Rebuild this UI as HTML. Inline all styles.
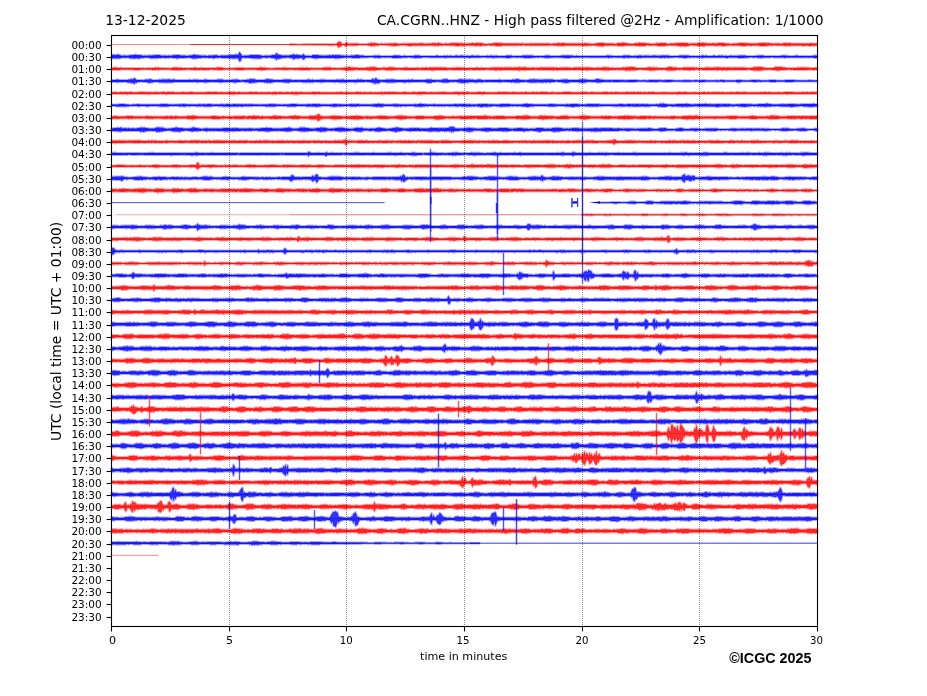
<!DOCTYPE html>
<html><head><meta charset="utf-8"><title>CA.CGRN..HNZ dayplot 13-12-2025</title>
<style>html,body{margin:0;padding:0;background:#fff;width:927px;height:696px;overflow:hidden}svg{display:block;will-change:transform}
text{font-family:'DejaVu Sans',sans-serif;fill:#000;font-variant-ligatures:none;font-feature-settings:'liga' 0,'clig' 0}</style></head><body>
<svg width="927" height="696" viewBox="0 0 927 696">
<rect width="927" height="696" fill="#fff"/>
<g transform="scale(0.5)" stroke-width="4" stroke-opacity="0.33" stroke-linejoin="round">
<path fill="#ff0000" fill-opacity="0.8" stroke="#ff0000" d="M580 89l2-1l2 0l2 0l2 0l2 0l2 1l2 0l2 0l2-1l2 1l2 0l2 0l2-1l2 1l2-1l2 1l2-1l2 1l2-1l2 0l2 0l2 0l2 0l2 0l2 0l2 0l2 0l2 0l2 0l2 0l2 0l2 0l2 0l2 0l2 0l2 0l2 0l2 0l2 0l2 0l2 0l2 0l2 0l2 0l2 0l2 0l2-1l2-2l2-2l2 1l2 1l2 3l2 0l2 0l2 0l2-3l2 0l2 3l2-1l2 1l2-1l2 1l2-1l2 0l2 0l2 0l2 0l2 0l2 1l2 0l2 0l2 0l2 0l2 0l2 0l2 0l2 0l2-1l2 0l2 0l2-1l2 0l2 1l2-1l2 0l2 1l2 0l2 0l2 1l2 0l2-1l2 0l2 1l2 0l2-1l2 0l2 1l2-1l2 0l2 0l2 0l2 0l2 0l2 0l2-1l2 1l2 0l2 0l2 1l2 0l2-1l2 1l2-1l2 0l2 1l2-1l2 0l2 0l2 0l2 0l2 0l2 0l2 0l2 0l2 0l2 0l2 0l2 0l2 0l2 0l2-1l2 1l2 0l2 0l2 1l2-1l2 1l2-1l2 0l2 0l2 0l2 0l2-1l2 1l2-1l2 1l2 0l2-1l2 0l2 1l2 0l2 0l2 1l2 0l2-1l2 0l2 0l2 1l2-1l2 0l2 0l2-1l2 0l2 1l2-1l2 1l2-1l2 0l2 1l2 0l2-1l2 1l2 0l2 0l2 0l2 1l2-1l2 0l2 0l2 0l2 0l2-1l2 0l2 1l2 0l2-1l2 0l2 0l2 1l2-1l2 0l2 1l2 0l2 1l2 0l2 0l2 0l2 0l2-1l2 1l2-1l2 0l2 0l2-1l2 0l2 0l2 0l2 0l2 0l2 1l2-1l2 0l2 1l2 0l2 0l2 0l2 0l2 0l2 0l2 0l2 0l2 0l2 0l2 0l2 0l2 0l2 0l2 0l2 0l2 0l2 0l2 0l2 0l2 1l2-1l2 1l2-1l2 1l2-1l2 0l2 0l2 0l2 0l2 0l2 0l2 0l2 0l2 0l2 0l2 0l2 0l2 0l2 0l2 0l2 0l2 0l2 0l2 0l2 0l2 0l2 1l2 0l2-1l2 0l2 0l2 0l2 0l2-1l2 0l2 1l2 0l2-1l2 0l2 0l2 1l2 0l2 0l2 0l2 0l2 0l2 0l2 0l2 0l2 0l2 0l2 0l2 0l2 0l2 0l2 0l2 0l2 0l2 0l2 0l2-1l2 1l2 0l2 0l2 1l2-1l2 1l2 0l2 0l2 0l2-1l2 0l2 0l2-1l2 0l2 0l2 0l2 0l2 0l2 0l2 1l2 0l2 0l2 0l2 0l2 0l2 0l2 0l2 0l2 1l2 0l2 0l2-1l2-1l2 0l2 1l2-1l2 0l2-1l2 1l2 0l2 0l2 1l2 0l2 1l2-1l2 1l2 0l2 0l2-1l2 0l2-1l2 1l2 0l2-2l2 1l2 0l2 0l2 0l2 0l2 0l2 1l2 0l2 0l2 0l2 0l2 1l2 0l2 0l2-1l2 1l2-1l2-1l2 1l2 0l2-1l2 0l2 0l2 0l2 0l2 0l2 1l2 0l2 1l2 0l2-1l2 0l2 0l2 0l2 0l2 0l2-1l2 1l2-1l2 0l2 0l2 0l2 0l2 0l2 0l2 0l2 0l2 0l2 1l2 0l2 1l2-1l2 0l2 0l2 0l2 0l2 0l2 0l2-1l2 0l2 0l2 0l2 0l2-1l2 1l2 1l2-1l2 1l2 0l2 0l2 0l2 0l2 0l2-1l2 1l2 0l2 0l2 0l2-1l2 0l2 0l2 0l2 0l2 0l2 0l2 1l2 0l2 0l2 0l2 0l2 1l2 0l2 0l2-1l2 0l2 0l2 0l2 0l2 0l2-1l2 0l2 0l2 0l2 0l2 0l2 0l2 1l2 0l2-1l2 1l2 0l2 0l2 0l2 0l2 0l2 0l2 0l2 0l2 0l2-1l2 1l2-1l2 0l2 0l2 0l2 0l2 0l2 1l2-1l2 0l2 1l2 0l2 0l2 0l2 1l2-1l2 0l2 0l2 0l2 0l2 0l2 1l2-1l2 0l2-1l2 0l2 1l2-1l2 1l2-1l2 0l2 1l2 0l2 0l2 0l2 0l2 0l2 0l2 0l2 0l2 0l2 0l2 0l2 0l2 0l2 0l2 0l2 0l2 0l2 0l2 0l2-1l2 1l2 0l2 0l2 0l2 0l2 0l0 4l-2 0l-2 0l-2 1l-2-1l-2 0l-2 1l-2 0l-2 0l-2-1l-2 0l-2 0l-2 0l-2 1l-2 0l-2-1l-2 0l-2 0l-2 0l-2 0l-2 0l-2 0l-2 0l-2 0l-2 0l-2 0l-2 0l-2 1l-2-1l-2 0l-2 1l-2-1l-2 1l-2-1l-2 0l-2 0l-2 0l-2 0l-2 0l-2 0l-2 0l-2 0l-2-1l-2 0l-2 1l-2 0l-2 0l-2 0l-2 0l-2 0l-2 1l-2-1l-2 1l-2 0l-2 0l-2 0l-2 0l-2 0l-2-1l-2 0l-2 0l-2 0l-2 0l-2 0l-2 0l-2 0l-2 1l-2-1l-2 0l-2 0l-2 0l-2 1l-2 0l-2 0l-2 0l-2 0l-2 0l-2-1l-2 0l-2 0l-2 0l-2 0l-2 0l-2 0l-2 0l-2 0l-2 0l-2-1l-2 1l-2 0l-2 0l-2 0l-2 1l-2 0l-2 0l-2 0l-2-1l-2 0l-2 0l-2 0l-2 1l-2-1l-2 1l-2-1l-2 0l-2 0l-2 0l-2 0l-2 0l-2 0l-2 0l-2 0l-2 0l-2 2l-2-1l-2 0l-2 0l-2 0l-2 0l-2 0l-2-1l-2 0l-2 0l-2 0l-2 0l-2-1l-2 0l-2 1l-2 0l-2 1l-2 0l-2 0l-2 1l-2-1l-2 0l-2 0l-2 1l-2-1l-2 0l-2 0l-2-1l-2 0l-2 0l-2 0l-2 0l-2 0l-2 0l-2-1l-2 0l-2 1l-2 0l-2 0l-2 1l-2 0l-2 0l-2 0l-2 0l-2 0l-2 0l-2 0l-2-1l-2 0l-2 0l-2-1l-2 1l-2 0l-2 0l-2 0l-2 0l-2-1l-2 0l-2 1l-2 1l-2 0l-2 0l-2 0l-2 0l-2 0l-2 0l-2 0l-2-1l-2 1l-2-1l-2 0l-2 0l-2 0l-2 0l-2 0l-2 0l-2 0l-2 0l-2 0l-2 0l-2 1l-2 0l-2-1l-2 1l-2 0l-2 0l-2 0l-2-1l-2 0l-2 0l-2 0l-2 0l-2 0l-2-1l-2 1l-2 0l-2 0l-2 0l-2 0l-2 0l-2 1l-2 0l-2 1l-2-1l-2 0l-2 0l-2-1l-2 1l-2-1l-2 0l-2 0l-2-1l-2 1l-2 0l-2 0l-2 0l-2 0l-2 1l-2-1l-2 0l-2 1l-2 0l-2-1l-2 0l-2 0l-2 0l-2 0l-2 0l-2 0l-2 0l-2 0l-2 0l-2 0l-2 0l-2 0l-2 0l-2 0l-2 0l-2 0l-2 0l-2 1l-2-1l-2 1l-2 0l-2-1l-2 0l-2 1l-2-1l-2 0l-2 0l-2 0l-2-1l-2 1l-2-1l-2 1l-2-1l-2 1l-2 0l-2 0l-2 0l-2 0l-2 0l-2 0l-2 0l-2 0l-2 0l-2 0l-2 0l-2 0l-2 0l-2 0l-2 0l-2 0l-2 0l-2 0l-2 0l-2-1l-2 1l-2 0l-2 0l-2-1l-2 0l-2 1l-2 0l-2 0l-2-1l-2 1l-2 0l-2 0l-2 0l-2 0l-2 0l-2 0l-2 0l-2 0l-2 0l-2 0l-2 0l-2 0l-2 0l-2 0l-2 0l-2 0l-2 1l-2 0l-2 0l-2 0l-2 0l-2 0l-2-1l-2 0l-2 0l-2 0l-2 0l-2 0l-2-1l-2 0l-2 1l-2 0l-2 0l-2 0l-2 0l-2 0l-2 1l-2 0l-2-1l-2 0l-2 1l-2-1l-2 1l-2-1l-2 0l-2 0l-2 0l-2 0l-2 0l-2 0l-2 0l-2 0l-2 0l-2 0l-2 1l-2 0l-2-1l-2 0l-2 1l-2 0l-2 0l-2 0l-2-1l-2 0l-2 0l-2 0l-2 0l-2 0l-2 0l-2-1l-2 1l-2 0l-2-1l-2 0l-2 1l-2 0l-2 0l-2 0l-2 0l-2 1l-2-1l-2 0l-2 1l-2-1l-2 0l-2 0l-2 0l-2-1l-2 1l-2 0l-2 0l-2 0l-2 0l-2 0l-2 0l-2 0l-2 0l-2 0l-2 0l-2 0l-2 0l-2 0l-2 0l-2 0l-2 0l-2 0l-2 1l-2 0l-2 0l-2-1l-2 0l-2 0l-2-1l-2 0l-2 0l-2 1l-2-1l-2 0l-2 1l-2 0l-2 0l-2 1l-2 0l-2 0l-2-1l-2 1l-2-1l-2 0l-2 0l-2-1l-2 1l-2-1l-2 0l-2 0l-2 0l-2 0l-2 0l-2 0l-2 0l-2 1l-2 0l-2 0l-2 0l-2 1l-2-1l-2 1l-2 0l-2-1l-2 0l-2 0l-2-1l-2 0l-2 0l-2 0l-2 0l-2 0l-2 0l-2 0l-2 0l-2 0l-2 1l-2 0l-2 0l-2 0l-2 0l-2 0l-2 0l-2 0l-2-1l-2 1l-2 0l-2 2l-2-1l-2-2l-2 0l-2 0l-2 3l-2-1l-2 3l-2-1l-2-4l-2 0l-2 0l-2 0l-2 1l-2-1l-2 1l-2-1l-2 1l-2-1l-2 0l-2 0l-2 0l-2 0l-2 0l-2 0l-2 0l-2 0l-2 0l-2 0l-2 0l-2 0l-2 0l-2 0l-2 0l-2 0l-2-1l-2 1l-2-1l-2 1l-2 0l-2 0l-2 0l-2-1l-2 1l-2 0l-2 0l-2-1l-2 0l-2 1l-2 0l-2 0l-2-1l-2 1l-2 0l-2-1l-2 1l-2 0z"/>
<path fill="#0000ff" fill-opacity="0.8" stroke="#0000ff" d="M223 111l2-1l2-1l2 1l2 0l2 0l2-1l2 0l2 1l2 1l2 0l2 1l2-1l2 0l2 0l2 1l2-1l2 0l2 0l2-1l2 1l2-1l2 0l2 0l2-1l2 1l2 0l2 0l2 0l2 0l2 1l2 0l2 1l2-1l2 0l2 1l2-1l2 0l2 0l2 0l2 0l2 0l2-1l2 1l2-1l2 0l2 0l2 0l2 0l2 1l2 0l2 1l2-1l2 0l2 1l2-1l2 1l2-1l2 0l2 1l2-1l2 0l2-1l2 1l2-1l2 0l2 0l2 0l2 0l2 1l2 0l2 0l2 0l2 0l2 0l2 1l2 0l2-1l2 0l2 0l2 0l2-1l2 0l2-1l2 1l2 0l2 1l2-1l2 1l2 0l2 0l2 1l2-1l2 0l2 0l2 1l2 0l2-1l2 0l2 0l2 0l2 0l2 0l2-1l2 1l2-1l2 1l2 1l2 0l2-1l2 0l2 0l2 0l2 0l2 0l2 0l2 0l2-1l2 1l2-1l2 0l2 0l2 0l2 0l2-1l2 0l2 1l2-1l2-5l2 3l2 3l2 2l2 0l2-1l2 0l2 1l2-1l2 0l2 0l2-1l2 0l2 0l2 0l2 0l2 0l2 0l2 0l2 0l2 0l2 1l2 0l2 1l2 0l2-1l2 1l2-1l2 0l2 1l2-1l2 0l2 0l2-1l2 0l2 0l2-1l2-3l2 3l2 0l2 1l2 0l2 1l2 0l2 0l2 0l2 0l2 0l2 0l2 0l2 0l2-1l2 0l2 0l2-2l2 2l2 0l2-1l2 1l2 0l2 0l2 1l2 0l2-1l2-2l2 3l2 0l2 1l2 0l2-1l2 1l2 0l2 0l2-2l2 0l2 0l2 0l2 0l2 0l2 0l2 1l2 0l2 0l2 0l2 0l2 1l2-1l2 0l2 0l2 0l2-1l2 1l2 0l2-1l2 0l2 1l2-1l2 0l2 1l2-1l2 0l2 1l2 0l2 0l2 0l2 1l2-1l2 0l2 0l2 1l2 0l2-1l2 0l2 0l2 0l2 0l2-1l2 0l2 0l2 0l2 1l2 0l2 0l2 0l2 0l2 1l2 0l2 0l2 0l2 0l2 0l2 0l2 0l2 0l2-1l2 1l2-1l2 0l2 1l2-1l2 0l2 1l2 0l2 0l2 0l2 0l2 0l2 0l2 0l2 0l2 0l2 0l2 0l2 0l2-1l2 0l2 0l2 0l2 0l2 0l2 0l2 1l2 0l2 0l2 0l2-1l2 1l2 0l2 0l2 0l2 0l2 0l2 0l2 0l2 0l2-1l2 0l2 0l2 0l2 0l2 0l2 1l2 0l2 0l2 0l2 0l2 0l2 0l2 0l2 0l2 0l2 0l2 0l2 0l2 0l2 0l2 0l2-1l2 0l2 1l2 0l2 0l2 0l2 0l2 0l2-1l2 1l2 0l2-1l2 1l2 0l2-1l2 1l2 0l2 0l2 0l2-1l2 0l2 0l2 1l2 0l2-1l2 0l2 0l2 1l2 0l2 0l2 0l2-1l2 1l2 0l2 0l2-1l2 0l2 0l2 1l2 0l2-1l2 1l2-1l2 1l2 0l2 0l2 0l2 0l2 0l2 0l2 0l2-1l2 1l2 0l2-1l2 0l2 1l2 0l2-1l2 1l2-1l2 1l2 0l2 0l2 0l2 0l2 0l2 0l2 0l2 0l2-1l2 0l2 0l2 0l2 0l2 0l2 1l2 0l2 0l2 0l2 0l2 0l2 0l2 0l2 0l2 0l2-1l2 0l2 0l2 0l2 0l2 0l2 0l2 0l2 0l2 0l2 0l2 1l2 0l2 0l2 0l2 0l2 0l2 0l2 0l2 0l2 0l2 0l2 0l2-1l2 0l2 0l2 0l2 0l2 1l2 0l2 0l2 0l2 0l2 0l2 0l2 0l2 0l2 0l2 0l2-1l2 0l2 0l2 0l2 0l2 0l2 0l2 0l2 0l2 0l2 0l2 0l2 1l2 0l2 0l2-1l2 1l2 0l2 0l2 0l2 0l2 0l2 0l2 0l2 0l2 0l2 0l2 0l2 0l2 0l2 0l2 0l2 0l2 0l2 0l2 0l2 0l2 0l2 0l2 0l2 0l2 0l2 0l2 0l2 0l2-1l2 0l2 0l2 0l2 1l2-1l2 1l2 0l2 0l2 0l2 0l2 0l2 0l2 0l2 0l2 0l2 0l2-1l2 0l2 0l2 0l2 0l2 0l2 0l2 1l2 0l2 0l2 0l2 0l2-1l2 1l2 0l2-1l2 0l2 0l2 0l2 1l2 0l2-1l2 0l2 1l2-1l2 1l2-1l2 1l2 0l2-1l2 0l2 0l2 0l2 1l2-1l2 1l2-1l2 1l2-1l2 0l2 0l2 0l2 0l2 0l2 0l2 0l2 1l2 0l2 0l2 0l2 0l2 0l2 0l2 0l2 0l2 0l2-1l2 0l2 0l2 0l2 0l2 0l2 0l2 0l2 0l2 0l2 1l2 0l2 0l2 0l2 0l2 0l2 0l2 0l2 0l2 0l2 0l2 0l2-1l2 0l2 0l2 1l2-1l2 0l2 1l2 0l2 0l2 0l2 0l2 0l2-1l2 0l2 1l2 0l2 0l2-1l2 0l2 1l2-1l2 0l2 1l2 0l2-1l2 1l2 0l2 0l2 0l2-1l2 0l2 1l2 0l2-1l2 1l2 0l2-1l2 1l2-1l2 0l2 0l2 0l2 0l2 0l2 0l2 1l2 0l2 0l2 0l2 0l2 0l2 0l2 0l2 0l2 0l2-1l2 1l2-1l2 0l2 0l2 0l2 0l2 0l2 1l2 0l2 0l2 0l2 0l2 0l2 0l2 0l2 0l2 0l2 0l2 0l2 0l2 0l2 0l2 0l2 0l2-1l2 0l2 0l2 0l2 0l2 1l2-1l2 1l2 0l2 0l2 0l2 0l2 0l2 0l2-1l2 0l2 0l2 1l2 0l2 0l2 0l2 0l2 0l2 0l2 0l2 0l2 0l2 0l2 0l2 0l2 0l2 0l2-1l2 0l2 0l2 0l2 0l0 4l-2 1l-2 0l-2 0l-2-1l-2 0l-2 0l-2 0l-2 0l-2 0l-2 0l-2-1l-2 1l-2 0l-2 0l-2 0l-2 0l-2 0l-2 0l-2 0l-2 0l-2 0l-2 0l-2 0l-2 0l-2 0l-2 0l-2 0l-2 0l-2 0l-2 0l-2 0l-2 0l-2 1l-2-1l-2 0l-2 0l-2 0l-2 0l-2 0l-2 0l-2 0l-2 0l-2 0l-2 0l-2-1l-2 0l-2 1l-2 0l-2 0l-2 0l-2 0l-2 0l-2 0l-2 0l-2 1l-2-1l-2 1l-2-1l-2 1l-2-1l-2 0l-2-1l-2 1l-2 0l-2 0l-2-1l-2 0l-2 1l-2 0l-2 0l-2 0l-2 1l-2-1l-2 1l-2 0l-2 0l-2 0l-2 0l-2 0l-2-1l-2 0l-2 0l-2 0l-2 0l-2 0l-2 0l-2 0l-2 0l-2 0l-2 1l-2 0l-2-1l-2 0l-2 0l-2 0l-2 0l-2 0l-2 0l-2 0l-2 0l-2 0l-2 0l-2 0l-2 0l-2 0l-2 0l-2 0l-2 0l-2 0l-2 0l-2 0l-2 0l-2 0l-2 0l-2 1l-2-1l-2 0l-2 0l-2 0l-2 0l-2 0l-2-1l-2 1l-2 0l-2-1l-2 1l-2 0l-2 0l-2 0l-2 0l-2 1l-2 0l-2 0l-2 0l-2-1l-2 0l-2 0l-2 0l-2 0l-2-1l-2 0l-2 1l-2-1l-2 1l-2 0l-2 0l-2 0l-2 0l-2 1l-2-1l-2 0l-2 0l-2 1l-2-1l-2 0l-2 1l-2 0l-2-1l-2 0l-2 0l-2 0l-2 0l-2 0l-2 0l-2 0l-2 0l-2 0l-2 0l-2 0l-2 0l-2 0l-2 0l-2 0l-2 0l-2 0l-2 0l-2 1l-2-1l-2 1l-2 0l-2-1l-2 0l-2 0l-2 0l-2 0l-2 0l-2 0l-2 0l-2 1l-2-1l-2 0l-2 0l-2 1l-2 0l-2-1l-2 0l-2 0l-2 0l-2 0l-2 0l-2 0l-2 0l-2-1l-2 1l-2 0l-2 0l-2 0l-2 0l-2 1l-2-1l-2 0l-2 0l-2 0l-2 0l-2 0l-2 0l-2 0l-2 0l-2 0l-2 0l-2 0l-2 0l-2 0l-2 0l-2 0l-2 0l-2 0l-2 0l-2 0l-2-1l-2 1l-2-1l-2 1l-2 0l-2 0l-2 0l-2-1l-2 1l-2 0l-2 0l-2 0l-2 0l-2 0l-2 0l-2 0l-2 0l-2 0l-2 1l-2 0l-2 0l-2 0l-2 0l-2-1l-2 1l-2-1l-2 0l-2 0l-2 0l-2 0l-2-1l-2 1l-2-1l-2 1l-2 0l-2 0l-2 0l-2 0l-2 1l-2-1l-2 1l-2-1l-2 1l-2-1l-2 0l-2-1l-2 1l-2-1l-2 0l-2 1l-2 0l-2-1l-2 1l-2 0l-2 0l-2 0l-2 1l-2-1l-2 1l-2 0l-2-1l-2 1l-2 0l-2 0l-2-1l-2 0l-2 0l-2 0l-2-1l-2 1l-2 0l-2 0l-2 0l-2-1l-2 0l-2 1l-2 0l-2 0l-2 1l-2 0l-2 0l-2 0l-2-1l-2 0l-2 0l-2 0l-2 0l-2-1l-2 1l-2 0l-2 0l-2 0l-2 0l-2 0l-2 1l-2-1l-2 0l-2 0l-2 0l-2 0l-2 0l-2 0l-2 0l-2-1l-2 0l-2 1l-2-1l-2 1l-2 0l-2 0l-2 0l-2 0l-2 0l-2 0l-2 0l-2 0l-2 0l-2 0l-2 1l-2-1l-2 0l-2 0l-2 0l-2 0l-2 0l-2 0l-2 0l-2 0l-2 0l-2 0l-2 0l-2 0l-2 0l-2 0l-2 0l-2 0l-2 0l-2 0l-2 0l-2 0l-2 0l-2 0l-2 1l-2-1l-2 0l-2 0l-2 0l-2 0l-2 0l-2 0l-2 0l-2 0l-2 0l-2 0l-2 0l-2 0l-2 0l-2 0l-2 0l-2 0l-2-1l-2 0l-2 1l-2-1l-2 0l-2 1l-2 0l-2 1l-2-1l-2 1l-2-1l-2 1l-2 0l-2 0l-2-1l-2 0l-2 0l-2 0l-2-1l-2 0l-2 1l-2 0l-2 0l-2 0l-2 0l-2 0l-2 0l-2 1l-2-1l-2 1l-2 0l-2 0l-2 0l-2 0l-2 0l-2 0l-2-1l-2-1l-2 1l-2-1l-2 1l-2-1l-2 1l-2 0l-2-1l-2 1l-2 0l-2 0l-2 1l-2 0l-2-1l-2 0l-2 1l-2-1l-2 0l-2-1l-2 0l-2 0l-2 1l-2-1l-2 1l-2 0l-2 0l-2 0l-2 0l-2 0l-2 0l-2 0l-2 1l-2 0l-2 0l-2 0l-2 0l-2 0l-2 0l-2 0l-2-1l-2 0l-2 0l-2 0l-2 0l-2 0l-2 0l-2 0l-2 0l-2 1l-2 0l-2 0l-2 0l-2 1l-2-1l-2 1l-2 0l-2-1l-2 0l-2 0l-2 0l-2 0l-2 0l-2 0l-2 0l-2 0l-2 0l-2 0l-2-1l-2 1l-2 0l-2 0l-2 0l-2 0l-2 1l-2-1l-2 1l-2 0l-2-1l-2 0l-2-1l-2 0l-2 0l-2 0l-2 0l-2 0l-2 0l-2 3l-2 1l-2-1l-2-3l-2 1l-2 0l-2 1l-2 0l-2-1l-2 1l-2 0l-2 2l-2-3l-2 0l-2 0l-2-1l-2 0l-2 0l-2 0l-2 0l-2 1l-2-1l-2 1l-2 0l-2 1l-2 0l-2 1l-2-1l-2 3l-2-3l-2 0l-2-1l-2 0l-2 0l-2-1l-2 0l-2 0l-2 0l-2 1l-2-1l-2 0l-2 0l-2 0l-2 1l-2 1l-2 0l-2 0l-2 0l-2 0l-2 0l-2 0l-2-1l-2 1l-2-1l-2 0l-2 0l-2-1l-2 0l-2 1l-2 0l-2-1l-2 0l-2 0l-2 2l-2 5l-2 1l-2-6l-2 0l-2-1l-2 1l-2 0l-2 0l-2 0l-2-1l-2 1l-2 0l-2-1l-2 0l-2 0l-2 0l-2 0l-2 0l-2 0l-2 0l-2-1l-2 0l-2 0l-2 1l-2-1l-2 1l-2 0l-2 1l-2-1l-2-1l-2 1l-2 0l-2 0l-2-1l-2 0l-2 1l-2-1l-2 0l-2 0l-2 1l-2 0l-2 0l-2 0l-2 0l-2 1l-2 0l-2 0l-2 0l-2 0l-2-1l-2 0l-2-1l-2 0l-2 0l-2 1l-2-1l-2 1l-2 0l-2 0l-2 0l-2 0l-2 0l-2 0l-2 1l-2 0l-2-1l-2 0l-2 0l-2 0l-2-1l-2 0l-2 0l-2 1l-2-1l-2 1l-2 0l-2 0l-2-1l-2 0l-2 1l-2 0l-2 0l-2 0l-2 0l-2 1l-2-1l-2 0l-2 1l-2-1l-2 1l-2-1l-2 0l-2-1l-2 0l-2 0l-2 0l-2 0l-2 1l-2-1l-2 1l-2 0l-2 1l-2 0l-2 0l-2-1l-2 1l-2 0l-2 0l-2 0l-2-1l-2 1l-2-1l-2-1l-2 0l-2 0l-2 1l-2-1l-2 0l-2 0l-2 1l-2 0l-2 1l-2 0l-2-1l-2 1l-2 0l-2-1l-2 1l-2 0l-2 0z"/>
<path fill="#ff0000" fill-opacity="0.8" stroke="#ff0000" d="M223 136l2 0l2-1l2 0l2 0l2 0l2 1l2 0l2 0l2-1l2 1l2 0l2 0l2 0l2 0l2 0l2 0l2 0l2 0l2 0l2 0l2 0l2 0l2 0l2 0l2 0l2 0l2 0l2 0l2 0l2 0l2 0l2 0l2 1l2 0l2-1l2 0l2 0l2 0l2 0l2 0l2 0l2 0l2 0l2-1l2 1l2-1l2 0l2 1l2 0l2 0l2 0l2 0l2 0l2 0l2 1l2-1l2 0l2 1l2 0l2-1l2 0l2-1l2 0l2 0l2 0l2 0l2 1l2 0l2-1l2 1l2 0l2 0l2 0l2 0l2 0l2 0l2 1l2-1l2 0l2 0l2 0l2 0l2-1l2 0l2 1l2 0l2 0l2 0l2 0l2-1l2 1l2 0l2 0l2 0l2 0l2 0l2 0l2 0l2 0l2 0l2 0l2 0l2 0l2 0l2-1l2 0l2 0l2 0l2 0l2 0l2 1l2 0l2 0l2 1l2 0l2 0l2 0l2-1l2 0l2 1l2 0l2-1l2 0l2 0l2 0l2 0l2-1l2 1l2 0l2-1l2 1l2 0l2 0l2 1l2-1l2 1l2-1l2 0l2 0l2 0l2 0l2 1l2-1l2 0l2 0l2 0l2 0l2-1l2 0l2 0l2 0l2 1l2-1l2 1l2 0l2 0l2 0l2 1l2 0l2 0l2 0l2 0l2-1l2 0l2 0l2 0l2 0l2 0l2 0l2 0l2 0l2-1l2 1l2-1l2 1l2 0l2 0l2 0l2 0l2 0l2 1l2-1l2 0l2 0l2 0l2 0l2 0l2 0l2-1l2 1l2-1l2 1l2 0l2 0l2-1l2 1l2 0l2 0l2 0l2 0l2 0l2 1l2-1l2 1l2-1l2 1l2-1l2 0l2 1l2-1l2 0l2 0l2-1l2 0l2 0l2 0l2 0l2 0l2 0l2 1l2 0l2 0l2 0l2 0l2 0l2 1l2 0l2-1l2 0l2 0l2 0l2 0l2-1l2 1l2-1l2 0l2-1l2 0l2 1l2 0l2 0l2 0l2 1l2-1l2 0l2 1l2 0l2 0l2 0l2 0l2 0l2 0l2 0l2 0l2-1l2 0l2 0l2 0l2-1l2 1l2-1l2 1l2-1l2 1l2 0l2 1l2 0l2 0l2 0l2 0l2 0l2-1l2 0l2 1l2 0l2-1l2 0l2 0l2-1l2 1l2 0l2 0l2 0l2 1l2 0l2 0l2 0l2 0l2 0l2 0l2 0l2 0l2-1l2 0l2 1l2-1l2 1l2 0l2 0l2 0l2 0l2 0l2 0l2 0l2 0l2-1l2 1l2 0l2 0l2 0l2-1l2 1l2 0l2-1l2 0l2 1l2 0l2-1l2 0l2 0l2 0l2 0l2 0l2 0l2 0l2 0l2 0l2 0l2 0l2 0l2 0l2 1l2-1l2 0l2 1l2 0l2 0l2 0l2 0l2 0l2 0l2-1l2 1l2 0l2-1l2 0l2 1l2-1l2 0l2 1l2 0l2-1l2 1l2 0l2 0l2 0l2 0l2 0l2 0l2 0l2 0l2 0l2 0l2 0l2-1l2 0l2 1l2 0l2 0l2-1l2 1l2 0l2 0l2 0l2 0l2 0l2 0l2 0l2 0l2-1l2 1l2-1l2 0l2 0l2 0l2 0l2 0l2 0l2 0l2 0l2 0l2 1l2-1l2 0l2 0l2 0l2 0l2 0l2 0l2 0l2 1l2-1l2 0l2 0l2 0l2 0l2 0l2-1l2 1l2 0l2 0l2 0l2-1l2 1l2 0l2 1l2 0l2-1l2 1l2 0l2-1l2 0l2 1l2 0l2-1l2 1l2 0l2-1l2 0l2 0l2 0l2 0l2 0l2 0l2 0l2 0l2 0l2 1l2-1l2 0l2 0l2 0l2 0l2 1l2-1l2 1l2 0l2 0l2-1l2 1l2-1l2 0l2 0l2 0l2 0l2 0l2 1l2-1l2 1l2 0l2 0l2 0l2-1l2 0l2 0l2 0l2 0l2 0l2 0l2 1l2-1l2 0l2 0l2 0l2 0l2 0l2 0l2 0l2 1l2-1l2 1l2 0l2 0l2 0l2 0l2-1l2 0l2 1l2 0l2-1l2 0l2 0l2-1l2 1l2 0l2 0l2 0l2 0l2 1l2 0l2-1l2 1l2 0l2 0l2 0l2 0l2 0l2 0l2 0l2 0l2-1l2 0l2 0l2 0l2 0l2-1l2 1l2-1l2 0l2 0l2 0l2 0l2 1l2 0l2 1l2 0l2 0l2 0l2 0l2 0l2 0l2 0l2 0l2 0l2 0l2-1l2 0l2-1l2 1l2 0l2 0l2 0l2 0l2 1l2-1l2 1l2 0l2 0l2 0l2 0l2 0l2 0l2 0l2 0l2 0l2-1l2-1l2 0l2 0l2 0l2 1l2 0l2 0l2 0l2 0l2 1l2 0l2 0l2 0l2 0l2 0l2-1l2 0l2 0l2 0l2 0l2 0l2 0l2 0l2 0l2 0l2 0l2 0l2 1l2-1l2 1l2 0l2 0l2 0l2 0l2 0l2 0l2 0l2-1l2 0l2 0l2 0l2 0l2 1l2-1l2 1l2-1l2 0l2 0l2 0l2-1l2 1l2 0l2 0l2 0l2 0l2 0l2 0l2 1l2-1l2 0l2 0l2 0l2 1l2-1l2 0l2 1l2-1l2 0l2 0l2 1l2-1l2 0l2 0l2 0l2 0l2 0l2 1l2-1l2 1l2 0l2 0l2 0l2 0l2 0l2-1l2 0l2-1l2 0l2 1l2-1l2 0l2 0l2 0l2 0l2 1l2 0l2 0l2 1l2 0l2 0l2 0l2 0l2 0l2 0l2 0l2 0l2-1l2-1l2 0l2 0l2 0l2 0l2 0l2 0l2 1l2 0l2 0l2 0l2 1l2 0l2 0l2 0l2 0l2 0l2 0l2 0l2 0l2 0l2 0l2-1l2 0l2 1l2-1l2 0l2 0l2 0l2 0l2 0l2 0l2 1l2-1l2 1l2 0l2 0l2 0l2 0l2 0l2-1l2 1l2 0l0 4l-2 0l-2-1l-2 1l-2 0l-2 0l-2-1l-2 0l-2 1l-2-1l-2 1l-2 0l-2 0l-2 0l-2 0l-2 0l-2 0l-2 0l-2 0l-2 0l-2 0l-2 0l-2 0l-2 0l-2 0l-2-1l-2 1l-2-1l-2 0l-2 0l-2 0l-2 1l-2-1l-2 1l-2 0l-2 0l-2 0l-2 0l-2 1l-2 0l-2 0l-2 0l-2-1l-2 0l-2 0l-2 0l-2-1l-2 0l-2 0l-2 0l-2 0l-2 1l-2-1l-2 0l-2 1l-2 0l-2 1l-2 0l-2 0l-2 0l-2 0l-2 0l-2 0l-2 0l-2 0l-2-1l-2 0l-2 0l-2-1l-2 0l-2 0l-2 1l-2 0l-2 0l-2 0l-2 0l-2 0l-2 0l-2 0l-2 0l-2 0l-2 0l-2 0l-2 0l-2 0l-2-1l-2 1l-2 0l-2 0l-2 0l-2 0l-2 1l-2-1l-2 0l-2 0l-2 1l-2-1l-2 0l-2 0l-2 0l-2 1l-2-1l-2 0l-2 0l-2 0l-2 0l-2 0l-2 0l-2 0l-2 0l-2 0l-2 0l-2 0l-2 0l-2 0l-2 0l-2-1l-2 0l-2 1l-2 0l-2-1l-2 0l-2 0l-2 1l-2 0l-2 0l-2 0l-2 0l-2 1l-2-1l-2 0l-2 0l-2 0l-2 0l-2 0l-2-1l-2 0l-2 0l-2 1l-2-1l-2 0l-2 1l-2 0l-2 1l-2 0l-2 0l-2 0l-2 0l-2 0l-2 0l-2 0l-2-1l-2 0l-2-1l-2 0l-2 0l-2 1l-2-1l-2 0l-2 1l-2 0l-2-1l-2 1l-2 1l-2-1l-2 1l-2 0l-2 0l-2 0l-2-1l-2 0l-2 0l-2 0l-2-1l-2 1l-2-1l-2 0l-2 0l-2 0l-2 0l-2 1l-2 0l-2 0l-2 1l-2-1l-2 1l-2-1l-2 1l-2 0l-2-1l-2 1l-2 0l-2 0l-2-1l-2 0l-2-1l-2 1l-2 0l-2-1l-2 1l-2-1l-2 0l-2 1l-2 0l-2-1l-2 1l-2 0l-2 0l-2 0l-2 1l-2 0l-2-1l-2 1l-2-1l-2 1l-2-1l-2 0l-2 0l-2 0l-2-1l-2 1l-2 0l-2-1l-2 1l-2 0l-2 0l-2 0l-2 0l-2 0l-2 0l-2 1l-2-1l-2 0l-2 0l-2 0l-2 1l-2-1l-2 0l-2 0l-2 0l-2-1l-2 1l-2 0l-2 0l-2 0l-2 0l-2-1l-2 1l-2 0l-2 0l-2 0l-2 0l-2 0l-2 0l-2 0l-2 0l-2 0l-2 0l-2 0l-2 0l-2 1l-2-1l-2 0l-2 0l-2 1l-2-1l-2 0l-2 0l-2 0l-2 0l-2 0l-2 0l-2 0l-2 0l-2 0l-2 0l-2 0l-2 0l-2 0l-2 0l-2 0l-2-1l-2 0l-2 1l-2-1l-2 1l-2 0l-2 0l-2 0l-2 0l-2 0l-2 0l-2 0l-2 1l-2-1l-2 0l-2 0l-2 0l-2 1l-2 0l-2-1l-2 0l-2 0l-2 0l-2 0l-2 0l-2 0l-2 0l-2 0l-2 0l-2 0l-2 0l-2 0l-2 0l-2 0l-2 0l-2 0l-2 1l-2-1l-2 0l-2 0l-2 1l-2 0l-2-1l-2 0l-2 0l-2 0l-2-1l-2 1l-2-1l-2 0l-2 0l-2 0l-2 1l-2 0l-2 0l-2-1l-2 1l-2 0l-2 0l-2-1l-2 1l-2 0l-2 0l-2 0l-2 0l-2-1l-2 0l-2 1l-2-1l-2 1l-2 0l-2 0l-2 0l-2-1l-2 1l-2 0l-2 0l-2 0l-2 0l-2 0l-2 0l-2 0l-2 0l-2 0l-2 0l-2-1l-2 1l-2-1l-2 0l-2 1l-2 0l-2 0l-2 0l-2 0l-2 0l-2 0l-2 0l-2 0l-2 0l-2 0l-2 0l-2 0l-2 0l-2 1l-2 0l-2 0l-2-1l-2 0l-2 0l-2 0l-2 0l-2 0l-2 0l-2 0l-2 0l-2 0l-2-1l-2 0l-2 1l-2 0l-2-1l-2 1l-2 0l-2 0l-2 0l-2 0l-2 0l-2 0l-2 0l-2 0l-2 0l-2 0l-2 0l-2 0l-2-1l-2 1l-2-1l-2 0l-2 0l-2 0l-2 1l-2-1l-2 1l-2 0l-2 0l-2 1l-2-1l-2 0l-2 1l-2-1l-2 0l-2 0l-2-1l-2 0l-2 0l-2 0l-2 0l-2 1l-2 0l-2 0l-2 0l-2 1l-2 0l-2 0l-2 0l-2-1l-2 1l-2 0l-2 0l-2-1l-2 0l-2 0l-2 0l-2-1l-2 1l-2 0l-2-1l-2 1l-2 0l-2-1l-2 0l-2 0l-2 1l-2 0l-2 1l-2-1l-2 1l-2-1l-2 1l-2 0l-2 0l-2 0l-2-1l-2-1l-2 1l-2-1l-2 0l-2 0l-2 0l-2 0l-2 0l-2 0l-2 0l-2 0l-2 0l-2 0l-2 1l-2 0l-2 0l-2 0l-2 0l-2 0l-2 0l-2 0l-2-1l-2 0l-2 0l-2 0l-2 0l-2 0l-2 0l-2 0l-2 0l-2 0l-2 0l-2 0l-2 0l-2 1l-2 0l-2 0l-2 0l-2 0l-2 0l-2 0l-2 0l-2 0l-2 0l-2-1l-2 1l-2-1l-2 0l-2 0l-2 1l-2-1l-2 0l-2 0l-2 0l-2 0l-2 0l-2 1l-2-1l-2 1l-2-1l-2 1l-2-1l-2 0l-2 0l-2 0l-2 0l-2 0l-2 0l-2 0l-2 0l-2 0l-2 0l-2 0l-2 0l-2 0l-2 0l-2 0l-2 0l-2 1l-2 0l-2 0l-2 0l-2 1l-2-1l-2 0l-2 0l-2 0l-2-1l-2 0l-2 0l-2 0l-2 0l-2 0l-2 0l-2 0l-2 0l-2 0l-2 0l-2 0l-2 0l-2 1l-2 0l-2 0l-2 0l-2 0l-2 0l-2 0l-2 0l-2-1l-2 0l-2 0l-2 0l-2 0l-2 0l-2 0l-2 0l-2 0l-2 0l-2 0l-2 0l-2 0l-2 1l-2 0l-2 0l-2 0l-2 0l-2 0l-2-1l-2 0l-2 1l-2-1l-2 0l-2 0l-2 0l-2 0l-2 1l-2 0l-2-1l-2 1l-2 0l-2 0l-2 0l-2-1l-2 0l-2 1l-2 0l-2-1l-2 1l-2 0l-2 0l-2 0l-2-1l-2 1l-2-1l-2 0l-2 0l-2 0l-2 0l-2 0l-2 1l-2-1l-2 1l-2 0l-2 0l-2 0l-2 0l-2 0l-2 0l-2 0l-2 0l-2 0l-2 0l-2 0l-2-1l-2 0l-2 0l-2 0l-2 0l-2 0l-2 0l-2 0l-2 0l-2 0l-2 0l-2 0l-2 1l-2-1l-2 0l-2 1l-2 0l-2 0l-2 0l-2-1l-2 0l-2 0l-2 0l-2 0l-2 0l-2 0l-2 0l-2 0l-2 0l-2 0l-2 0l-2 1l-2 0l-2 0l-2 0l-2 0l-2 0l-2-1l-2 0l-2 0l-2 0l-2 0l-2 0l-2 0l-2 0l-2 0l-2 0l-2 0l-2 0l-2 0l-2 0l-2 1l-2 0l-2 0l-2 0l-2 0l-2 0l-2 0l-2 0l-2 0z"/>
<path fill="#0000ff" fill-opacity="0.8" stroke="#0000ff" d="M223 160l2 0l2 0l2 0l2 0l2-1l2 0l2 0l2 1l2 0l2 0l2 0l2 0l2 0l2 0l2 0l2 0l2-1l2 0l2 0l2-1l2 1l2-1l2-2l2 2l2 2l2 0l2 0l2 0l2 0l2 0l2 0l2 1l2-1l2-1l2 0l2 0l2 0l2 0l2-1l2 1l2 1l2 0l2 1l2-1l2 0l2 0l2 0l2-1l2 1l2-1l2 0l2 0l2 0l2 0l2 0l2 0l2 0l2-1l2 2l2 0l2-1l2 0l2 0l2 1l2 0l2 0l2 0l2 0l2 0l2 0l2 0l2 0l2 0l2 0l2 0l2 0l2 0l2-1l2 1l2 0l2 0l2-1l2 1l2-1l2 1l2-1l2 1l2 0l2 0l2 0l2 0l2 0l2-1l2 0l2 0l2 1l2 0l2 0l2 0l2 0l2 0l2 0l2 0l2 0l2 0l2-1l2 0l2 0l2 0l2 0l2 0l2 1l2 1l2-1l2 0l2 1l2-1l2 0l2 0l2 0l2-1l2 1l2-1l2 0l2 0l2 0l2 1l2 0l2 1l2 0l2-1l2 0l2 0l2 0l2 0l2-1l2 0l2 0l2-1l2 0l2 1l2-1l2 1l2 0l2 1l2 0l2 0l2 0l2 0l2 0l2 0l2 0l2 0l2-1l2-1l2 1l2-1l2 1l2 0l2 0l2 0l2 1l2 0l2 0l2 0l2 0l2 0l2 0l2 0l2 0l2 0l2-1l2 0l2 0l2 0l2 0l2 0l2 0l2 0l2 1l2 1l2-1l2 0l2 0l2 0l2 0l2 0l2 1l2-1l2 0l2 0l2 0l2 0l2 0l2 0l2-1l2 0l2 0l2 1l2 0l2-1l2 1l2 0l2 0l2 0l2 0l2 0l2 0l2-1l2 1l2-1l2 1l2-1l2 1l2 0l2 0l2 0l2 0l2 0l2 0l2 0l2 0l2 0l2 0l2-1l2 1l2-1l2 1l2-1l2 1l2-1l2 0l2 1l2 0l2 0l2 0l2 0l2 0l2 0l2 0l2 0l2 0l2 0l2 0l2 0l2-1l2 0l2 1l2-1l2 0l2 1l2 0l2 0l2 0l2 0l2 0l2 0l2 0l2 0l2 0l2-3l2 2l2 0l2-3l2 1l2 3l2-1l2 1l2 0l2 1l2-1l2 0l2 0l2 0l2-1l2 0l2 1l2-1l2 0l2 0l2 0l2 0l2 0l2 1l2 0l2 0l2 0l2 0l2 0l2 0l2 0l2 0l2 0l2 0l2 0l2 0l2-1l2 1l2 0l2-1l2 0l2 1l2 0l2 0l2 0l2 0l2 0l2 0l2 0l2 0l2 0l2 0l2 0l2 0l2-1l2 0l2 0l2 0l2 0l2 0l2 1l2 0l2 0l2 1l2-1l2 0l2 1l2-1l2 1l2-1l2-1l2 0l2-1l2 1l2-1l2 1l2 1l2 0l2 0l2 1l2-1l2 0l2 0l2 0l2 0l2 0l2-1l2 0l2-1l2 1l2 0l2 0l2 0l2 0l2 0l2 1l2-1l2 0l2 0l2 1l2-1l2 1l2 0l2 0l2 0l2-1l2 0l2 0l2 0l2 1l2 0l2 1l2 0l2-1l2 0l2 0l2 0l2 0l2 0l2 0l2 0l2 0l2 0l2 0l2 0l2 0l2 0l2-1l2 1l2 0l2 1l2-1l2 0l2 0l2 0l2 0l2 0l2 0l2 0l2 0l2-1l2 0l2 1l2-1l2-1l2 0l2 1l2 0l2 1l2 0l2 0l2 1l2-1l2 1l2 0l2-1l2 0l2-1l2 0l2 0l2 0l2-1l2 1l2 0l2 0l2 0l2 1l2-1l2 1l2-1l2 1l2-1l2 0l2 0l2 0l2 0l2 0l2 0l2 0l2 0l2 0l2 1l2 0l2 0l2 1l2-1l2 0l2 0l2 0l2-1l2 1l2-1l2 0l2 0l2 0l2 0l2 1l2 0l2 0l2 0l2 0l2 0l2 0l2 0l2 0l2 0l2 0l2-1l2 0l2 0l2-1l2 1l2 0l2 0l2 0l2 1l2 0l2 0l2 0l2 0l2 0l2 0l2 0l2-1l2-1l2 0l2 0l2 1l2 0l2 1l2-1l2 1l2 0l2 1l2-1l2 1l2-1l2 1l2-1l2 0l2 1l2-1l2 0l2 0l2 0l2 0l2 0l2 0l2 1l2-1l2 0l2 0l2 1l2 0l2-1l2 1l2-1l2 0l2 0l2 0l2 0l2 0l2 0l2 0l2 0l2 0l2 1l2 0l2 0l2 0l2 0l2 0l2-1l2 1l2 0l2 0l2 0l2-1l2 0l2 0l2 0l2 0l2 1l2-1l2 0l2 0l2 1l2-1l2 1l2-1l2 1l2 0l2 0l2-1l2 0l2 0l2 0l2 0l2 0l2 0l2 0l2 1l2 0l2 0l2 0l2 0l2 0l2 0l2 0l2 0l2 0l2 0l2-1l2 1l2-1l2 1l2 0l2-1l2 1l2 0l2 0l2 0l2 0l2-1l2 0l2 1l2 0l2 0l2-1l2 1l2-1l2 0l2 1l2-1l2 1l2 0l2 0l2 0l2 0l2 0l2 0l2 0l2 0l2 0l2-1l2 1l2 0l2 0l2-1l2 0l2 0l2 0l2 1l2 0l2 0l2 0l2 0l2 0l2 0l2 0l2 0l2 0l2 0l2 0l2-1l2 0l2 0l2 0l2 0l2 0l2 1l2 0l2 0l2 0l2 0l2 0l2 0l2 0l2 0l2-1l2 0l2 0l2 0l2 0l2 1l2-1l2 0l2 1l2 0l2 0l2 0l2 0l2 0l2 0l2 0l2 0l2 0l2-1l2 0l2 0l2 0l2 0l2 0l2 0l2 1l2 0l2 0l2 0l2 0l2 0l2 0l2 0l2 0l2-1l2 0l2 0l2 0l2 0l2 0l2 0l2 0l2 0l2 0l2 1l2 0l2 0l2 0l2 0l2 0l2 0l2 0l2 0l2 0l2 0l2 0l2 0l2-1l2 1l2-1l2 1l2 0l2 0l2 0l2 0l2 0l2 0l0 2l-2 0l-2 0l-2 0l-2 0l-2 0l-2 0l-2 0l-2 0l-2 0l-2 0l-2 0l-2 0l-2 0l-2 0l-2 0l-2 0l-2 0l-2 0l-2 0l-2 0l-2 0l-2 0l-2 0l-2 0l-2 1l-2 0l-2 0l-2 0l-2 0l-2 0l-2 0l-2 0l-2-1l-2 0l-2 0l-2 0l-2 0l-2 0l-2 0l-2 0l-2 0l-2 1l-2 0l-2 0l-2 0l-2 0l-2 0l-2-1l-2 0l-2 0l-2 0l-2 0l-2 0l-2 0l-2 0l-2 0l-2 1l-2-1l-2 0l-2 0l-2 1l-2 0l-2 0l-2 0l-2-1l-2 0l-2 0l-2 0l-2 0l-2 0l-2 0l-2 0l-2 0l-2 0l-2 0l-2 0l-2 1l-2 1l-2-1l-2 1l-2-1l-2-1l-2 0l-2 0l-2 0l-2 0l-2 0l-2 0l-2 0l-2 0l-2 0l-2 0l-2 1l-2 0l-2-1l-2 0l-2 0l-2 0l-2 0l-2 1l-2-1l-2 0l-2 0l-2 0l-2 0l-2 0l-2 0l-2 0l-2 0l-2 0l-2 0l-2 0l-2 1l-2 0l-2 0l-2 0l-2 0l-2 0l-2-1l-2 0l-2 0l-2 0l-2 0l-2 0l-2 0l-2 0l-2 0l-2 1l-2-1l-2 0l-2 1l-2-1l-2 0l-2 1l-2-1l-2 0l-2 0l-2 0l-2 0l-2 0l-2 0l-2 0l-2 0l-2 0l-2 0l-2 0l-2 1l-2 0l-2 0l-2 0l-2 0l-2-1l-2 1l-2 0l-2-1l-2 0l-2 0l-2 0l-2 0l-2 1l-2 0l-2 0l-2 0l-2 0l-2 0l-2-1l-2 1l-2 0l-2-1l-2 1l-2-1l-2 0l-2 0l-2 0l-2 0l-2 0l-2 0l-2 0l-2 0l-2 0l-2 0l-2 1l-2 0l-2 0l-2 0l-2 0l-2 0l-2 0l-2 0l-2 0l-2-1l-2 1l-2 0l-2-1l-2 1l-2-1l-2 1l-2 0l-2 0l-2 0l-2 0l-2 0l-2 0l-2 0l-2-1l-2 0l-2 1l-2 0l-2 0l-2 0l-2-1l-2 1l-2-1l-2 1l-2 0l-2 0l-2 1l-2 0l-2 0l-2 0l-2 0l-2-1l-2 0l-2 0l-2 0l-2-1l-2 1l-2-1l-2 0l-2 1l-2 0l-2 1l-2 0l-2 0l-2 1l-2-1l-2 0l-2 0l-2-1l-2 0l-2 0l-2 0l-2 0l-2 0l-2 0l-2-1l-2 1l-2 1l-2 0l-2 0l-2 1l-2 0l-2-1l-2 0l-2 0l-2-1l-2 0l-2 0l-2 0l-2-1l-2 0l-2 0l-2 1l-2 0l-2 0l-2 0l-2 1l-2 0l-2-1l-2 0l-2 1l-2 0l-2-1l-2 1l-2 0l-2 0l-2 0l-2-1l-2 1l-2-1l-2 1l-2 0l-2 0l-2 0l-2 0l-2 0l-2 0l-2 0l-2-1l-2 0l-2 0l-2-1l-2 1l-2 0l-2 0l-2 0l-2 0l-2 1l-2 0l-2 0l-2 0l-2 0l-2 0l-2-1l-2 0l-2 1l-2-1l-2 0l-2 0l-2 0l-2 0l-2-1l-2 1l-2-1l-2 1l-2 0l-2 0l-2 1l-2-1l-2 0l-2 0l-2 0l-2 0l-2 0l-2 0l-2-1l-2 1l-2 0l-2-1l-2 1l-2 0l-2-1l-2 1l-2 0l-2 0l-2 1l-2-1l-2 0l-2 0l-2 1l-2 0l-2-1l-2 1l-2-1l-2 0l-2 0l-2 0l-2 0l-2 1l-2 0l-2 0l-2 0l-2 1l-2-1l-2 1l-2 0l-2-1l-2 0l-2 0l-2-1l-2 0l-2-1l-2 0l-2 1l-2 0l-2-1l-2 1l-2 0l-2 1l-2 0l-2 0l-2 0l-2 0l-2 0l-2 0l-2-1l-2 0l-2 0l-2-1l-2 0l-2 0l-2 1l-2 0l-2 0l-2 0l-2 1l-2 1l-2 0l-2-1l-2 1l-2-1l-2-1l-2 0l-2 0l-2-1l-2 1l-2-1l-2 1l-2 0l-2 0l-2 0l-2 0l-2 0l-2 0l-2 0l-2 0l-2 0l-2 1l-2-1l-2 0l-2 0l-2 1l-2 0l-2 0l-2-1l-2 0l-2 0l-2 0l-2 0l-2 0l-2 0l-2 1l-2-1l-2 1l-2 0l-2 0l-2 0l-2 0l-2 0l-2 0l-2 0l-2-1l-2 0l-2 0l-2-1l-2 1l-2-1l-2 3l-2 0l-2 1l-2-2l-2 3l-2-3l-2 2l-2-2l-2 0l-2-1l-2 0l-2 0l-2 0l-2-1l-2 0l-2 1l-2 0l-2 0l-2 0l-2 0l-2 0l-2 0l-2 0l-2 1l-2-1l-2 1l-2-1l-2 0l-2 0l-2 0l-2 0l-2 0l-2 0l-2 1l-2-1l-2 1l-2-1l-2 1l-2 0l-2-1l-2 1l-2-1l-2 0l-2 0l-2 0l-2 1l-2-1l-2 0l-2 0l-2 0l-2 0l-2 0l-2-1l-2 1l-2 0l-2 0l-2 0l-2 1l-2-1l-2 1l-2-1l-2 0l-2 0l-2 0l-2-1l-2 1l-2 0l-2 1l-2-1l-2 1l-2 0l-2-1l-2 1l-2-1l-2 1l-2-1l-2 1l-2-1l-2 0l-2 0l-2 0l-2-1l-2 1l-2 0l-2 0l-2 0l-2 0l-2 0l-2 0l-2 0l-2 0l-2 2l-2-1l-2 0l-2 0l-2 0l-2-1l-2 1l-2-2l-2 1l-2 0l-2 0l-2 0l-2-1l-2 1l-2 0l-2 0l-2 1l-2 0l-2 1l-2-1l-2 0l-2 1l-2-1l-2 0l-2 0l-2-1l-2 0l-2 0l-2 0l-2 0l-2 0l-2 0l-2 1l-2-1l-2 2l-2-1l-2 0l-2 1l-2 0l-2 0l-2-1l-2-1l-2 1l-2-1l-2 0l-2-1l-2 0l-2 0l-2 1l-2 0l-2 0l-2 0l-2 1l-2 0l-2 0l-2 0l-2-1l-2 0l-2 0l-2 0l-2-1l-2 1l-2 0l-2 0l-2 0l-2 0l-2 0l-2 1l-2-1l-2 1l-2-1l-2 0l-2 0l-2 0l-2 0l-2 0l-2-1l-2 1l-2 0l-2 0l-2 0l-2 1l-2-1l-2 1l-2 0l-2-1l-2 0l-2 0l-2 0l-2 0l-2 0l-2 1l-2-1l-2 0l-2 0l-2 0l-2 0l-2 0l-2 0l-2 0l-2 0l-2 0l-2 0l-2 0l-2 0l-2 0l-2 0l-2 0l-2 0l-2 0l-2 0l-2 0l-2 0l-2 0l-2 0l-2 0l-2 1l-2 0l-2 0l-2 0l-2 0l-2 0l-2 0l-2 0l-2 0l-2 0l-2 0l-2-1l-2 1l-2 0l-2-1l-2 0l-2-1l-2 1l-2 0l-2 0l-2 1l-2 0l-2 0l-2 1l-2-1l-2 0l-2-1l-2 0l-2 0l-2 0l-2 0l-2-1l-2 0l-2 1l-2 0l-2-1l-2 3l-2-2l-2 4l-2-1l-2-2l-2 1l-2-1l-2 0l-2 0l-2 0l-2-1l-2 0l-2-1l-2 1l-2 0l-2 0l-2 0l-2 0l-2 0l-2 1l-2-1l-2 0l-2 0l-2 0l-2 0l-2 0z"/>
<path fill="#ff0000" fill-opacity="0.8" stroke="#ff0000" d="M223 184l2 1l2 0l2-1l2 0l2 1l2 0l2 0l2 0l2-1l2 0l2 1l2-1l2 1l2-1l2 0l2 1l2 0l2-1l2 0l2 0l2 1l2 0l2 0l2 0l2 0l2 0l2-1l2 1l2-1l2 0l2 0l2 0l2 1l2-1l2 1l2-1l2 1l2 0l2-1l2 1l2 0l2 0l2-1l2 1l2-1l2 1l2 0l2 0l2-1l2 1l2-1l2 0l2 0l2 1l2 0l2-1l2 0l2 0l2 0l2 1l2-1l2 0l2 1l2 0l2 0l2 0l2 0l2 0l2 0l2 0l2-1l2 0l2 1l2 0l2 0l2 0l2 0l2-1l2 0l2 0l2 0l2 1l2 0l2 0l2 0l2 0l2 0l2 0l2 0l2 0l2 0l2 0l2 0l2 0l2-1l2 1l2-1l2 0l2 0l2 1l2-1l2 0l2 0l2 0l2 0l2 1l2 0l2 0l2 0l2-1l2 1l2 0l2 0l2 0l2 0l2 0l2-1l2 0l2 0l2 0l2 1l2-1l2 0l2 1l2 0l2 0l2-1l2 0l2 1l2 0l2 0l2 0l2 0l2 0l2 0l2 0l2 0l2-1l2 0l2 0l2 1l2-1l2 1l2-1l2 0l2 1l2 0l2 0l2 0l2-1l2 1l2 0l2 0l2 0l2 0l2 0l2-1l2 1l2 0l2 0l2 0l2-1l2 1l2-1l2 0l2 1l2 0l2-1l2 1l2-1l2 1l2 0l2 0l2 0l2 0l2-1l2 1l2 0l2 0l2-1l2 0l2 1l2 0l2-1l2 0l2 1l2 0l2-1l2 1l2-1l2 1l2 0l2 0l2 0l2 0l2 0l2 0l2 0l2 0l2 0l2-1l2 0l2 0l2 1l2-1l2 1l2-1l2 0l2 1l2 0l2 0l2 0l2 0l2 0l2 0l2 0l2 0l2 0l2 0l2 0l2 0l2 0l2 0l2 0l2 0l2-1l2 1l2 0l2-1l2 0l2 1l2 0l2 0l2 0l2 0l2-1l2 1l2 0l2 0l2 0l2 0l2 0l2 0l2 0l2-1l2 0l2 0l2 1l2-1l2 1l2 0l2 0l2-1l2 1l2 0l2 0l2 0l2 0l2-1l2 1l2 0l2 0l2 0l2 0l2 0l2 0l2 0l2 0l2 0l2-1l2 1l2 0l2-1l2 1l2-1l2 1l2-1l2 0l2 0l2 1l2-1l2 0l2 1l2-1l2 1l2 0l2 0l2 0l2 0l2 0l2 0l2-1l2 0l2 0l2 1l2 0l2 0l2 0l2 0l2 0l2 0l2-1l2 0l2 1l2 0l2 0l2-1l2 0l2 0l2 0l2 0l2 0l2 0l2 0l2 1l2 0l2 0l2 0l2-1l2 1l2 0l2 0l2 0l2 0l2 0l2 0l2-1l2 1l2 0l2-1l2 0l2 0l2 1l2-1l2 1l2 0l2 0l2 0l2 0l2 0l2 0l2-1l2 1l2-1l2 0l2 0l2 1l2-1l2 1l2-1l2 1l2-1l2 1l2 0l2-1l2 1l2-1l2 1l2 0l2 0l2 0l2 0l2 0l2 0l2 0l2-1l2 0l2 0l2 0l2 1l2-1l2 0l2 0l2 1l2 0l2 0l2 0l2 0l2 0l2 0l2 0l2 0l2 0l2 0l2 0l2 0l2-1l2 0l2 0l2 1l2-1l2 0l2 0l2 0l2 1l2-1l2 1l2 0l2 0l2 0l2-1l2 1l2-1l2 1l2 0l2 0l2 0l2 0l2 0l2-1l2 1l2 0l2 0l2-1l2 0l2 1l2 0l2 0l2 0l2 0l2-1l2 0l2 1l2 0l2-1l2 1l2 0l2 0l2-1l2 0l2 0l2 0l2 1l2-1l2 0l2 1l2 0l2 0l2 0l2 0l2-1l2 1l2 0l2 0l2 0l2 0l2 0l2 0l2 0l2 0l2 0l2-1l2 0l2 0l2 0l2 0l2 0l2 0l2 0l2 1l2 0l2 0l2 0l2 0l2 0l2 0l2 0l2 0l2 0l2-1l2 1l2-1l2 0l2 1l2-1l2 1l2 0l2 0l2 0l2-1l2 0l2 1l2 0l2 0l2 0l2 0l2 0l2 0l2 0l2 0l2 0l2-1l2 0l2 1l2-1l2 0l2 1l2 0l2 0l2-1l2 1l2 0l2 0l2-1l2 1l2-1l2 1l2 0l2 0l2 0l2 0l2 0l2 0l2 0l2-1l2 0l2 0l2 1l2 0l2-1l2 1l2-1l2 0l2 1l2 0l2-1l2 0l2 1l2-1l2 1l2 0l2 0l2-1l2 1l2 0l2 0l2-1l2 0l2 1l2-1l2 0l2 0l2 1l2 0l2 0l2 0l2 0l2 0l2 0l2 0l2-1l2 1l2 0l2-1l2 1l2 0l2 0l2 0l2 0l2 0l2 0l2 0l2 0l2 0l2 0l2 0l2-1l2 0l2 0l2 1l2 0l2-1l2 0l2 1l2-1l2 1l2 0l2 0l2 0l2 0l2 0l2 0l2-1l2 1l2 0l2 0l2 0l2 0l2 0l2 0l2 0l2-1l2 0l2 1l2 0l2 0l2-1l2 1l2 0l2 0l2-1l2 1l2 0l2-1l2 1l2 0l2-1l2 1l2 0l2 0l2-1l2 1l2 0l2 0l2 0l2 0l2 0l2 0l2-1l2 1l2-1l2 1l2 0l2 0l2-1l2 0l2 0l2 1l2-1l2 1l2 0l2-1l2 0l2 0l2 1l2 0l2 0l2 0l2 0l2 0l2 0l2 0l2 0l2 0l2 0l2 0l2 0l2 0l2-1l2 1l2 0l2-1l2 0l2 0l2 1l2 0l2-1l2 0l2 1l2 0l2 0l2 0l2 0l2 0l2 0l2 0l2-1l2 1l2 0l2 0l2 0l2 0l2-1l2 0l2 0l2 0l2 0l2 0l2 0l2 0l2 1l2-1l2 1l2 0l2 0l2 0l2 0l2 0l2 0l2 0l2-1l2 0l2 1l2 0l2-1l2 0l2 1l2 0l2 0l2-1l2 0l2 1l2-1l2 1l2 0l2-1l0 4l-2 0l-2 0l-2 0l-2 0l-2 0l-2 0l-2 0l-2 0l-2 0l-2 0l-2 0l-2 0l-2 0l-2 0l-2 0l-2 0l-2 0l-2 0l-2 0l-2 0l-2 0l-2 0l-2 0l-2 0l-2 0l-2 0l-2 0l-2 0l-2 0l-2 1l-2-1l-2 0l-2 0l-2 0l-2 0l-2 0l-2 0l-2 0l-2 0l-2 0l-2 0l-2 0l-2 0l-2 0l-2 0l-2 0l-2 0l-2 0l-2 0l-2 0l-2 0l-2 0l-2 0l-2 0l-2 0l-2 0l-2 0l-2 0l-2 0l-2 0l-2 0l-2 0l-2 0l-2 0l-2 0l-2 0l-2 0l-2 0l-2 0l-2 0l-2 0l-2 0l-2 0l-2 0l-2 0l-2 0l-2 0l-2 0l-2 0l-2 0l-2 0l-2 0l-2 0l-2 0l-2 0l-2 0l-2 0l-2 0l-2 0l-2 0l-2 0l-2 0l-2 0l-2 0l-2 0l-2 0l-2 0l-2 0l-2 0l-2 0l-2 0l-2 0l-2 0l-2 0l-2 0l-2 0l-2 0l-2 0l-2 0l-2 0l-2 0l-2 0l-2 0l-2 0l-2 0l-2 0l-2 0l-2 0l-2 0l-2 0l-2 0l-2 0l-2 0l-2 0l-2 0l-2 0l-2 0l-2 0l-2 0l-2 0l-2 0l-2 0l-2 0l-2 0l-2 0l-2 0l-2 0l-2 0l-2 0l-2 1l-2-1l-2 0l-2 0l-2 0l-2 0l-2 0l-2 0l-2 0l-2 0l-2 0l-2 0l-2 0l-2 0l-2 0l-2 0l-2 0l-2 0l-2 0l-2 0l-2 0l-2 0l-2 0l-2 0l-2 0l-2 0l-2 0l-2 0l-2 0l-2 0l-2 0l-2 0l-2 0l-2 0l-2 0l-2 0l-2 0l-2 0l-2 0l-2 0l-2 0l-2 0l-2 0l-2 0l-2 0l-2 0l-2 0l-2 0l-2 0l-2 0l-2 0l-2 0l-2 0l-2 0l-2 0l-2 0l-2 0l-2 0l-2 0l-2 0l-2 0l-2 0l-2 0l-2 0l-2 0l-2 0l-2 0l-2 0l-2 0l-2 0l-2 0l-2 0l-2 0l-2 0l-2 0l-2 0l-2 0l-2 0l-2 0l-2 0l-2 0l-2 0l-2 0l-2 0l-2 0l-2 0l-2 0l-2 0l-2 0l-2 0l-2 0l-2 0l-2 0l-2 0l-2 0l-2 0l-2 0l-2 0l-2 0l-2 0l-2 0l-2 0l-2 0l-2 0l-2 0l-2 0l-2 0l-2 0l-2 0l-2 0l-2 0l-2 0l-2 0l-2 0l-2 0l-2 0l-2 0l-2 0l-2 0l-2 0l-2 0l-2 0l-2-1l-2 1l-2-1l-2 1l-2 0l-2 0l-2 0l-2 0l-2 0l-2 0l-2 0l-2 0l-2 0l-2 0l-2 0l-2 0l-2 0l-2 0l-2 0l-2 0l-2 0l-2 0l-2 0l-2 0l-2 0l-2 0l-2 0l-2 0l-2 0l-2 0l-2 0l-2 0l-2 0l-2 0l-2 0l-2 0l-2 0l-2 0l-2 0l-2 0l-2 0l-2 0l-2 0l-2 0l-2 0l-2 0l-2 0l-2 0l-2 0l-2 0l-2 0l-2 0l-2 0l-2 0l-2 0l-2 0l-2 0l-2 0l-2 0l-2 0l-2 0l-2 0l-2 0l-2 0l-2-1l-2 1l-2 0l-2 0l-2 0l-2 0l-2 0l-2 0l-2 0l-2 1l-2-1l-2 0l-2 0l-2 0l-2 0l-2 0l-2 0l-2 0l-2 0l-2 0l-2 0l-2 0l-2-1l-2 1l-2 0l-2 0l-2 0l-2 0l-2 1l-2-1l-2 0l-2 0l-2 1l-2 0l-2-1l-2 0l-2 0l-2 0l-2 0l-2 0l-2 0l-2 0l-2 0l-2 0l-2 0l-2 0l-2 0l-2 0l-2 0l-2 0l-2 0l-2 0l-2 0l-2 0l-2 0l-2 0l-2 0l-2 0l-2 0l-2 0l-2 0l-2 0l-2 0l-2 0l-2 0l-2 0l-2 0l-2 0l-2 0l-2 0l-2 1l-2-1l-2 1l-2-1l-2 1l-2-1l-2 0l-2 0l-2 0l-2 0l-2 0l-2 0l-2 0l-2 0l-2 0l-2 0l-2 0l-2 0l-2 0l-2 0l-2 0l-2 0l-2 0l-2 0l-2 0l-2 0l-2 0l-2 0l-2 0l-2 0l-2 0l-2 0l-2 0l-2 0l-2 0l-2 0l-2 0l-2 0l-2 0l-2 1l-2-1l-2 0l-2 0l-2 0l-2 0l-2 0l-2 0l-2 0l-2 0l-2 0l-2 0l-2 0l-2 0l-2 0l-2 0l-2 0l-2 0l-2 0l-2 0l-2 0l-2 0l-2 0l-2 0l-2 0l-2 0l-2 0l-2 0l-2 0l-2 0l-2 0l-2 0l-2 0l-2 0l-2 0l-2 0l-2 0l-2 0l-2 0l-2 0l-2 0l-2 0l-2 0l-2 0l-2 0l-2 0l-2 0l-2 0l-2 0l-2 0l-2 0l-2 0l-2 0l-2 0l-2 0l-2 0l-2 0l-2 0l-2 0l-2 0l-2 0l-2 0l-2 0l-2 0l-2 0l-2 0l-2 0l-2 0l-2 1l-2-1l-2 0l-2 0l-2 0l-2 0l-2 0l-2 0l-2 0l-2 0l-2 0l-2 0l-2 0l-2 0l-2 0l-2 0l-2 0l-2 1l-2 0l-2 0l-2-1l-2 1l-2-1l-2 0l-2 0l-2 0l-2 0l-2 0l-2 0l-2 0l-2 0l-2 0l-2 0l-2 0l-2 0l-2 0l-2 0l-2 0l-2 0l-2 1l-2-1l-2 0l-2 1l-2-1l-2 0l-2 0l-2 0l-2 0l-2 0l-2 0l-2 0l-2 0l-2 0l-2 0l-2 0l-2 0l-2 0l-2 0l-2 0l-2 0l-2 0l-2 0l-2 0l-2 0l-2 0l-2 0l-2 0l-2 0l-2 0l-2 0l-2 0l-2 0l-2 0l-2 0l-2 0l-2 0l-2 0l-2 0l-2 0l-2 0l-2 1l-2-1l-2 1l-2-1l-2 1l-2-1l-2 0l-2 0l-2 0l-2 0l-2 0l-2 0l-2 0l-2 0l-2 0l-2 0l-2 0l-2 0l-2 0l-2 0l-2 0l-2 0l-2 0l-2 0l-2 0l-2 0l-2 0l-2 0l-2 0l-2 0l-2 0l-2 0l-2 0l-2 0l-2 0l-2 0l-2 0l-2 0l-2 0l-2 0l-2 0l-2 0l-2 0l-2 0l-2 0l-2 0l-2 0l-2 0l-2 0l-2 0l-2 0l-2 0l-2 0l-2 0l-2 0l-2 0l-2 0l-2 0l-2 0l-2 0l-2 0l-2 0l-2 0l-2 0l-2 0l-2 0l-2 0l-2 0l-2 1l-2-1l-2 0l-2 0l-2 0l-2 0l-2-1l-2 1l-2 0l-2 0l-2 0l-2 0l-2 0l-2 0l-2 0l-2 0l-2 0l-2 0l-2 1l-2-1l-2 0l-2 0l-2 0l-2 0l-2 0l-2 0l-2 0l-2 0l-2 0l-2 0l-2 0l-2 0l-2 0l-2 0l-2 0l-2 0l-2 0l-2 0l-2 0l-2 1l-2-1l-2 0l-2 0l-2 0l-2 0l-2 0l-2 0l-2 0l-2 0l-2 0l-2 0l-2 0l-2 0l-2 0l-2 0l-2 0z"/>
<path fill="#0000ff" fill-opacity="0.8" stroke="#0000ff" d="M223 209l2 0l2 0l2 0l2 0l2 0l2 0l2 0l2-1l2 0l2 0l2 0l2 0l2 0l2 1l2 0l2 0l2 0l2 1l2 0l2 0l2-1l2 0l2 0l2 0l2 0l2-1l2 0l2 1l2 0l2 0l2 0l2 0l2 0l2 0l2 0l2 0l2 0l2 0l2 0l2 0l2 0l2 0l2 0l2 0l2 0l2 0l2 0l2 0l2-1l2 1l2-1l2 0l2 0l2 0l2 1l2-1l2 1l2 0l2 0l2 0l2 1l2-1l2 0l2 0l2 0l2 0l2 0l2-1l2 1l2 0l2-1l2 0l2 1l2-1l2 1l2 0l2 0l2 0l2 0l2 0l2 0l2 0l2 0l2 0l2 0l2 0l2 0l2-1l2 1l2 0l2 0l2-1l2 1l2 0l2 0l2-1l2 0l2 0l2 0l2 1l2 0l2 0l2 0l2 0l2 0l2 0l2 0l2 0l2 0l2-1l2 1l2 0l2 0l2 0l2-1l2 0l2 0l2 1l2 0l2 0l2 0l2-1l2 0l2 0l2 1l2 0l2-1l2 1l2 0l2-1l2 1l2 0l2 0l2-1l2 1l2 0l2 0l2-1l2 1l2-1l2 1l2 0l2 0l2 0l2 0l2 0l2 0l2 0l2 1l2-1l2 0l2 0l2 0l2 0l2 0l2 0l2 0l2-1l2 0l2 0l2 1l2-1l2 0l2 1l2 0l2 0l2 0l2 0l2 0l2 1l2-1l2 0l2 0l2 0l2 0l2 0l2 0l2 0l2-1l2 0l2 0l2 0l2 0l2 0l2 0l2 1l2 0l2 0l2 0l2 0l2 0l2 0l2 0l2 0l2 0l2 0l2-1l2 0l2 1l2 0l2-1l2 0l2 0l2 0l2 0l2 1l2-1l2 0l2 1l2 0l2 0l2 0l2 0l2 0l2 0l2 0l2 0l2 0l2 0l2 0l2 0l2-1l2 0l2 0l2 0l2 1l2 0l2-1l2 1l2 0l2 0l2 0l2 0l2 0l2 0l2 0l2 0l2 0l2-1l2 0l2 1l2-1l2 1l2 0l2-1l2 0l2 0l2 1l2 0l2 0l2 0l2 0l2 0l2 0l2 0l2 0l2 0l2 0l2 0l2 0l2 0l2-1l2 1l2-1l2 0l2 0l2-1l2 1l2 0l2 0l2 1l2-1l2 1l2 0l2 0l2 0l2 0l2 0l2 0l2 0l2 0l2-1l2 1l2-1l2 1l2-1l2 1l2 0l2 0l2 0l2 0l2 0l2 0l2 0l2 0l2 0l2 0l2 0l2 0l2 0l2 0l2 0l2 0l2-1l2 1l2 0l2-1l2 0l2-1l2 1l2 0l2 0l2 1l2-1l2 1l2 0l2 0l2 0l2 0l2 0l2 0l2 0l2-1l2 1l2 0l2 0l2 0l2 0l2 0l2 0l2 0l2 0l2 0l2 0l2 0l2 0l2 0l2 0l2 0l2 0l2 0l2 0l2-1l2 0l2 0l2 1l2 0l2-1l2 0l2 1l2-1l2 0l2 0l2 1l2-1l2 1l2 0l2-1l2 1l2 0l2 0l2 0l2 0l2 0l2 0l2 0l2-1l2 0l2 1l2-1l2 0l2 0l2 0l2 0l2 0l2 0l2 1l2 0l2 0l2-1l2 1l2 0l2 0l2 0l2 0l2 0l2 0l2 0l2-1l2 0l2 0l2 0l2 0l2 0l2 0l2 0l2 0l2 0l2 1l2 0l2 0l2 0l2 0l2 0l2 0l2 0l2 0l2 0l2 0l2 0l2 0l2-1l2 0l2 0l2-1l2 1l2 0l2 0l2 0l2 1l2-1l2 1l2 0l2 0l2 0l2 0l2 0l2 0l2 0l2 0l2 0l2 0l2 0l2 0l2 0l2 0l2 0l2-1l2 0l2 0l2 0l2 1l2-1l2 1l2 0l2 0l2 0l2 0l2 0l2 0l2 0l2 0l2 0l2 0l2 0l2-1l2 1l2 0l2-1l2 0l2 0l2 0l2 0l2 0l2 0l2 0l2 1l2 0l2 0l2 0l2 0l2 0l2 0l2 0l2 0l2-1l2 0l2 0l2 0l2 0l2 0l2 0l2 1l2-1l2 0l2 0l2 0l2 1l2 0l2 0l2 0l2 0l2 0l2 0l2 0l2 0l2 0l2 0l2 0l2 0l2 0l2 0l2 0l2 0l2 0l2 0l2 0l2-1l2 0l2 0l2 0l2 1l2 0l2 0l2 0l2-1l2 0l2 0l2 0l2 1l2-1l2 1l2-1l2 1l2-1l2 0l2 0l2 1l2 0l2-1l2 0l2 1l2-1l2 1l2 0l2-1l2 1l2 0l2 0l2 0l2 0l2 0l2 0l2 0l2-1l2 1l2 0l2-1l2-1l2 1l2-1l2 0l2 1l2 0l2 0l2 1l2 0l2 0l2 0l2 0l2 0l2 0l2 0l2 0l2-1l2 0l2 0l2 0l2 0l2 0l2 0l2 0l2 0l2 0l2-1l2 1l2 0l2 0l2 1l2 0l2 0l2 0l2-1l2 1l2 0l2-1l2 0l2 0l2 0l2 0l2 0l2 0l2 0l2-1l2 1l2 0l2 0l2 1l2-1l2 1l2-1l2 1l2 0l2-1l2 0l2 0l2 0l2 0l2 1l2-1l2 1l2-1l2 0l2 0l2 0l2 1l2-1l2 0l2 1l2 0l2 0l2 0l2 0l2 0l2 0l2-1l2 1l2 0l2-1l2 0l2 0l2 0l2 0l2 0l2 0l2 1l2-1l2 1l2-1l2 1l2 0l2 0l2 0l2 0l2 0l2 0l2-1l2 0l2 0l2 0l2 0l2 0l2 0l2 0l2-1l2 0l2 1l2 0l2 0l2 1l2 0l2 0l2 0l2 0l2 0l2 0l2 0l2 0l2-1l2 1l2-1l2 1l2-1l2 1l2 0l2-1l2 0l2 0l2 0l2 0l2 0l2 0l2 0l2 1l2-1l2 1l2 0l2 0l2-1l2 1l2-1l2 0l2 0l2 0l2 0l2 0l2 0l2 0l2 0l2 0l2 0l2-1l2 1l2 0l2 0l2 1l0 4l-2 0l-2 0l-2 0l-2 0l-2 1l-2-1l-2 1l-2 0l-2-1l-2 0l-2 0l-2 0l-2 0l-2 0l-2-1l-2 0l-2 0l-2 0l-2 1l-2-1l-2 1l-2 0l-2 0l-2 0l-2 1l-2 0l-2 0l-2-1l-2 0l-2 0l-2 0l-2 0l-2 0l-2 0l-2 0l-2 0l-2 0l-2-1l-2 1l-2-1l-2 0l-2 0l-2 1l-2-1l-2 0l-2 1l-2 0l-2 0l-2 0l-2 0l-2 0l-2 1l-2-1l-2 0l-2 0l-2 0l-2 0l-2-1l-2 1l-2 0l-2-1l-2 0l-2 1l-2-1l-2 0l-2 0l-2 1l-2-1l-2 1l-2 0l-2 0l-2 1l-2 0l-2-1l-2 1l-2-1l-2 0l-2 0l-2 0l-2-1l-2 0l-2 0l-2 0l-2 1l-2 0l-2-1l-2 0l-2 1l-2 0l-2 0l-2 0l-2 0l-2 0l-2 0l-2 0l-2 0l-2 0l-2 0l-2 1l-2 0l-2 0l-2-1l-2 0l-2 0l-2 0l-2 0l-2 0l-2 0l-2 0l-2 0l-2 0l-2 0l-2 0l-2 0l-2 0l-2 0l-2 0l-2 0l-2 0l-2 0l-2-1l-2 0l-2 1l-2-1l-2 1l-2 0l-2 0l-2 0l-2 0l-2 0l-2 1l-2-1l-2 0l-2 0l-2 1l-2-1l-2 0l-2 0l-2 0l-2 0l-2 0l-2-1l-2 1l-2 0l-2 0l-2 0l-2-1l-2 0l-2 0l-2 1l-2 0l-2 1l-2 0l-2 0l-2 0l-2 0l-2-1l-2 0l-2 1l-2-2l-2 0l-2 0l-2 0l-2 0l-2 0l-2 0l-2 0l-2 1l-2 0l-2 0l-2 0l-2 0l-2 0l-2 0l-2-1l-2 1l-2 0l-2 0l-2 0l-2 0l-2 0l-2 0l-2 0l-2 0l-2 0l-2-1l-2 1l-2 0l-2 0l-2-1l-2 1l-2-1l-2 1l-2 0l-2 0l-2 0l-2 0l-2-1l-2 1l-2-1l-2 1l-2 0l-2-1l-2 1l-2-1l-2 0l-2 0l-2 0l-2 0l-2 0l-2 0l-2 0l-2 0l-2 0l-2 0l-2 1l-2-1l-2 0l-2 1l-2 0l-2 0l-2 0l-2 0l-2 0l-2 0l-2 0l-2 0l-2 0l-2 0l-2-1l-2 1l-2 0l-2-1l-2 0l-2 0l-2 0l-2 0l-2 1l-2 0l-2 0l-2 0l-2 0l-2 0l-2 1l-2 0l-2 0l-2-1l-2 0l-2 0l-2 0l-2 0l-2 0l-2-1l-2 0l-2 0l-2 0l-2 0l-2 0l-2 0l-2 0l-2 1l-2-1l-2 1l-2 0l-2 0l-2 0l-2 0l-2 0l-2 0l-2-1l-2 0l-2 0l-2 0l-2 0l-2 0l-2 0l-2 0l-2 0l-2 0l-2 0l-2 0l-2 0l-2 0l-2 1l-2-1l-2 1l-2 0l-2 0l-2 1l-2 0l-2 0l-2-1l-2 0l-2 0l-2 0l-2 0l-2-1l-2 0l-2 0l-2 1l-2-1l-2 0l-2 0l-2 0l-2 1l-2-1l-2 0l-2 1l-2 0l-2 0l-2 0l-2 0l-2 0l-2 0l-2 0l-2 1l-2-1l-2 0l-2 0l-2-1l-2 1l-2-1l-2 0l-2 0l-2 0l-2 1l-2 0l-2 0l-2 0l-2 0l-2 1l-2-1l-2 0l-2 0l-2 1l-2 0l-2 0l-2-1l-2 0l-2 0l-2-1l-2 0l-2 1l-2 0l-2-1l-2 1l-2 0l-2 0l-2 0l-2 0l-2 0l-2 0l-2 0l-2 0l-2 0l-2 0l-2-1l-2 0l-2 1l-2 0l-2 0l-2 0l-2-1l-2 0l-2 1l-2-1l-2 0l-2 1l-2-1l-2 0l-2 0l-2 0l-2 1l-2-1l-2 0l-2 1l-2-1l-2 0l-2 1l-2-1l-2 0l-2 0l-2 1l-2-1l-2 0l-2 0l-2 0l-2 0l-2 0l-2 1l-2-1l-2 0l-2 1l-2 0l-2 0l-2 0l-2 1l-2-1l-2 0l-2 0l-2 0l-2 0l-2 0l-2-1l-2 0l-2 0l-2 0l-2 0l-2 0l-2 0l-2 0l-2 1l-2-1l-2 0l-2 0l-2 1l-2 0l-2-1l-2 1l-2 0l-2 0l-2 0l-2 0l-2-1l-2 0l-2 0l-2 0l-2 0l-2 0l-2 0l-2 0l-2 0l-2 0l-2 1l-2 0l-2 1l-2-1l-2 1l-2-1l-2 0l-2 1l-2-1l-2 0l-2 0l-2-1l-2 1l-2-1l-2 0l-2 0l-2 0l-2 0l-2 0l-2 0l-2 0l-2 0l-2 0l-2 0l-2 1l-2-1l-2 0l-2 1l-2 0l-2 0l-2 0l-2 0l-2 0l-2 0l-2-1l-2 0l-2 0l-2 0l-2 0l-2 0l-2 0l-2 1l-2-1l-2 1l-2 0l-2-1l-2 1l-2 0l-2 0l-2 1l-2-1l-2 0l-2 0l-2 0l-2-1l-2 0l-2 0l-2 0l-2 0l-2 0l-2 0l-2 0l-2 0l-2 1l-2 0l-2 0l-2 0l-2 1l-2-1l-2 0l-2 0l-2 0l-2 0l-2-1l-2 1l-2 0l-2 0l-2 0l-2-1l-2 0l-2 0l-2 0l-2 0l-2 0l-2 0l-2 0l-2 0l-2 0l-2 1l-2 0l-2 0l-2 0l-2 0l-2 0l-2 0l-2 0l-2 0l-2-1l-2 0l-2 0l-2 0l-2 0l-2 0l-2 0l-2 0l-2 0l-2 0l-2 0l-2 1l-2 0l-2 0l-2 0l-2 0l-2 0l-2 0l-2 0l-2 0l-2 0l-2 0l-2-1l-2 0l-2 0l-2 0l-2 0l-2 0l-2 0l-2 0l-2 0l-2 0l-2 0l-2 0l-2 0l-2 1l-2-1l-2 0l-2 1l-2-1l-2 1l-2-1l-2 0l-2 1l-2 0l-2 0l-2 0l-2-1l-2 1l-2 0l-2 0l-2 0l-2 0l-2 0l-2 0l-2 0l-2 0l-2 0l-2 0l-2 0l-2 0l-2 0l-2 0l-2 0l-2 0l-2-1l-2 0l-2 1l-2-1l-2 0l-2 0l-2 0l-2 0l-2 0l-2 0l-2 1l-2 0l-2 0l-2 0l-2 0l-2 0l-2 0l-2 0l-2 0l-2-1l-2 0l-2 1l-2-1l-2 1l-2-1l-2 1l-2-1l-2 0l-2 0l-2 0l-2 0l-2 0l-2 1l-2-1l-2 0l-2 0l-2 1l-2 0l-2 0l-2 0l-2-1l-2 1l-2 0l-2-1l-2 0l-2 0l-2 0l-2 0l-2 0l-2 0l-2 0l-2 0l-2 0l-2 1l-2 0l-2 0l-2 0l-2 0l-2 0l-2 0l-2 0l-2 0l-2-1l-2 1l-2-1l-2 0l-2 0l-2 0l-2 0l-2 0l-2 0l-2 0l-2 0l-2 1l-2 0l-2 0l-2-1l-2 0l-2 0l-2 0l-2 0l-2 0l-2 1l-2 0l-2-1l-2 0l-2 0l-2 0l-2 0l-2 0l-2 0l-2 0l-2 0l-2 1l-2-1l-2 1l-2 0l-2 0l-2 0l-2 0l-2 0l-2 0l-2 0l-2 0l-2 0l-2 0l-2-1l-2 0l-2 0l-2 0l-2 0z"/>
<path fill="#ff0000" fill-opacity="0.8" stroke="#ff0000" d="M223 232l2 1l2 0l2-1l2 0l2 0l2 1l2 0l2 0l2 0l2 0l2 0l2 0l2 0l2 0l2-1l2 0l2 0l2 0l2 0l2 0l2 0l2 1l2 0l2 0l2 0l2 0l2 0l2 0l2 0l2 0l2 0l2 0l2 0l2 0l2-1l2 0l2 1l2 0l2-1l2 1l2 0l2 0l2 0l2 0l2 0l2 0l2 0l2 0l2 0l2 0l2 0l2 0l2 0l2 0l2-1l2 0l2 1l2 0l2-1l2 0l2 1l2 0l2 0l2-1l2 0l2 1l2 0l2 0l2 0l2 0l2 0l2 0l2 0l2 0l2 0l2-1l2-1l2 1l2 0l2 0l2-1l2 0l2 1l2 0l2 0l2 1l2 0l2 0l2 0l2 0l2 0l2 0l2 0l2 0l2 0l2 0l2 0l2 0l2 0l2-1l2 0l2 0l2 0l2 0l2 1l2-1l2 1l2 0l2 0l2 0l2 0l2-1l2 1l2 0l2 0l2 0l2 0l2 0l2 0l2 0l2 0l2 0l2-1l2 1l2-1l2 1l2-1l2 1l2-1l2 1l2-1l2 0l2 0l2 1l2 0l2 0l2-1l2 0l2 0l2 1l2-1l2-1l2 1l2 0l2 0l2 0l2 0l2 1l2 0l2 0l2-1l2 1l2 0l2 0l2 0l2 0l2 0l2 0l2 0l2 0l2-1l2 0l2-1l2 1l2-1l2 2l2-1l2 0l2 0l2 1l2 0l2 0l2 0l2 0l2 0l2 0l2 0l2-1l2 0l2 0l2 0l2 0l2-1l2 0l2 1l2 0l2 0l2 0l2 1l2 0l2 0l2 0l2 0l2 0l2 0l2 0l2 0l2-1l2-1l2 1l2 0l2 0l2 0l2-1l2 0l2-1l2-2l2 1l2 3l2 0l2 1l2 0l2 0l2 0l2 0l2 0l2 0l2 0l2-1l2 0l2 0l2 0l2-1l2 1l2 0l2 0l2 0l2 0l2 0l2 1l2 0l2 0l2 0l2 0l2-1l2 1l2 0l2-1l2 1l2-1l2 0l2 0l2 0l2 0l2-1l2 1l2 0l2 0l2 0l2 1l2 0l2 0l2 0l2 0l2 0l2-1l2 1l2 0l2 0l2 0l2 0l2 0l2 0l2 0l2 0l2-1l2 0l2 0l2-1l2 1l2 0l2 0l2 0l2 0l2 0l2 1l2 0l2 0l2 0l2 0l2 0l2 0l2 0l2-1l2 0l2 0l2-1l2 1l2-1l2 1l2-1l2 1l2 1l2-1l2 0l2 1l2 0l2 0l2 0l2 0l2 0l2 0l2 0l2 0l2-1l2 0l2 0l2 0l2 0l2 0l2 0l2 0l2 1l2 0l2 0l2 0l2 0l2 0l2 0l2 0l2 0l2 0l2-1l2 0l2 0l2 0l2 0l2-1l2 0l2 1l2 0l2 0l2 1l2 0l2 0l2 0l2 0l2 0l2 0l2 0l2 0l2-1l2 1l2 0l2 0l2 0l2-1l2 1l2-1l2 0l2 1l2 0l2-1l2 0l2 1l2-1l2 0l2 0l2 0l2 0l2 0l2 0l2 0l2 0l2 0l2 0l2 0l2 0l2 0l2 0l2 0l2 0l2-1l2 0l2 1l2 0l2 1l2-1l2 1l2 0l2 0l2 0l2-1l2 1l2-1l2 0l2 0l2 0l2 0l2 0l2 0l2 0l2 1l2 0l2 0l2 0l2 0l2 0l2 0l2 0l2 0l2 0l2 0l2 0l2-1l2 0l2 0l2 0l2 0l2 0l2 0l2 0l2-1l2 0l2 0l2 0l2 1l2 0l2 1l2 0l2 0l2 0l2 0l2 0l2 0l2 0l2 0l2-1l2-1l2 0l2 1l2 0l2-1l2 1l2 0l2 0l2 0l2 0l2 1l2-1l2 0l2 1l2 0l2 0l2 0l2 0l2 0l2 0l2-1l2 0l2 0l2 0l2-1l2 1l2-1l2 1l2 1l2 0l2 0l2 0l2 0l2 0l2 0l2 0l2 0l2 0l2 0l2-1l2 0l2 0l2 0l2-1l2 1l2-1l2 1l2 0l2 0l2 0l2 1l2 0l2 0l2 0l2 0l2 0l2 0l2 0l2 0l2 0l2 0l2-1l2 0l2 1l2-1l2 0l2 0l2 1l2-1l2 0l2 0l2 1l2 0l2 0l2 0l2 0l2 0l2 0l2-1l2 1l2-1l2 0l2 0l2 0l2-1l2 1l2 0l2-1l2 1l2 0l2 0l2 0l2 1l2-1l2 1l2-1l2 1l2 0l2 0l2 0l2-1l2 0l2 0l2 0l2 0l2 0l2 0l2 1l2-1l2 1l2-1l2 1l2 0l2 0l2 0l2-1l2 1l2 0l2 0l2 0l2 0l2 0l2 0l2 0l2 0l2 0l2 0l2 0l2 0l2 0l2 0l2-1l2 1l2-1l2 0l2 1l2 0l2 0l2 0l2 0l2 0l2 0l2-1l2 1l2-1l2 0l2 0l2 0l2 0l2-1l2 1l2 0l2 0l2 0l2 0l2-1l2 0l2 1l2 0l2 1l2 0l2 0l2 0l2 0l2 0l2 0l2 0l2 0l2 0l2 0l2 0l2 0l2 0l2 0l2 0l2 0l2 0l2 0l2 0l2 0l2 0l2 0l2 0l2 0l2 0l2 0l2 0l2-1l2 1l2-1l2 0l2 0l2 0l2 0l2 0l2 0l2 0l2 1l2 0l2 0l2 0l2 0l2 0l2 0l2 0l2 0l2 0l2 0l2 0l2-1l2 0l2 0l2-1l2 1l2 0l2 0l2 1l2 0l2 0l2 0l2 0l2 0l2 0l2 0l2 0l2 0l2 0l2-1l2 1l2 0l2-2l2 0l2 0l2 0l2 1l2-1l2 1l2 0l2 0l2 1l2 0l2 0l2 0l2 0l2 0l2 0l2 0l2-1l2 0l2 0l2 0l2 0l2 0l2 0l2 0l2 0l2 1l2-1l2 0l2 0l2 1l2-1l2 0l2 0l2 0l2 1l2-1l2 0l2 1l2-1l2 0l2 0l2 0l2 0l2 0l2 0l2 0l2-1l0 7l-2 0l-2 0l-2 0l-2 0l-2 0l-2 0l-2 0l-2 0l-2-1l-2 0l-2 1l-2 0l-2-1l-2 0l-2 1l-2 0l-2 0l-2-1l-2 0l-2 0l-2 0l-2 1l-2 0l-2-1l-2 1l-2 0l-2 0l-2-1l-2 1l-2-1l-2 0l-2 0l-2 0l-2 0l-2 0l-2 0l-2 0l-2 0l-2 1l-2 0l-2 0l-2 0l-2 0l-2 0l-2 0l-2 0l-2 1l-2-2l-2 1l-2-1l-2 0l-2 0l-2 0l-2 0l-2 0l-2 0l-2 0l-2 0l-2 0l-2 0l-2 1l-2 0l-2 0l-2 0l-2 0l-2 0l-2 0l-2-1l-2 0l-2 0l-2 0l-2 0l-2 0l-2 0l-2 0l-2 0l-2 0l-2-1l-2 1l-2 0l-2 0l-2 1l-2 0l-2 0l-2 0l-2 0l-2 0l-2 0l-2-1l-2 0l-2 0l-2 0l-2 0l-2 0l-2 0l-2 0l-2 0l-2 0l-2 0l-2 0l-2 0l-2 0l-2 1l-2-1l-2 0l-2 0l-2 0l-2 0l-2 0l-2 0l-2 0l-2 0l-2 0l-2 0l-2 0l-2 0l-2 0l-2 1l-2 0l-2 0l-2-1l-2 1l-2 0l-2 0l-2 1l-2-1l-2 0l-2 0l-2 0l-2 1l-2 0l-2-1l-2 0l-2 0l-2 0l-2-1l-2 0l-2 0l-2 0l-2 0l-2 0l-2 0l-2 0l-2 1l-2 0l-2-1l-2 1l-2-1l-2 0l-2 0l-2 0l-2 0l-2 0l-2 0l-2 0l-2 0l-2 0l-2 0l-2 0l-2 0l-2 0l-2 0l-2 0l-2 1l-2-1l-2 0l-2 0l-2 1l-2-1l-2 0l-2 0l-2 1l-2 0l-2 0l-2 0l-2 0l-2 0l-2 0l-2-1l-2 1l-2-1l-2 0l-2 0l-2 0l-2 1l-2 0l-2 0l-2 0l-2 1l-2-1l-2 0l-2 0l-2 1l-2-1l-2 0l-2 0l-2 0l-2 0l-2 0l-2-1l-2 0l-2 0l-2 0l-2 0l-2 0l-2 0l-2 0l-2 1l-2 0l-2 0l-2 0l-2 0l-2-1l-2 1l-2-1l-2 0l-2 0l-2 0l-2 0l-2 0l-2 0l-2 0l-2 0l-2 0l-2 0l-2 0l-2 0l-2 0l-2 1l-2 0l-2 0l-2 1l-2 0l-2 0l-2-1l-2 0l-2 0l-2-1l-2 0l-2 0l-2 0l-2 0l-2 0l-2 0l-2 0l-2-1l-2 1l-2 0l-2 1l-2 0l-2 0l-2 0l-2 0l-2 0l-2 0l-2 0l-2 0l-2 0l-2 0l-2 0l-2-1l-2 0l-2 0l-2 0l-2 0l-2 1l-2-1l-2 1l-2-1l-2 1l-2 0l-2 0l-2 0l-2 1l-2 0l-2-1l-2 0l-2 0l-2 0l-2-1l-2 0l-2 0l-2 0l-2 0l-2 0l-2 0l-2 0l-2 1l-2 0l-2 0l-2 0l-2 1l-2-1l-2 0l-2 1l-2-1l-2 0l-2-1l-2 1l-2 0l-2 0l-2-1l-2 0l-2 0l-2 0l-2 0l-2 0l-2 0l-2 0l-2 0l-2 0l-2 1l-2 0l-2 0l-2 0l-2 0l-2 0l-2 0l-2 0l-2 0l-2 0l-2-1l-2 1l-2 0l-2-1l-2 0l-2 1l-2-1l-2 0l-2 1l-2 0l-2 0l-2 0l-2 0l-2 0l-2 0l-2 0l-2 0l-2 0l-2 0l-2-1l-2 0l-2 0l-2 1l-2-1l-2 1l-2 0l-2-1l-2 1l-2 0l-2 0l-2 0l-2 0l-2 0l-2 0l-2 0l-2 0l-2-1l-2 0l-2 0l-2 0l-2 0l-2 0l-2 0l-2 0l-2 0l-2 0l-2 0l-2 0l-2-1l-2 1l-2 0l-2 0l-2 1l-2 0l-2 0l-2 0l-2 1l-2 0l-2 0l-2 0l-2 0l-2-1l-2-1l-2 0l-2 0l-2 0l-2 0l-2 0l-2 0l-2 0l-2 0l-2 0l-2 1l-2 0l-2 0l-2 0l-2 0l-2 0l-2 0l-2 0l-2-1l-2 0l-2 0l-2-1l-2 1l-2 0l-2 0l-2 0l-2 0l-2 0l-2 1l-2 0l-2 0l-2 0l-2 1l-2 0l-2-1l-2 0l-2 0l-2-1l-2 0l-2 0l-2 0l-2 0l-2 0l-2 0l-2 0l-2 1l-2 0l-2 0l-2 0l-2 0l-2 0l-2 0l-2 0l-2 0l-2 0l-2-1l-2 0l-2 0l-2 0l-2 0l-2 0l-2 0l-2 1l-2 0l-2-1l-2 0l-2 1l-2-1l-2 0l-2 0l-2 0l-2 1l-2 0l-2 0l-2 0l-2 1l-2 0l-2 0l-2-1l-2 1l-2-1l-2 0l-2 0l-2 0l-2 0l-2-1l-2 1l-2-1l-2 0l-2 0l-2 0l-2 0l-2 1l-2 0l-2 0l-2 0l-2 0l-2 0l-2 1l-2-1l-2 1l-2-1l-2 0l-2-1l-2 0l-2 0l-2 0l-2 0l-2 0l-2 0l-2 0l-2 1l-2-1l-2 2l-2 1l-2 2l-2-1l-2-3l-2 0l-2 1l-2-1l-2 1l-2 0l-2-1l-2 0l-2-1l-2 0l-2 0l-2 0l-2 0l-2 0l-2 0l-2 0l-2 0l-2 0l-2 1l-2 0l-2 0l-2-1l-2 1l-2 0l-2 0l-2-1l-2 0l-2 0l-2 0l-2 0l-2 0l-2 0l-2 0l-2 0l-2 0l-2 0l-2 1l-2-1l-2 1l-2 0l-2 0l-2 0l-2 0l-2 0l-2-1l-2 1l-2 0l-2-1l-2 0l-2 0l-2 0l-2 0l-2 0l-2 0l-2 1l-2 0l-2-1l-2 1l-2-1l-2 0l-2 1l-2 0l-2 0l-2 0l-2 0l-2 0l-2-1l-2 0l-2 1l-2 0l-2-1l-2 0l-2 0l-2 1l-2 0l-2 0l-2 0l-2 0l-2 0l-2-1l-2 1l-2 0l-2-1l-2 0l-2 0l-2 1l-2 0l-2-1l-2 0l-2 0l-2 0l-2 0l-2 0l-2 0l-2 1l-2-1l-2 0l-2 1l-2 0l-2 0l-2 0l-2 0l-2 0l-2 0l-2 0l-2-1l-2 0l-2 0l-2 0l-2 0l-2 0l-2 0l-2 0l-2 0l-2 0l-2 0l-2 0l-2 0l-2 0l-2 0l-2 0l-2 1l-2 0l-2 0l-2 1l-2-1l-2 0l-2 0l-2 0l-2 0l-2-1l-2 0l-2 0l-2 0l-2 0l-2 0l-2 0l-2 0l-2 0l-2 0l-2 0l-2 1l-2-1l-2 0l-2 1l-2-1l-2 1l-2-1l-2 0l-2 0l-2 1l-2 0l-2-1l-2 1l-2-1l-2 0l-2 0l-2 0l-2-1l-2 1l-2 0l-2 0l-2 0l-2 0l-2 1l-2-1l-2 1l-2-1l-2 1l-2-1l-2 0l-2 0l-2 0l-2-1l-2 1l-2 0l-2 0l-2 0l-2 0l-2 0l-2 0l-2 0l-2 0l-2 0l-2 0l-2 1l-2-1l-2 0l-2 1l-2-1l-2 0l-2 0l-2 0l-2 0l-2 0l-2 0l-2 0l-2 0l-2 1l-2-1l-2 1l-2-1l-2 0l-2 1l-2-1l-2 1z"/>
<path fill="#0000ff" fill-opacity="0.8" stroke="#0000ff" d="M223 257l2 0l2-1l2 0l2 0l2 0l2-1l2 1l2 0l2-1l2 0l2 2l2 0l2-1l2 0l2 1l2 0l2-1l2 1l2 0l2 0l2-1l2 1l2 0l2 0l2 0l2-1l2 0l2 0l2-1l2 0l2 1l2-1l2 0l2 1l2 0l2 0l2 1l2 0l2 0l2 0l2 0l2 0l2 0l2-1l2-1l2 0l2 0l2 0l2 0l2 1l2-1l2 1l2 1l2 0l2 0l2 1l2-1l2 0l2 0l2 0l2-1l2 0l2 0l2-1l2 0l2 0l2 1l2 0l2 0l2 0l2 0l2 1l2 0l2 0l2 0l2 0l2 0l2 0l2 0l2-1l2-1l2 0l2 0l2 1l2 0l2 0l2 1l2 0l2 0l2 1l2 0l2-1l2 0l2 0l2-1l2 1l2 0l2 0l2 0l2 0l2 0l2 0l2 0l2 0l2 0l2 0l2 0l2 0l2 0l2 0l2 0l2-1l2 0l2 0l2 0l2 0l2 0l2 0l2 1l2 0l2-1l2 1l2-1l2 1l2-1l2 0l2 1l2 0l2 0l2 0l2 0l2 0l2 0l2 0l2 0l2 0l2 0l2-1l2 1l2 0l2 0l2 0l2 1l2-1l2 0l2 0l2 0l2 0l2 0l2-1l2 0l2 0l2 0l2 0l2-1l2 1l2 0l2 0l2 0l2 0l2 1l2 0l2 0l2 0l2 0l2 0l2 0l2 0l2 0l2 0l2 0l2-1l2 1l2-1l2 0l2 0l2-1l2 0l2 1l2 1l2 0l2 0l2 1l2-1l2 0l2 0l2 0l2-1l2-1l2 0l2 1l2-1l2 0l2 1l2 0l2 0l2 0l2 1l2 0l2 0l2 0l2 1l2-1l2 0l2-1l2 0l2 0l2 0l2-1l2 0l2 0l2 1l2-1l2 1l2 0l2 1l2 0l2 1l2-1l2 0l2 0l2 0l2 0l2-1l2 0l2 0l2-1l2 1l2-1l2 1l2-1l2 1l2 0l2 1l2 0l2 0l2 0l2 1l2-1l2 1l2-1l2 1l2-2l2 0l2 0l2-1l2 1l2 0l2 0l2-1l2 1l2 1l2 0l2 0l2 0l2 0l2 1l2-1l2 0l2 0l2 0l2 0l2 0l2 0l2-1l2 0l2-1l2 0l2 1l2 0l2 0l2 1l2 0l2 0l2 1l2 0l2-1l2 0l2 0l2 0l2-1l2 0l2 0l2-1l2 0l2 0l2 0l2 1l2 0l2 0l2 1l2 0l2 0l2 0l2 0l2 0l2 0l2 0l2-1l2 0l2 1l2-1l2 0l2 0l2 1l2-1l2 0l2 1l2 0l2 0l2 0l2 0l2 0l2 0l2 0l2 0l2 0l2-1l2 0l2-1l2 1l2 0l2 0l2 0l2 0l2 0l2 0l2 1l2-1l2 0l2 1l2-1l2 1l2-1l2 0l2 0l2 0l2-2l2 1l2-2l2 1l2 0l2 1l2 2l2 0l2 0l2 0l2 0l2 0l2 0l2 0l2 0l2-1l2 0l2 1l2-1l2-1l2 1l2 0l2 0l2 1l2-1l2 1l2 0l2 0l2 0l2 1l2-1l2 0l2 0l2 0l2-1l2 1l2-1l2 0l2 0l2 0l2 0l2 0l2 1l2 0l2 0l2 0l2 0l2 0l2 0l2-1l2 0l2 0l2 0l2 0l2 0l2 0l2 0l2 0l2 0l2 1l2 0l2 1l2-1l2 1l2-1l2 0l2 0l2 0l2-1l2 0l2 0l2 0l2 0l2 1l2 0l2 0l2 0l2 0l2 0l2 1l2 0l2-1l2 0l2 0l2 1l2-1l2 0l2-1l2 0l2 0l2 0l2 0l2 0l2 0l2 1l2 0l2 1l2-1l2 0l2 0l2 0l2 1l2-1l2-1l2 0l2 0l2-1l2 1l2 0l2-1l2 1l2 0l2 0l2 1l2 0l2 1l2-1l2 0l2 0l2 1l2-1l2 0l2 0l2-1l2 0l2 1l2-1l2 0l2 1l2-1l2 1l2 0l2 0l2 0l2 1l2-1l2 0l2 1l2-1l2 0l2 0l2 0l2 0l2 0l2 0l2-1l2 0l2 1l2-1l2 1l2 0l2 0l2-1l2 0l2 1l2-1l2 0l2 1l2-1l2 1l2-1l2 0l2 0l2 1l2 0l2 0l2 0l2 0l2 0l2-1l2 1l2 0l2 0l2 0l2 1l2-1l2 0l2 0l2 0l2 0l2 0l2 0l2 0l2 0l2 1l2-1l2 1l2 0l2-1l2 0l2 1l2-1l2 0l2 0l2 0l2 0l2 0l2 0l2 0l2-1l2 0l2 1l2 0l2 0l2 1l2 0l2 0l2 0l2 0l2-1l2 0l2-1l2 0l2 1l2-1l2 0l2 0l2 1l2 1l2 0l2 0l2 0l2 0l2 0l2 0l2 0l2 0l2-1l2 0l2 0l2-1l2 0l2 0l2 1l2 0l2 1l2 0l2 0l2 0l2 0l2 0l2-1l2 0l2 0l2 0l2 0l2 0l2 0l2 0l2 1l2-1l2 1l2 0l2 0l2 0l2 0l2-1l2 0l2 0l2 0l2 0l2 0l2 0l2 0l2 0l2 0l2 0l2 0l2 0l2 1l2 0l2 0l2 0l2 0l2 0l2 0l2 0l2 0l2 0l2 0l2 0l2-1l2 0l2 0l2 0l2 0l2 0l2 0l2 1l2 0l2-1l2 1l2-1l2 0l2 0l2 1l2-1l2 0l2 0l2 0l2 0l2 0l2 0l2 0l2 1l2-1l2 0l2 0l2 0l2 0l2 0l2 1l2-1l2 0l2 0l2 0l2 1l2 0l2-1l2 0l2 1l2 0l2 0l2 0l2 0l2 0l2 0l2 0l2 0l2 0l2 0l2 0l2-1l2 0l2-1l2 1l2 0l2-1l2 1l2 0l2 0l2 1l2 0l2 0l2 0l2 0l2 0l2 0l2-1l2 0l2 0l2 0l2 0l2-1l2 1l2 0l2 0l2 1l2 0l2 0l2 0l2 0l2 0l2 0l2 0l2-1l2 0l2 0l2 0l0 5l-2 0l-2-1l-2 0l-2-1l-2 0l-2 0l-2 0l-2 0l-2 0l-2 1l-2 0l-2 1l-2 0l-2 0l-2-1l-2 1l-2 0l-2 0l-2-1l-2 0l-2 0l-2-1l-2 0l-2 1l-2 0l-2 0l-2 0l-2 0l-2 0l-2 1l-2 0l-2-1l-2 1l-2 0l-2 0l-2-1l-2 0l-2 0l-2-1l-2 0l-2 0l-2 1l-2-1l-2 0l-2 0l-2 0l-2 1l-2 0l-2 0l-2 0l-2 1l-2-1l-2 1l-2-1l-2 0l-2 0l-2 0l-2 0l-2 0l-2 0l-2 0l-2 0l-2 0l-2 0l-2 0l-2 1l-2-1l-2 0l-2 0l-2 0l-2 0l-2 0l-2 0l-2 0l-2 0l-2 0l-2 0l-2 0l-2 0l-2 0l-2 0l-2 1l-2-1l-2 1l-2-1l-2 0l-2 0l-2 0l-2 0l-2-1l-2 0l-2 0l-2 1l-2-1l-2 0l-2 1l-2 0l-2-1l-2 0l-2 1l-2 0l-2 1l-2 0l-2 0l-2-1l-2 1l-2-1l-2 1l-2-1l-2 1l-2-1l-2 0l-2 0l-2 0l-2 0l-2-1l-2 1l-2 0l-2 0l-2 0l-2 1l-2 0l-2 0l-2-1l-2 0l-2 0l-2 0l-2 0l-2 0l-2 0l-2 0l-2 0l-2 0l-2 0l-2 1l-2 0l-2 0l-2 0l-2 0l-2 0l-2 0l-2-1l-2 0l-2-1l-2 1l-2 0l-2 0l-2 0l-2 0l-2 0l-2 0l-2 1l-2 0l-2 0l-2 0l-2 1l-2-1l-2 0l-2-1l-2 0l-2 0l-2 0l-2 0l-2 0l-2 0l-2 1l-2-1l-2 1l-2 0l-2 0l-2 0l-2 0l-2 0l-2 0l-2 0l-2 0l-2 0l-2 0l-2-1l-2 0l-2 0l-2 0l-2 0l-2 0l-2 0l-2 0l-2 0l-2 1l-2 0l-2 0l-2 0l-2-1l-2 0l-2 0l-2 0l-2 0l-2 0l-2 0l-2 1l-2 0l-2 0l-2 0l-2 0l-2 0l-2 0l-2 0l-2 0l-2 0l-2 0l-2 0l-2 0l-2 0l-2 0l-2 0l-2 0l-2 0l-2 1l-2 0l-2-1l-2 1l-2 0l-2 0l-2 0l-2 0l-2-1l-2 1l-2-1l-2 0l-2 0l-2 0l-2 0l-2-1l-2 1l-2-1l-2 1l-2 0l-2 0l-2 0l-2 0l-2 1l-2-1l-2 0l-2 0l-2 0l-2 0l-2-1l-2 0l-2 1l-2-1l-2 0l-2 0l-2 0l-2 1l-2-1l-2 1l-2 0l-2 0l-2 1l-2 0l-2 0l-2 0l-2 0l-2 1l-2-1l-2 0l-2-1l-2 0l-2 0l-2-1l-2 1l-2 0l-2-1l-2 1l-2 0l-2 0l-2 0l-2 2l-2 0l-2-1l-2 0l-2-1l-2 0l-2 0l-2 0l-2-1l-2 0l-2 0l-2 0l-2 1l-2 0l-2-1l-2 1l-2 1l-2 0l-2-1l-2 0l-2 0l-2 0l-2 0l-2 0l-2 0l-2 0l-2 0l-2-1l-2 0l-2 0l-2 1l-2 0l-2 0l-2 1l-2-1l-2 1l-2-1l-2 1l-2-1l-2 0l-2 0l-2 0l-2 0l-2 0l-2 0l-2 0l-2-1l-2 1l-2 0l-2 0l-2 0l-2 0l-2 1l-2 0l-2 0l-2 0l-2-1l-2 0l-2 0l-2 0l-2-1l-2 0l-2 0l-2 0l-2 0l-2 0l-2 0l-2 0l-2 2l-2 0l-2 0l-2 1l-2-1l-2 0l-2 0l-2-1l-2 0l-2 0l-2-1l-2 0l-2 0l-2 0l-2 1l-2 0l-2 0l-2 0l-2 0l-2 2l-2-2l-2 3l-2-3l-2 1l-2-1l-2 0l-2 1l-2-1l-2 1l-2-1l-2 0l-2 0l-2 0l-2 1l-2 0l-2 0l-2-1l-2 1l-2-1l-2 0l-2 1l-2 0l-2 0l-2 0l-2 0l-2-1l-2 0l-2 0l-2 0l-2 0l-2-1l-2 1l-2 0l-2 0l-2 0l-2-1l-2 1l-2 0l-2 0l-2 0l-2 0l-2 0l-2 1l-2-1l-2 0l-2 0l-2-1l-2 0l-2 0l-2 0l-2 0l-2 1l-2 0l-2 1l-2-1l-2 1l-2 1l-2 0l-2-1l-2 0l-2-1l-2 0l-2 0l-2-1l-2 0l-2 0l-2 1l-2-1l-2 1l-2 0l-2 0l-2 0l-2 1l-2 0l-2 0l-2 0l-2 0l-2 0l-2-1l-2-1l-2 0l-2 1l-2 0l-2 0l-2-1l-2 0l-2 0l-2 0l-2 0l-2 0l-2 2l-2-1l-2 2l-2-1l-2 0l-2 0l-2 0l-2-1l-2 0l-2-1l-2 0l-2 0l-2 0l-2 1l-2 0l-2 0l-2 0l-2 0l-2 1l-2-1l-2 1l-2 0l-2 0l-2 0l-2 0l-2-1l-2 0l-2 0l-2-1l-2 0l-2 0l-2 1l-2-1l-2 0l-2 0l-2 0l-2 1l-2 1l-2 0l-2 0l-2 0l-2 0l-2 1l-2-2l-2 1l-2-1l-2 0l-2-1l-2 0l-2 1l-2-1l-2 1l-2 0l-2 0l-2 0l-2 1l-2-1l-2 1l-2 0l-2 0l-2 0l-2-1l-2 1l-2-1l-2 0l-2-1l-2 0l-2 0l-2 0l-2 0l-2 0l-2 1l-2 1l-2-1l-2 1l-2 0l-2 0l-2 0l-2-1l-2 0l-2 0l-2 0l-2 0l-2-1l-2 1l-2-1l-2 1l-2 0l-2-1l-2 1l-2 0l-2 0l-2 0l-2 1l-2 0l-2 0l-2 0l-2 0l-2-1l-2 0l-2 0l-2 0l-2 0l-2 0l-2 0l-2-1l-2 0l-2 0l-2 0l-2 0l-2 0l-2 1l-2 0l-2-1l-2 1l-2-1l-2 1l-2 0l-2-1l-2 1l-2-1l-2 0l-2 1l-2 0l-2 0l-2 0l-2 0l-2 0l-2 0l-2 1l-2-1l-2 0l-2 0l-2 1l-2-1l-2 1l-2 0l-2-1l-2 1l-2-1l-2 0l-2 0l-2 0l-2 0l-2 0l-2 0l-2 0l-2-1l-2 1l-2 0l-2 0l-2-1l-2 1l-2 0l-2-1l-2 1l-2 1l-2-1l-2 0l-2-1l-2 0l-2 0l-2 1l-2 0l-2-1l-2 2l-2-1l-2 0l-2 0l-2 1l-2 0l-2 0l-2-1l-2 0l-2 0l-2-1l-2 0l-2 0l-2 0l-2 1l-2 0l-2 0l-2 1l-2 1l-2-1l-2 0l-2 0l-2 0l-2 0l-2 0l-2-1l-2 0l-2-1l-2 0l-2 0l-2 0l-2 0l-2 1l-2 0l-2 0l-2 1l-2 0l-2 0l-2 1l-2-1l-2 1l-2 0l-2-2l-2 0l-2 0l-2 0l-2-1l-2 1l-2-1l-2 1l-2 0l-2 0l-2 1l-2 0l-2 1l-2-1l-2 0l-2 1l-2-2l-2 0l-2 0l-2 0l-2 0l-2 0l-2 0l-2 0l-2 0l-2 0l-2 0l-2 0l-2 0l-2 0l-2 0l-2 0l-2 0l-2 0l-2 1l-2 0l-2 0l-2 0l-2-1l-2 0l-2 1l-2-1l-2 0l-2 0l-2 0z"/>
<path fill="#ff0000" fill-opacity="0.8" stroke="#ff0000" d="M223 282l2-1l2 1l2-1l2 0l2 1l2-1l2 0l2 0l2 0l2 1l2-1l2 1l2-1l2 1l2-1l2 1l2-1l2 0l2 1l2-1l2 0l2 1l2-1l2 0l2 0l2 0l2 0l2 0l2 0l2 1l2 0l2 0l2 0l2 0l2 0l2 0l2-1l2 0l2 1l2-1l2 0l2 1l2-1l2 0l2 1l2 0l2 0l2 0l2 0l2 0l2 0l2 0l2 0l2 0l2-1l2 0l2 1l2 0l2 0l2-1l2 1l2 0l2 0l2 0l2 0l2 0l2 0l2-1l2 0l2 1l2 0l2 0l2-1l2 1l2-1l2 1l2 0l2 0l2-1l2 0l2 0l2 0l2 0l2 0l2 0l2 0l2 0l2 0l2 1l2 0l2-1l2 1l2 0l2-1l2 1l2 0l2-1l2 0l2 1l2 0l2 0l2-1l2 1l2-1l2 0l2 0l2 0l2 0l2 0l2 1l2-1l2 1l2-1l2 1l2-1l2 1l2 0l2 0l2 0l2-1l2 1l2-1l2 0l2 1l2 0l2 0l2 0l2-1l2 0l2 1l2-1l2 1l2-1l2 0l2 0l2 0l2 1l2 0l2 0l2 0l2 0l2 0l2 0l2 0l2-1l2 1l2 0l2-1l2 0l2 1l2 0l2-1l2 0l2 0l2 0l2 0l2 0l2 1l2 0l2 0l2-1l2 1l2 0l2 0l2 0l2-1l2 1l2-1l2 1l2-1l2 1l2-1l2 1l2 0l2 0l2-1l2 1l2 0l2 0l2-1l2 1l2 0l2 0l2 0l2-1l2 1l2 0l2-1l2 1l2 0l2-1l2 0l2 1l2-1l2 1l2 0l2 0l2-1l2 1l2 0l2 0l2-1l2 0l2 1l2 0l2-1l2 1l2-1l2 1l2 0l2 0l2 0l2 0l2-1l2 1l2 0l2 0l2 0l2 0l2 0l2 0l2 0l2-1l2 0l2 1l2-1l2 1l2-1l2 1l2-1l2 1l2-2l2 1l2-3l2 3l2 0l2 1l2-1l2 1l2-1l2 1l2-1l2 1l2 0l2 0l2 0l2-1l2 0l2 0l2 0l2 0l2 1l2 0l2-1l2 0l2 0l2 1l2 0l2 0l2 0l2 0l2 0l2 0l2 0l2 0l2 0l2 0l2-1l2 1l2-1l2 1l2 0l2 0l2-1l2 1l2-1l2 1l2-1l2 1l2 0l2-1l2 1l2 0l2 0l2 0l2 0l2-1l2 1l2-1l2 0l2 1l2 0l2-1l2 0l2 1l2 0l2-1l2 0l2 1l2 0l2-1l2 1l2 0l2 0l2 0l2-1l2 1l2-1l2 1l2-1l2 0l2 1l2-1l2 0l2 1l2-1l2 0l2 0l2 0l2 0l2 0l2 1l2 0l2 0l2 0l2 0l2 0l2 0l2 0l2-1l2 0l2 0l2 0l2 0l2 0l2 0l2 0l2 1l2 0l2 0l2 0l2 0l2 0l2 0l2 0l2 0l2 0l2 0l2 0l2 0l2-1l2 1l2-1l2 0l2 1l2-1l2 0l2 0l2 0l2 0l2 0l2 0l2 1l2-1l2 1l2 0l2 0l2-1l2 1l2 0l2-1l2 1l2 0l2 0l2 0l2 0l2-1l2 1l2 0l2-1l2 1l2-1l2 0l2 1l2-1l2 0l2 1l2 0l2 0l2 0l2 0l2-1l2 0l2 0l2 0l2 0l2 1l2 0l2 0l2 0l2 0l2 0l2 0l2 0l2 0l2 0l2 0l2 0l2 0l2-1l2 1l2 0l2-1l2 0l2 1l2 0l2 0l2-1l2 1l2 0l2 0l2-1l2 0l2 1l2 0l2-1l2 1l2 0l2-1l2 1l2 0l2-1l2 1l2-1l2 0l2 0l2 0l2 1l2-1l2 1l2-1l2 0l2 1l2 0l2 0l2 0l2 0l2 0l2 0l2 0l2-1l2 1l2 0l2 0l2 0l2-1l2 0l2 1l2 0l2 0l2 0l2 0l2-1l2 1l2-1l2 0l2 0l2 0l2 0l2 1l2 0l2 0l2 0l2 0l2-1l2 0l2 0l2 1l2-1l2 0l2 0l2 0l2 1l2 0l2 0l2 0l2 0l2 0l2 0l2 0l2 0l2 0l2 0l2 0l2 0l2-1l2 1l2-1l2 0l2 0l2 0l2-2l2 0l2 0l2 3l2 0l2 0l2 0l2 0l2 0l2 0l2 0l2 0l2-1l2 1l2-1l2 0l2 0l2 0l2 0l2 0l2 1l2-1l2 1l2 0l2 0l2 0l2-1l2 1l2 0l2 0l2 0l2 0l2 0l2 0l2 0l2 0l2 0l2-1l2 0l2 1l2 0l2 0l2-1l2 1l2 0l2 0l2 0l2 0l2 0l2 0l2 0l2 0l2 0l2 0l2 0l2-1l2 0l2 0l2 1l2-1l2 0l2 1l2-1l2 1l2 0l2 0l2 0l2-1l2 1l2-1l2 0l2 1l2-1l2 1l2-1l2 0l2 1l2 0l2-1l2 1l2-1l2 0l2 1l2 0l2 0l2 0l2 0l2 0l2 0l2 0l2 0l2 0l2 0l2 0l2 0l2-1l2 0l2 1l2-1l2 0l2 1l2 0l2 0l2-1l2 0l2 1l2-1l2 1l2 0l2 0l2 0l2 0l2 0l2 0l2 0l2 0l2 0l2-1l2 0l2 1l2-1l2 1l2 0l2 0l2-1l2 1l2 0l2 0l2-1l2 0l2 1l2 0l2 0l2 0l2 0l2 0l2 0l2 0l2-1l2 1l2-1l2 1l2-1l2 0l2 0l2 0l2 1l2 0l2 0l2 0l2 0l2 0l2 0l2 0l2 0l2 0l2 0l2 0l2 0l2 0l2 0l2 0l2-1l2 1l2-1l2 1l2 0l2 0l2 0l2 0l2 0l2-1l2 1l2-1l2 1l2 0l2 0l2-1l2 0l2 0l2 0l2 0l2 1l2-1l2 0l2 1l2 0l2 0l2 0l2 0l2 0l2 0l2 0l2 0l2 0l2 0l2 0l2 0l2-1l2 1l2 0l2 0l2 0l2 0l2 0l0 4l-2-1l-2 0l-2 1l-2 0l-2-1l-2 1l-2 0l-2-1l-2 1l-2-1l-2 1l-2-1l-2 1l-2 0l-2-1l-2 0l-2 1l-2-1l-2 0l-2 1l-2 0l-2 0l-2 0l-2 0l-2 0l-2 0l-2 0l-2 0l-2-1l-2 0l-2 0l-2 0l-2 0l-2 0l-2 0l-2 1l-2 0l-2-1l-2 1l-2-1l-2 0l-2 0l-2 1l-2 0l-2-1l-2 0l-2 0l-2 0l-2 0l-2 0l-2 0l-2 0l-2 1l-2-1l-2 0l-2 1l-2 0l-2-1l-2 1l-2 0l-2-1l-2 1l-2 0l-2 0l-2 0l-2 0l-2-1l-2 0l-2 0l-2 1l-2-1l-2 0l-2 1l-2-1l-2 0l-2 1l-2-1l-2 1l-2-1l-2 0l-2 0l-2 0l-2 1l-2 0l-2 0l-2-1l-2 1l-2 0l-2 0l-2-1l-2 0l-2 0l-2 0l-2 1l-2 0l-2-1l-2 1l-2 0l-2 0l-2 0l-2 0l-2 0l-2 0l-2 0l-2 0l-2 0l-2 0l-2-1l-2 0l-2 0l-2 0l-2 1l-2-1l-2 0l-2 0l-2 0l-2 0l-2 0l-2 1l-2 0l-2-1l-2 1l-2 0l-2 0l-2 0l-2 0l-2 0l-2 0l-2 0l-2 0l-2 0l-2 0l-2 0l-2 0l-2-1l-2 0l-2 1l-2-1l-2 1l-2 0l-2 0l-2-1l-2 1l-2 0l-2 0l-2-1l-2 1l-2 0l-2 0l-2 0l-2 0l-2 0l-2-1l-2 0l-2 1l-2 0l-2-1l-2 0l-2 0l-2 0l-2 0l-2 1l-2 0l-2-1l-2 1l-2-1l-2 1l-2 0l-2-1l-2 1l-2-1l-2 1l-2-1l-2 0l-2 1l-2-1l-2 0l-2 0l-2 0l-2 0l-2 1l-2-1l-2 1l-2 0l-2 0l-2 0l-2 0l-2 0l-2 0l-2 0l-2 0l-2 0l-2-1l-2 1l-2 0l-2-1l-2 0l-2 1l-2-1l-2 1l-2 0l-2 0l-2 3l-2-1l-2-2l-2 0l-2 0l-2 0l-2 0l-2-1l-2 1l-2-1l-2 0l-2 1l-2-1l-2 0l-2 0l-2 0l-2 0l-2 1l-2 0l-2 0l-2 0l-2 0l-2 0l-2-1l-2 0l-2 1l-2 0l-2-1l-2 1l-2 0l-2 0l-2 0l-2 0l-2-1l-2 0l-2 1l-2-1l-2 0l-2 1l-2-1l-2 1l-2 0l-2-1l-2 0l-2 0l-2 1l-2 0l-2 0l-2 0l-2 0l-2-1l-2 0l-2 1l-2-1l-2 1l-2-1l-2 0l-2 1l-2 0l-2-1l-2 1l-2 0l-2 0l-2-1l-2 0l-2 1l-2 0l-2 0l-2 0l-2 0l-2-1l-2 1l-2 0l-2-1l-2 1l-2 0l-2-1l-2 1l-2-1l-2 1l-2-1l-2 1l-2 0l-2 0l-2 0l-2-1l-2 0l-2 1l-2-1l-2 1l-2-1l-2 0l-2 1l-2-1l-2 0l-2 1l-2-1l-2 0l-2 0l-2 0l-2 0l-2 0l-2 1l-2 0l-2-1l-2 1l-2 0l-2 0l-2 0l-2 0l-2 0l-2 0l-2 0l-2 0l-2-1l-2 1l-2 0l-2 0l-2-1l-2 1l-2 0l-2 0l-2 0l-2-1l-2 1l-2 0l-2 0l-2-1l-2 0l-2 1l-2-1l-2 1l-2-1l-2 0l-2 0l-2 1l-2 0l-2-1l-2 1l-2-1l-2 0l-2 1l-2 0l-2 0l-2 0l-2 0l-2 0l-2 0l-2 0l-2 0l-2 0l-2 0l-2-1l-2 1l-2-1l-2 0l-2 0l-2 0l-2 0l-2 0l-2 0l-2 0l-2 0l-2 1l-2 0l-2 0l-2 0l-2 0l-2 0l-2 0l-2 0l-2 0l-2 0l-2 0l-2-1l-2 0l-2 1l-2 0l-2 0l-2 0l-2 0l-2-1l-2 1l-2 0l-2 0l-2 0l-2 0l-2 0l-2 0l-2 0l-2 0l-2-1l-2 1l-2-1l-2 1l-2-1l-2 0l-2 0l-2 1l-2-1l-2 0l-2 1l-2-1l-2 1l-2 0l-2 0l-2 0l-2 0l-2-1l-2 1l-2 0l-2 0l-2 0l-2-1l-2 1l-2-1l-2 0l-2 1l-2-1l-2 0l-2 0l-2 0l-2 0l-2 1l-2 0l-2-1l-2 0l-2 1l-2 0l-2 0l-2 0l-2 0l-2 0l-2-1l-2 0l-2 1l-2-1l-2 1l-2-1l-2 0l-2 0l-2 1l-2 0l-2-1l-2 0l-2 1l-2 0l-2 0l-2-1l-2 1l-2 0l-2 0l-2 0l-2 0l-2 0l-2 0l-2 0l-2 0l-2-1l-2 0l-2 0l-2 0l-2 0l-2 0l-2 0l-2 0l-2 1l-2-1l-2 4l-2 1l-2-4l-2 0l-2 0l-2 0l-2 0l-2 0l-2 0l-2 0l-2 0l-2 0l-2 0l-2 0l-2-1l-2 1l-2 0l-2 0l-2 0l-2-1l-2 1l-2 0l-2-1l-2 0l-2 1l-2 0l-2 0l-2-1l-2 1l-2-1l-2 1l-2 0l-2 0l-2-1l-2 0l-2 0l-2 0l-2 1l-2 0l-2 0l-2 0l-2-1l-2 1l-2 0l-2 0l-2 0l-2 0l-2 0l-2 0l-2 0l-2-1l-2 1l-2 0l-2 0l-2 0l-2-1l-2 0l-2 1l-2 0l-2-1l-2 1l-2 0l-2-1l-2 1l-2 0l-2 0l-2 0l-2 0l-2 0l-2 0l-2 0l-2-1l-2 1l-2 0l-2 0l-2 0l-2-1l-2 1l-2-1l-2 1l-2 0l-2 0l-2 0l-2-1l-2 1l-2-1l-2 1l-2 0l-2 0l-2-1l-2 1l-2 0l-2 0l-2 0l-2-1l-2 1l-2 0l-2-1l-2 0l-2 0l-2 1l-2 0l-2 0l-2 0l-2 0l-2-1l-2 1l-2 0l-2 0l-2 0l-2 0l-2 0l-2 0l-2-1l-2 1l-2 0l-2 0l-2 0l-2-1l-2 0l-2 1l-2-1l-2 1l-2 0l-2 0l-2 0l-2 0l-2 0l-2 0l-2 0l-2 0l-2 0l-2 0l-2 0l-2-1l-2 1l-2 0l-2 0l-2-1l-2 0l-2 1l-2 0l-2 0l-2-1l-2 1l-2 0l-2-1l-2 0l-2 1l-2 0l-2 0l-2 0l-2-1l-2 0l-2 1l-2 0l-2-1l-2 1l-2-1l-2 0l-2 0l-2 1l-2-1l-2 1l-2 0l-2 0l-2 0l-2 0l-2 0l-2-1l-2 0l-2 0l-2 1l-2-1l-2 0l-2 0l-2 0l-2 0l-2 0l-2 1l-2 0l-2 0l-2-1l-2 0l-2 1l-2 0l-2 0l-2 0l-2 0l-2-1l-2 1l-2 0l-2 0l-2-1l-2 0l-2 1l-2-1l-2 0l-2 1l-2-1l-2 1l-2 0l-2 0l-2 0l-2 0l-2-1l-2 1l-2 0l-2 0l-2 0l-2 0l-2 0l-2 0l-2 0l-2 0l-2-1l-2 0l-2 1l-2-1l-2 0l-2 1l-2-1l-2 1l-2 0l-2 0l-2 0l-2 0l-2 0l-2 0l-2 0l-2 0l-2 1l-2-1l-2 0l-2 0l-2 0z"/>
<path fill="#0000ff" fill-opacity="0.8" stroke="#0000ff" d="M223 306l2 0l2-1l2 1l2-1l2 1l2 0l2 0l2 0l2 0l2 0l2 1l2-1l2 0l2 1l2-1l2 0l2 0l2 0l2 0l2 0l2 0l2 0l2 0l2 0l2 0l2 0l2 0l2 0l2 1l2-1l2 0l2 1l2-1l2 0l2 0l2 0l2 0l2-1l2 1l2 0l2-1l2 1l2 0l2 0l2 0l2 0l2 0l2 0l2 0l2 0l2 0l2 0l2 0l2 0l2 0l2 0l2 0l2 0l2 0l2 0l2 0l2 0l2 0l2 0l2 0l2 0l2 0l2 0l2 0l2 1l2-1l2 0l2 0l2 1l2-1l2 0l2 0l2 0l2 0l2 0l2 0l2 0l2 0l2-1l2 0l2 0l2 1l2 0l2 0l2 0l2 0l2 0l2 0l2 1l2-1l2 0l2 0l2 0l2 0l2 0l2-1l2 1l2 0l2 0l2 0l2 0l2 0l2 0l2 0l2 0l2 0l2 0l2 0l2 0l2 0l2 0l2 0l2 0l2 0l2 0l2 0l2 0l2 0l2 0l2 0l2 0l2 1l2 0l2-1l2 0l2 0l2 0l2 0l2 0l2 0l2 0l2 0l2 0l2 0l2 0l2 0l2 0l2 0l2 0l2 0l2 0l2 0l2 0l2 0l2 0l2 0l2 0l2 0l2 0l2 0l2 0l2 0l2 0l2 0l2 0l2 0l2 0l2 0l2 0l2 0l2 0l2 0l2 0l2 1l2-1l2 0l2 1l2-1l2 0l2 0l2 0l2 0l2 0l2 0l2 0l2 0l2 0l2 0l2 0l2 0l2 0l2 0l2 0l2 0l2 0l2 0l2 0l2 0l2 0l2 0l2 0l2-3l2 2l2 0l2 1l2 0l2 0l2 0l2 0l2 0l2 0l2-1l2 1l2 0l2 0l2 0l2 0l2 0l2 0l2-2l2 2l2 0l2 0l2 0l2 0l2-1l2 1l2 0l2 0l2 0l2 0l2 0l2 0l2 0l2 0l2 0l2 1l2-1l2 0l2 0l2 1l2-1l2 0l2 0l2 0l2 0l2 0l2-1l2 1l2-1l2 1l2-1l2 1l2 0l2 0l2 0l2 0l2 0l2 0l2 0l2 0l2 0l2 0l2 0l2 0l2 0l2-1l2 1l2 0l2 0l2 0l2 0l2 0l2 0l2 0l2 0l2 0l2 0l2 0l2 0l2 0l2-1l2 1l2-1l2 1l2 0l2 0l2 0l2 0l2 0l2 0l2 0l2 0l2-1l2 1l2 0l2 0l2 1l2-1l2 0l2 0l2 0l2 0l2 0l2 0l2-1l2 0l2 0l2 1l2 0l2 0l2 0l2 0l2 0l2 0l2 1l2 0l2-1l2 0l2 0l2 0l2 0l2 0l2-1l2 0l2 0l2 1l2-1l2 1l2 0l2 0l2 0l2 0l2 0l2 0l2 0l2 1l2-1l2 1l2 0l2-1l2 0l2 0l2 0l2 0l2-1l2 0l2 1l2-1l2 0l2 0l2 1l2 0l2 0l2 0l2 1l2-1l2 0l2 0l2 0l2 0l2 0l2 0l2 0l2-1l2 0l2 1l2 0l2-1l2 1l2 0l2-1l2 1l2 0l2 0l2 0l2 1l2 0l2 0l2-1l2 0l2 0l2 0l2 0l2 0l2 0l2-1l2 0l2 0l2 1l2 0l2 0l2 0l2-1l2 1l2 0l2 0l2 0l2 0l2 0l2 0l2 0l2 0l2 0l2 0l2 0l2 0l2-1l2 1l2 0l2 0l2 0l2-1l2 0l2 1l2 0l2 0l2 0l2 0l2 0l2 0l2 0l2 0l2 0l2 0l2 0l2 0l2 0l2 0l2 0l2 0l2 0l2 0l2 0l2 0l2 0l2 0l2 0l2 0l2 0l2 0l2 0l2 0l2 0l2 0l2 0l2 0l2 0l2 0l2 0l2-1l2 1l2 0l2 0l2-1l2 0l2 0l2 1l2 0l2 0l2 0l2 0l2 0l2 0l2 0l2-1l2-1l2 2l2-1l2 1l2 0l2 0l2 0l2 0l2 0l2 0l2 0l2 0l2 0l2 0l2 0l2 0l2-1l2 1l2 0l2 0l2 0l2 0l2 0l2 0l2 0l2 0l2-1l2 1l2 0l2-1l2 1l2 0l2 0l2-1l2 1l2 0l2 0l2 0l2 0l2 0l2 0l2 0l2 0l2 0l2 0l2-1l2 1l2 0l2 0l2 0l2 0l2 0l2 0l2 0l2 0l2 0l2 0l2 0l2 0l2 0l2-1l2 1l2-1l2 1l2 0l2 0l2 0l2 0l2 0l2 0l2 0l2 0l2 0l2 0l2 0l2 0l2 0l2 0l2 0l2 0l2 0l2 0l2 0l2 0l2 0l2 0l2 0l2 0l2 0l2 0l2 0l2 0l2 0l2 0l2 0l2 0l2-1l2 1l2 0l2 0l2 0l2 0l2 0l2 0l2 0l2 0l2 0l2 0l2-1l2 1l2 0l2-1l2 0l2 0l2 1l2 0l2 0l2 0l2 0l2 0l2 0l2 0l2 0l2 0l2 0l2 0l2 0l2 0l2 0l2 0l2-1l2 0l2 0l2 0l2 0l2 1l2 0l2 0l2 0l2 0l2 0l2 0l2 0l2 0l2 0l2 0l2 0l2 0l2 0l2 0l2 0l2-1l2 0l2 0l2 1l2 0l2 0l2 0l2 0l2 0l2 0l2 0l2 0l2 0l2 0l2 0l2 0l2 0l2 0l2-1l2 1l2 0l2 0l2-1l2 1l2-1l2 1l2 0l2 0l2 0l2 0l2 0l2 0l2 0l2 0l2 0l2-1l2 1l2 0l2 0l2 0l2-1l2 0l2 1l2-1l2 1l2-1l2 1l2 0l2 0l2 0l2 0l2 0l2 0l2 0l2 0l2 0l2 0l2-1l2 1l2 0l2 0l2 0l2-1l2 1l2 0l2-1l2 1l2 0l2 0l2 0l2 0l2 0l2 0l2 0l2 1l2-1l2 0l2-1l2 1l2-1l2 0l2 0l2 0l2 0l2 1l2-1l2 1l2 0l2 0l2 0l2 0l2 0l2 0l2 0l0 4l-2 0l-2 0l-2 0l-2 0l-2 0l-2 0l-2 0l-2 0l-2 0l-2 0l-2 0l-2 0l-2 1l-2 0l-2 0l-2-1l-2 0l-2 0l-2 0l-2 0l-2 0l-2 0l-2 0l-2-1l-2 0l-2 1l-2 0l-2 0l-2 0l-2 0l-2 1l-2 0l-2-1l-2 1l-2-1l-2 0l-2 0l-2 0l-2 0l-2 0l-2-1l-2 1l-2 0l-2 0l-2 0l-2 0l-2 0l-2 0l-2 0l-2 0l-2 1l-2 0l-2-1l-2 1l-2-1l-2 0l-2 0l-2 0l-2 0l-2 0l-2-1l-2 1l-2 0l-2 0l-2 0l-2-1l-2 0l-2 1l-2 0l-2 0l-2 0l-2 0l-2 0l-2 0l-2 0l-2 0l-2 0l-2 0l-2 0l-2 0l-2 0l-2 0l-2 0l-2 0l-2-1l-2 1l-2 0l-2 0l-2 0l-2 0l-2 0l-2 0l-2 0l-2 0l-2 0l-2 0l-2 0l-2 0l-2 0l-2 0l-2 0l-2 0l-2 0l-2 0l-2 0l-2 0l-2 0l-2 0l-2 0l-2 1l-2 0l-2-1l-2 1l-2 0l-2-1l-2 1l-2 0l-2-1l-2 0l-2 0l-2 0l-2 0l-2 0l-2 0l-2 0l-2 0l-2 0l-2 0l-2 1l-2-1l-2 0l-2 0l-2 0l-2 1l-2-1l-2 0l-2 0l-2 0l-2 0l-2 0l-2 0l-2 0l-2 0l-2 0l-2 0l-2 0l-2 0l-2 0l-2 0l-2 0l-2 0l-2 0l-2 0l-2 0l-2 0l-2 0l-2 0l-2 0l-2 0l-2 0l-2 0l-2 0l-2 0l-2 0l-2 0l-2 0l-2 0l-2 0l-2 0l-2 0l-2 0l-2 0l-2 0l-2 0l-2 0l-2 0l-2 0l-2 0l-2 0l-2 0l-2 1l-2-1l-2 0l-2 0l-2 0l-2 0l-2 0l-2 0l-2 0l-2 0l-2 0l-2 0l-2 0l-2 0l-2 0l-2 0l-2 0l-2 0l-2 0l-2 0l-2 0l-2 0l-2 0l-2 0l-2-1l-2 0l-2 0l-2 1l-2 0l-2 0l-2 0l-2 1l-2-1l-2 0l-2 0l-2 0l-2 0l-2 0l-2 0l-2 0l-2 0l-2 0l-2 0l-2 0l-2 0l-2 0l-2 0l-2 0l-2 0l-2 0l-2 1l-2-1l-2 0l-2 0l-2 0l-2 0l-2 0l-2 0l-2 0l-2 0l-2 0l-2 0l-2 0l-2 2l-2-1l-2-1l-2 0l-2 0l-2 0l-2 0l-2 0l-2 0l-2 0l-2 1l-2-1l-2 1l-2-1l-2 0l-2 0l-2 0l-2 0l-2 0l-2 0l-2 0l-2 0l-2 0l-2 0l-2 0l-2 0l-2 0l-2 0l-2-1l-2 1l-2 0l-2 0l-2 0l-2 0l-2 0l-2 0l-2 0l-2 0l-2 0l-2 0l-2 0l-2 0l-2 0l-2 0l-2 0l-2 0l-2 0l-2 0l-2 0l-2 0l-2 0l-2 0l-2 0l-2 1l-2-1l-2 0l-2 0l-2 0l-2 0l-2 0l-2 0l-2 0l-2-1l-2 1l-2 0l-2 0l-2 0l-2 0l-2 0l-2 0l-2 0l-2 0l-2 0l-2 0l-2 0l-2 1l-2 0l-2-1l-2 0l-2 1l-2-1l-2 0l-2 0l-2 0l-2-1l-2 1l-2-1l-2 1l-2 0l-2 0l-2 0l-2 0l-2-1l-2 1l-2 0l-2 0l-2 0l-2 0l-2 1l-2-1l-2 1l-2-1l-2 0l-2 0l-2 0l-2 0l-2-1l-2 0l-2 0l-2 0l-2 1l-2-1l-2 1l-2 0l-2 0l-2 0l-2 0l-2 0l-2 1l-2-1l-2 1l-2 0l-2-1l-2 0l-2 0l-2 0l-2-1l-2 1l-2 0l-2-1l-2 1l-2-1l-2 1l-2 0l-2 0l-2 0l-2 0l-2 1l-2-1l-2 0l-2 0l-2 0l-2 0l-2 0l-2 0l-2 0l-2 0l-2-1l-2 1l-2-1l-2 0l-2 0l-2 1l-2 0l-2 0l-2 0l-2 0l-2 1l-2 0l-2 0l-2 0l-2-1l-2 1l-2-1l-2 0l-2 0l-2-1l-2 0l-2 1l-2 0l-2 0l-2 0l-2 0l-2 0l-2 0l-2 0l-2 0l-2 0l-2 1l-2-1l-2 0l-2 0l-2 0l-2 0l-2 0l-2 0l-2 0l-2 0l-2 0l-2 0l-2 0l-2 0l-2 0l-2 0l-2 0l-2 0l-2 0l-2 0l-2 0l-2 0l-2 0l-2 0l-2 0l-2 0l-2 0l-2 0l-2-1l-2 1l-2 0l-2 0l-2 0l-2 0l-2 0l-2 0l-2 0l-2 0l-2 0l-2 0l-2 0l-2 0l-2 0l-2 0l-2 0l-2 0l-2 0l-2-1l-2 1l-2-1l-2 1l-2-1l-2 0l-2 0l-2 1l-2 0l-2 0l-2 0l-2 0l-2 0l-2 0l-2 0l-2 0l-2 0l-2 0l-2 0l-2 0l-2 0l-2 0l-2 2l-2 0l-2-2l-2 0l-2 0l-2 0l-2 0l-2 0l-2 0l-2 0l-2 0l-2 0l-2 0l-2 0l-2 0l-2 0l-2 0l-2 0l-2 3l-2-4l-2 1l-2 0l-2 0l-2 0l-2 0l-2 0l-2 0l-2 0l-2 0l-2 0l-2 0l-2 0l-2 0l-2 0l-2 0l-2 0l-2 0l-2 0l-2 0l-2 0l-2 0l-2 0l-2-1l-2 0l-2 1l-2-1l-2 0l-2 1l-2 0l-2-1l-2 1l-2 0l-2 0l-2 0l-2 0l-2 0l-2 0l-2-1l-2 1l-2 0l-2 0l-2 0l-2 0l-2-1l-2 1l-2 0l-2 0l-2 0l-2 0l-2 0l-2 0l-2 0l-2 0l-2 0l-2 0l-2 0l-2 0l-2 0l-2 0l-2 0l-2 0l-2 0l-2 0l-2 0l-2 0l-2 0l-2 0l-2 0l-2-1l-2 0l-2 1l-2 0l-2 0l-2 0l-2 0l-2 0l-2 0l-2 0l-2 0l-2 0l-2 0l-2 0l-2 0l-2 0l-2 0l-2 0l-2 0l-2 0l-2 0l-2 0l-2 0l-2 0l-2 0l-2 0l-2 0l-2 0l-2 0l-2 0l-2 0l-2 0l-2-1l-2 1l-2 0l-2 0l-2 0l-2 0l-2 0l-2 0l-2 0l-2 1l-2-1l-2 1l-2-1l-2 0l-2 1l-2 0l-2-1l-2 0l-2 0l-2 0l-2 0l-2 0l-2-1l-2 1l-2-1l-2 1l-2 0l-2 0l-2 0l-2 0l-2 0l-2 0l-2 0l-2 0l-2 0l-2 1l-2-1l-2 0l-2 0l-2 0l-2 0l-2 0l-2 0l-2 0l-2 0l-2 0l-2 0l-2 0l-2 0l-2 0l-2 0l-2 0l-2 0l-2 0l-2 0l-2 0l-2 0l-2 0l-2 0l-2 0l-2 0l-2 0l-2 0l-2 0l-2-1l-2 0l-2 1l-2-1l-2 1l-2-1l-2 1l-2 0l-2 0l-2 0l-2 0l-2 0l-2-1l-2 0l-2 0l-2 1l-2 0l-2 0l-2 0l-2 0l-2 0l-2 0l-2 0l-2 0l-2 0l-2 0l-2 0l-2 0l-2 0l-2 0l-2 0l-2 0z"/>
<path fill="#ff0000" fill-opacity="0.8" stroke="#ff0000" d="M223 331l2 0l2 0l2 0l2 0l2-1l2 0l2 0l2 0l2 0l2 0l2 0l2 1l2-1l2 1l2 0l2 0l2 0l2 0l2 0l2 0l2 0l2 0l2 0l2 0l2 0l2 0l2 0l2-1l2 0l2 1l2 0l2 0l2 0l2 0l2 0l2 0l2 0l2 0l2 0l2 0l2-1l2 0l2 0l2 0l2-1l2 1l2 1l2-1l2 1l2 0l2 0l2 0l2 0l2 0l2 0l2 0l2 0l2 0l2 0l2 0l2-1l2 0l2 0l2 0l2 0l2 0l2 0l2 1l2 0l2 0l2 0l2 0l2 0l2 0l2 0l2 0l2 0l2-1l2 0l2 0l2 0l2 0l2 0l2 0l2-1l2-4l2 1l2 5l2 0l2 0l2-1l2 1l2-1l2 1l2 0l2-1l2 0l2 0l2 0l2 0l2 0l2 0l2 1l2-1l2 1l2 0l2 0l2 0l2 0l2 0l2 0l2 0l2 0l2-1l2 1l2 0l2 0l2-1l2 1l2 0l2 0l2-1l2 0l2 1l2-1l2 1l2 0l2 0l2 0l2 0l2 0l2 0l2 0l2 0l2-1l2 0l2 0l2-1l2 1l2 0l2 0l2 0l2 0l2 0l2 1l2 0l2 0l2 0l2 0l2 0l2 0l2 0l2 0l2-1l2 1l2 0l2-1l2 0l2 0l2 0l2 0l2 0l2 0l2 1l2-1l2 1l2 0l2 0l2 0l2 0l2 0l2-1l2 0l2 0l2 1l2-1l2 0l2 1l2-1l2 0l2 1l2 0l2-1l2 1l2 0l2 0l2 0l2 0l2-1l2 0l2 0l2 0l2 0l2 1l2-1l2 1l2-1l2 0l2 1l2 0l2 0l2 0l2 0l2 0l2 0l2-1l2 0l2 0l2 0l2 0l2 0l2 0l2 1l2 0l2 0l2 0l2 0l2 0l2 0l2 0l2 0l2 0l2 0l2-1l2 0l2 0l2 1l2-1l2 0l2 0l2 0l2 0l2 1l2 0l2-1l2 1l2 0l2-1l2 0l2 0l2 0l2 0l2 0l2 0l2 0l2 0l2-1l2 1l2 0l2 0l2 0l2 0l2 0l2 0l2 1l2-1l2 0l2 0l2 1l2-1l2 1l2-1l2 0l2 0l2 0l2 0l2 0l2 0l2 0l2 0l2 0l2 0l2 0l2 1l2 0l2-1l2 1l2 0l2 0l2-1l2 0l2 1l2-1l2 0l2 0l2 0l2 0l2-1l2 1l2 1l2-1l2 0l2 0l2 1l2 0l2 0l2 0l2-1l2 0l2 1l2-1l2 1l2 0l2-1l2 0l2 0l2 0l2 0l2 0l2 0l2 0l2 0l2 0l2 0l2 0l2 0l2 0l2 0l2 0l2 0l2 0l2 0l2 1l2-1l2 0l2 0l2 0l2 1l2-1l2 1l2-1l2 0l2 1l2 0l2-1l2 1l2 0l2 0l2-1l2 0l2 0l2 0l2 0l2-1l2 1l2-1l2 1l2 0l2 1l2-1l2 0l2 1l2 0l2 0l2 0l2-1l2 0l2 0l2 0l2-1l2 0l2 0l2 1l2 0l2 0l2 0l2 0l2 0l2 0l2-1l2 1l2 0l2 0l2 0l2 0l2-1l2 0l2 0l2 1l2 0l2-1l2 1l2 0l2 0l2 0l2 0l2 1l2-1l2 0l2 0l2 0l2 0l2 0l2 0l2 0l2 0l2 1l2 0l2-1l2 0l2 0l2 0l2 0l2 0l2 1l2-1l2 0l2 0l2 1l2 0l2 0l2 0l2-1l2 0l2 0l2 0l2 0l2 0l2 0l2 0l2 0l2 0l2 0l2 0l2 0l2 0l2 0l2 0l2 0l2 1l2 0l2-1l2 0l2 0l2 0l2-1l2 1l2-1l2 1l2-1l2 0l2 0l2 1l2 0l2 1l2 0l2-1l2 0l2 1l2 0l2-1l2 1l2-1l2 0l2-1l2 0l2 1l2-1l2 0l2 1l2 0l2 0l2 0l2 1l2-1l2 0l2 1l2-1l2 0l2 0l2 0l2 0l2 0l2 0l2 0l2 1l2-1l2 0l2 0l2 0l2 0l2 0l2 0l2 0l2 1l2 0l2-1l2 0l2 0l2-1l2 1l2-1l2 0l2 1l2 0l2-1l2 0l2 0l2 1l2 0l2 1l2 0l2 0l2 0l2 0l2 0l2 0l2-1l2 0l2 0l2 0l2 0l2 0l2 0l2 1l2 0l2 0l2-1l2 1l2 0l2-1l2 0l2 0l2 1l2 0l2 0l2-1l2 0l2 0l2 0l2 0l2 0l2 0l2 0l2 0l2 0l2 0l2 0l2 0l2 0l2 1l2-1l2 1l2 0l2-1l2 1l2 0l2-1l2 1l2-1l2 0l2 0l2 0l2 0l2-1l2 1l2 1l2-1l2 1l2 0l2-1l2 0l2 1l2 0l2-1l2 0l2 0l2 0l2 0l2 0l2 0l2 0l2 0l2 0l2 0l2 0l2 0l2 0l2 0l2 0l2 0l2 0l2 0l2 0l2 0l2 0l2 0l2 0l2 0l2 0l2 0l2 0l2 0l2 0l2 0l2 0l2 1l2-1l2 1l2-1l2 0l2 0l2 0l2-1l2 1l2-1l2 0l2 0l2 0l2 1l2 0l2 0l2 1l2-1l2 0l2 1l2 0l2 0l2-1l2 0l2-1l2 0l2 1l2 0l2-1l2 0l2 1l2 0l2 0l2 0l2 1l2 0l2-1l2 0l2 1l2-1l2 0l2 0l2 0l2 0l2 0l2 0l2 0l2 0l2 0l2 0l2 0l2 1l2 0l2-1l2 0l2 0l2 0l2 0l2 0l2 0l2 0l2 0l2 0l2 0l2 0l2 0l2 0l2 0l2 0l2 0l2 0l2 1l2-1l2 0l2 0l2 0l2 0l2 1l2-1l2-1l2 1l2-1l2 0l2 1l2-1l2 1l2 0l2 0l2 0l2 1l2 0l2-1l2 1l2 0l2-1l2 0l2-1l2 0l2 0l2 1l2 0l2 0l2-1l2 1l2 0l2 0l2 0l2 0l2 0l2 0l0 5l-2-1l-2 0l-2 1l-2-1l-2 1l-2 0l-2 0l-2 0l-2 0l-2 0l-2 1l-2 0l-2 0l-2-1l-2 0l-2-1l-2 0l-2 0l-2 0l-2 0l-2 0l-2 0l-2 1l-2 0l-2 0l-2 0l-2 0l-2 0l-2 0l-2 0l-2-1l-2 0l-2 0l-2 0l-2 0l-2 0l-2 0l-2 0l-2 0l-2 0l-2 1l-2 0l-2-1l-2 0l-2 1l-2 0l-2 0l-2 0l-2 0l-2-1l-2 0l-2 0l-2 0l-2 0l-2 0l-2 0l-2 0l-2 0l-2 0l-2 0l-2 0l-2 0l-2 0l-2 1l-2 0l-2-1l-2 1l-2-1l-2 0l-2 0l-2 0l-2 0l-2 0l-2 0l-2 0l-2 0l-2 0l-2 0l-2 1l-2 0l-2 0l-2 0l-2 0l-2 1l-2-1l-2 0l-2-1l-2 0l-2 0l-2 0l-2 0l-2 0l-2 0l-2 0l-2 1l-2 0l-2 0l-2 0l-2 0l-2 0l-2 0l-2 0l-2-1l-2 0l-2 0l-2 0l-2 0l-2 0l-2 0l-2 0l-2 0l-2 1l-2-1l-2 0l-2 1l-2-1l-2 1l-2 0l-2-1l-2 1l-2 0l-2-1l-2 0l-2 1l-2-1l-2 0l-2 0l-2 0l-2 0l-2 1l-2-1l-2 1l-2 0l-2 0l-2 0l-2 0l-2 0l-2 0l-2 0l-2 0l-2 0l-2-1l-2 0l-2 0l-2 0l-2 0l-2 0l-2 0l-2 0l-2 0l-2 1l-2 0l-2 0l-2 0l-2-1l-2 0l-2 0l-2 0l-2 0l-2 0l-2 0l-2 0l-2 0l-2 0l-2 0l-2 0l-2 1l-2 0l-2 0l-2-1l-2 0l-2 0l-2 0l-2 0l-2 0l-2 0l-2 0l-2 0l-2 0l-2 0l-2 0l-2 0l-2 0l-2 0l-2 0l-2 0l-2 0l-2 0l-2 1l-2-1l-2 0l-2 0l-2 0l-2 0l-2 0l-2 0l-2 0l-2 0l-2 0l-2 0l-2 0l-2 0l-2 0l-2 0l-2 0l-2 0l-2 1l-2 0l-2 0l-2 0l-2 0l-2 0l-2 0l-2 0l-2 0l-2 0l-2 0l-2-1l-2 0l-2 0l-2 0l-2 0l-2 0l-2 1l-2 0l-2-1l-2 0l-2 1l-2 0l-2-1l-2 0l-2 0l-2 0l-2 0l-2 0l-2 0l-2 0l-2 0l-2 0l-2 1l-2-1l-2 0l-2 0l-2 1l-2-1l-2 1l-2 0l-2 1l-2 0l-2-1l-2 0l-2 0l-2 0l-2-1l-2 0l-2 0l-2 0l-2 0l-2 0l-2 0l-2 0l-2 0l-2 1l-2 0l-2 0l-2 0l-2 0l-2 0l-2 0l-2 0l-2 0l-2-1l-2 0l-2 0l-2 0l-2 0l-2 0l-2 0l-2 0l-2 0l-2 0l-2 0l-2 1l-2-1l-2 0l-2 1l-2-1l-2 1l-2 0l-2 0l-2-1l-2 0l-2 0l-2 0l-2 0l-2 0l-2 0l-2 0l-2 0l-2 0l-2 0l-2 0l-2 0l-2 0l-2 1l-2-1l-2 0l-2 0l-2 0l-2 1l-2-1l-2 0l-2 0l-2 0l-2 1l-2-1l-2 0l-2 0l-2 1l-2-1l-2 0l-2 1l-2 0l-2 0l-2 0l-2 0l-2 0l-2 0l-2-1l-2 1l-2-1l-2 0l-2 0l-2 0l-2 1l-2 0l-2-1l-2 0l-2 1l-2 0l-2-1l-2 0l-2 1l-2 0l-2 0l-2 0l-2-1l-2 1l-2 0l-2-1l-2 0l-2 0l-2 0l-2 0l-2 0l-2 0l-2 0l-2 0l-2 1l-2-1l-2 1l-2 0l-2 0l-2 0l-2-1l-2 0l-2 1l-2-1l-2 0l-2 0l-2 0l-2 0l-2 0l-2 0l-2 0l-2 0l-2 0l-2 0l-2 0l-2 1l-2 0l-2-1l-2 0l-2 0l-2 0l-2 0l-2 0l-2 0l-2 1l-2 0l-2-1l-2 1l-2-1l-2 0l-2 1l-2-1l-2 1l-2 0l-2-1l-2 0l-2 1l-2 0l-2-1l-2 1l-2-1l-2 0l-2 0l-2 0l-2-1l-2 1l-2 0l-2 0l-2 0l-2 0l-2 1l-2-1l-2 0l-2 0l-2 1l-2 0l-2 0l-2 0l-2-1l-2 0l-2 0l-2-1l-2 1l-2 0l-2 0l-2 0l-2 0l-2 0l-2 0l-2 1l-2 0l-2 0l-2 0l-2-1l-2 1l-2 0l-2-1l-2 0l-2 0l-2 0l-2 0l-2 1l-2-1l-2 1l-2-1l-2 0l-2 0l-2 0l-2 1l-2-1l-2 0l-2 1l-2-1l-2 1l-2 0l-2-1l-2 1l-2 0l-2-1l-2 1l-2-1l-2 1l-2-1l-2 0l-2 0l-2 0l-2 0l-2 0l-2 0l-2 0l-2 0l-2 0l-2 0l-2 0l-2 0l-2 0l-2 0l-2 0l-2 0l-2 0l-2 0l-2 0l-2-1l-2 1l-2 0l-2 0l-2 0l-2 0l-2 0l-2 0l-2 0l-2 1l-2-1l-2 1l-2 0l-2-1l-2 0l-2 0l-2 0l-2 0l-2 0l-2 0l-2 0l-2 0l-2 0l-2 0l-2 1l-2-1l-2 0l-2 1l-2-1l-2 0l-2 1l-2-1l-2 0l-2 0l-2 0l-2 0l-2 0l-2 0l-2 0l-2 0l-2 0l-2 0l-2 0l-2 1l-2-1l-2 0l-2 0l-2 1l-2-1l-2 0l-2 0l-2 0l-2 0l-2 0l-2 0l-2 0l-2 0l-2 0l-2 0l-2 0l-2 0l-2 0l-2 0l-2 1l-2-1l-2 0l-2 0l-2 0l-2 0l-2 0l-2 0l-2 0l-2 0l-2 0l-2 0l-2 0l-2 1l-2-1l-2 0l-2 0l-2 1l-2-1l-2 1l-2-1l-2 0l-2 0l-2 0l-2 0l-2-1l-2 1l-2 0l-2 0l-2-1l-2 1l-2 0l-2 0l-2 0l-2 0l-2 0l-2 0l-2 0l-2 0l-2 0l-2 0l-2 0l-2 0l-2-1l-2 0l-2 1l-2 0l-2 0l-2 0l-2 0l-2 0l-2 0l-2 0l-2 0l-2 0l-2 0l-2 1l-2 0l-2 0l-2-1l-2 0l-2 0l-2 0l-2 0l-2 0l-2-1l-2 1l-2 0l-2 2l-2 1l-2 2l-2-3l-2-1l-2-1l-2 0l-2 0l-2 1l-2-1l-2 0l-2-1l-2 1l-2 0l-2 0l-2 0l-2 0l-2-1l-2 1l-2 0l-2 1l-2-1l-2 0l-2 1l-2-1l-2 1l-2-1l-2 0l-2 0l-2 0l-2-1l-2 1l-2 0l-2 0l-2 0l-2 0l-2 0l-2 0l-2-1l-2 1l-2 0l-2 1l-2 0l-2 0l-2 0l-2 0l-2-1l-2 0l-2-1l-2 1l-2 0l-2-1l-2 0l-2 0l-2 1l-2 0l-2 0l-2 0l-2 0l-2 0l-2 0l-2-1l-2 1l-2 0l-2 0l-2-1l-2 1l-2 0l-2 0l-2 0l-2 0l-2-1l-2 1l-2 0l-2 0l-2 0l-2 0l-2 0l-2 0l-2 0l-2 0l-2 0l-2 0l-2 0l-2-1l-2 1l-2-1l-2 1l-2-1z"/>
<path fill="#0000ff" fill-opacity="0.8" stroke="#0000ff" d="M223 354l2 0l2-1l2 1l2-1l2 0l2 0l2 0l2 0l2 1l2-2l2 1l2 0l2 1l2 1l2-1l2 1l2 0l2 0l2 0l2 0l2 0l2-1l2 0l2 0l2 0l2-1l2 1l2-1l2 0l2 0l2 1l2 0l2 0l2 1l2-1l2 1l2 0l2 0l2 0l2 0l2 0l2-1l2 0l2 0l2 0l2 0l2 0l2-1l2 1l2 0l2 0l2 0l2 0l2 0l2 1l2 0l2 0l2 0l2 0l2-1l2 0l2 0l2 0l2 1l2-1l2 0l2 0l2 1l2 0l2-1l2 1l2 0l2 0l2-1l2 1l2 0l2 0l2 0l2 0l2 0l2-1l2 1l2-1l2 0l2 0l2 1l2 0l2 0l2 0l2-1l2 0l2-1l2 0l2 0l2 0l2 0l2 1l2 0l2-1l2 1l2 0l2 1l2 0l2 0l2 0l2 0l2 0l2 0l2 0l2 0l2-1l2 0l2 0l2-1l2 1l2 0l2 0l2 0l2 1l2 0l2 0l2 0l2 0l2 0l2 0l2 0l2 0l2 0l2 0l2-1l2 0l2-1l2 1l2 0l2 0l2 0l2 0l2 0l2 0l2 1l2-1l2 1l2-1l2 1l2 0l2-1l2 1l2 0l2 0l2 0l2-1l2 1l2 0l2 0l2-1l2 1l2 0l2-1l2 1l2 0l2 0l2 0l2 0l2 0l2 0l2 0l2-1l2 0l2 1l2 0l2-1l2 0l2 0l2 0l2 0l2 0l2 0l2 0l2 0l2-4l2 1l2 0l2 3l2 0l2 0l2 1l2-1l2 0l2 1l2 0l2-1l2 0l2 0l2 0l2 0l2 0l2 0l2 0l2 0l2 0l2-3l2 2l2 1l2-4l2-1l2 0l2 5l2 0l2 0l2 1l2 0l2 0l2 0l2 0l2 0l2 0l2-1l2 0l2-1l2 1l2-1l2 0l2 1l2-1l2 0l2 1l2-1l2 0l2 1l2 0l2 0l2 1l2 0l2 0l2-1l2 1l2 0l2-1l2 1l2-1l2 0l2 0l2 0l2 1l2-1l2 1l2-1l2 0l2 1l2 0l2 0l2 0l2 0l2 0l2 0l2-1l2 1l2 0l2 0l2 0l2 0l2-1l2 0l2 0l2 0l2 0l2 0l2 0l2 0l2 0l2 0l2 0l2 0l2 0l2 1l2-1l2 1l2-1l2 0l2 1l2-1l2 0l2 0l2 0l2 0l2 0l2 0l2 0l2-2l2 2l2-3l2-2l2 2l2 4l2 0l2-1l2 1l2 0l2-1l2 1l2 0l2-1l2 1l2-1l2 0l2 0l2 0l2 0l2 0l2 0l2 0l2 0l2 0l2 0l2 0l2 1l2 0l2-1l2 1l2 0l2-1l2 0l2 0l2 0l2 0l2 0l2 0l2 0l2 0l2 0l2 0l2 0l2 0l2 0l2 0l2 0l2 0l2 0l2 0l2 1l2 0l2 0l2 0l2 0l2 0l2 0l2 0l2 0l2 0l2 0l2-1l2 0l2-1l2 1l2 0l2-1l2 0l2 0l2 0l2 0l2 0l2 1l2-1l2 1l2 0l2 0l2 1l2 0l2 0l2 0l2 0l2 0l2-1l2 0l2 0l2 0l2-1l2 0l2 0l2 0l2 0l2 0l2 0l2 1l2 0l2 1l2 0l2-1l2 1l2 0l2 0l2 0l2 0l2 0l2-1l2 1l2-2l2 0l2 0l2 0l2 0l2 1l2 0l2-1l2 1l2 0l2 1l2 0l2 0l2 0l2 0l2 0l2 0l2 0l2 0l2 0l2-1l2 0l2 0l2-1l2 1l2-1l2 0l2 0l2 1l2-1l2 1l2 0l2 0l2-3l2 0l2 3l2 0l2 1l2 0l2 0l2 0l2 0l2-1l2 0l2-1l2 0l2 0l2 0l2 1l2-1l2 0l2 1l2 0l2 0l2 0l2 1l2 0l2 0l2-1l2 1l2 0l2-1l2 1l2-1l2 0l2 1l2-1l2 1l2-1l2 1l2-1l2 1l2-1l2 1l2 0l2 0l2 0l2-1l2 1l2 0l2 0l2 0l2 0l2 0l2 0l2 0l2-1l2 0l2 0l2-1l2 0l2 1l2-1l2 1l2-1l2 0l2 1l2 0l2 0l2 0l2 0l2 0l2 0l2 0l2 1l2-1l2 0l2 1l2-1l2 0l2 0l2 0l2-1l2 1l2 0l2 0l2 0l2 0l2 0l2 0l2 0l2 0l2 0l2 0l2 1l2-1l2 0l2 1l2-1l2 1l2-1l2 0l2 0l2 0l2-1l2 0l2 1l2-1l2 0l2 1l2 0l2 1l2 0l2 0l2 0l2 0l2 0l2 0l2 0l2 0l2 0l2-1l2 0l2 0l2 0l2 0l2 0l2-1l2 0l2 0l2 0l2 0l2 1l2-1l2 1l2 1l2-1l2 0l2 0l2 0l2 0l2 0l2 0l2 0l2-3l2-1l2-2l2 5l2-1l2-1l2 0l2 0l2 2l2 0l2-2l2 1l2 0l2 3l2 0l2 0l2 0l2 0l2 0l2-1l2 0l2 0l2 0l2 0l2 0l2-1l2 0l2 1l2-1l2 1l2 0l2 0l2 0l2 0l2 0l2 0l2 1l2-1l2 0l2 0l2 0l2 0l2 0l2 0l2 0l2 0l2 1l2 0l2-1l2 1l2 0l2 0l2 0l2 0l2 0l2-1l2 0l2 1l2 0l2 0l2-1l2 1l2 0l2-1l2 0l2 0l2 0l2 0l2 0l2 0l2 0l2 0l2 0l2 0l2 0l2 0l2 0l2 0l2 0l2 0l2-1l2 1l2 0l2-1l2 1l2 0l2 0l2 0l2 0l2-1l2 0l2 0l2 0l2 1l2 0l2 0l2 1l2 0l2 0l2 0l2 0l2 0l2 0l2-1l2 0l2 0l2 0l2-1l2 1l2 0l2 0l2 0l2 0l2 0l2 0l2 0l2 1l2-1l2 0l2 0l2 1l2-1l2 1l2-1l2 1l2 0l2 0l2 0l2 0l2 0l2-1l2 0l2 0l2 0l2 0l2 0l0 5l-2 0l-2 0l-2 0l-2 0l-2 0l-2-1l-2 1l-2 0l-2-1l-2 0l-2 0l-2 0l-2 1l-2-1l-2 1l-2 0l-2-1l-2 1l-2 0l-2 0l-2 0l-2 0l-2 0l-2 1l-2 0l-2-1l-2 0l-2 1l-2-1l-2 0l-2 0l-2-1l-2 1l-2 0l-2-1l-2 0l-2 0l-2 0l-2 1l-2 0l-2 1l-2-1l-2 1l-2 0l-2-1l-2 1l-2-1l-2 0l-2 0l-2 1l-2 0l-2-1l-2 1l-2-1l-2 1l-2-1l-2 0l-2 1l-2 0l-2-1l-2 1l-2-1l-2 0l-2 0l-2 1l-2-1l-2 1l-2-1l-2 0l-2 0l-2 0l-2 0l-2 0l-2 0l-2-1l-2 0l-2 0l-2 1l-2-1l-2 0l-2 0l-2 0l-2 0l-2 0l-2 0l-2 0l-2 0l-2 0l-2 1l-2 0l-2 0l-2 0l-2 0l-2 0l-2 0l-2 0l-2 0l-2 1l-2-1l-2 0l-2 0l-2 0l-2 0l-2 0l-2 0l-2 1l-2 0l-2 0l-2 0l-2-1l-2 0l-2 0l-2 0l-2 0l-2 0l-2 0l-2 0l-2 0l-2-1l-2 0l-2 0l-2 0l-2 2l-2 1l-2-2l-2 3l-2 0l-2 0l-2-2l-2 0l-2 0l-2 0l-2 5l-2-2l-2-1l-2-3l-2 0l-2 0l-2 0l-2 0l-2 1l-2-1l-2 1l-2-1l-2 0l-2 0l-2 1l-2 0l-2-1l-2 0l-2 1l-2-1l-2 0l-2 0l-2 0l-2 0l-2 0l-2 0l-2 0l-2-1l-2 0l-2 0l-2 1l-2-1l-2 0l-2 0l-2 0l-2 1l-2 0l-2 1l-2-1l-2 1l-2 0l-2 0l-2 0l-2 0l-2-1l-2 0l-2 0l-2 0l-2 0l-2 0l-2 0l-2 0l-2 0l-2 0l-2 0l-2 0l-2 0l-2 0l-2 0l-2 0l-2 0l-2 1l-2-1l-2 1l-2-1l-2 1l-2 0l-2-1l-2 1l-2-1l-2 0l-2 0l-2 0l-2 0l-2 0l-2 0l-2 0l-2 0l-2 0l-2 0l-2 0l-2 1l-2 0l-2 0l-2 0l-2 0l-2 0l-2-1l-2 0l-2 0l-2-1l-2 1l-2-1l-2 0l-2 0l-2 0l-2 0l-2 0l-2 0l-2 1l-2 0l-2 0l-2 0l-2 0l-2 0l-2-1l-2 1l-2-1l-2 1l-2 0l-2 0l-2 0l-2 0l-2 0l-2 0l-2 0l-2 0l-2-1l-2 0l-2 0l-2 0l-2 0l-2 0l-2 1l-2 1l-2-1l-2 1l-2 0l-2 0l-2 0l-2 0l-2 0l-2 0l-2-1l-2 0l-2 0l-2-1l-2 0l-2 1l-2 0l-2 1l-2-1l-2 4l-2-4l-2 2l-2-2l-2 0l-2 1l-2-1l-2 1l-2-1l-2 1l-2 0l-2 0l-2 0l-2-1l-2 0l-2-1l-2 0l-2 0l-2 1l-2-1l-2 0l-2 0l-2 0l-2 1l-2 0l-2 1l-2 0l-2 0l-2 0l-2 0l-2 0l-2 0l-2 0l-2 0l-2-1l-2 0l-2 0l-2-1l-2 0l-2 1l-2-1l-2 0l-2 0l-2 0l-2 0l-2 1l-2 0l-2 1l-2 0l-2 0l-2 0l-2 0l-2 0l-2 0l-2-1l-2 0l-2 1l-2-1l-2-1l-2 1l-2-1l-2 1l-2 0l-2-1l-2 0l-2 0l-2 1l-2 0l-2 0l-2 0l-2 1l-2 0l-2 0l-2 0l-2-1l-2 0l-2 0l-2 0l-2 0l-2 0l-2 0l-2 0l-2-1l-2 1l-2-1l-2 0l-2 0l-2 0l-2 1l-2-1l-2 0l-2 1l-2 0l-2 0l-2 0l-2 0l-2 0l-2 0l-2 0l-2 0l-2 0l-2 1l-2-1l-2 0l-2 0l-2 0l-2 0l-2 0l-2 0l-2 0l-2 0l-2-1l-2 0l-2 1l-2 0l-2 0l-2 0l-2 0l-2 0l-2 0l-2 0l-2 1l-2-1l-2 0l-2 0l-2 0l-2 0l-2 0l-2-1l-2 0l-2 1l-2 0l-2-1l-2 0l-2 0l-2 1l-2 1l-2 1l-2 2l-2 1l-2-4l-2 3l-2-4l-2 0l-2 1l-2 0l-2-1l-2 1l-2-1l-2 0l-2 0l-2-1l-2 1l-2 0l-2 0l-2-1l-2 1l-2 0l-2 0l-2 0l-2 0l-2 0l-2 0l-2 0l-2 0l-2 0l-2 0l-2 0l-2 0l-2 0l-2 0l-2-1l-2 0l-2 0l-2 0l-2 1l-2 0l-2 0l-2 0l-2-1l-2 0l-2 1l-2 0l-2-1l-2 1l-2 0l-2 0l-2 0l-2 0l-2 0l-2 0l-2 0l-2 0l-2-1l-2 0l-2 1l-2 0l-2 0l-2-1l-2 0l-2 1l-2 0l-2 1l-2 0l-2-1l-2 1l-2-1l-2 1l-2-1l-2 1l-2 0l-2 0l-2 0l-2-1l-2 0l-2 0l-2 0l-2-1l-2 1l-2-1l-2 0l-2 0l-2 1l-2 0l-2 0l-2 5l-2 1l-2-4l-2-1l-2 2l-2 1l-2-3l-2-1l-2 0l-2 0l-2-1l-2 1l-2 0l-2-1l-2 0l-2 1l-2 0l-2 0l-2 0l-2 0l-2 0l-2 0l-2 0l-2 0l-2 1l-2 0l-2 3l-2-1l-2-2l-2-1l-2 0l-2 0l-2 0l-2 0l-2 0l-2 0l-2 0l-2-1l-2 0l-2 1l-2-1l-2 0l-2 0l-2 0l-2 1l-2-1l-2 1l-2 0l-2-1l-2 1l-2 0l-2 0l-2 0l-2 0l-2 0l-2-1l-2 0l-2 0l-2 1l-2-1l-2 1l-2 0l-2-1l-2 1l-2-1l-2 0l-2 0l-2 0l-2 0l-2 1l-2 0l-2 0l-2 1l-2 0l-2-1l-2 1l-2-1l-2 0l-2 0l-2 0l-2-1l-2 0l-2 0l-2 0l-2 1l-2-1l-2 0l-2 0l-2 0l-2 1l-2 1l-2-1l-2 0l-2 0l-2 0l-2 0l-2 0l-2 0l-2-1l-2 0l-2 1l-2-1l-2 0l-2 0l-2 0l-2 1l-2 0l-2 0l-2 1l-2 0l-2 0l-2 0l-2 0l-2 0l-2-1l-2 0l-2 0l-2-1l-2 0l-2 1l-2-1l-2 1l-2-1l-2 0l-2 1l-2-1l-2 1l-2 0l-2 0l-2 0l-2 0l-2-1l-2 1l-2 0l-2 0l-2-1l-2 1l-2 0l-2 0l-2-1l-2 1l-2 0l-2 0l-2 0l-2 0l-2-1l-2 0l-2 1l-2-1l-2 0l-2 1l-2 0l-2 0l-2 0l-2 0l-2 0l-2 1l-2 0l-2-1l-2 0l-2 0l-2 1l-2 0l-2-1l-2 0l-2 0l-2-1l-2 1l-2 0l-2-1l-2 0l-2 1l-2 0l-2 0l-2 0l-2 1l-2 0l-2-1l-2 1l-2 0l-2 0l-2 0l-2 0l-2-1l-2 0l-2-1l-2 0l-2 0l-2 0l-2 0l-2 1l-2 0l-2-1l-2 0l-2 1l-2 2l-2 1l-2-2l-2 0l-2 0l-2 0l-2 0l-2 0l-2 0l-2-1l-2 1l-2-1z"/>
<path fill="#ff0000" fill-opacity="0.8" stroke="#ff0000" d="M223 379l2-1l2 0l2 1l2-1l2 1l2 0l2 0l2-1l2 0l2 0l2 0l2-1l2 1l2 0l2 0l2 0l2 1l2-1l2 1l2 0l2 0l2-1l2 0l2 0l2 0l2 0l2-1l2 1l2-1l2 1l2-1l2 0l2 1l2-1l2 1l2 1l2-1l2 1l2-1l2 1l2 0l2 0l2 0l2-1l2-1l2 1l2-1l2 1l2 0l2-1l2 1l2 0l2 1l2 0l2 0l2 0l2 0l2 0l2 0l2 0l2-1l2-1l2 0l2 1l2 0l2-1l2 1l2 0l2 1l2-1l2 0l2 1l2 0l2 0l2 0l2-1l2 0l2 0l2-1l2 0l2 1l2-1l2 0l2 0l2 1l2 1l2 0l2 0l2 0l2 0l2 0l2 0l2-1l2 0l2 1l2-1l2 1l2 0l2-1l2 0l2 1l2-1l2 1l2 0l2 0l2 0l2 0l2 0l2 0l2-1l2 0l2 0l2 0l2 0l2 0l2 0l2 0l2 0l2 0l2 0l2 1l2-1l2 0l2 1l2-1l2 1l2-1l2 1l2-1l2 0l2 0l2 0l2-1l2 1l2-1l2 1l2 0l2 0l2 0l2 0l2 1l2-1l2 1l2 0l2 0l2 0l2 0l2 0l2-1l2 0l2 0l2 1l2-1l2 0l2 0l2 0l2 0l2 1l2 0l2 0l2 0l2 0l2 0l2 0l2-1l2 0l2-1l2 0l2 0l2 1l2 0l2 0l2 1l2-1l2 1l2-1l2 0l2 1l2-1l2 1l2 0l2 0l2 0l2 0l2-1l2 1l2-1l2 0l2 0l2 1l2-1l2 0l2 1l2-1l2 1l2 0l2 0l2-1l2 1l2 0l2-1l2 0l2 0l2 0l2-1l2 0l2 1l2 0l2 1l2 0l2 0l2 0l2 0l2 0l2 0l2 0l2 0l2-1l2-1l2 0l2 1l2-1l2 1l2 0l2 0l2 0l2 0l2 0l2 0l2 0l2 0l2 1l2 0l2 0l2 0l2 0l2-1l2 1l2 0l2 0l2-1l2 1l2 0l2-1l2 1l2-1l2 0l2 1l2-1l2 1l2 0l2 0l2 0l2 0l2 0l2 0l2-1l2 1l2 0l2-1l2 1l2 0l2 0l2 0l2 0l2 0l2 0l2 0l2 0l2-1l2-1l2 1l2 0l2-1l2 0l2 1l2 0l2 0l2 1l2 0l2 0l2 0l2 0l2 0l2 0l2 0l2-1l2 0l2 0l2 0l2-1l2 1l2 0l2 1l2 0l2 0l2 0l2 0l2 0l2 0l2 0l2 0l2-1l2 0l2 0l2 0l2 0l2-1l2 1l2 0l2-1l2 1l2 1l2-1l2 0l2 0l2 0l2 0l2 0l2 1l2-1l2 0l2-1l2 1l2-1l2 0l2 1l2 1l2-1l2 1l2 0l2 0l2 0l2 0l2 0l2 0l2 0l2-1l2 1l2-1l2 0l2 1l2 0l2 0l2-1l2 1l2 0l2 0l2 0l2 0l2 0l2 0l2 0l2 0l2 0l2 0l2 0l2-1l2 1l2 0l2 0l2 0l2 0l2 0l2 0l2 0l2 0l2 0l2 0l2 0l2 0l2 0l2-1l2 0l2 0l2 0l2 0l2 0l2 0l2 1l2 0l2 0l2 0l2 0l2 0l2 0l2 0l2 0l2-1l2 0l2 0l2 0l2 0l2 0l2 0l2 0l2 0l2 1l2 0l2-1l2 0l2 0l2 0l2 0l2 0l2 1l2-1l2 0l2 0l2 0l2 1l2-1l2 1l2 0l2 0l2 0l2 0l2 0l2 0l2 0l2 0l2 0l2 0l2 0l2 0l2-1l2 1l2 0l2 0l2 0l2 0l2 0l2 0l2 1l2-1l2 0l2 0l2 0l2 0l2 0l2-1l2 1l2 0l2-1l2 1l2 0l2 0l2 0l2 0l2 0l2-1l2 1l2 0l2 0l2 0l2 0l2-1l2 0l2 0l2 0l2 0l2 0l2 0l2 1l2 0l2 0l2 0l2 1l2-1l2 0l2 0l2 0l2 0l2-1l2 0l2 0l2 0l2 1l2 0l2-1l2 1l2 0l2 0l2 0l2 0l2 0l2 0l2 1l2-1l2 0l2 0l2-1l2 1l2 0l2-1l2 0l2 0l2 0l2 0l2 0l2 1l2 1l2-1l2 1l2 0l2 0l2 0l2-1l2 1l2 0l2-1l2 0l2 0l2-1l2 1l2-1l2 0l2 1l2 0l2 0l2 0l2 0l2 0l2 0l2 1l2-1l2 0l2 0l2 0l2 0l2 0l2 0l2 0l2 0l2 0l2 1l2 0l2 0l2-1l2 1l2 0l2-1l2 0l2 1l2-1l2 0l2 0l2 0l2 0l2 0l2 1l2-1l2 1l2-1l2 0l2 0l2 1l2-1l2 0l2 1l2 0l2 0l2 0l2-1l2 0l2 0l2-1l2 0l2 1l2-1l2 1l2 0l2 1l2 0l2 0l2 0l2-1l2 1l2-1l2 0l2 0l2 0l2 0l2 0l2 0l2 0l2 0l2 0l2 0l2 1l2-1l2 0l2 1l2 0l2 0l2 0l2 0l2 0l2-1l2 0l2 0l2-1l2 1l2-1l2 0l2 1l2 0l2 0l2 0l2 0l2 0l2 0l2 0l2 0l2 1l2-1l2 0l2 0l2 1l2-1l2 0l2 1l2-1l2 0l2 1l2-1l2 1l2-1l2 0l2 0l2 1l2-1l2 0l2 0l2 0l2 0l2 0l2 0l2 1l2-1l2 1l2 0l2-1l2 0l2 1l2-1l2 1l2 0l2 0l2 0l2 0l2-1l2 1l2 0l2-1l2 0l2 0l2 0l2 0l2-1l2 0l2 1l2 0l2 0l2 0l2 0l2 1l2 0l2 0l2 0l2-1l2 0l2 1l2-1l2 0l2 0l2 0l2 0l2 0l2 0l2 0l2 0l2 0l2 0l2 0l2 0l2 1l2 0l2 0l2-1l2 0l2 0l2 0l2-1l2 1l2 0l2 0l2 0l2-1l2 1l2 1l2 0l2 0l2 0l2 0l2 0l0 2l-2 0l-2 0l-2 0l-2 0l-2 1l-2 0l-2 0l-2 0l-2 1l-2-1l-2 0l-2 1l-2-1l-2 0l-2 0l-2-1l-2 0l-2 0l-2 0l-2 0l-2 1l-2 0l-2 0l-2 0l-2 0l-2 0l-2 0l-2 0l-2 0l-2 0l-2 0l-2-1l-2 1l-2 0l-2-1l-2 0l-2 0l-2 0l-2 0l-2 0l-2 1l-2 0l-2 0l-2 1l-2-1l-2 1l-2-1l-2 0l-2 0l-2 0l-2-1l-2 0l-2 0l-2 0l-2 0l-2 0l-2 0l-2 0l-2 0l-2 1l-2 0l-2-1l-2 1l-2 0l-2-1l-2 0l-2 1l-2 0l-2-1l-2 0l-2 0l-2 0l-2 1l-2-1l-2 1l-2 0l-2-1l-2 0l-2 1l-2 0l-2 0l-2-1l-2 0l-2 0l-2 0l-2 0l-2 1l-2-1l-2 0l-2 0l-2 0l-2 0l-2 0l-2 0l-2 0l-2 1l-2 0l-2 0l-2 0l-2 0l-2 1l-2 0l-2 0l-2 0l-2-1l-2 0l-2-1l-2 0l-2 0l-2 0l-2 0l-2 0l-2 0l-2 0l-2 0l-2 0l-2 1l-2 0l-2-1l-2 1l-2 0l-2 0l-2 0l-2 0l-2 0l-2 0l-2 0l-2 0l-2-1l-2 0l-2 0l-2 1l-2-1l-2 1l-2 0l-2 0l-2 1l-2 0l-2-1l-2 1l-2-1l-2-1l-2 0l-2 0l-2 0l-2 0l-2 0l-2 0l-2 1l-2 0l-2 0l-2-1l-2 1l-2-1l-2 1l-2 0l-2 0l-2-1l-2 0l-2 1l-2 0l-2-1l-2 0l-2 0l-2 0l-2 0l-2 0l-2 0l-2 0l-2 0l-2 0l-2 0l-2 1l-2 0l-2 0l-2 0l-2 0l-2 0l-2 0l-2 0l-2 0l-2 0l-2-1l-2 0l-2 1l-2 0l-2 0l-2 0l-2 0l-2 1l-2 0l-2-1l-2 0l-2 0l-2-1l-2 0l-2 0l-2 1l-2-1l-2 0l-2 0l-2 1l-2-1l-2 0l-2 0l-2 1l-2 1l-2-1l-2 0l-2 1l-2 0l-2 0l-2 0l-2-1l-2 0l-2-1l-2 1l-2 0l-2-1l-2 0l-2 0l-2 1l-2 0l-2 0l-2 0l-2 0l-2 0l-2 1l-2 0l-2-1l-2 0l-2 0l-2 0l-2 0l-2 0l-2-1l-2 1l-2 0l-2 0l-2 0l-2 0l-2 0l-2 1l-2-1l-2 0l-2 1l-2 0l-2-1l-2 0l-2 0l-2 0l-2 0l-2 0l-2 1l-2-1l-2 0l-2 1l-2 0l-2-1l-2 0l-2 0l-2 0l-2 0l-2 0l-2 0l-2 0l-2 0l-2 0l-2 0l-2-1l-2 1l-2 0l-2 0l-2 0l-2 0l-2 0l-2 0l-2 0l-2 0l-2 0l-2 0l-2 0l-2 0l-2 0l-2 0l-2 0l-2 0l-2 0l-2 0l-2 0l-2 0l-2 0l-2 0l-2 0l-2 1l-2 0l-2-1l-2 0l-2 0l-2 1l-2-1l-2 0l-2 0l-2 0l-2 1l-2 0l-2-1l-2 0l-2 1l-2 0l-2 0l-2 0l-2 0l-2 0l-2 0l-2 0l-2 0l-2-1l-2 0l-2 0l-2 0l-2 0l-2 0l-2 1l-2-1l-2 1l-2-1l-2 1l-2 0l-2 0l-2-1l-2 0l-2 0l-2 0l-2 0l-2 0l-2 0l-2 0l-2 0l-2 0l-2-1l-2 1l-2 0l-2 0l-2 0l-2 0l-2 0l-2 0l-2 0l-2 0l-2 0l-2-1l-2 1l-2 0l-2-1l-2 1l-2-1l-2 0l-2 1l-2 0l-2 0l-2 0l-2 1l-2-1l-2 0l-2 1l-2-1l-2 1l-2-1l-2 0l-2-1l-2 1l-2 0l-2 0l-2 0l-2 0l-2 1l-2 0l-2 0l-2 0l-2 0l-2 0l-2 0l-2 0l-2-1l-2 1l-2-1l-2 0l-2 1l-2 0l-2-1l-2 1l-2 0l-2 0l-2 0l-2 0l-2 1l-2-1l-2 0l-2 0l-2 0l-2 0l-2-1l-2 0l-2-1l-2 1l-2 0l-2 0l-2 0l-2 0l-2 0l-2 0l-2 1l-2 0l-2 0l-2 0l-2 0l-2 0l-2 0l-2-1l-2 0l-2 0l-2 0l-2 0l-2 0l-2 0l-2 0l-2 0l-2 0l-2 1l-2 0l-2 0l-2 0l-2 0l-2 0l-2 0l-2-1l-2 0l-2 0l-2 0l-2 0l-2 0l-2 0l-2 0l-2 0l-2 0l-2 0l-2 1l-2 0l-2-1l-2 0l-2 0l-2 0l-2 0l-2 0l-2 0l-2 0l-2 0l-2 0l-2 1l-2-1l-2 0l-2 0l-2 0l-2 0l-2 0l-2 0l-2 0l-2 0l-2 1l-2-1l-2 0l-2 1l-2-1l-2 0l-2 0l-2 1l-2 0l-2 0l-2 0l-2 0l-2 0l-2 0l-2 1l-2 0l-2-1l-2 0l-2 0l-2-1l-2 0l-2-1l-2 1l-2 0l-2 0l-2 0l-2 0l-2 0l-2 1l-2 0l-2 0l-2 1l-2-1l-2 0l-2 0l-2 0l-2 0l-2 0l-2-1l-2 0l-2 0l-2 0l-2 1l-2-1l-2 1l-2 0l-2-1l-2 0l-2 1l-2-1l-2 0l-2 0l-2 0l-2 0l-2 0l-2 0l-2 0l-2 0l-2 0l-2 1l-2-1l-2 0l-2 0l-2 1l-2-1l-2 2l-2-1l-2 0l-2 0l-2 0l-2 0l-2 0l-2-1l-2 0l-2 0l-2 0l-2 0l-2 0l-2 0l-2 0l-2 1l-2 0l-2 0l-2 0l-2 0l-2-1l-2 0l-2 0l-2 0l-2 0l-2 0l-2 0l-2 0l-2 0l-2 0l-2 0l-2 1l-2-1l-2 1l-2 0l-2 0l-2 0l-2 0l-2 0l-2 0l-2-1l-2 1l-2 0l-2-1l-2 0l-2 0l-2 1l-2 0l-2-1l-2 0l-2 1l-2-1l-2 0l-2 0l-2 1l-2-1l-2 1l-2 0l-2-1l-2 1l-2-1l-2 1l-2-1l-2 0l-2 1l-2-1l-2 0l-2 0l-2 0l-2 0l-2 1l-2-1l-2 1l-2-1l-2 0l-2 0l-2 0l-2 1l-2-1l-2 0l-2 0l-2 0l-2 0l-2 0l-2 1l-2 0l-2 0l-2 1l-2-1l-2 0l-2 0l-2 1l-2-1l-2 0l-2-1l-2 0l-2 0l-2 0l-2 0l-2 0l-2 0l-2 0l-2 1l-2 0l-2 0l-2 0l-2 1l-2-1l-2 1l-2 0l-2-1l-2-1l-2 0l-2 0l-2 0l-2 0l-2 0l-2 0l-2 0l-2 1l-2 0l-2 1l-2-1l-2 0l-2 1l-2 0l-2-1l-2 0l-2 0l-2-1l-2 0l-2 0l-2 0l-2 0l-2 0l-2 0l-2 0l-2 1l-2 0l-2 1l-2 0l-2-1l-2 1l-2-1l-2 0l-2 0l-2-1l-2 1l-2-1l-2 1l-2-1l-2 1l-2-1l-2 0l-2 0l-2 0l-2 1l-2-1l-2 1l-2 0l-2 0l-2 0l-2 0l-2-1l-2 1l-2-1l-2 0l-2 0l-2 0l-2 1l-2-1l-2 1z"/>
<path fill="#0000ff" fill-opacity="0.8" stroke="#0000ff" d="M1198 404l2 1l2 0l2 0l2 0l2 0l2 0l2 0l2 0l2 0l2 0l2 0l2-1l2 0l2 0l2 0l2 0l2 0l2 0l2 0l2 0l2 0l2 1l2 0l2 0l2-1l2 1l2 0l2-1l2 0l2 0l2-1l2 0l2 0l2 0l2 0l2 0l2 1l2 0l2 0l2 0l2 0l2 0l2 0l2 0l2 0l2 0l2-1l2 0l2-1l2 0l2 1l2-1l2 1l2 0l2 1l2 0l2 0l2 0l2 0l2 0l2 0l2-1l2 0l2 0l2 0l2 0l2 0l2 0l2 0l2 0l2 0l2 0l2 0l2 0l2 0l2 0l2 1l2-1l2 0l2 0l2 0l2 0l2 0l2 0l2-1l2 0l2 0l2 1l2 0l2 0l2 0l2 1l2 0l2 0l2 0l2 0l2 0l2 0l2 0l2 0l2-1l2 0l2 0l2 1l2-1l2 0l2 0l2 0l2 0l2 0l2 0l2 0l2 0l2 0l2 0l2 1l2-1l2 0l2 1l2-1l2 0l2 0l2 0l2 1l2 0l2 0l2 0l2 0l2 0l2 0l2 0l2 0l2-1l2 0l2 0l2-1l2 0l2 0l2 0l2 0l2 0l2 0l2 1l2 0l2 0l2 1l2 0l2 0l2 0l2 0l2 0l2 0l2-1l2-1l2 0l2 0l2 0l2 0l2 1l2-1l2 1l2 0l2 0l2 0l2 0l2 0l2 0l2 0l2-1l2 0l2 0l2 1l2-1l2 0l2 0l2 1l2 0l2-1l2 1l2 0l2 0l2 1l2-1l2 0l2 0l2 0l2-1l2 0l2 0l2 0l2 0l2 0l2 0l2 1l2 0l2 0l2 0l2 1l2 0l2 0l2 0l2 0l2-1l2 0l2-1l2 0l2 0l2 0l2 0l2 0l2 0l2 1l2 0l2 0l2 0l2 0l2 1l2 0l0 3l-2 0l-2 0l-2 0l-2 1l-2-1l-2 1l-2 0l-2 1l-2-1l-2 1l-2-1l-2 0l-2 0l-2-1l-2 0l-2 0l-2 0l-2 0l-2 0l-2 0l-2 0l-2 0l-2 0l-2 1l-2 1l-2-1l-2 0l-2 0l-2 1l-2-1l-2 0l-2-1l-2 0l-2 0l-2 0l-2 0l-2 0l-2 1l-2 0l-2 0l-2-1l-2 1l-2 0l-2 0l-2 1l-2-1l-2 0l-2 0l-2 0l-2 0l-2 0l-2 0l-2-1l-2 0l-2 1l-2-1l-2 1l-2-1l-2 1l-2 0l-2 1l-2-1l-2 0l-2 0l-2-1l-2 1l-2-1l-2-1l-2 1l-2 0l-2 0l-2-1l-2 1l-2 0l-2 1l-2 1l-2-1l-2 0l-2 0l-2 0l-2 1l-2-1l-2 0l-2-1l-2 0l-2 0l-2 0l-2-1l-2 1l-2 0l-2 0l-2 0l-2 0l-2 0l-2 0l-2 0l-2 0l-2 0l-2 0l-2 0l-2 0l-2 0l-2 0l-2 0l-2 0l-2 0l-2 1l-2-1l-2 0l-2 0l-2 0l-2 0l-2 0l-2 0l-2 0l-2 0l-2 0l-2 0l-2 0l-2 0l-2-1l-2 0l-2 1l-2 0l-2-1l-2 1l-2 0l-2 0l-2 0l-2 1l-2 0l-2 0l-2 0l-2 0l-2 0l-2 0l-2-1l-2 0l-2 0l-2 1l-2 0l-2-1l-2 0l-2 0l-2 1l-2 0l-2 0l-2-1l-2 1l-2-1l-2 1l-2 0l-2-1l-2 0l-2 0l-2 0l-2 0l-2 0l-2-1l-2 1l-2-1l-2 0l-2 0l-2 1l-2 1l-2 0l-2-1l-2 1l-2 0l-2 0l-2-1l-2 0l-2-1l-2 0l-2 0l-2 0l-2 0l-2 0l-2 0l-2 0l-2 1l-2 0l-2 1l-2-1l-2 0l-2 0l-2 0l-2 0l-2 0l-2-1l-2 0l-2 0l-2 0l-2 0l-2 0l-2 0l-2 0l-2 0l-2 0l-2 1l-2 0l-2 0l-2 0l-2-1l-2 0l-2 0l-2 0l-2 0l-2 0l-2 0l-2 0l-2 0l-2 0l-2 0l-2 0l-2 0l-2 0l-2 0z"/>
<path fill="#ff0000" fill-opacity="0.8" stroke="#ff0000" d="M1164 429l2 0l2 0l2 0l2-1l2 1l2 0l2-1l2 1l2-1l2 1l2 0l2 0l2 0l2 0l2 0l2 0l2 0l2 0l2 0l2 0l2 0l2 0l2-1l2 1l2 0l2 0l2 0l2-1l2 1l2 0l2 0l2 0l2 0l2 0l2 0l2 0l2 0l2 0l2 0l2 0l2 0l2 0l2-1l2 1l2 0l2 0l2 0l2 0l2 0l2 0l2 0l2 0l2 0l2 0l2 0l2 0l2 0l2 0l2 0l2-1l2 0l2 0l2 0l2 0l2 0l2 1l2 0l2 0l2 0l2 0l2 0l2 0l2 0l2 0l2 0l2 0l2 0l2 0l2 0l2 0l2 0l2-1l2 0l2 0l2 1l2-1l2 1l2 0l2 0l2 0l2 0l2 0l2 0l2 0l2 0l2 0l2 0l2 0l2-1l2 0l2 0l2 0l2 0l2 1l2 0l2 0l2 0l2 0l2 0l2 0l2 0l2 0l2 0l2 0l2-1l2 1l2-1l2 0l2 1l2-1l2 0l2 1l2 0l2 0l2 0l2 0l2 0l2 0l2 0l2 0l2 0l2 0l2 0l2-1l2 0l2 0l2 0l2 0l2 0l2 0l2 0l2 0l2 1l2-1l2 0l2 1l2 0l2 0l2 0l2 0l2 0l2 0l2 0l2 0l2 0l2 0l2 0l2 0l2 0l2 0l2 0l2 0l2 0l2 0l2 0l2 0l2 0l2 0l2 0l2 0l2-1l2 0l2 0l2 0l2 0l2 1l2 0l2-1l2 1l2-1l2 0l2 1l2 0l2 0l2 0l2 0l2 0l2 0l2 0l2 0l2-1l2 0l2 1l2-1l2 0l2 1l2-1l2 0l2 0l2 1l2 0l2-1l2 1l2 0l2 0l2 0l2-1l2 1l2 0l2 0l2 0l2 0l2 0l2 0l2 0l2 0l2 0l2 0l2 0l2 0l2 0l2 0l2 0l2 0l2 0l2 0l2 0l2 0l2 0l2 0l2 0l2 0l2 0l2 0l2 0l0 1l-2 0l-2 0l-2 1l-2-1l-2 1l-2-1l-2 0l-2 0l-2 1l-2-1l-2 0l-2 0l-2 0l-2 0l-2 0l-2 0l-2 1l-2 0l-2-1l-2 0l-2 0l-2 0l-2 0l-2 0l-2 1l-2 0l-2-1l-2 0l-2 0l-2 0l-2 1l-2-1l-2 1l-2 0l-2 0l-2-1l-2 1l-2-1l-2 1l-2 0l-2 0l-2 0l-2 0l-2 0l-2-1l-2 0l-2 0l-2 0l-2 0l-2 0l-2 0l-2 0l-2 1l-2-1l-2 1l-2 0l-2 0l-2 0l-2 0l-2 0l-2 0l-2 0l-2-1l-2 1l-2-1l-2 0l-2 0l-2 1l-2-1l-2 0l-2 0l-2 0l-2 0l-2 0l-2 0l-2 0l-2 0l-2 0l-2 0l-2 0l-2 0l-2 0l-2 0l-2 0l-2 0l-2 1l-2 0l-2 0l-2 0l-2 0l-2 0l-2-1l-2 1l-2-1l-2 1l-2 0l-2 0l-2 0l-2-1l-2 1l-2-1l-2 0l-2 0l-2 0l-2 0l-2 0l-2 0l-2 0l-2 0l-2 0l-2 0l-2 1l-2 0l-2 0l-2 0l-2 0l-2 0l-2-1l-2 1l-2-1l-2 0l-2 0l-2 0l-2 0l-2 0l-2 0l-2 0l-2 0l-2 0l-2 1l-2 0l-2 0l-2 0l-2 0l-2-1l-2 1l-2-1l-2 0l-2 0l-2 0l-2 0l-2 0l-2 0l-2 0l-2 0l-2 0l-2 0l-2 0l-2 0l-2 1l-2 0l-2 0l-2-1l-2 1l-2-1l-2 0l-2 0l-2 0l-2 0l-2 0l-2 0l-2 0l-2 0l-2 0l-2 0l-2 0l-2 0l-2 0l-2 1l-2 0l-2 0l-2 0l-2 0l-2 0l-2 0l-2-1l-2 0l-2 0l-2 0l-2 0l-2 0l-2 0l-2 0l-2 0l-2 0l-2 0l-2 0l-2 0l-2 1l-2 0l-2-1l-2 0l-2 0l-2 0l-2 0l-2 0l-2 0l-2 0l-2 0l-2 0l-2 0l-2 0l-2 0l-2 0l-2 0l-2 1l-2 0l-2 0l-2-1l-2 1l-2 0l-2 0l-2-1l-2 0l-2 0l-2 0l-2 0l-2 0l-2 0l-2 0l-2 0l-2 0l-2 0l-2 1l-2 0l-2 0l-2 0l-2-1l-2 1l-2 0l-2 0l-2-1l-2 0l-2 0l-2 0z"/>
<path fill="#0000ff" fill-opacity="0.8" stroke="#0000ff" d="M223 451l2 1l2-1l2 0l2 0l2 1l2-1l2 1l2 0l2 0l2-1l2 1l2-1l2 0l2 0l2 0l2 0l2 0l2 0l2 0l2 0l2-1l2 1l2 0l2 0l2 0l2 1l2 0l2 0l2 0l2 0l2 0l2 0l2 0l2-1l2 0l2 0l2 0l2 0l2 0l2 0l2 1l2-1l2 1l2 0l2 0l2 0l2 0l2 0l2-1l2 0l2 1l2-1l2-1l2 0l2 1l2 0l2 0l2-1l2 1l2 0l2 0l2 1l2 0l2 0l2 0l2 0l2 0l2 0l2 0l2-1l2 0l2 0l2-1l2 0l2 0l2 1l2 0l2 0l2 1l2 0l2 0l2 0l2 0l2-2l2 2l2-5l2 3l2 0l2 1l2 0l2 0l2 0l2 0l2-1l2 1l2 0l2 1l2-1l2 1l2 1l2-1l2 0l2 0l2 0l2 0l2 0l2 0l2 0l2-1l2 0l2 0l2 0l2 0l2 0l2 1l2-1l2 1l2 0l2 0l2 0l2 0l2-1l2 0l2 1l2-1l2 0l2-1l2-1l2 1l2 1l2-1l2 0l2 1l2 0l2 1l2 0l2 0l2 0l2 0l2 0l2 0l2 0l2 0l2 0l2-1l2 0l2 0l2 0l2-1l2 1l2 1l2-1l2 1l2 0l2 0l2 0l2 0l2 0l2 0l2 0l2 0l2-1l2 0l2 0l2 0l2 0l2 0l2 1l2 0l2-1l2 1l2 0l2 0l2 0l2 0l2 0l2 0l2 0l2 0l2-1l2 0l2 0l2 0l2 0l2-1l2 0l2 1l2 0l2 1l2 0l2 0l2 0l2 0l2 0l2 0l2-1l2 1l2-1l2 0l2 1l2-1l2 1l2 0l2-1l2 1l2 0l2 0l2 0l2 0l2 0l2 0l2 0l2 0l2 0l2 0l2-1l2-1l2 0l2 1l2-1l2 1l2 0l2 1l2 0l2 0l2 0l2 0l2 0l2 1l2-1l2 0l2 0l2 0l2 0l2 0l2 0l2-1l2 0l2 0l2 0l2 0l2 0l2 0l2 1l2-1l2 1l2 0l2 0l2-1l2 1l2 0l2 0l2 0l2-1l2 0l2 0l2-1l2 1l2 1l2-1l2 1l2 0l2 0l2 0l2 0l2 0l2 0l2 0l2 0l2-1l2 0l2 0l2 0l2-1l2 1l2-1l2 1l2 0l2 1l2 0l2 0l2 0l2 0l2 1l2-1l2 0l2 0l2 0l2 0l2 0l2 0l2-1l2 0l2 0l2 0l2 0l2 0l2 0l2 0l2 1l2-1l2 1l2 0l2 0l2 0l2 0l2 0l2 0l2-1l2 0l2-1l2 0l2 0l2 1l2-1l2 0l2 1l2 0l2 0l2 1l2 0l2 0l2 0l2 0l2 0l2 0l2 0l2 0l2 0l2-1l2 0l2 0l2-1l2 1l2 1l2 0l2 0l2 0l2 0l2 0l2 0l2 0l2 0l2 0l2 0l2-1l2 0l2-1l2 1l2 0l2-1l2 0l2 2l2 0l2-1l2 1l2 0l2 0l2 0l2 0l2 0l2 0l2-1l2 1l2-1l2 0l2 0l2 0l2 0l2-1l2 1l2 0l2 1l2 0l2 0l2 0l2 0l2 0l2 0l2 0l2 0l2 0l2 0l2 0l2-1l2 0l2 0l2 0l2 0l2 0l2 1l2 0l2 0l2 0l2 0l2 0l2 0l2 0l2 0l2 0l2 0l2 0l2-1l2 0l2 0l2 1l2-1l2 1l2 0l2 0l2 0l2 0l2 0l2 0l2 0l2-3l2-1l2 1l2 0l2 3l2-1l2 0l2 0l2 0l2 0l2-1l2 1l2 0l2 0l2 0l2 1l2 0l2-1l2 1l2 0l2 0l2 0l2 0l2 0l2 0l2 0l2 0l2-1l2 1l2-1l2 1l2 0l2 0l2 0l2 0l2 0l2-1l2 1l2-1l2 0l2 0l2 0l2 1l2-1l2 0l2 1l2-1l2 0l2 0l2 0l2 1l2-1l2 1l2 0l2 0l2 0l2 0l2 0l2 0l2 0l2 0l2-1l2 0l2 0l2 1l2 0l2 0l2 0l2 0l2 0l2 0l2 0l2 0l2 0l2 0l2 0l2 0l2 0l2 0l2-1l2 1l2-1l2 0l2 0l2-1l2 1l2 0l2 1l2 0l2 0l2 0l2 0l2 0l2 0l2 0l2 0l2 0l2-1l2-1l2 1l2-1l2 1l2 0l2-1l2 1l2 0l2 1l2 0l2 0l2 0l2 0l2 0l2 0l2 0l2 0l2-1l2 0l2 1l2 0l2-1l2 1l2 0l2 0l2 0l2 0l2 0l2 0l2 0l2 1l2-1l2 0l2 0l2 0l2 0l2-1l2 0l2-1l2 1l2 0l2-1l2 1l2 0l2 1l2 0l2 0l2 0l2 0l2 1l2-1l2 0l2 0l2-1l2 0l2 0l2 0l2 0l2 1l2 0l2 0l2 0l2 0l2 0l2 0l2 0l2 0l2 0l2 0l2 0l2-1l2 0l2 0l2 0l2 0l2-1l2 1l2 0l2 0l2 1l2 0l2 0l2 0l2 0l2 1l2-1l2 0l2 0l2 0l2 0l2-1l2-1l2 1l2-1l2 0l2 0l2 1l2 1l2 0l2-1l2 1l2 0l2 0l2 0l2 0l2 0l2 0l2 0l2 0l2 0l2 0l2 0l2 0l2-1l2 1l2-1l2 1l2-1l2 0l2 0l2 0l2 1l2 0l2 0l2 0l2 0l2-1l2 0l2-2l2-1l2 1l2 1l2 1l2 0l2 0l2 1l2 0l2 0l2 0l2 0l2 0l2 0l2 0l2-1l2 1l2-1l2 0l2 1l2-1l2 0l2 0l2 1l2 0l2 0l2 0l2 0l2 0l2 0l2 0l2-1l2 1l2-1l2 1l2-1l2 0l2 0l2 0l2 1l2 0l2 0l2 0l2 0l2 0l2-1l2 1l2-1l2 0l2 1l2 0l2 0l2 0l2 0l2-1l2 0l2 0l2 0l2 0l2 0l2 0l2 0l2 1l2 0l2 0l0 4l-2 0l-2 0l-2 0l-2 1l-2 0l-2 0l-2 0l-2 0l-2-1l-2 0l-2 0l-2 0l-2 0l-2 0l-2 0l-2 0l-2 0l-2 0l-2 0l-2 0l-2-1l-2 1l-2 0l-2 0l-2 0l-2 0l-2 0l-2 0l-2 1l-2 0l-2 0l-2-1l-2 0l-2 0l-2 0l-2 0l-2 0l-2 0l-2 0l-2 0l-2 0l-2 0l-2 0l-2 0l-2 1l-2 0l-2-1l-2 1l-2-1l-2 0l-2 0l-2 0l-2 0l-2-1l-2 1l-2 0l-2 1l-2 0l-2 0l-2 0l-2 2l-2 0l-2 1l-2-2l-2-1l-2 0l-2-1l-2-1l-2 0l-2 1l-2 0l-2 0l-2 0l-2 0l-2 0l-2 0l-2 0l-2 0l-2 0l-2 0l-2 0l-2 0l-2 0l-2 0l-2 0l-2-1l-2 1l-2-1l-2 1l-2 0l-2 0l-2 0l-2 0l-2 0l-2 0l-2 1l-2 0l-2 0l-2 0l-2 0l-2 0l-2 0l-2-1l-2 0l-2 0l-2-1l-2 0l-2 1l-2 0l-2-1l-2 1l-2 0l-2 1l-2-1l-2 0l-2 1l-2-1l-2 1l-2 0l-2 0l-2-1l-2 1l-2-1l-2 0l-2 0l-2 0l-2 0l-2-1l-2 1l-2 0l-2 0l-2 0l-2 0l-2 0l-2 1l-2 0l-2 0l-2 0l-2-1l-2 1l-2-1l-2 0l-2 0l-2-1l-2 0l-2 0l-2 1l-2 0l-2 1l-2 0l-2 0l-2 0l-2 0l-2 1l-2 0l-2-1l-2-1l-2-1l-2 1l-2 0l-2 0l-2 0l-2-1l-2 1l-2 0l-2 0l-2 0l-2 0l-2 0l-2 0l-2 0l-2 0l-2 1l-2 0l-2 0l-2-1l-2 0l-2 0l-2 0l-2-1l-2 1l-2 0l-2 0l-2 0l-2 0l-2 1l-2 0l-2 1l-2 0l-2-1l-2 0l-2 0l-2 0l-2-1l-2 0l-2-1l-2 1l-2 0l-2 0l-2 0l-2 0l-2 0l-2 1l-2 0l-2 1l-2-1l-2 0l-2 1l-2-1l-2-1l-2 0l-2 0l-2 0l-2 0l-2 0l-2-1l-2 1l-2 0l-2 0l-2 0l-2 0l-2 1l-2-1l-2 1l-2 0l-2-1l-2 0l-2 0l-2 1l-2-1l-2 0l-2 0l-2 0l-2 0l-2 0l-2 0l-2 0l-2 0l-2 0l-2 0l-2 0l-2 0l-2 0l-2 0l-2 0l-2 0l-2 1l-2 0l-2 0l-2 0l-2-1l-2 1l-2-1l-2 0l-2 0l-2 0l-2 0l-2 0l-2 0l-2 0l-2 0l-2 0l-2 0l-2 0l-2 0l-2 0l-2 0l-2 0l-2 0l-2-1l-2 0l-2 1l-2 0l-2 0l-2 0l-2 0l-2 0l-2 1l-2 0l-2 0l-2 0l-2 0l-2 0l-2 0l-2 0l-2-1l-2 0l-2 3l-2 1l-2-1l-2-3l-2 0l-2 0l-2 0l-2 0l-2 0l-2 1l-2 0l-2 0l-2 0l-2-1l-2 0l-2 0l-2 0l-2 0l-2 0l-2 0l-2 0l-2 0l-2 0l-2-1l-2 1l-2 0l-2 0l-2 0l-2 0l-2 0l-2 1l-2 0l-2 0l-2-1l-2 0l-2 0l-2-1l-2 1l-2-1l-2 1l-2-1l-2 0l-2 1l-2 0l-2 0l-2 0l-2 0l-2 1l-2 0l-2 0l-2 0l-2 0l-2 0l-2 0l-2-1l-2 0l-2 0l-2 0l-2 0l-2-1l-2 0l-2 1l-2 0l-2 0l-2 0l-2 1l-2 0l-2 0l-2 1l-2-1l-2 0l-2 0l-2 0l-2-1l-2 0l-2 0l-2 0l-2 0l-2 0l-2 0l-2-1l-2 1l-2 1l-2-1l-2 1l-2-1l-2 1l-2 0l-2 0l-2 0l-2-1l-2 0l-2 0l-2-1l-2 1l-2 0l-2 0l-2 0l-2 0l-2 0l-2 0l-2 0l-2 1l-2 0l-2 0l-2 0l-2 1l-2 0l-2-2l-2 0l-2 0l-2-1l-2 1l-2 0l-2 0l-2 0l-2 0l-2 0l-2 0l-2 1l-2 0l-2 1l-2-1l-2 1l-2-1l-2 0l-2 0l-2-1l-2 0l-2 0l-2-1l-2 1l-2-1l-2 1l-2 0l-2 0l-2 0l-2 0l-2 0l-2 0l-2 1l-2 0l-2 0l-2 0l-2 0l-2 0l-2 0l-2 0l-2 0l-2-1l-2 0l-2 0l-2 0l-2-1l-2 1l-2-1l-2 1l-2 0l-2 1l-2-1l-2 0l-2 1l-2 0l-2 0l-2 0l-2-1l-2 0l-2 0l-2 0l-2 0l-2 0l-2 0l-2 0l-2 0l-2 1l-2-1l-2 1l-2 0l-2 0l-2-1l-2 0l-2 0l-2 1l-2-1l-2 0l-2-1l-2 1l-2 0l-2-1l-2 1l-2-1l-2 1l-2-1l-2 1l-2 0l-2 1l-2 0l-2 0l-2 1l-2-1l-2 0l-2-1l-2 0l-2 1l-2-1l-2 0l-2 0l-2 0l-2-1l-2 0l-2 0l-2 1l-2 0l-2 0l-2 0l-2 0l-2 1l-2-1l-2 1l-2 0l-2-1l-2 0l-2 0l-2 0l-2 0l-2-1l-2 1l-2 0l-2-1l-2 1l-2 0l-2 0l-2 1l-2 1l-2-1l-2 0l-2-1l-2 0l-2 1l-2 0l-2-1l-2 0l-2 0l-2 0l-2 0l-2 0l-2 0l-2 0l-2 0l-2 0l-2 0l-2 1l-2 1l-2-2l-2 1l-2-1l-2 0l-2-1l-2 1l-2-1l-2 0l-2 1l-2 0l-2-1l-2 1l-2 0l-2 0l-2 1l-2 0l-2 0l-2-1l-2 0l-2 1l-2-1l-2 0l-2 0l-2 0l-2-1l-2 0l-2 0l-2 1l-2 0l-2 0l-2 0l-2 1l-2 0l-2 0l-2 0l-2 1l-2-1l-2 2l-2-2l-2 0l-2 0l-2-1l-2 0l-2 0l-2 0l-2 0l-2-1l-2 1l-2 0l-2 0l-2 0l-2 1l-2 0l-2 0l-2-1l-2 1l-2 0l-2-1l-2 0l-2-1l-2 1l-2-1l-2 0l-2 0l-2 1l-2-1l-2 1l-2 0l-2 0l-2 1l-2-1l-2 1l-2 0l-2 0l-2 0l-2 0l-2 0l-2 1l-2 1l-2 2l-2-5l-2-1l-2 1l-2 0l-2-1l-2 1l-2 0l-2 0l-2 1l-2 0l-2 1l-2-1l-2 0l-2 0l-2 0l-2-1l-2 0l-2 0l-2-1l-2 1l-2-1l-2 0l-2 1l-2 0l-2 0l-2 1l-2 0l-2 0l-2 0l-2 0l-2 0l-2 1l-2 0l-2-1l-2 0l-2-1l-2 0l-2 0l-2 0l-2 0l-2 0l-2 0l-2 1l-2-1l-2 1l-2 0l-2 0l-2-1l-2 1l-2 0l-2-1l-2 0l-2 0l-2-1l-2 1l-2 0l-2-1l-2 1l-2 0l-2 0l-2 1l-2 0l-2 0l-2 0l-2 1l-2-1l-2 0l-2-1l-2 0l-2 0l-2 1l-2-1l-2 0l-2 0l-2 0l-2 0l-2 0l-2 0l-2 0l-2 0l-2 0l-2 0l-2 0l-2 1l-2 0l-2 0z"/>
<path fill="#ff0000" fill-opacity="0.8" stroke="#ff0000" d="M223 476l2 0l2 0l2 0l2 0l2 0l2 0l2 0l2 0l2 0l2 0l2 0l2-1l2 1l2 0l2-1l2 1l2 0l2 0l2-1l2 1l2 0l2-1l2 0l2 0l2 0l2 0l2 0l2 0l2 1l2 0l2 0l2 0l2 0l2 0l2 1l2 0l2-1l2 0l2 0l2 0l2 0l2-1l2 0l2 0l2 0l2 1l2-1l2 0l2 0l2 0l2 1l2 0l2 1l2-1l2 0l2 0l2 0l2 0l2 0l2 0l2 0l2 0l2-1l2 1l2 0l2 0l2 0l2 0l2 0l2 0l2 0l2 0l2 1l2-1l2 0l2 0l2 0l2 0l2 0l2 0l2 0l2 0l2 0l2 0l2 0l2 0l2-1l2 0l2 1l2-1l2 1l2 0l2 0l2 0l2 0l2 0l2 1l2-1l2 0l2 0l2 1l2 0l2 0l2-1l2 0l2-1l2 1l2 0l2 0l2-1l2 0l2 0l2 1l2 0l2 0l2 0l2 0l2 0l2 0l2 0l2 0l2 1l2-1l2 0l2 1l2-1l2 0l2 0l2-1l2 1l2 0l2 0l2 0l2 0l2 0l2 0l2 0l2 0l2 0l2 0l2 0l2 0l2 1l2-1l2 0l2 0l2 0l2 0l2 0l2 0l2-1l2 0l2 1l2 0l2-1l2 0l2 0l2 1l2 0l2 0l2 1l2 0l2 0l2-1l2 1l2-1l2 1l2-1l2 0l2 0l2 0l2 0l2 0l2 0l2 0l2-1l2 1l2 0l2-1l2 0l2 1l2 0l2 0l2 1l2 0l2-1l2-3l2 1l2 3l2-1l2 0l2 0l2 0l2-1l2 1l2-1l2 0l2 1l2 0l2 0l2 0l2 0l2 0l2 0l2 0l2 0l2 1l2-1l2 1l2-1l2 0l2 0l2 0l2 0l2-1l2 0l2 0l2 0l2 0l2 0l2 1l2 0l2 0l2 1l2-1l2 0l2 0l2 0l2 0l2 0l2 0l2 0l2-1l2 1l2 0l2-1l2 1l2-1l2 1l2 0l2 0l2 0l2 0l2 1l2-1l2 1l2-1l2 1l2 0l2 0l2-1l2 0l2 0l2 0l2 0l2-1l2 1l2 0l2-1l2 1l2-1l2 1l2 1l2-1l2 0l2 1l2-1l2 0l2 1l2-1l2 1l2-1l2 1l2-1l2 0l2 0l2-1l2 1l2-1l2 1l2 0l2 0l2 0l2 0l2 0l2 0l2 1l2-1l2 0l2 0l2 1l2 0l2 0l2-1l2 0l2 0l2 0l2 0l2 0l2 0l2 0l2 0l2 0l2 0l2 0l2 0l2 1l2 0l2 0l2 0l2-1l2 0l2 0l2 0l2-1l2 0l2 0l2 1l2-1l2 0l2 0l2 1l2 0l2 0l2 0l2 0l2 1l2 0l2 0l2 0l2 0l2 0l2 0l2-1l2 1l2-1l2 0l2-1l2 1l2-1l2 1l2-1l2 1l2-1l2 1l2 0l2 1l2-1l2 1l2 0l2 0l2-3l2-1l2 1l2 2l2 1l2-1l2 1l2-1l2 0l2 0l2 0l2 0l2 0l2 0l2 0l2 0l2 0l2 0l2 1l2-1l2 1l2 0l2-1l2 1l2 0l2-1l2 0l2-1l2 0l2 1l2-1l2 0l2 0l2 0l2 0l2 1l2 1l2 0l2-1l2 0l2 1l2 0l2 0l2-1l2 0l2 0l2 0l2 0l2-1l2 0l2 1l2-1l2 0l2 0l2 0l2 1l2 0l2 0l2 1l2 0l2 0l2 0l2-1l2 0l2 0l2 0l2 1l2 0l2-1l2 0l2 0l2 0l2 0l2 0l2 0l2 0l2 0l2 1l2 0l2 0l2 0l2 0l2-1l2 0l2 0l2 0l2 0l2 0l2 0l2 0l2 0l2 0l2 0l2 0l2 0l2 0l2 0l2-1l2 1l2 0l2 0l2 0l2 0l2 0l2 0l2 0l2 1l2-1l2 0l2 0l2 0l2 0l2 0l2 0l2 0l2 0l2 0l2 1l2-1l2 0l2 0l2 1l2 0l2-1l2 0l2 1l2 0l2-1l2 0l2 0l2 0l2-1l2 1l2-1l2 1l2-1l2 1l2 0l2 0l2 0l2 0l2 0l2 1l2 0l2 0l2 0l2-1l2 1l2 0l2-1l2 0l2 0l2 0l2-1l2 1l2 0l2 0l2 0l2 0l2 0l2 0l2 1l2 0l2-1l2 0l2 1l2 0l2-1l2 1l2 0l2 0l2-1l2 0l2 0l2-1l2 0l2 0l2 0l2 0l2 0l2 1l2 0l2 1l2-1l2 0l2 0l2 1l2-1l2 1l2 0l2-1l2 0l2 0l2 0l2-1l2 1l2 0l2-1l2 0l2 0l2 1l2 0l2 0l2 0l2-3l2-2l2 4l2 2l2 0l2 0l2-1l2 0l2 0l2 0l2 0l2-1l2 1l2 0l2 0l2 0l2 0l2 0l2 0l2 1l2 0l2 0l2 0l2 0l2-1l2 0l2 0l2 0l2 0l2 0l2-1l2 1l2 0l2-1l2 1l2 0l2 0l2 0l2 0l2 1l2-1l2 1l2 0l2 0l2 0l2 0l2 0l2-1l2 0l2 0l2-1l2 0l2 1l2-1l2 1l2-1l2 0l2 1l2 0l2 0l2 0l2 1l2 0l2 0l2 0l2 0l2 0l2-1l2 0l2 1l2 0l2 0l2-1l2 0l2 1l2 0l2-1l2 0l2 0l2 0l2 0l2 0l2 0l2 0l2-1l2 1l2 0l2 0l2 0l2 0l2 0l2 0l2 0l2 0l2 0l2 0l2 0l2 0l2 0l2 0l2 0l2 0l2 0l2 0l2 0l2 0l2 0l2 0l2 0l2 0l2 0l2-1l2 1l2-1l2 1l2 0l2 0l2 0l2 0l2 1l2 0l2-1l2 1l2-1l2 1l2-1l2 1l2-1l2 0l2 0l2-1l2 0l2 0l2 1l2-1l2 1l2 0l2 0l2 0l2 1l2 0l2 0l2-1l2 0l2 0l2 0l2 1l2-1l2 1l2 0l2 0l0 3l-2 0l-2 0l-2 0l-2 0l-2 0l-2 0l-2 0l-2 0l-2 0l-2 0l-2 0l-2 0l-2 0l-2 1l-2 0l-2 0l-2 0l-2 0l-2 0l-2 0l-2 0l-2 0l-2-1l-2 0l-2 0l-2-1l-2 1l-2 0l-2 0l-2 0l-2-1l-2 1l-2 0l-2 0l-2 1l-2 0l-2 0l-2 0l-2-1l-2 0l-2 0l-2 0l-2 1l-2-1l-2 0l-2 1l-2 0l-2-1l-2 0l-2 1l-2-1l-2 0l-2 0l-2 0l-2 1l-2 0l-2 0l-2-1l-2 0l-2 0l-2 0l-2 0l-2 1l-2 0l-2 0l-2-1l-2 1l-2-1l-2 1l-2-1l-2 0l-2 0l-2 1l-2-1l-2 0l-2 0l-2 0l-2 0l-2 0l-2 0l-2 0l-2 0l-2 0l-2 0l-2 0l-2 0l-2 0l-2 0l-2 0l-2 0l-2 0l-2 0l-2 1l-2 0l-2 0l-2-1l-2 0l-2 1l-2 0l-2-1l-2 0l-2 0l-2 0l-2 0l-2-1l-2 1l-2 0l-2 0l-2 0l-2-1l-2 1l-2 0l-2 0l-2 0l-2 0l-2 1l-2 0l-2 0l-2 0l-2 0l-2 0l-2-1l-2 0l-2 0l-2 0l-2 0l-2 0l-2 0l-2 0l-2 0l-2 0l-2 0l-2 1l-2-1l-2 1l-2 0l-2 0l-2 0l-2 0l-2 0l-2 0l-2 0l-2-1l-2 0l-2 0l-2-1l-2 1l-2 4l-2 1l-2-2l-2-3l-2 1l-2 0l-2 0l-2 0l-2 0l-2 0l-2 0l-2 0l-2-1l-2 1l-2 0l-2 0l-2-1l-2 0l-2 0l-2 0l-2 0l-2 0l-2-1l-2 1l-2 0l-2 0l-2 1l-2 0l-2 0l-2 0l-2 0l-2 0l-2 0l-2 0l-2-1l-2 1l-2-1l-2 0l-2 0l-2 0l-2 0l-2-1l-2 1l-2 0l-2 0l-2 0l-2 0l-2 1l-2-1l-2 0l-2 0l-2 0l-2 1l-2 0l-2-1l-2 0l-2 0l-2 0l-2 0l-2 0l-2 0l-2 0l-2 0l-2 0l-2 0l-2 0l-2 0l-2 0l-2 0l-2 0l-2 0l-2 0l-2 1l-2-1l-2 1l-2 0l-2 0l-2 0l-2-1l-2 0l-2 0l-2 0l-2-1l-2 1l-2 0l-2 0l-2 0l-2 0l-2 0l-2 0l-2 0l-2 0l-2 0l-2 0l-2 0l-2 1l-2 0l-2-1l-2 0l-2 0l-2 0l-2 0l-2 0l-2 0l-2 0l-2 0l-2 0l-2 0l-2 1l-2-1l-2 0l-2 1l-2-1l-2 0l-2 0l-2 0l-2 1l-2 0l-2 0l-2-1l-2 0l-2 0l-2 1l-2-1l-2 0l-2 0l-2 0l-2 0l-2 0l-2 0l-2 0l-2 0l-2 0l-2 0l-2 1l-2-1l-2 0l-2 0l-2 0l-2 0l-2 0l-2 0l-2 0l-2 0l-2 0l-2 0l-2 0l-2 0l-2 0l-2 1l-2-1l-2 1l-2 0l-2 0l-2 0l-2 0l-2 0l-2 0l-2 0l-2-1l-2 1l-2-1l-2 0l-2 0l-2 0l-2 0l-2 0l-2 0l-2 0l-2 0l-2 0l-2 0l-2 1l-2 0l-2 0l-2 0l-2 0l-2 0l-2 0l-2 0l-2-1l-2 0l-2 0l-2 0l-2 0l-2 0l-2 0l-2 0l-2 0l-2 1l-2 0l-2-1l-2 1l-2 0l-2 0l-2-1l-2 0l-2 0l-2 0l-2 0l-2 0l-2 0l-2 0l-2 1l-2 1l-2 1l-2-3l-2 0l-2 0l-2 0l-2 0l-2 0l-2 1l-2-1l-2 1l-2 1l-2-1l-2 0l-2 0l-2 0l-2 0l-2-1l-2 0l-2 0l-2 0l-2 0l-2 0l-2 0l-2 0l-2 0l-2 0l-2 0l-2 0l-2 0l-2 0l-2 1l-2 0l-2 0l-2 0l-2 0l-2 0l-2 0l-2 0l-2 0l-2 0l-2-1l-2 0l-2 0l-2 0l-2 0l-2 0l-2 0l-2 0l-2 1l-2 0l-2 0l-2 0l-2-1l-2 0l-2 0l-2 0l-2 0l-2 1l-2 0l-2-1l-2 0l-2 0l-2 0l-2 0l-2 0l-2 0l-2 0l-2 0l-2 0l-2 1l-2-1l-2 1l-2 0l-2 0l-2 0l-2-1l-2 2l-2-1l-2 0l-2 0l-2-1l-2 0l-2 0l-2 0l-2 0l-2 0l-2 0l-2 0l-2 0l-2 0l-2 0l-2 0l-2 1l-2 0l-2 0l-2 0l-2 0l-2 0l-2 0l-2 0l-2 0l-2 0l-2-1l-2 0l-2 0l-2 0l-2 0l-2 0l-2 0l-2 1l-2 0l-2-1l-2 1l-2-1l-2 0l-2 1l-2-1l-2 1l-2 0l-2 0l-2 0l-2 0l-2 0l-2 0l-2-1l-2 0l-2 1l-2 0l-2-1l-2 0l-2 0l-2 0l-2 1l-2 0l-2 0l-2 0l-2 0l-2 0l-2 0l-2 0l-2-1l-2 0l-2 0l-2 0l-2 0l-2 0l-2 0l-2 0l-2 0l-2 0l-2 0l-2 0l-2 0l-2 1l-2-1l-2 0l-2 1l-2 1l-2-1l-2 0l-2 0l-2 0l-2-1l-2 1l-2 0l-2-1l-2 3l-2 0l-2-3l-2 0l-2 0l-2 0l-2 0l-2 0l-2 1l-2-1l-2 1l-2-1l-2 1l-2-1l-2 1l-2-1l-2 0l-2 0l-2 0l-2 1l-2-1l-2 0l-2 0l-2 0l-2 0l-2 0l-2 0l-2 0l-2 1l-2-1l-2 1l-2 0l-2 0l-2 0l-2 0l-2 0l-2 0l-2-1l-2 0l-2 0l-2 0l-2 0l-2 0l-2 0l-2 0l-2 0l-2 0l-2 1l-2-1l-2 1l-2 0l-2-1l-2 1l-2-1l-2 0l-2 0l-2 0l-2 1l-2 0l-2 0l-2 0l-2-1l-2 0l-2 0l-2 0l-2 0l-2 0l-2 0l-2 0l-2 0l-2 0l-2 1l-2 0l-2 0l-2 0l-2 0l-2 0l-2 0l-2 0l-2 0l-2-1l-2 0l-2 0l-2 0l-2 0l-2 0l-2 0l-2 0l-2 0l-2 0l-2 0l-2 0l-2 0l-2 0l-2 0l-2 0l-2 1l-2 0l-2 0l-2 1l-2-1l-2 1l-2-1l-2 0l-2-1l-2 1l-2-1l-2 0l-2 0l-2 0l-2 0l-2 0l-2 0l-2 0l-2 0l-2 0l-2 0l-2 0l-2 1l-2 0l-2 0l-2 0l-2 0l-2 0l-2-1l-2 1l-2 0l-2 0l-2 0l-2-1l-2 1l-2 0l-2-1l-2 1l-2-1l-2 1l-2-1l-2 1l-2 0l-2 0l-2 0l-2 0l-2 1l-2-1l-2 0l-2 0l-2 0l-2-1l-2 0l-2 0l-2 0l-2 0l-2 0l-2 0l-2 0l-2 0l-2 1l-2 0l-2 0l-2 0l-2 1l-2-1l-2 1l-2-1l-2 0l-2 0l-2 0l-2-1l-2 1l-2 0l-2-1l-2 1l-2 0l-2-1l-2 0l-2 0l-2 0l-2 0l-2 0l-2 0l-2 0l-2 1l-2 0l-2 0l-2-1l-2 1l-2 0l-2-1z"/>
<path fill="#0000ff" fill-opacity="0.8" stroke="#0000ff" d="M223 499l2-3l2 0l2 2l2 2l2 1l2 0l2 0l2 0l2 0l2-1l2 1l2 0l2 0l2 0l2 0l2 0l2 0l2 0l2 0l2 0l2 0l2 0l2 0l2 0l2 0l2 0l2 0l2-1l2 1l2 0l2 0l2 0l2 0l2 0l2 0l2 0l2 0l2 0l2 0l2 0l2 0l2 0l2 0l2 0l2 0l2 0l2 0l2 0l2 0l2 0l2 0l2 0l2 0l2 0l2 0l2 0l2 0l2 0l2 0l2 0l2 0l2 0l2 0l2 0l2 0l2 0l2 0l2-1l2 1l2-1l2 1l2 0l2 0l2 0l2 0l2 0l2 0l2 0l2 0l2 0l2 0l2 0l2 0l2 0l2 0l2 0l2-1l2 0l2 0l2 0l2 0l2 1l2 0l2 0l2 0l2 0l2 0l2 0l2 0l2 0l2 0l2 0l2 0l2 0l2 0l2 0l2 0l2 0l2 0l2 0l2 0l2 0l2 0l2 0l2 0l2 0l2 0l2 0l2 0l2 0l2 0l2 0l2 0l2 0l2 0l2 0l2 0l2 0l2 0l2 0l2 0l2 0l2-1l2 1l2 0l2 0l2 0l2 0l2 0l2 0l2 0l2 0l2 0l2 0l2 0l2 0l2-2l2 2l2 0l2 0l2 0l2 0l2 0l2 0l2 0l2-1l2 0l2 1l2 0l2-1l2 1l2 0l2 0l2 0l2 0l2 0l2 0l2 0l2 0l2 0l2 0l2-1l2-3l2 0l2 3l2 1l2 0l2 0l2 0l2 0l2 0l2 0l2 0l2 0l2 0l2 0l2 0l2 0l2 0l2 0l2 0l2 0l2 0l2 0l2-1l2 1l2 0l2 0l2-1l2 1l2 0l2 0l2 0l2 0l2-1l2 1l2 0l2-1l2 1l2 0l2 0l2-1l2 1l2 0l2-1l2 1l2 0l2 0l2 0l2 0l2 0l2 0l2 0l2-1l2 1l2 0l2 0l2 0l2 0l2 0l2 0l2 0l2 0l2 0l2 0l2 0l2 0l2 0l2 0l2 0l2 0l2 0l2 0l2 0l2 0l2 0l2 0l2 0l2 0l2 0l2 0l2 0l2 0l2 0l2 0l2 0l2 0l2-1l2 0l2 1l2 0l2 0l2 0l2 0l2 0l2 0l2 0l2 0l2 0l2 0l2 0l2 0l2-1l2 1l2 0l2-1l2 1l2 0l2 0l2-1l2 0l2 1l2 0l2 0l2 0l2 0l2 0l2 0l2 0l2 0l2 0l2 0l2 0l2 0l2-1l2 1l2-1l2 1l2 0l2 0l2 0l2 0l2 0l2 0l2 0l2 0l2 0l2 0l2 0l2 0l2 0l2 0l2 0l2 0l2 0l2 0l2-1l2 1l2 0l2 0l2 0l2 0l2 0l2 0l2 0l2 0l2 0l2 0l2 0l2 0l2 0l2 0l2 0l2 0l2 0l2 0l2 0l2 0l2-1l2 0l2 1l2-1l2 1l2-1l2 1l2 0l2 0l2 0l2 0l2 0l2 0l2 0l2 0l2 0l2 0l2 0l2 0l2 0l2 0l2 0l2 0l2 0l2 0l2 0l2-1l2 1l2 0l2 0l2 0l2 0l2 0l2 0l2 0l2 0l2 0l2 0l2 0l2 0l2 0l2 0l2 0l2 0l2 0l2 0l2 0l2 0l2 0l2 0l2 0l2 0l2 0l2 0l2 0l2 0l2 0l2 0l2 0l2 0l2 0l2 0l2 0l2 0l2 0l2 0l2 0l2 0l2 0l2 0l2 0l2 0l2 0l2 0l2 0l2 0l2 0l2 0l2 0l2-1l2 1l2 0l2 0l2 0l2-1l2 1l2 0l2 0l2 0l2-1l2 0l2 1l2 0l2 0l2 0l2 0l2 0l2 0l2 0l2 0l2 0l2 0l2 0l2 0l2 0l2 0l2 0l2 0l2 0l2 0l2-1l2 1l2 0l2-1l2 1l2 0l2 0l2 0l2 0l2 0l2 0l2 0l2 0l2 0l2 0l2 0l2 0l2 0l2 0l2 0l2-1l2 1l2 0l2 0l2 0l2 0l2 0l2 0l2 0l2 0l2 0l2 0l2 0l2 0l2 0l2 0l2 0l2 0l2 0l2 0l2 0l2 0l2-1l2 1l2 0l2-1l2 1l2 0l2 0l2 0l2 0l2 0l2 0l2 0l2 0l2 0l2 0l2 0l2 0l2 0l2 0l2 0l2 0l2-1l2 1l2-1l2 0l2 0l2 1l2 0l2-1l2 1l2 0l2 0l2 0l2 0l2 0l2 0l2 0l2 0l2 0l2 0l2 0l2 0l2-1l2 1l2 0l2 0l2-1l2 0l2 1l2 0l2 0l2 0l2 0l2 0l2 0l2 0l2 0l2 0l2 0l2 0l2 0l2 0l2 0l2 0l2 0l2 0l2 0l2 0l2 0l2 0l2 0l2 0l2-1l2 0l2-3l2 4l2 0l2 0l2 0l2 0l2 0l2 0l2 0l2 0l2 0l2-1l2 1l2-1l2 1l2 0l2-1l2 0l2 1l2 0l2 0l2 0l2 0l2 0l2 0l2 0l2 0l2 0l2 0l2 0l2 0l2 0l2 0l2 0l2-1l2 1l2 0l2 0l2 0l2 0l2 0l2 0l2 0l2 0l2 0l2 0l2 0l2 0l2 0l2 0l2 0l2 0l2 0l2 0l2 0l2 0l2 0l2 0l2 0l2 0l2 0l2 0l2 0l2 0l2 0l2 0l2 0l2 0l2 0l2 0l2 0l2 0l2 0l2 0l2 0l2 0l2 0l2 0l2-1l2 1l2 0l2-1l2 1l2 0l2 0l2 0l2 0l2 0l2 0l2 0l2 0l2 0l2 0l2 0l2 0l2-1l2 0l2 1l2-1l2 0l2 0l2 1l2 0l2 0l2 0l2 0l2 0l2 0l2 0l2 0l2 0l2 0l2 0l2 0l2 0l2 0l2-1l2 0l2 0l2 0l2 0l2 1l2-1l2 0l2 0l2 1l2 0l2 0l2 0l2 0l2 0l2 0l2 0l2 0l2 0l2 0l2 0l2 0l2 0l2 0l2 0l2 0l0 4l-2-1l-2 1l-2-1l-2 0l-2 0l-2 0l-2 0l-2 0l-2 0l-2 0l-2 0l-2 0l-2 0l-2 0l-2 0l-2 0l-2 0l-2 1l-2 0l-2 0l-2-1l-2 1l-2 0l-2-1l-2 0l-2 0l-2 0l-2 0l-2 0l-2 0l-2 1l-2-1l-2 0l-2 0l-2 0l-2 0l-2 0l-2 0l-2 0l-2 0l-2 1l-2-1l-2 0l-2 0l-2 0l-2 1l-2 0l-2-1l-2 0l-2 0l-2 0l-2 0l-2 0l-2 0l-2 0l-2 0l-2 0l-2 1l-2-1l-2 1l-2 0l-2-1l-2 0l-2 1l-2-1l-2 1l-2-1l-2 0l-2 0l-2 0l-2 0l-2 0l-2 0l-2 0l-2 0l-2 0l-2 0l-2 0l-2 0l-2 0l-2 1l-2-1l-2 0l-2 0l-2 1l-2-1l-2 0l-2 0l-2 0l-2 0l-2 0l-2 0l-2 0l-2 0l-2 0l-2 0l-2 0l-2 0l-2 0l-2 0l-2 0l-2 0l-2 0l-2 1l-2 0l-2 0l-2 0l-2-1l-2 0l-2 0l-2 0l-2 0l-2 0l-2 0l-2 0l-2 0l-2 0l-2 0l-2 0l-2 0l-2 0l-2 1l-2 0l-2-1l-2 0l-2 1l-2 0l-2-1l-2 1l-2 0l-2-1l-2 0l-2 0l-2 0l-2 0l-2 0l-2 0l-2 0l-2 1l-2 2l-2 1l-2-3l-2 1l-2-2l-2 0l-2 0l-2 0l-2 0l-2 0l-2 0l-2 0l-2 0l-2 0l-2 0l-2 0l-2 0l-2 1l-2-1l-2 0l-2 0l-2 0l-2 0l-2 0l-2 0l-2 0l-2 0l-2 1l-2-1l-2 1l-2-1l-2 1l-2 0l-2-1l-2 0l-2 0l-2 0l-2 0l-2 0l-2 0l-2 0l-2 0l-2 0l-2 0l-2 0l-2 0l-2 0l-2 0l-2 0l-2 1l-2 0l-2-1l-2 1l-2 0l-2-1l-2 0l-2 0l-2 0l-2 0l-2 0l-2 0l-2 0l-2 0l-2 0l-2 0l-2 0l-2 0l-2 0l-2 0l-2 0l-2 0l-2 1l-2 0l-2-1l-2 0l-2 0l-2 0l-2 0l-2 0l-2 0l-2 0l-2 0l-2 0l-2 0l-2 0l-2 0l-2 0l-2 0l-2 0l-2 0l-2 0l-2 0l-2 0l-2 1l-2-1l-2 1l-2 0l-2 0l-2-1l-2 0l-2 0l-2 0l-2 0l-2 0l-2 0l-2 0l-2 0l-2 0l-2 1l-2-1l-2 0l-2 0l-2 1l-2-1l-2 1l-2 0l-2 0l-2-1l-2 0l-2 0l-2 1l-2 0l-2-1l-2 0l-2 0l-2 0l-2 0l-2 0l-2 0l-2 0l-2 0l-2 0l-2 0l-2 0l-2 1l-2-1l-2 0l-2 0l-2 0l-2 0l-2 0l-2 0l-2 0l-2 0l-2 0l-2 0l-2 0l-2 0l-2 1l-2-1l-2 0l-2 0l-2 0l-2 0l-2 0l-2 0l-2 0l-2 0l-2 0l-2 0l-2 0l-2 0l-2 0l-2 1l-2-1l-2 0l-2 0l-2 0l-2 0l-2 0l-2 0l-2 0l-2 0l-2 0l-2 0l-2 0l-2 1l-2-1l-2 0l-2 1l-2-1l-2 0l-2 0l-2 0l-2 0l-2 1l-2-1l-2 0l-2 0l-2 0l-2 0l-2 0l-2 0l-2 0l-2 0l-2 0l-2 0l-2 0l-2 0l-2 0l-2 0l-2 0l-2 1l-2-1l-2 0l-2 0l-2 0l-2 0l-2 0l-2 0l-2 0l-2 0l-2 0l-2 0l-2 0l-2 0l-2 0l-2 0l-2 0l-2 0l-2 0l-2 0l-2 0l-2 1l-2-1l-2 1l-2-1l-2 0l-2 0l-2 1l-2-1l-2 0l-2 0l-2 0l-2 0l-2 0l-2 0l-2 0l-2 0l-2 0l-2 0l-2 0l-2 0l-2 0l-2 0l-2 0l-2 0l-2 0l-2 0l-2 1l-2-1l-2 0l-2 0l-2 0l-2 0l-2 0l-2 0l-2 0l-2 0l-2 0l-2 0l-2 0l-2 1l-2-1l-2 0l-2 0l-2 1l-2-1l-2 1l-2 0l-2 0l-2-1l-2 0l-2 0l-2 0l-2 0l-2 0l-2 0l-2 0l-2 0l-2 0l-2 0l-2 0l-2 1l-2 0l-2-1l-2 1l-2-1l-2 1l-2-1l-2 1l-2 0l-2-1l-2 0l-2 1l-2-1l-2 0l-2 0l-2 0l-2 0l-2 0l-2 0l-2 0l-2 0l-2 0l-2 0l-2 0l-2 1l-2-1l-2 0l-2 1l-2-1l-2 0l-2 0l-2 0l-2 0l-2 0l-2 0l-2 0l-2 0l-2 0l-2 0l-2 0l-2 0l-2 0l-2 0l-2 1l-2-1l-2 0l-2 0l-2 0l-2 0l-2 0l-2 0l-2 1l-2-1l-2 0l-2 0l-2 1l-2-1l-2 0l-2 0l-2 0l-2 0l-2 0l-2 0l-2 0l-2 0l-2 0l-2 0l-2 0l-2 0l-2 0l-2 1l-2 0l-2 0l-2-1l-2 0l-2 0l-2 1l-2-1l-2 0l-2 0l-2 0l-2 0l-2 1l-2 0l-2-1l-2 0l-2 0l-2 0l-2 0l-2 0l-2 0l-2 1l-2 0l-2 0l-2-1l-2 0l-2 0l-2 0l-2 0l-2 0l-2 0l-2 0l-2 0l-2 0l-2 0l-2 0l-2 0l-2 0l-2 1l-2 2l-2 1l-2-3l-2-1l-2 0l-2 0l-2 0l-2 0l-2 0l-2 0l-2 0l-2 0l-2 1l-2 0l-2-1l-2 1l-2 0l-2-1l-2 0l-2 1l-2-1l-2 1l-2 0l-2-1l-2 0l-2 1l-2-1l-2 2l-2-2l-2 0l-2 0l-2 0l-2 0l-2 0l-2 0l-2 0l-2 0l-2 0l-2 0l-2 0l-2 1l-2 0l-2-1l-2 0l-2 0l-2 1l-2-1l-2 0l-2 0l-2 0l-2 0l-2 0l-2 0l-2 0l-2 0l-2 0l-2 0l-2 0l-2 0l-2 0l-2 0l-2 0l-2 0l-2 0l-2 0l-2 0l-2 0l-2 0l-2 1l-2-1l-2 0l-2 1l-2-1l-2 0l-2 0l-2 0l-2 0l-2 0l-2 0l-2 0l-2 1l-2 0l-2-1l-2 0l-2 0l-2 1l-2-1l-2 0l-2 0l-2 0l-2 0l-2 0l-2 0l-2 0l-2 0l-2 0l-2 0l-2 0l-2 0l-2 0l-2 0l-2 0l-2 0l-2 1l-2 0l-2 0l-2-1l-2 0l-2 1l-2-1l-2 0l-2 0l-2 0l-2 0l-2 0l-2 0l-2 0l-2 0l-2 0l-2 0l-2 1l-2-1l-2 0l-2 1l-2 0l-2-1l-2 1l-2-1l-2 1l-2-1l-2 0l-2 0l-2 0l-2 0l-2 0l-2 0l-2 0l-2 0l-2 0l-2 0l-2 0l-2 0l-2 0l-2 0l-2 0l-2 1l-2 0l-2-1l-2 0l-2 0l-2 0l-2 0l-2 0l-2 0l-2 0l-2 0l-2 0l-2 0l-2 0l-2 0l-2 0l-2 0l-2 1l-2-1l-2 0l-2 0l-2 1l-2-1l-2 0l-2 1l-2-1l-2 2l-2 3l-2 0l-2-4z"/>
<path fill="#ff0000" fill-opacity="0.8" stroke="#ff0000" d="M223 525l2 0l2 0l2 0l2 0l2 0l2 0l2 0l2 0l2 0l2 0l2 1l2 0l2 0l2-1l2 1l2-1l2 0l2-1l2 1l2-1l2 1l2-1l2 1l2 0l2 0l2 0l2 0l2 1l2 0l2 0l2 0l2 0l2 0l2 0l2-1l2 0l2 0l2 0l2 0l2 0l2 0l2 0l2 0l2 0l2 0l2 0l2-1l2 1l2 0l2 0l2 0l2 0l2 0l2 0l2 0l2 0l2 0l2 0l2 0l2 0l2 0l2 0l2 0l2 0l2 0l2 0l2 0l2 0l2 0l2 1l2 0l2-1l2 1l2 0l2-1l2 0l2 0l2 0l2 0l2 0l2 0l2 0l2 0l2 0l2 0l2 0l2 0l2 0l2 0l2 0l2 1l2 0l2-4l2 3l2 0l2 1l2-1l2 1l2 0l2 0l2 0l2 0l2-1l2 0l2 1l2 0l2-1l2 0l2 0l2 0l2 0l2 0l2 0l2 0l2 0l2 0l2 0l2 0l2 0l2 1l2 0l2 0l2 0l2 0l2-1l2 0l2-1l2 1l2 0l2 0l2 0l2 0l2 0l2 0l2 0l2 1l2-1l2 1l2-1l2 1l2 0l2 0l2-1l2 0l2 0l2 0l2 0l2 0l2-1l2 1l2-1l2 1l2 0l2 0l2 1l2-1l2 0l2 1l2 0l2 0l2 0l2-1l2 0l2 0l2 0l2-1l2 1l2 0l2 0l2-1l2 1l2 0l2 0l2 0l2 1l2-1l2 1l2-1l2 1l2 0l2 0l2-1l2 1l2-1l2 0l2 0l2 0l2 0l2 0l2 0l2 0l2 0l2 0l2 1l2-1l2 1l2 0l2-1l2 0l2 0l2 0l2 0l2 1l2-1l2 0l2 0l2 0l2 0l2 0l2 0l2 0l2 0l2 0l2 0l2 0l2 0l2 0l2 0l2 1l2 0l2-1l2 0l2 0l2 1l2-1l2 1l2 0l2-1l2 0l2 0l2 0l2 0l2 0l2 0l2 0l2 0l2 1l2-1l2 0l2 0l2 0l2 1l2 0l2-1l2 0l2 0l2 0l2 0l2 0l2 0l2 0l2 0l2 0l2 0l2 0l2 1l2-1l2 0l2 0l2 1l2 0l2-1l2 0l2 0l2 0l2 1l2 0l2-1l2 0l2 0l2 1l2 0l2-1l2 1l2-1l2 1l2-1l2 0l2 0l2 0l2 0l2 0l2 0l2 0l2 0l2 0l2 0l2 1l2-1l2 0l2 0l2 0l2 0l2 0l2 0l2 0l2 0l2 0l2 0l2 0l2 0l2 1l2-1l2 0l2 1l2-1l2 0l2 1l2 0l2-1l2 0l2 0l2 0l2 0l2 0l2 0l2 0l2 0l2 0l2 0l2 0l2 0l2 0l2 0l2 1l2 0l2-1l2 1l2-1l2 1l2-1l2 1l2-1l2 0l2 0l2 0l2-1l2 0l2 1l2 0l2 0l2 0l2 0l2 0l2 0l2 0l2 0l2 0l2 0l2 0l2 0l2 0l2 0l2 0l2 0l2 0l2 0l2-1l2 1l2 0l2 0l2 0l2 0l2 0l2 0l2 0l2 1l2 0l2 0l2-1l2 1l2 0l2-1l2 0l2 0l2 0l2 0l2 0l2 0l2-2l2 1l2 0l2 1l2 0l2 0l2 1l2-1l2 1l2 0l2 0l2 0l2-1l2 0l2 0l2 0l2 0l2-1l2 1l2 0l2 0l2-1l2 1l2 0l2 0l2 1l2 0l2 0l2-1l2 0l2 0l2 0l2 0l2 0l2 0l2-1l2 1l2 0l2 0l2-1l2 1l2 0l2 0l2 0l2 0l2 0l2 1l2 0l2-1l2 1l2-1l2 1l2-1l2 0l2 0l2-5l2 3l2 0l2 2l2-1l2 1l2 0l2 0l2 0l2 1l2 0l2 0l2 0l2 0l2-1l2 0l2 0l2 0l2 0l2 1l2-1l2 0l2 0l2 0l2 0l2 0l2 0l2 0l2 0l2 1l2 0l2-1l2 0l2 0l2 1l2-1l2 0l2 1l2 0l2-1l2 0l2 0l2 0l2 0l2 0l2 0l2 0l2 0l2 0l2 0l2 0l2 1l2 0l2-1l2 1l2-1l2 1l2 0l2-1l2 0l2 0l2 0l2 0l2 0l2-1l2 0l2 1l2 0l2 0l2 0l2 0l2 0l2 0l2 0l2 1l2 0l2-1l2 0l2 0l2 0l2 0l2-1l2 1l2 0l2 0l2-1l2 1l2 0l2 0l2 0l2 0l2 0l2 1l2 0l2-1l2 1l2-1l2 0l2 1l2-1l2 0l2 0l2 0l2-1l2 0l2 0l2 0l2 1l2 0l2 0l2 1l2-1l2 0l2 1l2-1l2 0l2 1l2-1l2 1l2-1l2 0l2 0l2 0l2 0l2 0l2 0l2 0l2 0l2 0l2 0l2 0l2 0l2 0l2 0l2 0l2 0l2 0l2 1l2-1l2 0l2 0l2 0l2 0l2 0l2 0l2 0l2 0l2-1l2 0l2 0l2 1l2 0l2 0l2 0l2 0l2 0l2 0l2 0l2 1l2-1l2 0l2 0l2 0l2 1l2-1l2 0l2 0l2 0l2 0l2 0l2 0l2-1l2 1l2 0l2 1l2-1l2 0l2 1l2-1l2 0l2 0l2 0l2 0l2 0l2 0l2 0l2-1l2 0l2 1l2 0l2 0l2 0l2 0l2 0l2 0l2 0l2 0l2 0l2 1l2-1l2 0l2 0l2 0l2 0l2 0l2 0l2 0l2 0l2 0l2 0l2-1l2 0l2 1l2 0l2 0l2 0l2 0l2 1l2-1l2 0l2 0l2 0l2 0l2 0l2-1l2 0l2 1l2-1l2 1l2-1l2 1l2 0l2 0l2-1l2 0l2 0l2 1l2-1l2 1l2 0l2 0l2 0l2-1l2 1l2-1l2 0l2 1l2 0l2 0l2 0l2 0l2 0l2-1l2 1l2 0l2 0l2 0l2 0l2 0l2-1l2-2l2 0l2-1l2 0l2 4l2-3l2 3l2-1l2 1l2 0l2-1l2 1l0 4l-2 0l-2 0l-2 0l-2 0l-2 3l-2 0l-2-1l-2 2l-2-1l-2-1l-2 0l-2-1l-2-1l-2 0l-2 0l-2 0l-2 0l-2 0l-2 0l-2 1l-2-1l-2 0l-2 0l-2 0l-2 0l-2 0l-2 0l-2 0l-2 0l-2 0l-2 0l-2 0l-2 0l-2 0l-2 0l-2 0l-2 0l-2 0l-2 0l-2 0l-2 1l-2-1l-2 0l-2 1l-2-1l-2 0l-2 0l-2 0l-2 0l-2-1l-2 0l-2 0l-2 0l-2 0l-2 1l-2-1l-2 1l-2 0l-2 0l-2 0l-2 0l-2 0l-2 0l-2 0l-2 0l-2 0l-2 0l-2-1l-2 1l-2-1l-2 0l-2 1l-2-1l-2 0l-2 0l-2 1l-2 0l-2 0l-2 0l-2 0l-2 0l-2 0l-2 0l-2 0l-2 0l-2 1l-2-1l-2 0l-2 0l-2 0l-2-1l-2 0l-2 1l-2-1l-2 0l-2 0l-2 1l-2-1l-2 1l-2 0l-2 0l-2 0l-2 0l-2 0l-2 0l-2-1l-2 1l-2-1l-2 0l-2 0l-2 0l-2 0l-2 1l-2-1l-2 0l-2 0l-2 0l-2 0l-2 0l-2 1l-2 0l-2 0l-2 0l-2 0l-2 0l-2 0l-2 0l-2-1l-2 1l-2 0l-2 0l-2-1l-2 0l-2 1l-2 0l-2 0l-2-1l-2 1l-2 0l-2 0l-2 0l-2 0l-2 0l-2 0l-2 0l-2 0l-2-1l-2 1l-2 0l-2-1l-2 0l-2 0l-2 1l-2-1l-2 0l-2 0l-2 1l-2-1l-2 0l-2 0l-2 1l-2 0l-2 0l-2 1l-2 0l-2-1l-2 0l-2 0l-2 0l-2 0l-2 0l-2 0l-2-1l-2 1l-2-1l-2 0l-2 0l-2 1l-2-1l-2 0l-2 0l-2 0l-2 1l-2 0l-2 0l-2 0l-2 0l-2 0l-2 0l-2 0l-2 0l-2 0l-2-1l-2 1l-2 0l-2-1l-2 0l-2 1l-2 0l-2 0l-2 0l-2-1l-2 1l-2-1l-2 1l-2 0l-2 0l-2 0l-2 1l-2-1l-2 0l-2 0l-2-1l-2 0l-2 0l-2 0l-2 0l-2 0l-2 0l-2 0l-2 0l-2 0l-2 0l-2 0l-2 1l-2 0l-2 0l-2 0l-2 0l-2 0l-2 0l-2-1l-2 0l-2 0l-2 0l-2 0l-2 0l-2 0l-2 0l-2 0l-2 0l-2 1l-2-1l-2 0l-2 1l-2-1l-2 0l-2 1l-2-1l-2 0l-2 0l-2 1l-2 0l-2 0l-2-1l-2 0l-2 0l-2 0l-2 0l-2 0l-2 0l-2 0l-2 0l-2 1l-2 0l-2 0l-2 0l-2 0l-2 1l-2-1l-2 5l-2-4l-2-1l-2 0l-2-1l-2 0l-2 0l-2 0l-2 0l-2 0l-2 1l-2 0l-2 0l-2 0l-2 0l-2 0l-2 0l-2 0l-2 0l-2 0l-2 0l-2-1l-2 1l-2-1l-2 0l-2 0l-2 0l-2 0l-2 0l-2 0l-2 0l-2 0l-2 1l-2 0l-2 0l-2 0l-2 0l-2 0l-2 0l-2 0l-2 0l-2 0l-2 0l-2-1l-2 0l-2 0l-2 0l-2 0l-2 0l-2 0l-2 0l-2 0l-2 1l-2 0l-2 0l-2 2l-2-2l-2 0l-2 0l-2 0l-2 0l-2 0l-2-1l-2 0l-2 0l-2 0l-2 0l-2 0l-2 0l-2 1l-2-1l-2 1l-2 0l-2 0l-2 0l-2 0l-2 0l-2 0l-2 0l-2 0l-2-1l-2 1l-2 0l-2 0l-2 0l-2 0l-2-1l-2 1l-2-1l-2 1l-2-1l-2 1l-2 0l-2 0l-2 0l-2 0l-2 0l-2 0l-2 0l-2 0l-2-1l-2 1l-2 0l-2 0l-2-1l-2 0l-2 0l-2 0l-2 0l-2 0l-2 0l-2 0l-2 0l-2 1l-2 0l-2 0l-2 0l-2 1l-2-1l-2 0l-2 0l-2 0l-2 0l-2-1l-2 1l-2-1l-2 0l-2 0l-2 0l-2 0l-2 0l-2 0l-2 0l-2 1l-2 0l-2 0l-2-1l-2 0l-2 0l-2 1l-2-1l-2 1l-2 0l-2 0l-2 0l-2-1l-2 0l-2 1l-2-1l-2 1l-2 0l-2 0l-2 0l-2 0l-2 0l-2-1l-2 0l-2 0l-2 0l-2 1l-2 0l-2 0l-2 0l-2-1l-2 1l-2 0l-2-1l-2 0l-2 0l-2 1l-2-1l-2 1l-2-1l-2 0l-2 0l-2 1l-2-1l-2 0l-2 1l-2 0l-2-1l-2 1l-2 0l-2 0l-2 0l-2-1l-2 0l-2 0l-2 0l-2 0l-2 0l-2 0l-2 0l-2 0l-2 0l-2 0l-2 0l-2 0l-2 1l-2-1l-2 1l-2 0l-2-1l-2 0l-2 1l-2 0l-2 0l-2-1l-2 0l-2 0l-2 0l-2 0l-2 0l-2 0l-2 0l-2 0l-2 0l-2 0l-2 0l-2 0l-2 1l-2-1l-2 1l-2 0l-2-1l-2 1l-2 0l-2-1l-2 0l-2 1l-2 0l-2 0l-2 0l-2 0l-2-1l-2 0l-2 1l-2 0l-2 0l-2-1l-2 1l-2-1l-2 0l-2 1l-2 0l-2 0l-2 0l-2 0l-2-1l-2 1l-2 0l-2-1l-2 0l-2 0l-2 0l-2 0l-2 0l-2 0l-2 0l-2 0l-2 1l-2-1l-2 1l-2 0l-2 0l-2 1l-2-1l-2 1l-2-1l-2 0l-2 0l-2 0l-2-1l-2 0l-2 0l-2 0l-2 0l-2 0l-2 0l-2 0l-2 0l-2 1l-2-1l-2 0l-2 1l-2 0l-2 0l-2 0l-2 0l-2 0l-2 0l-2-1l-2 1l-2 0l-2-1l-2 0l-2 0l-2 0l-2 0l-2 0l-2 0l-2 0l-2 0l-2 1l-2 0l-2 0l-2 1l-2-1l-2 0l-2 0l-2 0l-2 0l-2-1l-2 0l-2 0l-2 0l-2 0l-2 1l-2-1l-2 0l-2 0l-2 0l-2 0l-2 0l-2 1l-2 0l-2 0l-2-1l-2 0l-2 0l-2 0l-2 0l-2 0l-2 0l-2 0l-2 0l-2 0l-2 0l-2 0l-2 0l-2 1l-2-1l-2 4l-2-4l-2 0l-2 1l-2 0l-2-1l-2 1l-2-1l-2 1l-2 0l-2 0l-2-1l-2 1l-2-1l-2 0l-2 1l-2-1l-2 0l-2 0l-2 0l-2 0l-2 0l-2 0l-2 0l-2 0l-2 1l-2-1l-2 0l-2 1l-2-1l-2 1l-2 0l-2 0l-2 0l-2 0l-2 0l-2 0l-2 0l-2 0l-2-1l-2 1l-2 0l-2 0l-2-1l-2 1l-2 0l-2 0l-2 0l-2 0l-2 0l-2 0l-2 0l-2 0l-2 0l-2 0l-2 0l-2 0l-2-1l-2 0l-2 0l-2 0l-2 0l-2 0l-2 0l-2 0l-2 0l-2 0l-2 1l-2 0l-2 0l-2 0l-2 0l-2 0l-2 0l-2 0l-2 0l-2 0l-2 0l-2 0l-2 0l-2-1l-2 0l-2 0l-2 0l-2 1l-2-1l-2 1l-2 0l-2-1l-2 1l-2 0l-2 0l-2 0l-2-1z"/>
<path fill="#0000ff" fill-opacity="0.8" stroke="#0000ff" d="M223 550l2-1l2 1l2-1l2 0l2-1l2 0l2 1l2-1l2 0l2 0l2 0l2 1l2 0l2 0l2 0l2 1l2 0l2-1l2 0l2 0l2-3l2-1l2 2l2 2l2-1l2 1l2-1l2 1l2-1l2 0l2 1l2 0l2 0l2 0l2 0l2 1l2-1l2 0l2 0l2 0l2 0l2 0l2 0l2-1l2 0l2 0l2 0l2 0l2 0l2 0l2 0l2 1l2-1l2 0l2 1l2 0l2 0l2 0l2 0l2 1l2-1l2 0l2 0l2 0l2 0l2 0l2-1l2 0l2 0l2 0l2 0l2 0l2 1l2-1l2 1l2 0l2 0l2 1l2-1l2 0l2 0l2 0l2 0l2 1l2-1l2 0l2 0l2 0l2 0l2-1l2 0l2 0l2 0l2 1l2 0l2 1l2-1l2 0l2 0l2 1l2-1l2 0l2 0l2 0l2 0l2 0l2 0l2 0l2-1l2 0l2 0l2 1l2-1l2 0l2 0l2 1l2 0l2 0l2 1l2-1l2 1l2 0l2-1l2 1l2-1l2 0l2 0l2 0l2 0l2 0l2 0l2 0l2 0l2 0l2 0l2 0l2 1l2-1l2 0l2 1l2 0l2-1l2 0l2 0l2 0l2 0l2-1l2 0l2 0l2 0l2 1l2 0l2 0l2 0l2 0l2 0l2 0l2 0l2 0l2 1l2 0l2 0l2 0l2-1l2 1l2 0l2-1l2 0l2 0l2 0l2 0l2 0l2-1l2 0l2-2l2 3l2 0l2-1l2 0l2 0l2 1l2-1l2 1l2 0l2-1l2 0l2 1l2-1l2 0l2 1l2-1l2 1l2-1l2 1l2 0l2 0l2 0l2 0l2 0l2 0l2 0l2 0l2 0l2 0l2 0l2 0l2 0l2 0l2 0l2 0l2-1l2 0l2 1l2 0l2 0l2 0l2 0l2 1l2-1l2 0l2 0l2 0l2 1l2 0l2-1l2 1l2 0l2-1l2-1l2 0l2 0l2 0l2 0l2 0l2 0l2 1l2 0l2 0l2 0l2 0l2 0l2 0l2 0l2 0l2 0l2 0l2 0l2-1l2 1l2-1l2 0l2 0l2-1l2 1l2-1l2 1l2 0l2 1l2 0l2 0l2 1l2 0l2-1l2 0l2 0l2 0l2 1l2-1l2-1l2 0l2 0l2 0l2 1l2 0l2 0l2 0l2 0l2 0l2 0l2 0l2 0l2 0l2 0l2 0l2 0l2 0l2 0l2 0l2 0l2 0l2 0l2 0l2 0l2 0l2 0l2 0l2 0l2 0l2 1l2-1l2 0l2 1l2-1l2 0l2 1l2-1l2 0l2-1l2 0l2 0l2 0l2 0l2 0l2 0l2 0l2 0l2 1l2 0l2 0l2 1l2 0l2 0l2 0l2 0l2 0l2 0l2-1l2 0l2 0l2-1l2 0l2 1l2 0l2 0l2 0l2 0l2 0l2 0l2 0l2 0l2 1l2-1l2 0l2 0l2 0l2 0l2 0l2 0l2 0l2-1l2 1l2-1l2 0l2 1l2-1l2 0l2 0l2 1l2 0l2 0l2 0l2 0l2 0l2 0l2 0l2 0l2 0l2 0l2-1l2 0l2 0l2 0l2 0l2 0l2 0l2 0l2 0l2 0l2 1l2 0l2 0l2 0l2 0l2 0l2 0l2 0l2 0l2 0l2 0l2 0l2 0l2-1l2 0l2 0l2 0l2 1l2-1l2 0l2 1l2 0l2 0l2 0l2 0l2 1l2-1l2-2l2 3l2-6l2 1l2 1l2 1l2 1l2 0l2 0l2 0l2 0l2 1l2 1l2-1l2 0l2 1l2 0l2 0l2-1l2 0l2 0l2 0l2-1l2 0l2 0l2 1l2-1l2 0l2 1l2 0l2 0l2 0l2 0l2 0l2 0l2 0l2-7l2 7l2 0l2 0l2 0l2 0l2 0l2 0l2 0l2 0l2-1l2 0l2 1l2-1l2 1l2-1l2 1l2 0l2 0l2 0l2 0l2 0l2 0l2 0l2 0l2 0l2-1l2 0l2 1l2-1l2-2l2-3l2 0l2-1l2 3l2-5l2 1l2 1l2 1l2 5l2-1l2 2l2 0l2 1l2-1l2 1l2-1l2 0l2 0l2 0l2-1l2 1l2-1l2 0l2 0l2 0l2 0l2 1l2 0l2 0l2 0l2 1l2-1l2 0l2 0l2 0l2-1l2 0l2 1l2-4l2-3l2 2l2 1l2 3l2-4l2 2l2 3l2 0l2 0l2 0l2 0l2-8l2 0l2 8l2-5l2 5l2 0l2 0l2 0l2 0l2 0l2 0l2 0l2 0l2 0l2 0l2 0l2 0l2 0l2 0l2 0l2 0l2 1l2-1l2 0l2 0l2 1l2-1l2 0l2 0l2-1l2 1l2-1l2 0l2 0l2 0l2 1l2 0l2 0l2 1l2 0l2-1l2 0l2 0l2 0l2 0l2 0l2 0l2 0l2-1l2 0l2 0l2-1l2 1l2 0l2 1l2 0l2 0l2 0l2 1l2-1l2 0l2 1l2-1l2 1l2-1l2 0l2 0l2 0l2-1l2 1l2-1l2 0l2 1l2-1l2 0l2 1l2 0l2 1l2-1l2 1l2-1l2 0l2 0l2 0l2 0l2 0l2-1l2 1l2 0l2 0l2-1l2 1l2 0l2 0l2 0l2 0l2 0l2 1l2-1l2 0l2 0l2 0l2 0l2 0l2 0l2 0l2 0l2 0l2 0l2-1l2 1l2 0l2-1l2 0l2 1l2 0l2 0l2 0l2 0l2 0l2 0l2-1l2 1l2 0l2-1l2 0l2 1l2-1l2 0l2 0l2 1l2 0l2 0l2-1l2 1l2 0l2 0l2 0l2-1l2 0l2 1l2 0l2 0l2 0l2 0l2 0l2 1l2 0l2 0l2-1l2 0l2-1l2 0l2 0l2 0l2 0l2 0l2 1l2 0l2 0l2 0l2 1l2 0l2 0l2-1l2 0l2 0l2 0l2 0l2 0l2 0l2-1l2 1l2-1l2 1l2 0l2 0l2 0l2 0l2 0l2 0l2 0l2 1l2 0l0 3l-2 0l-2 0l-2 0l-2 0l-2 1l-2-1l-2 0l-2 1l-2 0l-2 0l-2 0l-2 0l-2-1l-2 0l-2 0l-2 0l-2 0l-2 0l-2 0l-2 0l-2 0l-2 0l-2 0l-2 0l-2 0l-2 1l-2 0l-2 0l-2 1l-2 0l-2-1l-2 0l-2 0l-2-1l-2 0l-2 0l-2 0l-2 0l-2 0l-2 0l-2 1l-2-1l-2 1l-2 0l-2-1l-2 1l-2 0l-2-1l-2 0l-2 1l-2 0l-2-1l-2 1l-2 0l-2-1l-2 1l-2-1l-2 1l-2 0l-2 0l-2 0l-2-1l-2 1l-2-1l-2 1l-2 0l-2-1l-2 0l-2 0l-2 1l-2 0l-2 0l-2 0l-2 0l-2 0l-2 0l-2 0l-2 0l-2-1l-2 1l-2 0l-2 0l-2-1l-2 1l-2-1l-2 0l-2 0l-2 0l-2 0l-2 0l-2 0l-2 0l-2 1l-2 0l-2 0l-2 0l-2-1l-2 1l-2 0l-2 0l-2-1l-2 0l-2 0l-2 0l-2 0l-2 0l-2 0l-2 0l-2 1l-2 0l-2 0l-2 1l-2-1l-2 0l-2 0l-2 0l-2-1l-2 0l-2 0l-2 0l-2 0l-2 0l-2 0l-2 0l-2 0l-2 0l-2 0l-2 0l-2 1l-2 0l-2 0l-2 1l-2 0l-2 0l-2-1l-2 0l-2-1l-2 0l-2 0l-2 0l-2 0l-2 0l-2 0l-2 0l-2 0l-2 0l-2 0l-2 1l-2 0l-2 1l-2-1l-2 0l-2 0l-2 0l-2 0l-2-1l-2 0l-2 0l-2 0l-2 0l-2 0l-2 0l-2 0l-2 0l-2 0l-2 1l-2 0l-2 0l-2-1l-2 0l-2 1l-2-1l-2 0l-2 1l-2 0l-2 0l-2-1l-2 1l-2-1l-2 5l-2-1l-2 5l-2-7l-2 0l-2-1l-2-1l-2 1l-2-1l-2 4l-2 1l-2-2l-2 1l-2-3l-2 6l-2-4l-2-3l-2 1l-2-1l-2 1l-2-1l-2 0l-2 0l-2 0l-2 1l-2 0l-2 0l-2 0l-2 0l-2 0l-2 0l-2 0l-2 0l-2 0l-2 0l-2 0l-2-1l-2 0l-2 0l-2 0l-2 0l-2 0l-2 0l-2 0l-2 3l-2 0l-2 1l-2-1l-2-2l-2 9l-2-2l-2-6l-2 7l-2-2l-2-5l-2 0l-2 0l-2-1l-2 0l-2-1l-2 1l-2 0l-2-1l-2 0l-2 0l-2 0l-2 0l-2 0l-2 1l-2 0l-2 0l-2 0l-2 0l-2 0l-2 0l-2 0l-2 0l-2-1l-2 1l-2 0l-2-1l-2 1l-2 0l-2 3l-2 3l-2-7l-2 0l-2 0l-2 0l-2 0l-2 0l-2 0l-2 0l-2 1l-2 0l-2 1l-2-1l-2 1l-2-1l-2 0l-2-1l-2 0l-2 0l-2 0l-2 0l-2 0l-2 0l-2 0l-2 0l-2 0l-2 2l-2-1l-2 0l-2 0l-2 0l-2 1l-2 2l-2 1l-2 1l-2-1l-2-3l-2-2l-2 0l-2 0l-2 0l-2 0l-2 0l-2 0l-2 1l-2-1l-2 1l-2 0l-2 0l-2 1l-2-1l-2 0l-2 0l-2-1l-2 1l-2-1l-2 0l-2 0l-2 0l-2 0l-2 0l-2 0l-2 0l-2 0l-2 1l-2 0l-2 1l-2 0l-2-1l-2 0l-2 1l-2 0l-2-1l-2 0l-2 0l-2 0l-2-1l-2 1l-2 0l-2 0l-2-1l-2 0l-2 0l-2 1l-2 0l-2 0l-2 0l-2 0l-2 0l-2 0l-2 0l-2 0l-2 0l-2-1l-2 0l-2 1l-2-1l-2 0l-2 0l-2 0l-2 0l-2 0l-2 0l-2 0l-2 0l-2 0l-2 1l-2 0l-2-1l-2 1l-2 0l-2-1l-2 0l-2 1l-2-1l-2 1l-2-1l-2 0l-2 0l-2 0l-2 0l-2 0l-2 0l-2 0l-2 0l-2 1l-2 0l-2 0l-2 0l-2 1l-2-1l-2 1l-2 0l-2 0l-2-1l-2 0l-2 0l-2-1l-2 0l-2 0l-2 0l-2 0l-2 0l-2 0l-2 0l-2 0l-2 0l-2 0l-2 0l-2 0l-2 1l-2-1l-2 1l-2 0l-2-1l-2 0l-2 0l-2 0l-2 0l-2 1l-2-1l-2 0l-2 1l-2-1l-2 0l-2 0l-2 0l-2 1l-2-1l-2 1l-2 0l-2 0l-2 0l-2-1l-2 1l-2 0l-2-1l-2 0l-2 0l-2 0l-2 0l-2 0l-2 0l-2 1l-2-1l-2 1l-2 1l-2-1l-2 0l-2 0l-2 1l-2-1l-2 0l-2 0l-2 0l-2 0l-2-1l-2 0l-2 0l-2 0l-2 0l-2 0l-2 0l-2 0l-2 1l-2 0l-2 0l-2 0l-2 0l-2 0l-2 0l-2 0l-2 0l-2 0l-2 0l-2-1l-2 0l-2 0l-2 0l-2 0l-2 0l-2 0l-2 0l-2 0l-2 0l-2 0l-2 0l-2 0l-2 1l-2 0l-2 0l-2 0l-2 0l-2 0l-2 0l-2 0l-2-1l-2 0l-2 1l-2 0l-2 0l-2-1l-2 0l-2 0l-2 1l-2-1l-2 1l-2 0l-2-1l-2 1l-2-1l-2 1l-2 0l-2 0l-2 0l-2 1l-2-1l-2 0l-2 0l-2 0l-2 0l-2 0l-2 0l-2 0l-2 0l-2 1l-2 1l-2 0l-2-2l-2-1l-2 1l-2 0l-2 0l-2 0l-2-1l-2 1l-2-1l-2 0l-2 0l-2 0l-2 0l-2 0l-2 0l-2 0l-2 0l-2 0l-2 0l-2 0l-2 0l-2 0l-2 1l-2 0l-2 0l-2 0l-2 0l-2-1l-2 0l-2 0l-2 0l-2 0l-2 0l-2 0l-2 0l-2 0l-2 0l-2 0l-2 0l-2 0l-2 1l-2-1l-2 1l-2 0l-2-1l-2 1l-2-1l-2 1l-2-1l-2 0l-2 0l-2 0l-2 0l-2 0l-2 0l-2 0l-2 0l-2 0l-2 0l-2 1l-2-1l-2 1l-2 0l-2 0l-2 1l-2-1l-2 0l-2 0l-2 0l-2-1l-2 0l-2 1l-2-1l-2 0l-2 0l-2 0l-2 0l-2 0l-2 0l-2 0l-2 1l-2 0l-2 0l-2 0l-2 0l-2-1l-2 1l-2 0l-2-1l-2 0l-2 0l-2 0l-2 0l-2 0l-2 0l-2 0l-2 0l-2 0l-2 0l-2 1l-2 0l-2-1l-2 1l-2 0l-2 0l-2 0l-2 0l-2 0l-2 0l-2 0l-2-1l-2 1l-2-1l-2 0l-2 0l-2 0l-2 0l-2 1l-2-1l-2 0l-2 1l-2 0l-2 0l-2 0l-2 0l-2 0l-2 0l-2 1l-2-1l-2 0l-2 0l-2 0l-2-1l-2 1l-2 0l-2-1l-2 0l-2 0l-2 0l-2 0l-2 0l-2 0l-2 0l-2 0l-2 0l-2 0l-2 1l-2 0l-2-1l-2 1l-2-1l-2 1l-2 3l-2 0l-2-3l-2-1l-2 0l-2 0l-2 0l-2 0l-2 1l-2 0l-2 0l-2 0l-2 0l-2 0l-2 0l-2-1l-2 0l-2 0l-2 0l-2 0l-2 0l-2 0l-2 0z"/>
<path fill="#ff0000" fill-opacity="0.8" stroke="#ff0000" d="M223 573l2 0l2 0l2 1l2-1l2 0l2 0l2 0l2 0l2-1l2 1l2-1l2-1l2 1l2 0l2 0l2 1l2 0l2 0l2 0l2 1l2-1l2 1l2-1l2 1l2-1l2 1l2-1l2 0l2 0l2-1l2 0l2 0l2 0l2 0l2 1l2-1l2 0l2 1l2 0l2 0l2 0l2-3l2 1l2 2l2 0l2 0l2 0l2 0l2 0l2 0l2 0l2 0l2 0l2 0l2-1l2 0l2-1l2 0l2 1l2 0l2 0l2 0l2 1l2 0l2 0l2 0l2 0l2 0l2 0l2 0l2 0l2 0l2 0l2-1l2 1l2-1l2 0l2 1l2 0l2 0l2 0l2 0l2 0l2 0l2 0l2 0l2 0l2 0l2 0l2 0l2 0l2 0l2 0l2 0l2 0l2 0l2 0l2 0l2 0l2 0l2-1l2 0l2 0l2-1l2 1l2 0l2 0l2 0l2 1l2 0l2 1l2 0l2-1l2 1l2-1l2 1l2-1l2 0l2 0l2-1l2 0l2 0l2 0l2 0l2-1l2 1l2-1l2 1l2 1l2 0l2 1l2-1l2 1l2 0l2-1l2 0l2 1l2 0l2 0l2-1l2 0l2 0l2-1l2 0l2-1l2 0l2 0l2 1l2 0l2 0l2 1l2 0l2 0l2 0l2 0l2 0l2 0l2 1l2-1l2 0l2 0l2 0l2 0l2-2l2 1l2 0l2-1l2 0l2 1l2 0l2 0l2 1l2 0l2 0l2 0l2 1l2-1l2 1l2-1l2 0l2 0l2-1l2 0l2 0l2 0l2 0l2-1l2 1l2 0l2 0l2 0l2 0l2 1l2 0l2 0l2 0l2 0l2 0l2 0l2 1l2 0l2 0l2-1l2 0l2 0l2 0l2-1l2 0l2 1l2-1l2 0l2 0l2 0l2 0l2 1l2 0l2 0l2 0l2 0l2 0l2 0l2 1l2-1l2 0l2 0l2 0l2 0l2 0l2 0l2 0l2 0l2 0l2 0l2 0l2 0l2 0l2 0l2 1l2-1l2 0l2 0l2 0l2 0l2 0l2 0l2 0l2 0l2 0l2 0l2-1l2 1l2 0l2-1l2 1l2 0l2 0l2 0l2 0l2 0l2 0l2 0l2 0l2 0l2 1l2-1l2 0l2 1l2-1l2 0l2 0l2 0l2 0l2-1l2 0l2 0l2 1l2-1l2 0l2 1l2 0l2-1l2 1l2 0l2 0l2 0l2 0l2 0l2 0l2 0l2 0l2 0l2 0l2-1l2 1l2 0l2 0l2 0l2 0l2 0l2 0l2 0l2 0l2 0l2 0l2 0l2 1l2 0l2 0l2-1l2 1l2 0l2 0l2 0l2 0l2-1l2 0l2 0l2 0l2 0l2 1l2-1l2 0l2 1l2-1l2 0l2 1l2-1l2 0l2 0l2 0l2 0l2 0l2 0l2 0l2 0l2 0l2-1l2 1l2 0l2-1l2 0l2 1l2-1l2 0l2 0l2 0l2 1l2 0l2 1l2-1l2 1l2 0l2 0l2-1l2 1l2-1l2 0l2 0l2 0l2-1l2 0l2 1l2 0l2-1l2 0l2 0l2 1l2 0l2 1l2-1l2 0l2 0l2 0l2 0l2 0l2 0l2 0l2 0l2 0l2 0l2-1l2 1l2-1l2 0l2-1l2 1l2 0l2 0l2 1l2 0l2 0l2 0l2 0l2 0l2 0l2 1l2-1l2 0l2 0l2-1l2 0l2 0l2 1l2-1l2 0l2 1l2 0l2 0l2-1l2 0l2 1l2-1l2 0l2 1l2-1l2 1l2 0l2 0l2 0l2 0l2 0l2 0l2 0l2 0l2-1l2 0l2-1l2 0l2 1l2-1l2 1l2 0l2 1l2 0l2 1l2-1l2 0l2 0l2 1l2 0l2 0l2-1l2 0l2 0l2 0l2-1l2 1l2-1l2-1l2 1l2 0l2 0l2 0l2 1l2 0l2 0l2 0l2 1l2-1l2 1l2 0l2-1l2 1l2-1l2 0l2 0l2 0l2-1l2 0l2 1l2 0l2 0l2 0l2 0l2 0l2 1l2-1l2 0l2 1l2-1l2 0l2 1l2-1l2 0l2 0l2 1l2-1l2-1l2 0l2 0l2 0l2 0l2-1l2 1l2 0l2 0l2 1l2 0l2 0l2 0l2 1l2 0l2-1l2 0l2 0l2 0l2 0l2-1l2 0l2 1l2-1l2 0l2 0l2 0l2 0l2 0l2 1l2-1l2 1l2 0l2 1l2-1l2 1l2-1l2 1l2-1l2 0l2 0l2 1l2-1l2 0l2-1l2 0l2 0l2 0l2 0l2 0l2 1l2 0l2 0l2 0l2 0l2 1l2-3l2 1l2 1l2 1l2-2l2 0l2 1l2-1l2 0l2 0l2-1l2 0l2 1l2 0l2 1l2 0l2 0l2 1l2 0l2-1l2 0l2 0l2 0l2 1l2-1l2 0l2 0l2 0l2 0l2 0l2 0l2-1l2 0l2 0l2 0l2 0l2 0l2 0l2 1l2 0l2 1l2-1l2 0l2 1l2-1l2 0l2 1l2 0l2 0l2-1l2 0l2-1l2 0l2 0l2 0l2 0l2-1l2 1l2 0l2 0l2 1l2 0l2 0l2 0l2 1l2-1l2 1l2-1l2 1l2 0l2-1l2 0l2 0l2-1l2 0l2-1l2 0l2 0l2 1l2-1l2 1l2 0l2 1l2 0l2 1l2 0l2-1l2 1l2-1l2 1l2-1l2 0l2 0l2-1l2 1l2-1l2 1l2-1l2 0l2 0l2-1l2 0l2 1l2 1l2-1l2 1l2 0l2 1l2 0l2-1l2 1l2 0l2-1l2 0l2 1l2-1l2-1l2 1l2-1l2 0l2 0l2 0l2 0l2 0l2 1l2 0l2 0l2 0l2 0l2 1l2-1l2 0l2 0l2 1l2 0l2 0l2 0l2-1l2 0l2 0l2 0l2-1l2 0l2 1l2-1l2 0l2 0l2 0l2 1l2-1l2 0l2 0l2 1l2 0l2 0l2 1l2 0l2-1l2 1l2 0l2-1l2 0l2 0l0 5l-2 0l-2 0l-2-1l-2 1l-2-1l-2 0l-2 1l-2 0l-2 0l-2 0l-2 1l-2-1l-2 1l-2 0l-2 0l-2 0l-2 0l-2-1l-2 0l-2 0l-2 1l-2 0l-2-1l-2-1l-2 1l-2 0l-2 0l-2-1l-2 0l-2 1l-2-1l-2 1l-2-1l-2 0l-2 0l-2 1l-2 0l-2 0l-2 0l-2 1l-2 0l-2 1l-2-1l-2 0l-2-1l-2 0l-2 0l-2 0l-2 0l-2 0l-2 0l-2 0l-2 0l-2 0l-2-1l-2 1l-2 0l-2 0l-2 0l-2 0l-2 1l-2 0l-2 0l-2 0l-2 1l-2-1l-2-1l-2 1l-2 0l-2-1l-2 0l-2 0l-2 0l-2 0l-2 0l-2 0l-2 0l-2 0l-2 0l-2 0l-2 1l-2 0l-2 0l-2 0l-2 0l-2 1l-2-1l-2 0l-2 0l-2-1l-2-1l-2 0l-2 0l-2 0l-2 0l-2 1l-2 0l-2-1l-2 1l-2 0l-2 1l-2 0l-2 0l-2 0l-2 0l-2 0l-2 1l-2-1l-2 0l-2 0l-2 0l-2-1l-2-1l-2 1l-2-1l-2 0l-2 0l-2 1l-2 0l-2-1l-2 0l-2 1l-2 0l-2 1l-2-1l-2 1l-2-1l-2 1l-2-1l-2 1l-2-1l-2 0l-2 0l-2 0l-2 0l-2 0l-2 0l-2 0l-2-1l-2 0l-2 1l-2-1l-2 1l-2-1l-2 0l-2 1l-2 0l-2 1l-2 0l-2 0l-2 0l-2 1l-2 0l-2-1l-2 1l-2-1l-2-1l-2 0l-2 0l-2-1l-2 3l-2 0l-2-3l-2 1l-2 0l-2 0l-2 0l-2 0l-2 0l-2 1l-2-1l-2 1l-2 1l-2-1l-2 0l-2-1l-2 0l-2 0l-2 0l-2-1l-2 1l-2-1l-2 0l-2 1l-2 0l-2 0l-2 0l-2 1l-2-1l-2 1l-2 0l-2 0l-2-1l-2 1l-2 0l-2 0l-2 0l-2 0l-2-1l-2 0l-2 0l-2 0l-2 0l-2 0l-2 0l-2-1l-2 1l-2 1l-2 0l-2 0l-2 0l-2 0l-2 0l-2 1l-2-1l-2 0l-2 1l-2-2l-2 0l-2 0l-2 0l-2 0l-2-1l-2 1l-2 0l-2-1l-2 1l-2 0l-2 0l-2 0l-2-1l-2 1l-2 0l-2 0l-2 0l-2 0l-2 0l-2 0l-2 0l-2 0l-2 0l-2 0l-2-1l-2 1l-2 0l-2 0l-2-1l-2 0l-2 1l-2 0l-2 0l-2 1l-2 0l-2 0l-2 0l-2 1l-2 0l-2-1l-2-1l-2 1l-2-1l-2 0l-2 0l-2 0l-2 0l-2 0l-2 0l-2-1l-2 1l-2-1l-2 1l-2 0l-2 0l-2 1l-2 0l-2 1l-2-1l-2 0l-2 1l-2 0l-2-2l-2 0l-2 0l-2 0l-2-1l-2 0l-2 0l-2 0l-2 1l-2 0l-2 0l-2 0l-2 1l-2 0l-2 0l-2 0l-2 0l-2-1l-2 0l-2 1l-2 0l-2-1l-2 0l-2 1l-2 0l-2-1l-2 1l-2-1l-2 0l-2-1l-2 1l-2 0l-2-1l-2 1l-2 1l-2 0l-2 0l-2 0l-2 0l-2 1l-2 0l-2-1l-2 0l-2-1l-2 1l-2-1l-2 0l-2 0l-2 0l-2 0l-2 0l-2-1l-2 1l-2-1l-2 0l-2 1l-2 0l-2 0l-2 1l-2 0l-2 0l-2-1l-2 0l-2 1l-2 0l-2 0l-2-1l-2 0l-2 0l-2-1l-2 0l-2 1l-2 0l-2 0l-2 0l-2 0l-2 0l-2 0l-2 1l-2 0l-2 0l-2 0l-2-1l-2 1l-2 0l-2-1l-2 0l-2 0l-2 1l-2-1l-2 0l-2 0l-2 0l-2 0l-2 0l-2 0l-2 0l-2 0l-2 0l-2 0l-2 0l-2 0l-2 0l-2-1l-2 1l-2 0l-2-1l-2 1l-2 0l-2 0l-2 0l-2 0l-2 0l-2 0l-2 0l-2 0l-2 0l-2 0l-2-1l-2 0l-2 1l-2-1l-2 1l-2 0l-2 0l-2 0l-2 0l-2 0l-2 1l-2-1l-2 1l-2 0l-2-1l-2 1l-2 0l-2 0l-2-1l-2 1l-2-1l-2 0l-2 0l-2 0l-2 0l-2 0l-2 0l-2 0l-2 1l-2 0l-2-1l-2 1l-2 0l-2-1l-2 0l-2 0l-2 0l-2 0l-2 0l-2 0l-2 0l-2 0l-2 0l-2 0l-2 0l-2 0l-2 0l-2 1l-2 0l-2-1l-2 0l-2 0l-2 1l-2-1l-2 1l-2-1l-2 0l-2 0l-2 0l-2 0l-2 0l-2 0l-2-1l-2 1l-2 0l-2 0l-2 0l-2 0l-2 0l-2 0l-2 0l-2 0l-2 0l-2 0l-2 1l-2-1l-2 0l-2 0l-2 0l-2 0l-2 0l-2-1l-2 0l-2 1l-2 0l-2-1l-2 1l-2-1l-2 1l-2 0l-2 0l-2 1l-2 0l-2 0l-2-1l-2 1l-2 0l-2 0l-2 0l-2 0l-2 0l-2 0l-2 0l-2-1l-2 0l-2 0l-2 0l-2 0l-2 0l-2 0l-2 0l-2 0l-2 1l-2 0l-2 0l-2 0l-2 0l-2 0l-2 1l-2 0l-2-1l-2 0l-2 0l-2-1l-2 0l-2 0l-2 0l-2 0l-2 0l-2 0l-2 0l-2 0l-2 0l-2 0l-2-1l-2 1l-2 1l-2 0l-2 0l-2 1l-2-1l-2 1l-2-1l-2 1l-2 0l-2-2l-2 0l-2 0l-2 0l-2 0l-2-1l-2 1l-2 0l-2 0l-2 0l-2 0l-2 0l-2 1l-2 1l-2 0l-2 0l-2-1l-2 0l-2 0l-2 1l-2-1l-2 0l-2-1l-2 0l-2 0l-2-1l-2 0l-2 1l-2 0l-2 0l-2 0l-2 0l-2-1l-2 2l-2 0l-2 0l-2 0l-2 0l-2 1l-2-1l-2 0l-2 1l-2-1l-2 0l-2-1l-2 0l-2-1l-2 1l-2 0l-2-1l-2 1l-2-1l-2 1l-2 1l-2 0l-2 0l-2 0l-2 0l-2 0l-2 0l-2 0l-2-1l-2 0l-2 0l-2 1l-2-1l-2 1l-2-1l-2 1l-2-1l-2 1l-2-1l-2 0l-2 0l-2 0l-2 0l-2 0l-2 0l-2 0l-2 0l-2 0l-2 0l-2 0l-2 0l-2 1l-2-1l-2 0l-2 1l-2-1l-2 0l-2 0l-2-1l-2 0l-2 0l-2 1l-2 0l-2 0l-2 0l-2 0l-2 1l-2 0l-2 0l-2 0l-2 0l-2 0l-2 0l-2 0l-2-1l-2 0l-2 0l-2 1l-2-1l-2 0l-2 0l-2 0l-2 0l-2 0l-2 0l-2 0l-2 2l-2 2l-2-4l-2 0l-2 1l-2 0l-2 0l-2-1l-2 1l-2 0l-2 0l-2 0l-2 0l-2 0l-2-1l-2 0l-2 0l-2 0l-2 0l-2 0l-2 0l-2 0l-2-1l-2 1l-2 0l-2-1l-2 1l-2 1l-2 0l-2 1l-2-1l-2 1l-2 0l-2 0l-2-2l-2 0l-2 0l-2 0l-2 0l-2 0l-2 0l-2 0l-2 0l-2 0z"/>
<path fill="#0000ff" fill-opacity="0.8" stroke="#0000ff" d="M223 598l2 0l2-1l2 0l2 0l2-1l2 0l2 0l2 0l2 1l2 1l2 0l2 0l2 0l2 0l2 0l2 0l2 0l2 0l2 0l2-1l2 0l2 0l2 0l2 0l2 0l2-1l2 1l2 0l2 0l2 1l2 0l2 0l2 0l2 0l2 0l2 0l2 0l2 0l2-1l2 1l2-1l2 0l2-1l2 0l2 1l2-1l2 0l2 0l2 1l2 1l2-1l2 1l2 0l2-1l2 0l2 0l2 0l2 0l2 0l2 1l2 0l2 0l2 0l2-1l2 0l2 0l2 1l2 0l2-1l2 1l2 0l2-1l2 1l2 0l2 0l2-1l2 0l2 0l2 1l2-1l2 0l2 0l2 0l2 1l2-1l2 0l2 1l2-1l2 1l2 0l2 0l2 0l2 0l2 0l2 0l2 0l2 0l2 0l2 0l2 0l2-1l2 0l2 1l2-1l2 1l2-1l2 1l2 0l2-1l2 1l2 0l2-1l2 1l2-1l2 0l2 0l2 0l2 0l2 0l2 0l2 0l2 0l2 1l2 0l2 0l2 0l2 0l2 0l2 0l2 0l2 0l2 0l2 0l2-1l2 0l2-1l2 0l2 1l2 0l2-1l2 1l2 0l2 0l2 1l2-1l2 0l2 1l2 0l2 0l2 0l2 0l2-1l2 1l2-1l2 1l2-1l2 1l2 0l2 0l2 0l2 0l2-1l2 1l2-1l2 1l2-1l2 1l2 0l2 0l2 0l2 0l2 0l2-1l2 0l2 0l2 0l2 0l2 0l2 0l2 0l2 0l2 1l2 0l2 0l2 0l2 0l2 0l2 0l2 0l2-1l2-1l2 0l2 0l2 0l2 0l2 1l2 0l2 1l2 0l2 0l2 0l2 0l2 0l2 0l2 0l2 0l2 0l2-1l2 0l2 0l2 0l2 0l2 0l2 0l2 0l2 0l2 0l2 1l2 0l2-1l2 0l2 0l2 0l2 0l2 1l2 0l2 0l2 0l2-1l2 0l2-1l2 1l2-1l2 0l2 0l2 1l2 0l2 0l2 0l2 1l2 0l2 0l2 0l2 0l2 0l2 0l2 0l2 0l2-1l2 1l2-1l2 1l2-1l2 1l2 0l2-1l2 1l2 0l2 0l2 0l2 0l2 0l2 0l2 0l2-1l2 0l2 0l2-1l2 1l2 0l2 0l2 0l2 0l2 0l2 0l2 1l2 0l2 0l2 0l2 0l2 0l2 0l2 0l2-1l2 0l2-1l2 0l2 0l2 1l2-1l2 2l2-1l2 1l2 0l2 0l2 0l2 0l2 0l2 0l2 0l2 0l2 0l2-1l2 0l2 0l2 0l2 0l2 0l2 0l2 1l2 0l2 0l2 0l2 0l2-1l2 1l2-1l2 1l2-2l2 0l2 1l2 0l2 0l2 1l2-1l2 0l2 1l2-1l2 1l2 0l2 0l2 0l2 0l2 0l2 0l2-2l2-4l2 4l2 2l2 0l2 0l2 0l2-1l2 1l2 0l2-1l2 1l2-1l2 1l2 0l2 0l2 0l2 0l2 0l2-1l2 0l2 0l2-1l2 1l2 0l2 0l2 1l2 0l2 0l2 0l2 0l2 0l2 0l2 0l2 0l2 0l2 0l2 0l2-1l2 0l2 0l2 0l2-1l2 2l2-1l2 1l2 0l2 0l2 0l2 0l2 0l2 0l2 0l2 0l2 0l2 0l2-1l2 0l2 0l2 0l2 0l2 0l2 0l2 0l2 0l2 1l2-1l2 1l2 0l2 0l2 0l2 0l2 0l2 0l2-1l2 0l2 0l2 0l2 0l2 0l2 0l2 0l2 0l2 0l2 0l2 1l2 0l2 0l2 0l2 0l2 0l2 0l2-1l2 0l2 0l2 0l2-1l2 1l2 0l2 0l2 0l2 0l2 0l2 0l2 1l2 0l2 0l2 0l2 0l2 0l2 0l2 0l2 0l2 0l2-1l2 0l2 1l2-1l2 1l2 0l2 0l2-1l2 0l2 0l2 1l2 0l2 0l2 0l2 0l2 0l2 0l2 0l2 0l2-1l2 0l2 0l2 0l2 0l2 0l2 0l2 0l2 1l2 0l2 0l2 0l2 0l2 0l2-1l2 0l2 0l2 1l2-1l2 1l2-1l2 0l2 0l2 0l2 1l2-1l2 1l2-1l2 0l2 1l2 0l2 0l2 0l2 0l2 0l2 0l2 0l2-1l2 1l2 0l2-1l2 1l2-1l2 1l2-1l2 0l2 1l2-1l2 0l2 0l2 0l2 1l2 0l2-1l2 0l2 1l2-1l2 0l2 0l2 0l2 0l2 0l2 0l2 0l2 0l2 0l2 0l2 0l2 1l2 0l2 0l2-1l2 1l2 0l2 0l2 0l2-1l2 1l2-1l2 0l2 0l2 0l2 1l2-1l2 0l2 0l2 1l2 0l2 0l2 0l2 0l2 0l2 0l2 0l2 0l2-1l2 0l2 0l2-1l2 1l2-1l2 1l2-1l2 1l2 0l2 1l2-1l2 0l2 1l2 0l2-1l2 1l2-1l2 0l2 0l2 0l2 0l2 0l2 0l2 0l2 1l2 0l2 0l2 0l2 0l2 0l2 0l2 0l2 0l2 0l2 0l2 0l2-1l2-1l2 0l2 1l2 0l2 0l2 1l2 0l2 0l2 0l2 0l2 0l2 0l2 0l2 0l2 0l2 0l2 0l2-1l2 0l2 0l2 0l2-1l2 0l2 1l2-1l2 1l2 0l2 0l2 1l2 0l2 0l2 0l2 0l2 0l2-1l2 0l2 0l2-1l2 0l2 0l2 1l2 0l2-1l2 1l2 0l2 1l2 0l2 0l2 0l2 0l2 0l2 0l2 0l2 0l2-1l2 0l2 1l2 0l2-1l2 1l2-1l2 0l2 1l2-1l2 0l2 0l2 0l2 0l2 1l2-1l2 0l2 0l2 0l2 0l2 1l2 0l2 0l2 0l2-1l2 0l2 1l2 0l2 0l2 0l2 0l2 0l2 0l2 0l2 0l2 0l2-1l2 0l2 1l2-1l2 0l2 0l2 1l2-1l2 0l2 1l2 0l2 0l2 0l2 0l2 0l0 3l-2 1l-2 0l-2 0l-2 0l-2 0l-2 0l-2 1l-2-1l-2 1l-2-1l-2 0l-2 1l-2 0l-2 0l-2-1l-2 0l-2 0l-2-1l-2 1l-2 0l-2 0l-2 0l-2 0l-2-1l-2 1l-2 0l-2 0l-2 0l-2 1l-2-1l-2 0l-2 0l-2 0l-2 1l-2 0l-2-1l-2 1l-2-1l-2 0l-2 1l-2-1l-2 0l-2 0l-2 0l-2 0l-2 0l-2 0l-2 0l-2 0l-2 0l-2-1l-2 1l-2 0l-2-1l-2 1l-2-1l-2 1l-2 0l-2 0l-2 0l-2 1l-2 1l-2-1l-2 0l-2 1l-2-1l-2 1l-2-1l-2 0l-2 0l-2-1l-2 0l-2 0l-2-1l-2 1l-2-1l-2 1l-2 1l-2-1l-2 1l-2 0l-2 0l-2 0l-2 0l-2 0l-2 0l-2 0l-2 0l-2 0l-2-1l-2 0l-2 0l-2 0l-2-1l-2 0l-2 1l-2 0l-2 0l-2 0l-2 1l-2 0l-2 1l-2-1l-2 0l-2-1l-2 1l-2-1l-2-1l-2 1l-2-1l-2 0l-2 1l-2 0l-2 0l-2 0l-2 0l-2 0l-2 0l-2 0l-2 0l-2 1l-2 0l-2 0l-2-1l-2 0l-2 1l-2-1l-2 0l-2 0l-2 0l-2 0l-2 0l-2 0l-2 1l-2-1l-2 2l-2-1l-2 0l-2 0l-2 0l-2 0l-2 0l-2-2l-2 1l-2-1l-2 1l-2-1l-2 1l-2 0l-2-1l-2 1l-2 0l-2 1l-2 0l-2-1l-2 0l-2 1l-2-1l-2 1l-2-1l-2 0l-2 0l-2 0l-2 0l-2 1l-2-1l-2 0l-2 0l-2 0l-2 0l-2 0l-2 0l-2 1l-2-1l-2 1l-2-1l-2 1l-2 0l-2-1l-2 0l-2 0l-2 1l-2-1l-2 0l-2 0l-2 0l-2 0l-2 0l-2 0l-2 0l-2 1l-2-1l-2 1l-2 0l-2 0l-2-1l-2 1l-2-1l-2 0l-2 1l-2-1l-2 0l-2 0l-2-1l-2 0l-2 0l-2 1l-2 0l-2 0l-2 0l-2 0l-2 0l-2 0l-2 0l-2 0l-2 0l-2 0l-2 0l-2 0l-2 0l-2 0l-2 0l-2 0l-2 0l-2 0l-2 0l-2-1l-2 1l-2 0l-2 0l-2 0l-2 0l-2 1l-2 0l-2 0l-2 0l-2-1l-2 0l-2 0l-2 0l-2 0l-2-1l-2 1l-2 0l-2 0l-2 0l-2 0l-2 0l-2 0l-2 0l-2 0l-2 0l-2 1l-2 0l-2-1l-2 1l-2-1l-2 0l-2 0l-2 0l-2 0l-2 0l-2 0l-2 0l-2 0l-2 0l-2 0l-2 0l-2 1l-2 0l-2 0l-2 0l-2 0l-2 0l-2 0l-2-1l-2 0l-2 0l-2 0l-2 0l-2 0l-2 0l-2 0l-2 0l-2 0l-2 1l-2-1l-2 1l-2 0l-2 0l-2 0l-2 0l-2 0l-2-1l-2 0l-2 0l-2 0l-2 0l-2 0l-2-1l-2 0l-2 1l-2 0l-2 0l-2 0l-2 1l-2-1l-2 1l-2 0l-2-1l-2 1l-2-1l-2 0l-2 0l-2 0l-2-1l-2 0l-2 1l-2-1l-2 1l-2-1l-2 1l-2 0l-2 0l-2 0l-2 0l-2 0l-2 1l-2 0l-2 0l-2-1l-2 0l-2 0l-2 0l-2 0l-2 0l-2-1l-2 0l-2 0l-2 1l-2 0l-2 0l-2 0l-2 0l-2 1l-2 0l-2 0l-2 0l-2 0l-2 0l-2-1l-2 0l-2 0l-2 0l-2 0l-2-1l-2 0l-2 1l-2 0l-2 1l-2-1l-2 0l-2 0l-2 0l-2 0l-2-1l-2 3l-2 4l-2 0l-2-6l-2 0l-2 0l-2 0l-2 0l-2 0l-2 0l-2 0l-2 0l-2 1l-2 0l-2-1l-2 0l-2 1l-2 0l-2 0l-2 0l-2 0l-2-1l-2 1l-2 0l-2-1l-2 0l-2 0l-2 0l-2 0l-2 0l-2 0l-2 1l-2 0l-2-1l-2 1l-2-1l-2 1l-2-1l-2 0l-2-1l-2 1l-2 0l-2 0l-2 0l-2-1l-2 1l-2 0l-2 0l-2 1l-2 0l-2 1l-2-1l-2 1l-2-1l-2 0l-2-1l-2 0l-2-1l-2 1l-2 0l-2 0l-2 0l-2 0l-2 0l-2 1l-2-1l-2 1l-2 0l-2 0l-2 0l-2 0l-2 0l-2 0l-2-1l-2 0l-2 0l-2 0l-2-1l-2 1l-2 0l-2-1l-2 1l-2 0l-2 0l-2 0l-2 0l-2 0l-2 0l-2 0l-2 1l-2-1l-2 0l-2 0l-2-1l-2 1l-2-1l-2 1l-2-1l-2 0l-2 1l-2 0l-2 1l-2 0l-2 0l-2 0l-2 0l-2 0l-2 0l-2 0l-2 0l-2 0l-2 0l-2-1l-2 0l-2 0l-2 0l-2 0l-2 1l-2-1l-2 1l-2 0l-2-1l-2 1l-2-1l-2 1l-2 0l-2-1l-2 0l-2 1l-2-1l-2 0l-2 0l-2 0l-2 0l-2-1l-2 1l-2-1l-2 0l-2 1l-2 0l-2 0l-2 0l-2 0l-2 1l-2 0l-2 1l-2 0l-2-1l-2 0l-2 0l-2-1l-2 0l-2 0l-2-1l-2 0l-2 1l-2 0l-2 0l-2 0l-2 0l-2 1l-2 0l-2-1l-2 0l-2 1l-2 0l-2-1l-2 0l-2 0l-2 0l-2 0l-2 0l-2 0l-2 0l-2 0l-2 0l-2 0l-2 0l-2 0l-2 0l-2 0l-2 0l-2 1l-2 0l-2-1l-2 0l-2 0l-2 0l-2 0l-2 0l-2 0l-2 0l-2 0l-2 0l-2 0l-2 0l-2 0l-2 1l-2-1l-2 1l-2-1l-2 1l-2 0l-2 0l-2-1l-2 0l-2 0l-2-1l-2 1l-2-1l-2 1l-2-1l-2 1l-2-1l-2 0l-2 1l-2 0l-2 0l-2 0l-2 1l-2-1l-2 1l-2 0l-2-1l-2 0l-2 0l-2 0l-2 0l-2 0l-2 0l-2 0l-2 0l-2 0l-2 1l-2 0l-2 0l-2-1l-2 1l-2-1l-2 0l-2 0l-2 0l-2 0l-2 0l-2 0l-2 0l-2 0l-2 0l-2 0l-2 0l-2 0l-2 0l-2 0l-2 0l-2 0l-2 0l-2 0l-2 0l-2 0l-2 1l-2 0l-2-1l-2 0l-2 0l-2 1l-2-1l-2 0l-2 0l-2 0l-2 0l-2 1l-2 0l-2 0l-2 0l-2-1l-2 0l-2 1l-2-1l-2 0l-2 1l-2-1l-2 0l-2 0l-2 0l-2 1l-2-1l-2 0l-2 0l-2 0l-2 0l-2 0l-2 1l-2 1l-2-1l-2 0l-2 1l-2-1l-2 0l-2 0l-2 0l-2-1l-2 0l-2 0l-2 0l-2 0l-2 0l-2 0l-2 0l-2 0l-2 0l-2 1l-2-1l-2 0l-2 1l-2 0l-2 0l-2 0l-2-1l-2 0l-2 0l-2 0l-2 0l-2 0l-2 0l-2-1l-2 0l-2 1l-2 0l-2 0l-2 0l-2 0l-2 1l-2 0l-2 0l-2 0l-2 0l-2 0l-2 0l-2-2l-2 1z"/>
<path fill="#ff0000" fill-opacity="0.8" stroke="#ff0000" d="M223 621l2 0l2 0l2 1l2-1l2 1l2 0l2 0l2 0l2 0l2 0l2 0l2-1l2 1l2 0l2-1l2 0l2 0l2 1l2 0l2 0l2 0l2 0l2 0l2 0l2 0l2 0l2 0l2 0l2 0l2 0l2 0l2 0l2-1l2 0l2 0l2-1l2 1l2 0l2-1l2 1l2 0l2 0l2 1l2 0l2-1l2 1l2-1l2 0l2 1l2-1l2 1l2-1l2 0l2 0l2 0l2 0l2 1l2-1l2 1l2 0l2 0l2 0l2 0l2 0l2 0l2 0l2 0l2-1l2 1l2-1l2 0l2-1l2 0l2 1l2 0l2-1l2 1l2 0l2 0l2 1l2 0l2 0l2-3l2 2l2 1l2 0l2 0l2 0l2-1l2-1l2 0l2 0l2 1l2 0l2 1l2-1l2 1l2 0l2-1l2 0l2 0l2 0l2 0l2 0l2-1l2 0l2 1l2 0l2 0l2 1l2-1l2 0l2 0l2 1l2-1l2 0l2 1l2 0l2-1l2 1l2-1l2 0l2 0l2 0l2 0l2-1l2 1l2-1l2 1l2 0l2 0l2 0l2 1l2 0l2-1l2 1l2 0l2 0l2 0l2 0l2 0l2-1l2 0l2 0l2 0l2 1l2-1l2 0l2 0l2 0l2 0l2 0l2 0l2 1l2-1l2 1l2-1l2 0l2 0l2 0l2 1l2-1l2 0l2 1l2-1l2 0l2 1l2 0l2 0l2-1l2 1l2-1l2 1l2 0l2-1l2 1l2-1l2 0l2 0l2 0l2 0l2 1l2 0l2 0l2 0l2 0l2-1l2 0l2 1l2-1l2 1l2 0l2 0l2 0l2 0l2 0l2 1l2-1l2-1l2 0l2 0l2-1l2 0l2 1l2 0l2 0l2 1l2-1l2 1l2 0l2 0l2 0l2 0l2 0l2 0l2-1l2 0l2 1l2-1l2 0l2 0l2 0l2 0l2 0l2 1l2 0l2 0l2 0l2 0l2 0l2 0l2-1l2 0l2 1l2-1l2 0l2 0l2 0l2 0l2 0l2 0l2 0l2 0l2 1l2-1l2 1l2 0l2 0l2 0l2 0l2 0l2 0l2 0l2 0l2-1l2 1l2 0l2 0l2-1l2 0l2 1l2 0l2 0l2 0l2 0l2 0l2 0l2 0l2 0l2 1l2-1l2 0l2 0l2 0l2 0l2-2l2 0l2 1l2-1l2 0l2 1l2 1l2 0l2 0l2 0l2 0l2 0l2 1l2-1l2 0l2 0l2 0l2-1l2 0l2 0l2 0l2 0l2 1l2-1l2 0l2 0l2 1l2 0l2 0l2 0l2 0l2 0l2 0l2-1l2 0l2 0l2-1l2 0l2 1l2 0l2 0l2 0l2 0l2 1l2 0l2 0l2 0l2-1l2 1l2 0l2 0l2 0l2 0l2 0l2 0l2 0l2 0l2-1l2 1l2 0l2 0l2 0l2 0l2 0l2 0l2 0l2-1l2 0l2 1l2 0l2 0l2-1l2 0l2 0l2 0l2 0l2 0l2 0l2 0l2 1l2-1l2 0l2 0l2 1l2 0l2-1l2 0l2 1l2-1l2 0l2 0l2 0l2 1l2 0l2-1l2 0l2 0l2 1l2 0l2-1l2 1l2 0l2 0l2 0l2 0l2 0l2 0l2 0l2-1l2 0l2 0l2 1l2 0l2 0l2 0l2 0l2 0l2 0l2 0l2 0l2 0l2 0l2 0l2 0l2-1l2 0l2-1l2 1l2 0l2-1l2 2l2 0l2 0l2 0l2 0l2 0l2 0l2 0l2 0l2-1l2 0l2 0l2 0l2-1l2 1l2 0l2 0l2 1l2 0l2 0l2 0l2 0l2 0l2 0l2 0l2 0l2 0l2 0l2 0l2 0l2-1l2 1l2-1l2-1l2 1l2 0l2 1l2 0l2 0l2 0l2 0l2 0l2 0l2 0l2 0l2 0l2 0l2 0l2-1l2 0l2 0l2 1l2-1l2 0l2 0l2 0l2 0l2 0l2 1l2 0l2 1l2-1l2 0l2 0l2 0l2 0l2 0l2-1l2 1l2 0l2 0l2-1l2 0l2 0l2 0l2 1l2 0l2 0l2 0l2 0l2 0l2 0l2 0l2 0l2 0l2 0l2 0l2 0l2 0l2 0l2 0l2 0l2 0l2 0l2 0l2 0l2 0l2 0l2 0l2 0l2-1l2 1l2 0l2 0l2-1l2 0l2 1l2-1l2 1l2 0l2 0l2 0l2 0l2-1l2 1l2 0l2 0l2 0l2 0l2 0l2-1l2 1l2 0l2-1l2 0l2 0l2 0l2 0l2 1l2 0l2 0l2 0l2 0l2 0l2 0l2 0l2 0l2 0l2-1l2-1l2 1l2 0l2-1l2 1l2 0l2 1l2 0l2 0l2 1l2 0l2-1l2 0l2 0l2 0l2 0l2 0l2-1l2-1l2 1l2 0l2 0l2 0l2 1l2 0l2 0l2 0l2 0l2 0l2 0l2 0l2 0l2 0l2-1l2 0l2 1l2 0l2-1l2 1l2 0l2-1l2 1l2 0l2 0l2 0l2 0l2 1l2-1l2 0l2 0l2 0l2 0l2 0l2-1l2 0l2 0l2 1l2 0l2 0l2 0l2 0l2 0l2-1l2 1l2 0l2-1l2 0l2 1l2-1l2 0l2 0l2 0l2 0l2-1l2 1l2 0l2 0l2 0l2 0l2 1l2 0l2-1l2 0l2 0l2 1l2-1l2 1l2 0l2-1l2 0l2 0l2-1l2 0l2 1l2 1l2-1l2 1l2 0l2 0l2 0l2 0l2 0l2 1l2 0l2 0l2-1l2 0l2 0l2-1l2 0l2 0l2 0l2 1l2-1l2 0l2 0l2 1l2-1l2 0l2 1l2 0l2 0l2 0l2 0l2 0l2 0l2-1l2 1l2 0l2 0l2 0l2-1l2 1l2-1l2 1l2 0l2 0l2 1l2 0l2-1l2 0l2 1l2-1l2 0l2-1l2 1l2-1l2 0l2-1l2 1l2-1l2 0l2 2l2 0l2 0l2 0l2 0l2 0l2 0l2 0l2 0l2 0l0 5l-2-1l-2 0l-2 0l-2 0l-2 0l-2 0l-2 1l-2-1l-2 2l-2 0l-2 0l-2 0l-2 0l-2 0l-2-1l-2 0l-2-1l-2 0l-2 0l-2 0l-2 0l-2 0l-2 0l-2 0l-2 0l-2 0l-2 0l-2 1l-2 0l-2 0l-2 0l-2 0l-2 0l-2 0l-2 0l-2 0l-2 0l-2 0l-2-1l-2 0l-2 0l-2 1l-2 0l-2 0l-2-1l-2 2l-2-1l-2 0l-2 0l-2 0l-2 0l-2 0l-2 1l-2-1l-2 0l-2-1l-2 0l-2 0l-2 0l-2 0l-2 0l-2 0l-2 0l-2 1l-2 0l-2 0l-2 0l-2 0l-2 0l-2 0l-2 1l-2-1l-2 1l-2-1l-2 0l-2 0l-2 0l-2-1l-2 1l-2-1l-2 1l-2 0l-2 0l-2 0l-2 0l-2 1l-2-1l-2 1l-2-1l-2 1l-2 0l-2 0l-2-1l-2 0l-2 0l-2 0l-2-1l-2 1l-2-1l-2 1l-2-1l-2 1l-2-1l-2 1l-2 0l-2 0l-2-1l-2 0l-2 1l-2 0l-2-1l-2 0l-2 0l-2 0l-2 0l-2 0l-2 0l-2 1l-2-1l-2 0l-2 1l-2 0l-2-1l-2 1l-2 0l-2 0l-2 0l-2 0l-2 0l-2 0l-2-1l-2 0l-2 0l-2 0l-2 0l-2 1l-2 0l-2 0l-2 0l-2 0l-2 1l-2-1l-2 1l-2-1l-2 0l-2-1l-2 0l-2 0l-2 0l-2 0l-2 0l-2 0l-2 1l-2-1l-2 1l-2 0l-2 0l-2 0l-2 1l-2 0l-2 0l-2-1l-2 0l-2-1l-2 0l-2 1l-2-1l-2 0l-2 0l-2 0l-2 0l-2 1l-2 0l-2 0l-2 1l-2-1l-2 0l-2 0l-2-1l-2 1l-2-1l-2 1l-2 0l-2 0l-2-1l-2 0l-2 0l-2 0l-2 0l-2 0l-2 0l-2 1l-2 0l-2 0l-2 0l-2 0l-2 0l-2 0l-2-1l-2 0l-2 0l-2 1l-2-1l-2 0l-2 0l-2 0l-2 1l-2 0l-2-1l-2 1l-2 0l-2 0l-2 0l-2 0l-2 0l-2 0l-2-1l-2 0l-2 0l-2 0l-2 0l-2 0l-2 0l-2 0l-2 0l-2 0l-2 2l-2-1l-2 0l-2 0l-2 0l-2 0l-2 0l-2 0l-2 0l-2 0l-2-1l-2 0l-2 0l-2 0l-2 0l-2 0l-2 1l-2 0l-2 0l-2 0l-2 0l-2 0l-2 0l-2 0l-2 0l-2 0l-2 0l-2 0l-2 0l-2-1l-2 0l-2 0l-2 0l-2 0l-2 0l-2 0l-2 0l-2 1l-2 1l-2 0l-2-1l-2 0l-2 0l-2 0l-2-1l-2 1l-2-1l-2 0l-2 0l-2 0l-2 0l-2 0l-2 0l-2 0l-2 1l-2 0l-2 0l-2 0l-2 1l-2 0l-2-1l-2 0l-2 1l-2-1l-2 0l-2-1l-2 0l-2 0l-2 0l-2 0l-2 0l-2 0l-2 1l-2 0l-2 0l-2 0l-2 0l-2 0l-2 0l-2 1l-2-1l-2-1l-2 0l-2 0l-2 0l-2 1l-2-1l-2 1l-2 0l-2-1l-2 1l-2 0l-2 0l-2 0l-2 0l-2 0l-2 0l-2 0l-2-1l-2 0l-2 0l-2 0l-2 0l-2 1l-2 0l-2 0l-2 0l-2 0l-2 0l-2 0l-2 0l-2 0l-2 0l-2 1l-2-1l-2 0l-2 0l-2 0l-2 0l-2 0l-2 1l-2-1l-2 0l-2 0l-2 0l-2 1l-2-1l-2 0l-2 0l-2 0l-2 1l-2 0l-2-1l-2 0l-2 0l-2 0l-2 1l-2 0l-2-1l-2 0l-2 0l-2 0l-2 0l-2 0l-2 0l-2 0l-2 0l-2-1l-2 0l-2 0l-2 1l-2-1l-2 0l-2 1l-2 0l-2 0l-2-1l-2 0l-2 1l-2-1l-2 1l-2 0l-2 0l-2 0l-2 1l-2-1l-2 0l-2 1l-2-1l-2 0l-2 0l-2-1l-2 0l-2 0l-2 0l-2 0l-2 0l-2 0l-2 0l-2 1l-2 0l-2 1l-2 0l-2 0l-2 0l-2-1l-2 0l-2-1l-2 0l-2 0l-2 0l-2 0l-2 0l-2 0l-2 0l-2 1l-2-1l-2 1l-2 0l-2 0l-2 1l-2-1l-2 0l-2 0l-2 0l-2 0l-2-1l-2 0l-2 1l-2-1l-2 0l-2 1l-2-1l-2 1l-2-1l-2 1l-2 0l-2-1l-2 0l-2 1l-2 0l-2 0l-2 0l-2 0l-2 0l-2 0l-2 0l-2-1l-2 1l-2 0l-2-1l-2 0l-2 0l-2 1l-2-1l-2 1l-2 0l-2 0l-2 1l-2-1l-2 1l-2-1l-2 1l-2 0l-2-1l-2 0l-2-1l-2 1l-2 0l-2-1l-2 0l-2 1l-2-1l-2 0l-2 1l-2 0l-2 0l-2 1l-2 0l-2-1l-2 0l-2 0l-2 0l-2 0l-2 0l-2-1l-2 0l-2 0l-2 0l-2 1l-2-1l-2 1l-2 1l-2 0l-2 0l-2 0l-2-1l-2 1l-2-1l-2 0l-2 0l-2-1l-2 1l-2-1l-2 0l-2 0l-2 0l-2 0l-2 0l-2 1l-2 0l-2 0l-2-1l-2 1l-2 0l-2-1l-2 1l-2-1l-2 1l-2 0l-2 0l-2 0l-2 0l-2 0l-2 0l-2 0l-2 0l-2 0l-2-1l-2 1l-2 0l-2 0l-2 0l-2 0l-2 0l-2 0l-2 0l-2 0l-2 0l-2-1l-2 1l-2 0l-2 0l-2 0l-2-1l-2 1l-2 0l-2 0l-2 0l-2 0l-2 0l-2 0l-2 0l-2 0l-2 0l-2 0l-2 0l-2 0l-2 0l-2-1l-2 1l-2-1l-2 0l-2 0l-2 1l-2 0l-2 0l-2 0l-2 1l-2 0l-2 0l-2 0l-2 1l-2-1l-2 0l-2 0l-2 0l-2-1l-2 0l-2 0l-2 0l-2 0l-2 0l-2 0l-2-1l-2 1l-2 0l-2 1l-2 0l-2-1l-2 0l-2 0l-2 1l-2-1l-2 0l-2 0l-2 0l-2 0l-2-1l-2 1l-2 0l-2-1l-2 1l-2 0l-2 0l-2 0l-2 0l-2 0l-2 0l-2 0l-2 0l-2 0l-2 0l-2-1l-2 0l-2 2l-2 1l-2-3l-2 0l-2 0l-2 0l-2 2l-2 0l-2 0l-2 0l-2-1l-2 1l-2-1l-2 0l-2 0l-2 0l-2 0l-2 0l-2-1l-2 0l-2 0l-2 0l-2 0l-2 0l-2 0l-2 0l-2 1l-2 0l-2 1l-2 0l-2 0l-2-1l-2 1l-2-1l-2 0l-2 0l-2 0l-2 0l-2 0l-2 0l-2 0l-2 0l-2 0l-2 0l-2 0l-2 1l-2-1l-2 0l-2 1l-2-1l-2 1l-2-1l-2 0l-2-1l-2 0l-2 0l-2 1l-2 0l-2-1l-2 0l-2 0l-2 0l-2 0l-2 1l-2 0l-2 0l-2 0l-2 0l-2 0l-2 0l-2 0l-2 0l-2 0l-2 0l-2 0l-2 0l-2-1l-2 1l-2-1l-2 0l-2 1l-2 0l-2 0l-2 1l-2-1z"/>
<path fill="#0000ff" fill-opacity="0.8" stroke="#0000ff" d="M223 645l2 0l2 0l2 0l2 1l2 0l2 0l2 0l2 0l2 0l2 0l2 0l2 0l2 0l2 0l2-1l2 1l2-1l2 0l2 0l2 1l2 0l2-1l2 0l2 1l2 0l2-1l2 1l2 0l2 0l2 1l2-1l2 0l2 0l2 0l2 0l2 0l2-1l2 1l2-1l2-1l2 1l2-1l2 1l2-1l2 1l2 0l2 1l2 1l2-1l2 0l2 0l2 0l2 0l2 0l2-1l2 0l2 0l2 0l2 0l2 0l2 0l2 0l2 0l2 0l2 1l2 0l2 1l2-1l2 1l2-1l2 1l2-1l2 1l2-1l2 0l2 0l2-1l2 0l2-1l2 0l2 1l2-1l2 1l2 0l2 0l2 1l2 0l2 0l2 0l2 0l2 0l2 0l2 0l2-1l2 0l2 0l2-1l2 0l2 0l2 0l2 0l2 0l2 1l2 0l2 0l2 1l2 1l2-1l2 0l2 1l2-1l2 0l2 0l2 0l2 0l2-1l2-1l2 0l2 0l2 0l2 1l2 0l2 0l2 0l2 1l2 0l2 0l2 1l2-1l2 0l2 1l2-1l2 0l2-1l2 0l2-1l2 0l2 0l2 1l2-1l2 0l2 0l2 0l2 1l2 1l2 0l2 0l2 1l2 0l2-1l2 0l2 0l2 0l2 0l2-1l2 1l2-1l2 0l2-1l2 1l2-1l2 1l2 0l2 1l2-1l2 2l2-1l2 0l2 0l2 1l2 0l2-1l2 0l2 0l2 0l2-1l2 0l2 0l2 0l2 0l2 0l2 0l2 1l2-1l2 1l2 0l2 0l2 0l2 0l2 0l2 0l2 0l2 0l2-1l2 0l2-1l2 1l2 0l2 0l2 0l2 0l2 0l2 0l2 0l2 0l2 1l2 0l2 0l2 0l2 0l2 0l2 0l2 0l2 0l2 0l2 0l2 0l2 0l2-1l2 0l2 0l2 1l2 0l2-1l2 1l2 0l2 0l2 0l2 0l2 0l2 0l2 0l2 0l2-1l2 1l2-1l2 0l2-1l2 1l2 0l2 0l2 1l2 0l2 0l2 0l2 0l2 0l2 0l2 0l2 0l2-1l2 0l2 0l2 0l2 0l2-1l2 0l2 1l2 0l2 0l2 1l2 0l2-1l2 1l2-1l2 1l2 0l2 0l2 0l2 0l2 0l2 0l2 0l2 0l2 0l2 0l2 0l2 0l2 0l2-1l2 0l2 1l2-1l2 0l2 0l2 0l2 0l2 0l2 0l2 1l2-1l2 0l2-1l2 0l2 1l2 0l2 1l2 0l2 0l2 0l2 0l2 0l2 0l2 0l2 0l2 0l2 0l2 1l2 0l2-1l2 0l2 0l2-1l2 1l2-1l2 0l2 0l2-1l2 1l2-1l2 1l2 0l2 0l2 0l2 0l2 1l2 0l2 0l2 0l2 0l2-1l2 1l2-1l2 1l2-1l2 0l2 0l2 1l2-1l2 0l2 1l2 0l2-1l2 0l2 1l2 0l2 0l2 0l2 0l2-1l2 1l2 0l2 0l2 0l2 0l2 0l2 0l2-1l2-2l2-6l2 1l2 2l2 5l2 0l2 0l2 0l2-2l2 0l2-6l2 8l2-3l2 4l2-1l2 1l2 0l2 0l2-1l2 1l2-1l2 1l2 0l2-1l2 1l2-1l2 1l2 0l2 0l2-1l2 1l2-1l2 0l2 0l2 0l2 0l2 0l2 1l2 0l2 0l2 0l2 0l2 0l2 0l2 0l2 1l2-1l2 0l2 0l2-1l2 1l2-1l2 0l2 0l2 0l2-1l2 0l2 1l2 0l2 1l2 0l2-1l2 1l2 0l2 0l2 1l2-1l2 0l2-1l2-1l2 1l2-1l2 1l2 0l2-1l2 1l2-1l2 1l2 0l2 1l2 0l2 1l2-1l2 0l2 0l2 0l2 0l2 0l2 0l2-1l2 0l2 0l2 0l2 0l2 0l2 0l2 1l2 0l2-1l2 1l2 0l2 0l2 0l2 1l2-1l2 0l2 0l2-1l2 1l2 0l2-1l2 0l2 0l2 1l2-1l2 1l2 0l2-1l2 0l2 1l2 0l2 0l2 0l2 0l2 1l2-1l2 0l2 0l2-1l2 0l2 0l2-1l2 1l2 0l2-1l2 1l2 0l2 1l2 0l2 0l2 0l2 0l2 0l2 0l2 0l2-8l2-1l2 1l2 8l2 0l2-1l2 1l2-1l2 1l2-1l2 0l2 0l2 1l2 0l2 0l2 0l2 0l2 0l2 1l2 0l2-1l2 0l2 0l2-1l2 0l2 1l2-1l2 0l2 0l2-2l2-5l2 2l2 1l2 5l2 0l2 1l2-1l2-1l2-6l2-2l2 9l2-5l2 4l2 0l2 0l2 0l2 1l2-1l2 0l2 0l2 0l2-3l2-4l2 1l2 7l2-1l2 0l2 0l2 1l2-1l2 0l2 0l2 0l2 1l2-1l2 1l2-1l2 1l2 0l2-1l2 0l2 1l2 0l2 0l2-1l2 1l2 0l2 0l2 0l2-1l2 0l2 0l2 0l2 0l2 1l2-1l2 0l2 0l2 1l2-1l2 1l2 0l2 0l2 0l2 1l2-1l2 0l2 0l2 0l2 0l2-1l2 0l2 0l2 0l2-1l2 1l2 0l2 1l2 0l2 1l2 0l2-1l2 0l2 0l2 0l2 1l2-1l2 0l2 0l2 0l2 0l2-1l2 0l2-1l2 1l2-1l2 1l2 0l2 1l2 0l2 0l2 0l2 1l2 0l2-1l2 0l2 1l2-1l2 0l2 0l2 0l2 0l2-1l2 0l2-1l2 0l2 0l2 1l2-1l2 1l2 0l2 0l2 1l2 0l2 0l2 0l2 0l2-1l2 1l2-1l2 0l2 0l2-1l2 0l2 1l2-1l2 1l2 0l2 0l2 1l2 0l2 1l2-1l2 1l2-1l2 0l2 0l2 0l2-1l2 0l2-1l2 1l2-1l2 0l2 0l2 1l2 0l2 1l2-1l2 1l2 0l2 0l2 1l2-1l2 0l2 0l2-1l2 1l2-1l2 1l2-2l2 1l2 0l0 7l-2 0l-2 0l-2 0l-2-1l-2 0l-2 0l-2 0l-2 0l-2 0l-2-1l-2 1l-2 0l-2 0l-2 0l-2 0l-2 1l-2 1l-2-1l-2 0l-2 1l-2 0l-2 0l-2-1l-2-1l-2 0l-2 0l-2 0l-2 0l-2-1l-2 1l-2 0l-2-1l-2 1l-2 0l-2 1l-2 1l-2 0l-2 0l-2 0l-2 0l-2 0l-2 0l-2 0l-2-1l-2-1l-2 0l-2 0l-2 0l-2 0l-2 0l-2 0l-2 1l-2-1l-2 2l-2-1l-2 1l-2 0l-2 0l-2-1l-2-1l-2 1l-2-1l-2 0l-2 0l-2 0l-2 0l-2 0l-2 0l-2 0l-2-1l-2 1l-2 0l-2 1l-2 0l-2 0l-2 0l-2 0l-2 1l-2-1l-2 0l-2 0l-2-1l-2 0l-2 0l-2 0l-2 0l-2 0l-2-1l-2 1l-2 0l-2 0l-2 0l-2 0l-2 0l-2 0l-2 0l-2 1l-2 0l-2 1l-2 0l-2-1l-2-1l-2 1l-2 0l-2 0l-2-1l-2 0l-2 0l-2 0l-2 0l-2 0l-2 0l-2 1l-2 0l-2 0l-2 0l-2 0l-2-1l-2 0l-2 1l-2-1l-2 0l-2 1l-2-1l-2 0l-2 0l-2 0l-2 1l-2 0l-2-1l-2 0l-2 1l-2 0l-2 0l-2-1l-2 0l-2 1l-2-1l-2 1l-2 0l-2-1l-2 1l-2 0l-2 0l-2-1l-2 0l-2 0l-2 3l-2 2l-2 3l-2-4l-2-4l-2 0l-2 1l-2 0l-2-1l-2 1l-2 1l-2-1l-2 0l-2 4l-2-4l-2 8l-2-7l-2-2l-2 0l-2 0l-2-1l-2 1l-2 4l-2 2l-2 2l-2-8l-2 1l-2 0l-2 0l-2 0l-2-1l-2 1l-2-1l-2 0l-2-1l-2 1l-2 0l-2 0l-2 0l-2-1l-2 1l-2 0l-2 0l-2 1l-2 0l-2-1l-2 0l-2 0l-2 1l-2 0l-2 0l-2 0l-2 6l-2 2l-2-1l-2-8l-2-1l-2 1l-2 0l-2 0l-2 0l-2 0l-2 0l-2 0l-2 1l-2 0l-2 1l-2-1l-2 1l-2-1l-2 0l-2-1l-2 1l-2-1l-2 0l-2-1l-2 1l-2 0l-2 0l-2 0l-2 0l-2 1l-2 0l-2 0l-2 0l-2 0l-2 0l-2-1l-2 0l-2 1l-2 0l-2-1l-2 0l-2 0l-2 0l-2 0l-2 0l-2 0l-2 0l-2 0l-2 0l-2 0l-2 1l-2 0l-2 0l-2 1l-2 0l-2 0l-2-1l-2 0l-2 0l-2-1l-2-1l-2 1l-2 0l-2-1l-2 1l-2-1l-2 1l-2 0l-2 0l-2 1l-2 1l-2 0l-2-1l-2 1l-2 0l-2 0l-2-1l-2 0l-2 0l-2-1l-2 0l-2 0l-2-1l-2 1l-2 0l-2 0l-2 0l-2 1l-2 0l-2 0l-2 0l-2 1l-2 0l-2 0l-2 0l-2 0l-2-1l-2 0l-2-1l-2 0l-2 0l-2 0l-2-1l-2 1l-2 0l-2 0l-2-1l-2 1l-2 0l-2 0l-2 1l-2-1l-2 1l-2 0l-2 0l-2 0l-2-1l-2 0l-2 0l-2 1l-2-1l-2 0l-2 0l-2 1l-2 0l-2 0l-2-1l-2 1l-2 1l-2-1l-2-1l-2 1l-2-1l-2 0l-2 0l-2 4l-2 3l-2 2l-2-2l-2-6l-2 0l-2 0l-2 0l-2 0l-2 5l-2 0l-2 3l-2-3l-2-6l-2 0l-2 0l-2 0l-2 0l-2 0l-2 0l-2 0l-2 0l-2 1l-2-1l-2 0l-2 0l-2 1l-2 0l-2 0l-2-1l-2 1l-2-1l-2 1l-2 0l-2-1l-2 0l-2 1l-2 0l-2-1l-2 0l-2 0l-2 1l-2-1l-2 0l-2 0l-2 0l-2 1l-2 0l-2 0l-2 0l-2 0l-2 0l-2 0l-2 0l-2 0l-2 0l-2-1l-2 0l-2 1l-2-1l-2 1l-2-1l-2 0l-2 0l-2 0l-2 0l-2 0l-2 0l-2 0l-2 0l-2 0l-2 0l-2 1l-2-1l-2 0l-2 0l-2 1l-2 0l-2 1l-2-1l-2 0l-2 0l-2 0l-2 0l-2 0l-2 0l-2 0l-2 0l-2-1l-2 1l-2 0l-2-1l-2 1l-2-1l-2 0l-2 0l-2 0l-2 0l-2 0l-2 0l-2 0l-2 0l-2 0l-2 0l-2 0l-2 0l-2 0l-2 1l-2 0l-2 0l-2 0l-2-1l-2 1l-2 1l-2 0l-2-1l-2 0l-2 1l-2-1l-2 0l-2-1l-2 0l-2 0l-2 0l-2 0l-2 0l-2 0l-2 0l-2 1l-2 0l-2 0l-2 1l-2-1l-2 0l-2 1l-2-1l-2 0l-2 0l-2 0l-2-1l-2 0l-2 0l-2 0l-2 0l-2 1l-2-1l-2 0l-2 0l-2 0l-2 0l-2 1l-2-1l-2 1l-2 0l-2 0l-2-1l-2 0l-2 0l-2-1l-2 1l-2 0l-2 0l-2 0l-2 1l-2 0l-2-1l-2 0l-2 1l-2 0l-2 0l-2 0l-2 0l-2 0l-2 0l-2 0l-2 0l-2-1l-2 1l-2-1l-2 0l-2-1l-2 1l-2-1l-2 1l-2 0l-2 0l-2-1l-2 1l-2 1l-2 0l-2 1l-2-1l-2 0l-2 0l-2 0l-2 0l-2-1l-2 0l-2-1l-2 1l-2 0l-2 0l-2 0l-2-1l-2 0l-2 0l-2 1l-2 1l-2 0l-2 1l-2 0l-2 0l-2-1l-2 0l-2-1l-2 0l-2 1l-2-1l-2 0l-2 0l-2-1l-2 1l-2-1l-2 1l-2-1l-2 1l-2 1l-2 0l-2 1l-2-1l-2 1l-2-1l-2 0l-2 0l-2 1l-2-1l-2 0l-2 0l-2-1l-2 0l-2-1l-2 1l-2 0l-2 0l-2 0l-2 0l-2 0l-2 1l-2 0l-2 1l-2 0l-2 0l-2 0l-2 0l-2 0l-2-1l-2 0l-2 0l-2 0l-2-1l-2-1l-2 1l-2 0l-2 0l-2 0l-2 0l-2 0l-2 1l-2 1l-2 0l-2 0l-2-1l-2 1l-2 0l-2 0l-2-1l-2 0l-2 0l-2-1l-2 0l-2 0l-2 0l-2 0l-2 0l-2 0l-2 0l-2 0l-2 1l-2 0l-2 0l-2 0l-2 1l-2 0l-2-1l-2 0l-2-1l-2 1l-2-1l-2 0l-2-1l-2 1l-2-1l-2 1l-2 0l-2 0l-2 0l-2 0l-2 0l-2 0l-2 1l-2 0l-2 0l-2 0l-2 0l-2 0l-2 0l-2-1l-2 0l-2 0l-2 0l-2 0l-2 0l-2-1l-2 1l-2 0l-2 0l-2 0l-2 1l-2 1l-2-1l-2 1l-2-1l-2 0l-2-1l-2 0l-2 0l-2 0l-2-1l-2 1l-2 0l-2 0l-2-1l-2 1l-2 0l-2 0l-2 0l-2 1l-2-1l-2 1l-2 0l-2-1l-2 1l-2 0l-2 0l-2 0l-2 0l-2 0l-2-1l-2 0l-2 0l-2 0l-2 0l-2 0l-2 0l-2 0l-2 0l-2 0l-2 0l-2 1l-2 0l-2 0l-2 0z"/>
<path fill="#ff0000" fill-opacity="0.8" stroke="#ff0000" d="M223 669l2 1l2 0l2 0l2 0l2 0l2 0l2 0l2 1l2 0l2 0l2-1l2 0l2-1l2 0l2 0l2 0l2 0l2 0l2 0l2-1l2 1l2 1l2 0l2 1l2 0l2-1l2 1l2-1l2-1l2 1l2 0l2 0l2 0l2 0l2 0l2 0l2 0l2 0l2 0l2 0l2 0l2 1l2-1l2 1l2 0l2-1l2 0l2-1l2 0l2 0l2 0l2 0l2 0l2-1l2 0l2 1l2-1l2 2l2 0l2 0l2 0l2 0l2 0l2 0l2 0l2 0l2 0l2 0l2-1l2 1l2-1l2 0l2 1l2-1l2 0l2 1l2 0l2 1l2 0l2 0l2 0l2-1l2 0l2 0l2-1l2 0l2 0l2 0l2 1l2-1l2 1l2 1l2-1l2 0l2 1l2 0l2 0l2-1l2 1l2-1l2 0l2 0l2-1l2 0l2 1l2-1l2 0l2 1l2 0l2 1l2-1l2 1l2 0l2-1l2 0l2 1l2 0l2-2l2 1l2-1l2 0l2 0l2 1l2-1l2 1l2 0l2 0l2 0l2 1l2 0l2 0l2-1l2 0l2 0l2-1l2 1l2 0l2 0l2 0l2 0l2 0l2 0l2 1l2-1l2 0l2 0l2 0l2 0l2 0l2 0l2 0l2-1l2 1l2 0l2 0l2-1l2 0l2 1l2 0l2-1l2 0l2 1l2 1l2 0l2 0l2-1l2 1l2 0l2-1l2 0l2-1l2-1l2 1l2 0l2 0l2-1l2 1l2 0l2 1l2 0l2 0l2 0l2 0l2 1l2-1l2 0l2 0l2 0l2 0l2-1l2 0l2 1l2-1l2 1l2-1l2 1l2 0l2 1l2 0l2 0l2 0l2-1l2 1l2-1l2 0l2 0l2-1l2 1l2-1l2 1l2-1l2 0l2 1l2 0l2 0l2 0l2 0l2-1l2 1l2 0l2 0l2 0l2-1l2 1l2 0l2-1l2 0l2 0l2-1l2 1l2-1l2 0l2 1l2 1l2 1l2 0l2-1l2 0l2 1l2 0l2-1l2 0l2-1l2 0l2-1l2 1l2 0l2-1l2 1l2 0l2 1l2 1l2-1l2 1l2-1l2 0l2 0l2-1l2 0l2 1l2-1l2-1l2 1l2 0l2 0l2 0l2 0l2 0l2 1l2 0l2 0l2 0l2 0l2 0l2 0l2-1l2 0l2 0l2 1l2-1l2 1l2-1l2 0l2 0l2 1l2 0l2 0l2-1l2 1l2 0l2 0l2 0l2 0l2 0l2 0l2 1l2-1l2 0l2 0l2 0l2 0l2 0l2 0l2 0l2 0l2 0l2 1l2 0l2-1l2 0l2 1l2-1l2 1l2-1l2 0l2-1l2 1l2 0l2 0l2 0l2-1l2 1l2 0l2 0l2 1l2 0l2-1l2 0l2 0l2 0l2-1l2 0l2 1l2 0l2-1l2 1l2 0l2 0l2 1l2 0l2 0l2-1l2 0l2 0l2 0l2 0l2 0l2 0l2-1l2 1l2 0l2-1l2 1l2-1l2 0l2 0l2 1l2-1l2 0l2 1l2 0l2 0l2 0l2 0l2 0l2 0l2-1l2 0l2 1l2 0l2-1l2 0l2 0l2 1l2 0l2 0l2 0l2 1l2 0l2 0l2 0l2 0l2-1l2 1l2-1l2 0l2 0l2-1l2 0l2 0l2 1l2 0l2 0l2 1l2-1l2 0l2 0l2 0l2 0l2 0l2 1l2-1l2-2l2-1l2 2l2 0l2-1l2 2l2-1l2 0l2 1l2 1l2-1l2 0l2 1l2-1l2 0l2 0l2 0l2 0l2-1l2 0l2 0l2 1l2 0l2 0l2 0l2 0l2 0l2 0l2 0l2 1l2-1l2 1l2 0l2-1l2 0l2 0l2 0l2 0l2 0l2 0l2 0l2 0l2 0l2 0l2 1l2-1l2 1l2 0l2-1l2 1l2-1l2 0l2 0l2 0l2 0l2-1l2 0l2 0l2 0l2 0l2-1l2 2l2 0l2 0l2 1l2-1l2 0l2 0l2 1l2-1l2 0l2 0l2 0l2-1l2 0l2 0l2 0l2-1l2 2l2 0l2 0l2 0l2 0l2 0l2 0l2 0l2 1l2-1l2 0l2 0l2 0l2 0l2 0l2 0l2 0l2 0l2 0l2 0l2 0l2 0l2 0l2 0l2 0l2 0l2 0l2 0l2 0l2 0l2 0l2 0l2 0l2 0l2 0l2 0l2 1l2-1l2 1l2-1l2 0l2 1l2-1l2 0l2 0l2-1l2 0l2 0l2 1l2-1l2 1l2-1l2 1l2 1l2-1l2 0l2 1l2 0l2-1l2 0l2 0l2 0l2-1l2 0l2 0l2 0l2 1l2 0l2 0l2 0l2-1l2 1l2 0l2-1l2 0l2 0l2 1l2 0l2 0l2 0l2 0l2-1l2 0l2 0l2 0l2-1l2 2l2 0l2-1l2 0l2 1l2 1l2 0l2 0l2-1l2 1l2-1l2 0l2 0l2 0l2 0l2 0l2 0l2 0l2 0l2 0l2-1l2 1l2 0l2 0l2 0l2-1l2 1l2 0l2-1l2 1l2 0l2 0l2-1l2 1l2-1l2 0l2 1l2-1l2 0l2 1l2-1l2 1l2-1l2 1l2 0l2 0l2 0l2 0l2 0l2 0l2 0l2 1l2-1l2 0l2 0l2 1l2-1l2 0l2 0l2 0l2 0l2 0l2 0l2 0l2 0l2 0l2 0l2 0l2 0l2 0l2 0l2 0l2-1l2 0l2 0l2 1l2 0l2 0l2 0l2 0l2 0l2 0l2 0l2 0l2 0l2 0l2 0l2 0l2 0l2 0l2-1l2 0l2 0l2 0l2 0l2 0l2 1l2 0l2 1l2-1l2 0l2 1l2-1l2 1l2 0l2-2l2 0l2 0l2 1l2-1l2-1l2 0l2 1l2 0l2 1l2 0l2 0l2 1l2 0l2 0l2-1l2 1l2-1l2 1l2-1l2-1l2 0l2 0l2 0l2 0l2 0l2 1l2 0l2 0l2 0l2 0l2 0l2 0l2 0l2 0l0 6l-2 0l-2 0l-2 0l-2 0l-2-1l-2 1l-2 0l-2 1l-2 0l-2-1l-2 0l-2 0l-2 1l-2-1l-2 0l-2 0l-2-1l-2 0l-2 0l-2 0l-2 0l-2 0l-2 0l-2 1l-2 0l-2 1l-2-1l-2 1l-2 0l-2 0l-2 0l-2-1l-2 0l-2-1l-2 0l-2 0l-2 1l-2-1l-2 0l-2 0l-2 1l-2 0l-2-1l-2 1l-2 0l-2 1l-2 0l-2-1l-2 0l-2 0l-2 0l-2-1l-2 1l-2-1l-2 1l-2 0l-2 0l-2-1l-2 0l-2 0l-2 1l-2-1l-2 1l-2 0l-2 0l-2 0l-2 0l-2 1l-2-1l-2 0l-2 0l-2 0l-2 0l-2 0l-2-1l-2 1l-2-1l-2 1l-2 0l-2 0l-2-1l-2 0l-2 0l-2 0l-2 0l-2 0l-2 1l-2-1l-2 1l-2 0l-2-1l-2 1l-2 0l-2-1l-2 1l-2 0l-2 0l-2 0l-2 0l-2 0l-2 0l-2 0l-2 0l-2 1l-2-1l-2 0l-2 0l-2 0l-2 0l-2 0l-2 0l-2 0l-2 0l-2 0l-2 0l-2 0l-2 0l-2 1l-2-1l-2 0l-2 0l-2 0l-2 0l-2 0l-2-1l-2 0l-2 0l-2 0l-2 0l-2 0l-2 0l-2 0l-2 0l-2 0l-2 0l-2 1l-2 0l-2 0l-2 0l-2 0l-2 1l-2 1l-2-2l-2 0l-2 0l-2 0l-2 0l-2 0l-2 1l-2 0l-2 0l-2-1l-2 0l-2 0l-2 0l-2 0l-2 0l-2 0l-2 0l-2 0l-2 0l-2 0l-2 0l-2 0l-2-1l-2 0l-2 1l-2-1l-2 0l-2 0l-2 0l-2 0l-2 0l-2 1l-2 0l-2 0l-2 1l-2-1l-2 1l-2-1l-2 0l-2 0l-2 0l-2-1l-2 0l-2 0l-2 0l-2 1l-2 0l-2 0l-2 0l-2 0l-2 0l-2-1l-2 1l-2 0l-2 0l-2-1l-2 1l-2 0l-2 0l-2 0l-2-1l-2 1l-2 0l-2-1l-2 1l-2-1l-2 1l-2-1l-2 0l-2 0l-2 0l-2 1l-2-1l-2 1l-2 0l-2 0l-2-1l-2 0l-2 0l-2 0l-2 0l-2 1l-2 0l-2 1l-2 0l-2 0l-2 0l-2-1l-2 1l-2-1l-2-1l-2 0l-2 0l-2 0l-2 0l-2 0l-2 0l-2 0l-2 0l-2 1l-2 1l-2 0l-2 0l-2-1l-2 0l-2 1l-2-1l-2 0l-2-1l-2 1l-2-1l-2 0l-2 0l-2 0l-2 0l-2 1l-2-1l-2 1l-2-1l-2 0l-2 0l-2 1l-2-1l-2 1l-2 0l-2-1l-2 0l-2 0l-2 1l-2 0l-2-1l-2 0l-2 1l-2-1l-2 1l-2 0l-2 0l-2-1l-2 0l-2 0l-2 0l-2 1l-2 0l-2 0l-2 0l-2 0l-2-1l-2 0l-2 0l-2 0l-2 0l-2 0l-2 0l-2 2l-2-1l-2 0l-2 0l-2 0l-2 1l-2 2l-2-3l-2 0l-2-1l-2 0l-2 0l-2 0l-2 0l-2 0l-2 0l-2 0l-2 0l-2 1l-2 0l-2 0l-2 0l-2 1l-2 0l-2-1l-2 0l-2-1l-2 0l-2 0l-2 0l-2 0l-2 0l-2 1l-2 0l-2 0l-2 0l-2 1l-2-1l-2 0l-2 0l-2 1l-2-1l-2 0l-2 0l-2-1l-2 1l-2 0l-2 0l-2-1l-2 1l-2 0l-2 0l-2 0l-2 0l-2 1l-2-1l-2 0l-2 1l-2 0l-2-1l-2 1l-2-1l-2 0l-2 0l-2 0l-2 0l-2-1l-2 1l-2-1l-2 0l-2 0l-2 0l-2 1l-2 0l-2 0l-2 0l-2 0l-2 0l-2-1l-2 0l-2 1l-2 0l-2-1l-2 0l-2 0l-2 0l-2 0l-2 0l-2 1l-2-1l-2 1l-2 0l-2 0l-2 0l-2-1l-2 1l-2-1l-2 0l-2 0l-2 0l-2 0l-2 0l-2 0l-2 0l-2 0l-2 1l-2 0l-2 0l-2 0l-2 0l-2 0l-2-1l-2 0l-2 0l-2 0l-2 0l-2 0l-2 0l-2 0l-2 0l-2 0l-2 0l-2 1l-2 0l-2 1l-2-1l-2 0l-2 0l-2 0l-2 0l-2 0l-2 0l-2 0l-2 0l-2-1l-2 1l-2 0l-2 0l-2-1l-2 1l-2-1l-2 0l-2 1l-2 0l-2 0l-2 1l-2 0l-2 0l-2 0l-2 0l-2 0l-2-1l-2 0l-2 0l-2-1l-2 0l-2 0l-2 0l-2 1l-2 0l-2 1l-2-1l-2 1l-2 0l-2 0l-2 0l-2 0l-2-1l-2 0l-2-1l-2 0l-2 0l-2 0l-2 0l-2 0l-2 0l-2 1l-2 0l-2 1l-2-1l-2 1l-2-1l-2 0l-2 1l-2-1l-2 0l-2 0l-2 0l-2-1l-2 1l-2 0l-2 0l-2 0l-2 0l-2 0l-2 0l-2 0l-2 0l-2 0l-2 0l-2 0l-2 1l-2-1l-2 1l-2-1l-2-1l-2 0l-2 0l-2 0l-2 0l-2 0l-2 0l-2 0l-2 1l-2 0l-2 0l-2 0l-2 0l-2 1l-2-1l-2 0l-2 0l-2 0l-2-1l-2 1l-2-1l-2 0l-2 0l-2 0l-2 0l-2 1l-2 1l-2 0l-2 0l-2 0l-2 1l-2-1l-2 0l-2 0l-2-1l-2 0l-2 0l-2-1l-2 0l-2 0l-2 0l-2 0l-2 0l-2 0l-2 1l-2 0l-2 0l-2 1l-2-1l-2 0l-2 0l-2 0l-2 0l-2 0l-2 0l-2-1l-2 1l-2-1l-2 0l-2 1l-2 0l-2-1l-2 0l-2 1l-2 0l-2-1l-2 1l-2 0l-2 0l-2 0l-2 0l-2-1l-2 0l-2 0l-2 0l-2 0l-2 0l-2 0l-2 1l-2-1l-2 1l-2 0l-2 0l-2 0l-2 0l-2 1l-2 0l-2-1l-2-1l-2 0l-2 0l-2 0l-2 0l-2 0l-2 0l-2 0l-2 0l-2 1l-2 0l-2 0l-2 0l-2 0l-2 0l-2 0l-2-1l-2 1l-2-1l-2 1l-2-1l-2 0l-2 0l-2 1l-2-1l-2 0l-2 1l-2 0l-2 0l-2 1l-2 0l-2 0l-2 0l-2-1l-2-1l-2 0l-2 0l-2 0l-2 0l-2 0l-2 0l-2 1l-2 0l-2 0l-2 0l-2 1l-2-1l-2 0l-2 0l-2 0l-2 0l-2-1l-2 1l-2-1l-2 1l-2-1l-2 0l-2 0l-2 0l-2 1l-2 1l-2 0l-2-1l-2 1l-2 0l-2 0l-2 0l-2-1l-2 0l-2 0l-2 0l-2-1l-2 0l-2 0l-2 0l-2 1l-2 0l-2-1l-2 1l-2 0l-2 0l-2 0l-2 0l-2 0l-2 0l-2 0l-2 0l-2 0l-2 0l-2 0l-2 0l-2 0l-2-1l-2 0l-2 0l-2 0l-2 1l-2 1l-2 0l-2 0l-2 0l-2 0l-2 0l-2 0l-2-1l-2 0l-2-1l-2 0l-2 0l-2 0l-2 0l-2 0l-2 0l-2 0l-2 1l-2 0l-2 0l-2 0z"/>
<path fill="#0000ff" fill-opacity="0.8" stroke="#0000ff" d="M223 694l2 1l2-1l2 0l2 1l2 0l2 0l2 0l2-1l2 1l2-1l2 0l2-1l2 0l2 0l2 0l2-1l2 2l2-1l2 0l2 0l2 0l2 1l2 1l2 0l2 0l2 0l2 0l2 0l2-1l2 0l2-1l2 1l2 0l2-1l2 0l2 1l2-1l2 1l2-1l2 1l2 1l2 0l2-1l2 1l2 0l2 0l2 0l2-1l2 0l2 0l2 0l2 0l2 0l2 0l2 0l2 1l2-1l2 1l2 0l2 0l2 0l2-1l2 1l2 0l2 0l2 0l2 0l2-1l2 0l2 1l2-1l2 1l2-1l2 1l2-1l2 0l2 1l2-1l2 1l2-1l2 0l2 1l2 0l2-1l2 0l2 0l2 0l2-1l2 0l2 1l2-1l2 1l2 0l2 0l2-1l2 1l2 0l2 1l2 0l2 0l2 0l2 0l2-1l2 1l2-1l2 1l2 0l2 0l2-1l2-1l2 0l2 0l2 1l2 0l2 0l2 0l2 1l2-1l2 1l2-1l2 1l2-1l2 0l2 1l2 0l2 0l2 0l2 0l2-1l2 0l2 0l2-1l2 0l2 0l2 0l2 0l2 1l2 0l2 0l2 0l2 1l2 0l2 0l2 0l2 0l2 0l2 0l2 0l2 0l2-2l2 1l2-1l2 0l2 0l2 0l2 1l2 0l2 0l2 0l2 1l2 0l2 0l2 0l2-1l2 1l2 0l2 0l2 0l2-1l2 0l2-1l2 1l2 0l2-1l2 0l2 1l2 0l2 0l2 0l2 0l2 1l2 0l2-1l2 0l2 0l2 0l2 0l2 0l2 0l2-1l2 1l2-1l2 0l2 0l2 1l2-1l2 1l2 0l2 1l2-1l2 1l2 0l2 0l2 0l2 0l2 0l2-1l2 0l2-1l2 1l2 0l2 1l2-1l2 0l2 0l2 1l2 0l2 0l2 0l2 0l2 0l2 0l2 0l2-1l2 1l2-1l2 0l2 0l2-1l2 1l2 0l2-1l2 0l2 1l2 0l2 0l2 0l2 0l2 1l2-1l2 0l2 0l2 0l2 0l2 0l2-1l2 0l2 0l2 1l2 0l2-1l2 0l2 0l2 1l2 0l2 0l2 0l2 1l2-1l2 1l2 0l2 0l2 0l2-1l2 0l2 0l2 0l2 0l2-1l2 1l2-1l2 1l2 1l2 0l2 0l2 0l2 0l2 0l2 0l2 0l2 0l2-1l2 0l2-1l2 1l2 0l2 0l2-1l2 0l2-2l2 3l2 0l2 1l2 0l2 0l2 0l2 0l2 0l2 0l2 0l2 0l2-1l2-1l2 1l2-1l2 0l2 0l2-1l2 1l2 1l2 0l2 0l2 1l2-1l2 1l2 0l2-1l2 1l2-1l2 0l2 0l2 0l2 0l2 1l2-1l2 0l2 1l2-1l2 0l2 1l2-1l2-2l2-3l2 0l2 6l2-1l2 0l2 0l2 1l2-2l2 1l2 0l2-1l2 1l2 0l2 0l2 0l2 0l2 1l2 0l2 0l2 0l2 0l2 0l2 0l2 0l2 0l2 0l2-1l2 0l2-1l2 0l2 0l2 0l2 1l2-1l2 0l2 1l2 0l2 0l2 1l2 0l2 0l2 0l2 0l2-1l2 0l2 1l2 0l2-1l2 1l2 0l2 0l2-1l2 1l2-1l2 0l2 1l2 0l2-1l2 0l2 0l2 0l2 0l2 0l2 0l2 0l2 1l2-1l2 1l2-1l2 0l2 0l2 0l2 0l2 0l2 0l2 0l2 0l2 0l2 0l2 0l2 1l2 0l2 0l2 0l2-1l2 0l2 0l2 0l2 0l2 0l2 0l2 0l2 0l2 0l2 0l2 1l2 0l2 0l2 0l2 0l2 0l2 0l2 0l2-1l2 0l2 1l2 0l2-1l2 0l2 0l2 0l2 0l2 0l2 0l2 0l2 0l2 1l2 0l2 0l2 0l2 0l2-1l2 0l2 0l2 0l2-1l2 1l2 0l2-1l2 0l2 0l2 1l2-1l2 0l2 1l2 0l2 0l2 0l2 0l2 0l2 0l2 1l2 0l2-1l2 0l2 1l2-1l2 0l2 0l2 0l2 0l2 0l2 0l2 1l2-1l2 1l2 0l2 0l2-1l2 0l2 0l2 1l2-1l2 1l2-1l2 1l2-1l2 1l2 0l2-1l2 1l2 0l2 0l2 0l2 0l2-1l2 1l2-1l2 1l2-1l2 0l2 0l2 0l2 0l2 0l2-1l2 1l2 0l2 1l2 0l2 0l2-1l2 1l2 0l2 0l2 0l2-1l2 0l2-1l2 1l2-1l2 0l2 0l2 0l2 0l2 1l2 0l2 1l2 0l2 0l2 0l2 0l2-3l2 1l2-6l2 5l2-6l2 5l2 3l2-3l2 2l2 0l2 1l2 0l2 0l2 0l2 0l2 1l2 0l2 0l2 0l2 0l2 0l2 0l2 0l2 0l2 0l2-1l2-1l2 1l2 0l2-1l2 0l2 0l2 1l2 0l2 1l2 0l2 0l2 0l2 0l2 0l2 0l2 0l2-1l2 0l2-1l2 0l2 0l2 0l2 1l2-1l2 0l2 1l2 0l2 1l2-1l2 1l2-1l2 1l2 0l2 0l2-1l2 0l2 0l2 0l2-2l2 0l2 1l2-1l2 1l2 1l2 0l2 0l2 1l2 0l2 0l2 0l2 0l2 0l2 0l2 0l2 0l2 0l2-1l2-1l2 1l2-1l2 0l2 0l2 0l2 1l2 0l2 0l2 1l2 0l2 0l2 0l2 0l2 0l2 0l2 0l2 0l2 0l2-1l2 1l2-1l2 0l2 0l2 0l2 0l2 0l2 1l2-1l2 1l2 0l2 0l2 0l2 0l2-1l2 1l2-2l2 0l2 1l2-1l2 0l2 1l2-1l2 0l2 1l2-1l2 1l2 0l2 1l2-1l2 1l2-1l2 1l2-1l2 0l2-1l2 1l2 0l2 0l2 0l2 0l2 0l2 1l2 0l2 0l2-1l2 0l2 0l2 1l2-1l2 0l2 0l2 0l2 0l2 1l2 0l2-1l2 1l2-1l0 7l-2-1l-2 0l-2 0l-2 0l-2 0l-2 0l-2 0l-2 1l-2-1l-2 0l-2 0l-2-1l-2 1l-2 0l-2-1l-2 1l-2 0l-2 0l-2 1l-2-1l-2 0l-2 0l-2 1l-2-1l-2 0l-2 0l-2-1l-2 0l-2 0l-2 1l-2 0l-2 0l-2 1l-2 0l-2 0l-2 0l-2 0l-2 0l-2 0l-2 0l-2-1l-2 1l-2 0l-2-1l-2 0l-2 0l-2-1l-2 0l-2 1l-2 0l-2 0l-2 0l-2 1l-2-1l-2 0l-2 0l-2 1l-2-1l-2 1l-2-1l-2 0l-2 0l-2-1l-2 1l-2-1l-2 0l-2 0l-2 0l-2 1l-2 0l-2 0l-2 1l-2 0l-2 0l-2 0l-2 0l-2-1l-2 1l-2-1l-2-1l-2 0l-2 0l-2 0l-2 1l-2-1l-2 1l-2-1l-2 0l-2 1l-2 0l-2 0l-2 1l-2 0l-2 0l-2 0l-2 0l-2 0l-2 0l-2 0l-2-1l-2 0l-2 0l-2-1l-2 1l-2-1l-2 1l-2-1l-2 1l-2 0l-2 1l-2 0l-2 0l-2 0l-2 0l-2 0l-2 0l-2-1l-2 0l-2 0l-2 0l-2 0l-2-1l-2 1l-2 0l-2-1l-2 1l-2-1l-2 1l-2 0l-2 2l-2-1l-2 1l-2 0l-2 0l-2-1l-2 0l-2-1l-2 0l-2-1l-2 0l-2 0l-2 0l-2 1l-2-1l-2 1l-2 0l-2-1l-2 1l-2 0l-2 0l-2 0l-2 1l-2 0l-2 0l-2 1l-2 4l-2 3l-2-3l-2-2l-2-5l-2 3l-2-3l-2 0l-2 1l-2-1l-2 0l-2 1l-2 1l-2 0l-2 1l-2-1l-2 1l-2-1l-2 1l-2-1l-2-1l-2 0l-2 0l-2-1l-2 0l-2 0l-2 1l-2 0l-2-1l-2 0l-2 1l-2 0l-2 0l-2 1l-2-1l-2 1l-2-1l-2 0l-2 1l-2-1l-2 0l-2 0l-2-1l-2 1l-2 0l-2 0l-2 0l-2-1l-2 0l-2 1l-2 0l-2 0l-2 0l-2 0l-2 0l-2 0l-2 0l-2 0l-2 0l-2 0l-2 0l-2 0l-2 0l-2 0l-2 0l-2 0l-2 0l-2 0l-2 0l-2 0l-2 0l-2 0l-2 0l-2-1l-2 0l-2 1l-2 0l-2 0l-2-1l-2 1l-2 0l-2 0l-2 0l-2 1l-2 0l-2 0l-2-1l-2 0l-2 2l-2-1l-2 0l-2 0l-2 0l-2-1l-2 1l-2-1l-2 0l-2 0l-2-1l-2 1l-2-1l-2 1l-2 0l-2 0l-2 0l-2 0l-2 0l-2 1l-2 0l-2 0l-2-1l-2 1l-2-1l-2 0l-2 0l-2-1l-2 1l-2 0l-2-1l-2 1l-2 0l-2-1l-2 1l-2 0l-2 0l-2 0l-2 1l-2-1l-2 0l-2 0l-2 0l-2 1l-2-1l-2 0l-2 0l-2-1l-2 1l-2 0l-2 0l-2 0l-2 0l-2 0l-2 0l-2 0l-2 0l-2 1l-2 0l-2 0l-2-1l-2 0l-2 0l-2-1l-2 1l-2 0l-2 0l-2 0l-2 1l-2-1l-2 0l-2 1l-2-1l-2 0l-2 1l-2-1l-2 0l-2 0l-2 1l-2-1l-2 0l-2 0l-2 0l-2 0l-2 0l-2 0l-2 0l-2 0l-2-1l-2 1l-2-1l-2 1l-2 0l-2 0l-2 1l-2 0l-2 0l-2 0l-2 0l-2 0l-2 0l-2 0l-2 0l-2-1l-2 0l-2 0l-2-1l-2 1l-2 0l-2-1l-2 0l-2 1l-2-1l-2 0l-2 1l-2 0l-2 0l-2 1l-2-1l-2 1l-2-1l-2 1l-2-1l-2 0l-2 0l-2-1l-2 2l-2-1l-2 0l-2 5l-2-3l-2 0l-2-2l-2 0l-2 0l-2 0l-2 0l-2 0l-2 0l-2 0l-2 0l-2 0l-2 0l-2 0l-2 0l-2-1l-2 1l-2 0l-2-1l-2 1l-2 0l-2 0l-2 1l-2 1l-2 0l-2-1l-2 0l-2 0l-2 0l-2 0l-2-1l-2-1l-2 1l-2 0l-2-1l-2 0l-2 0l-2 0l-2 0l-2 0l-2 1l-2 1l-2 2l-2-2l-2 0l-2 1l-2 0l-2 0l-2-1l-2 0l-2-1l-2-1l-2 0l-2 0l-2 1l-2 0l-2-1l-2 0l-2 1l-2 1l-2-1l-2 0l-2 2l-2-1l-2 0l-2 0l-2 0l-2 0l-2-1l-2-1l-2 0l-2 0l-2 1l-2 0l-2 0l-2 0l-2 1l-2 0l-2 0l-2 0l-2 0l-2 0l-2 0l-2 0l-2-1l-2 1l-2 0l-2 0l-2-1l-2 0l-2 1l-2-1l-2 0l-2 0l-2 1l-2-1l-2 0l-2 0l-2 1l-2 0l-2 0l-2 0l-2-1l-2 0l-2 1l-2 0l-2-1l-2 0l-2 0l-2 0l-2-1l-2 0l-2 0l-2 1l-2-1l-2 0l-2 1l-2-1l-2 2l-2-1l-2 0l-2 0l-2 1l-2 0l-2-1l-2 0l-2 0l-2-1l-2 0l-2 1l-2 0l-2-1l-2 1l-2 0l-2 0l-2 1l-2 0l-2 0l-2 1l-2-1l-2 1l-2 0l-2-1l-2 0l-2 0l-2 0l-2 0l-2 0l-2-1l-2 0l-2 0l-2-1l-2 1l-2 0l-2 0l-2 1l-2-1l-2 0l-2 1l-2 1l-2-1l-2-1l-2 1l-2-1l-2 0l-2 0l-2 0l-2 0l-2-1l-2 0l-2 1l-2-1l-2 0l-2 1l-2 0l-2 0l-2 1l-2-1l-2 1l-2 0l-2 0l-2 0l-2 0l-2-1l-2-1l-2 1l-2-1l-2 1l-2-1l-2 0l-2 1l-2-1l-2 1l-2 0l-2 0l-2 1l-2 0l-2 0l-2 0l-2 0l-2-1l-2 1l-2 0l-2-1l-2 0l-2 0l-2-1l-2 1l-2 0l-2 0l-2 0l-2 0l-2 0l-2 0l-2 0l-2 0l-2 0l-2 0l-2 1l-2 0l-2 0l-2-1l-2 1l-2-1l-2 0l-2 0l-2-1l-2 1l-2-1l-2 0l-2 0l-2 1l-2 0l-2 0l-2 0l-2 0l-2 1l-2-1l-2 1l-2 0l-2 0l-2 0l-2-1l-2 1l-2 0l-2-1l-2 1l-2-1l-2 0l-2 0l-2 0l-2-1l-2 1l-2-1l-2 0l-2 1l-2 0l-2 0l-2-1l-2 1l-2 0l-2 0l-2-1l-2 0l-2 0l-2 0l-2 1l-2 0l-2 0l-2 0l-2-1l-2 1l-2 0l-2-1l-2 1l-2 0l-2 0l-2 0l-2 1l-2-1l-2 0l-2 0l-2 1l-2-1l-2 0l-2 0l-2 0l-2-1l-2 1l-2 0l-2-1l-2 1l-2 1l-2 0l-2 0l-2 0l-2 0l-2 0l-2 0l-2 0l-2-1l-2 1l-2-1l-2 0l-2 0l-2-1l-2 1l-2 0l-2 0l-2 0l-2 0l-2 0l-2 1l-2 0l-2 0l-2 0l-2 1l-2 0l-2-1l-2 0l-2 0l-2-1l-2 0l-2 0l-2-1l-2 0l-2 0l-2 0l-2 0l-2 1l-2 0l-2 1l-2-1z"/>
<path fill="#ff0000" fill-opacity="0.8" stroke="#ff0000" d="M223 719l2 0l2-1l2 1l2 0l2 0l2 0l2 0l2 0l2 0l2 1l2-1l2 0l2 0l2-1l2-1l2 0l2 1l2 0l2-1l2 0l2 0l2 1l2 0l2 1l2 0l2 0l2 0l2 0l2 0l2 0l2-1l2 0l2-1l2 0l2 0l2 0l2 0l2 1l2 0l2 1l2-1l2 1l2 0l2 0l2 0l2 0l2-1l2 1l2-1l2 1l2-1l2 0l2 1l2 0l2 0l2 0l2 0l2 0l2 0l2 0l2-1l2 1l2-1l2 0l2 1l2-1l2 0l2 1l2 0l2-1l2 1l2-1l2 1l2 0l2 0l2 0l2 0l2 0l2 0l2 0l2-1l2 0l2 0l2 0l2 0l2 0l2 0l2 0l2 1l2 0l2-1l2 0l2 0l2 1l2-1l2 0l2 0l2 0l2 0l2 1l2 0l2 0l2 0l2 0l2 0l2-1l2 0l2 0l2 1l2 0l2 0l2 0l2 0l2 0l2 0l2 0l2 0l2 0l2 0l2 0l2 0l2 0l2-1l2 1l2-1l2 1l2-1l2 1l2-1l2 1l2 0l2 0l2 0l2 0l2-1l2 0l2 0l2-1l2 0l2 0l2 1l2 0l2 0l2 1l2 0l2 0l2 0l2 0l2 0l2 0l2 0l2-1l2 0l2 0l2 0l2-1l2 1l2 0l2 0l2-1l2 0l2 1l2 0l2 0l2 0l2 1l2-1l2 1l2 0l2-1l2 1l2 0l2 0l2-1l2 0l2 1l2-1l2 1l2-1l2-1l2 1l2 0l2-2l2 0l2 3l2 0l2 0l2 0l2 1l2-1l2-1l2 0l2-1l2 1l2 0l2-1l2 1l2 0l2-1l2 1l2 0l2 1l2 0l2 0l2 0l2 0l2 0l2 0l2 1l2-1l2 1l2-1l2-1l2-1l2 0l2 0l2 0l2 1l2 0l2 1l2-1l2 0l2 1l2 0l2-1l2 0l2 0l2 0l2 0l2 1l2-1l2 1l2-1l2 0l2 1l2-1l2 0l2 0l2 0l2 0l2 1l2-1l2 1l2 0l2-1l2 1l2 0l2-1l2 0l2 0l2 0l2 0l2-1l2 1l2-1l2 1l2 0l2 0l2 0l2 0l2 1l2 0l2 0l2 0l2 1l2 0l2-1l2 0l2 0l2-1l2 1l2-1l2 0l2-7l2 2l2 4l2 1l2 0l2-3l2-2l2 4l2 2l2 0l2-3l2-5l2 0l2 2l2 4l2 1l2 1l2-1l2 0l2 0l2 0l2 0l2-1l2 1l2 0l2 0l2 1l2 0l2 1l2-1l2 1l2 0l2-1l2 0l2 0l2 1l2-1l2 0l2-1l2 0l2 0l2-1l2 1l2 0l2-1l2 1l2-1l2 1l2 0l2 1l2 0l2 1l2-1l2 1l2 0l2-1l2 0l2 0l2 0l2 0l2-1l2 0l2 0l2 0l2-1l2 1l2 0l2 1l2 0l2 1l2-1l2 0l2 0l2 0l2 0l2 0l2 0l2 0l2 0l2 0l2-1l2-1l2 0l2 0l2 0l2 0l2 1l2 1l2 0l2 0l2 0l2 0l2 0l2 0l2 0l2 0l2 0l2 0l2 1l2-1l2-1l2 0l2-1l2 0l2 0l2 0l2 1l2-6l2 2l2 2l2 3l2 0l2 0l2 0l2 0l2 0l2 0l2 1l2-1l2-1l2 1l2-1l2 0l2 1l2-1l2 1l2 0l2 0l2 0l2 0l2 0l2 1l2-1l2 0l2 1l2-1l2 0l2 0l2 0l2 0l2 0l2 0l2-1l2 0l2 0l2 0l2 0l2 0l2-1l2 1l2-4l2-1l2 4l2 0l2 2l2 0l2 0l2 1l2-1l2 0l2 0l2-1l2 0l2-1l2 1l2-1l2 0l2 1l2-1l2 2l2 0l2 0l2 1l2-1l2 0l2 0l2 0l2 1l2-1l2 0l2 0l2-1l2-1l2 0l2 0l2 1l2-1l2 0l2 2l2 0l2 0l2 0l2 0l2 0l2 0l2 0l2 0l2-1l2 1l2-1l2 0l2 0l2 0l2 0l2 0l2 0l2 1l2 0l2 0l2 0l2 0l2 0l2 0l2-4l2 0l2 1l2 2l2 0l2 1l2-1l2 0l2 0l2 1l2-2l2 1l2 0l2 1l2-1l2 0l2 0l2 1l2 0l2 0l2 1l2-1l2 0l2 0l2-1l2 0l2-1l2 0l2 0l2 0l2 0l2 0l2 0l2 0l2 0l2 1l2 0l2 1l2-1l2 1l2 0l2 0l2 0l2 0l2-1l2 0l2 0l2 0l2 0l2 0l2 0l2 0l2 0l2 0l2 1l2-1l2 1l2 0l2 0l2 0l2 1l2-1l2 0l2 0l2 1l2 0l2-1l2 0l2 0l2-1l2 1l2 0l2 0l2-1l2 0l2 0l2 1l2-1l2 1l2 0l2 0l2 0l2 0l2 0l2 0l2 0l2-1l2 1l2-1l2 0l2 0l2 0l2 0l2 0l2 0l2 1l2 0l2 0l2 0l2 0l2 0l2 0l2 0l2 0l2 0l2 0l2 0l2-1l2 0l2 0l2 0l2 0l2-1l2 2l2-1l2 1l2-1l2 1l2 0l2 0l2-2l2 2l2-7l2 7l2-3l2 3l2-1l2 0l2 0l2 0l2 0l2-1l2 0l2 2l2 0l2 0l2 0l2-1l2 1l2 0l2 0l2 0l2 0l2 0l2-1l2 1l2 0l2-1l2 0l2 0l2 0l2 1l2-1l2 0l2 1l2-1l2 1l2 0l2 0l2 0l2 0l2 0l2 0l2 0l2 0l2 0l2 0l2 0l2-1l2 0l2-1l2 0l2 0l2 1l2-1l2 1l2 0l2 1l2 0l2 0l2 0l2 0l2 0l2-1l2 1l2 0l2-1l2 0l2 0l2 1l2-1l2 1l2-2l2 0l2 1l2 1l2-1l2 0l2 1l2 0l2 0l2 0l2 0l2-1l2 0l2 0l2 0l2 0l2-1l2 1l2 0l2 0l2 0l2 0l2 1l2 0l2 0l2 0l2 0l2 0l0 4l-2 1l-2 0l-2 0l-2 0l-2 1l-2 0l-2 0l-2 0l-2-1l-2 2l-2 0l-2-1l-2 0l-2 1l-2-2l-2 0l-2 0l-2-1l-2 1l-2-1l-2 1l-2 0l-2 0l-2 1l-2 0l-2 0l-2 1l-2-2l-2 0l-2 1l-2 0l-2 0l-2 0l-2 0l-2 0l-2 0l-2-1l-2 0l-2 0l-2 0l-2 0l-2 0l-2 0l-2 1l-2 1l-2 0l-2 0l-2-1l-2 1l-2-1l-2 1l-2-1l-2-1l-2 0l-2 0l-2-1l-2 1l-2-1l-2 1l-2 0l-2 0l-2 0l-2 1l-2 0l-2 0l-2 0l-2 0l-2 0l-2 0l-2-1l-2 1l-2-1l-2 1l-2 0l-2-1l-2 0l-2 0l-2 0l-2 0l-2 0l-2 0l-2 0l-2 0l-2 1l-2 0l-2 0l-2 0l-2 0l-2 0l-2 0l-2 0l-2 0l-2-1l-2 1l-2 0l-2 0l-2 6l-2-6l-2-1l-2 0l-2 0l-2 0l-2 0l-2 0l-2 1l-2 0l-2 0l-2 0l-2 0l-2 0l-2 0l-2-1l-2 0l-2 0l-2 0l-2 0l-2 0l-2 0l-2 0l-2 0l-2 0l-2 0l-2 0l-2 1l-2 0l-2 0l-2 0l-2 0l-2 0l-2 0l-2-1l-2 1l-2-1l-2 0l-2-1l-2 1l-2-1l-2 1l-2 0l-2 0l-2 0l-2 0l-2 1l-2 0l-2 0l-2 0l-2 0l-2 0l-2-1l-2 0l-2 0l-2 0l-2 0l-2 0l-2 0l-2-1l-2 0l-2 1l-2 0l-2 0l-2-1l-2 1l-2 0l-2 0l-2 0l-2 0l-2 0l-2 1l-2 0l-2 0l-2 0l-2-1l-2 1l-2 0l-2-1l-2 1l-2-1l-2 0l-2 0l-2 1l-2-1l-2 0l-2 0l-2 0l-2 1l-2 1l-2-1l-2 1l-2-1l-2 1l-2-1l-2 0l-2 0l-2 0l-2 0l-2-1l-2 0l-2 0l-2-1l-2 1l-2-1l-2 1l-2 1l-2-1l-2 0l-2 1l-2 0l-2 0l-2 0l-2-1l-2 0l-2 1l-2 0l-2 0l-2 0l-2 0l-2 2l-2 1l-2-4l-2 0l-2 0l-2-1l-2 1l-2-1l-2 1l-2 1l-2 0l-2 0l-2 0l-2 0l-2 0l-2 0l-2 0l-2-1l-2 0l-2 0l-2 0l-2 0l-2 0l-2 0l-2 0l-2 0l-2 0l-2 1l-2 0l-2 0l-2 1l-2-1l-2 1l-2-2l-2 1l-2 0l-2-1l-2 0l-2 0l-2 0l-2 0l-2 0l-2 0l-2 0l-2 0l-2 0l-2 0l-2 0l-2 1l-2 0l-2 1l-2 0l-2-1l-2 1l-2-2l-2 0l-2 0l-2 0l-2 0l-2-1l-2 1l-2 0l-2 2l-2-2l-2 6l-2-1l-2-4l-2 1l-2-1l-2 1l-2 0l-2-1l-2-1l-2 0l-2 0l-2 0l-2-1l-2 1l-2 0l-2 0l-2-1l-2 1l-2 0l-2 0l-2 0l-2 0l-2 0l-2 0l-2 0l-2 1l-2 0l-2-1l-2 1l-2-1l-2 1l-2-1l-2 0l-2-1l-2 1l-2 0l-2-1l-2 1l-2-1l-2 0l-2 0l-2 1l-2 0l-2 4l-2 3l-2-2l-2-4l-2 0l-2 0l-2 1l-2 0l-2-2l-2 0l-2 0l-2 0l-2 0l-2 0l-2-1l-2 1l-2 0l-2 0l-2 0l-2 1l-2-1l-2 1l-2 0l-2 0l-2 0l-2 0l-2 0l-2 0l-2 0l-2 0l-2 0l-2-1l-2-1l-2 1l-2 0l-2 0l-2 0l-2-1l-2 0l-2 1l-2 0l-2 0l-2 1l-2 0l-2 0l-2 0l-2 1l-2-1l-2 0l-2 0l-2-1l-2 0l-2 0l-2 0l-2 0l-2 0l-2 0l-2 0l-2 0l-2 1l-2-1l-2 1l-2 0l-2 1l-2-1l-2 0l-2 1l-2 0l-2-1l-2 0l-2 0l-2-1l-2 0l-2 0l-2-1l-2 1l-2 0l-2 0l-2-1l-2 0l-2 0l-2 0l-2 1l-2 0l-2 1l-2 0l-2 1l-2 0l-2-1l-2 1l-2-1l-2 0l-2 0l-2-1l-2 3l-2 3l-2 2l-2-8l-2 3l-2-4l-2 5l-2 1l-2 1l-2-5l-2 0l-2 1l-2-1l-2 5l-2 2l-2-3l-2-3l-2-2l-2 1l-2-1l-2-1l-2 1l-2 0l-2 0l-2-1l-2 1l-2 0l-2 0l-2 1l-2-1l-2 2l-2 0l-2 0l-2-1l-2 1l-2 0l-2 0l-2-1l-2 0l-2-1l-2 0l-2 0l-2 1l-2 0l-2 0l-2-1l-2 0l-2 0l-2 1l-2-1l-2 1l-2 0l-2-1l-2 1l-2 0l-2-1l-2 1l-2 0l-2-1l-2 0l-2 1l-2 0l-2-1l-2 1l-2-1l-2 0l-2 0l-2 1l-2-1l-2 1l-2 1l-2-1l-2 1l-2 0l-2-1l-2-1l-2 0l-2 0l-2 0l-2 0l-2-1l-2 0l-2 0l-2 0l-2 1l-2 0l-2 0l-2 1l-2 0l-2 1l-2 0l-2-1l-2 1l-2 0l-2 0l-2-1l-2 0l-2-1l-2 0l-2 0l-2 0l-2 0l-2-1l-2 1l-2 3l-2 0l-2-3l-2 1l-2 0l-2 0l-2 0l-2 0l-2-1l-2 0l-2 1l-2 0l-2-1l-2 0l-2 1l-2-1l-2 1l-2-1l-2 0l-2 0l-2 1l-2-1l-2 1l-2 0l-2 1l-2 0l-2-1l-2 0l-2 0l-2 0l-2 0l-2-1l-2 1l-2-1l-2 0l-2 0l-2 0l-2-1l-2 0l-2 0l-2 1l-2 1l-2 0l-2 1l-2-1l-2 1l-2-1l-2 0l-2-1l-2 1l-2-1l-2 0l-2 0l-2 0l-2 0l-2 0l-2 0l-2 0l-2 0l-2 1l-2-1l-2 1l-2-1l-2 0l-2 0l-2 0l-2 0l-2 0l-2 1l-2-1l-2 0l-2 1l-2 0l-2 0l-2-1l-2 1l-2 0l-2 0l-2-1l-2 1l-2 0l-2 0l-2 0l-2-1l-2 1l-2 0l-2 0l-2 0l-2 0l-2 1l-2-1l-2 0l-2-1l-2 0l-2 1l-2 0l-2-1l-2 0l-2 1l-2-1l-2 1l-2 0l-2 0l-2 0l-2-1l-2 1l-2 0l-2-1l-2 0l-2 0l-2 0l-2 0l-2 0l-2 0l-2 0l-2 0l-2 1l-2-1l-2 0l-2 0l-2 0l-2 1l-2-1l-2 0l-2 1l-2 0l-2-1l-2 0l-2 0l-2 1l-2-1l-2 0l-2 1l-2-1l-2 0l-2 1l-2 0l-2 0l-2-1l-2 0l-2 0l-2 0l-2 0l-2 1l-2 0l-2 0l-2 1l-2 0l-2-1l-2 1l-2 0l-2-1l-2 1l-2-2l-2 0l-2 0l-2-1l-2 1l-2 0l-2 0l-2 0l-2 1l-2 0l-2 0l-2 1l-2 0l-2-1l-2 0l-2 1l-2 0l-2-2l-2 0l-2 0l-2 0l-2 0l-2 0l-2 0l-2-1l-2 0l-2 1l-2 0l-2-1l-2 1l-2 0l-2 0z"/>
<path fill="#0000ff" fill-opacity="0.8" stroke="#0000ff" d="M223 742l2 0l2-1l2 1l2-1l2 1l2 0l2 0l2 0l2 2l2 0l2-1l2 0l2 0l2 0l2 1l2 0l2-1l2 0l2 0l2-1l2 0l2 0l2 1l2-1l2 1l2 0l2 0l2-1l2 1l2-1l2 1l2 0l2 1l2-1l2 0l2 0l2-1l2 0l2 0l2-1l2 0l2 0l2 0l2 0l2 1l2-1l2 1l2 0l2 1l2 1l2-1l2 0l2 1l2-1l2 0l2 0l2-1l2 0l2 0l2-1l2 1l2-1l2 0l2 2l2-1l2 1l2 0l2 1l2-1l2 0l2 1l2-1l2 0l2 0l2 0l2 0l2-1l2-1l2 0l2 1l2-1l2 1l2 0l2 1l2 0l2 0l2 0l2 0l2 0l2 0l2 1l2-1l2 0l2 0l2 0l2 0l2-1l2 1l2 0l2 0l2 0l2 0l2 0l2 0l2-1l2 1l2 0l2 0l2-1l2 0l2 1l2-1l2 1l2 0l2 0l2 0l2-1l2 0l2 1l2 0l2 0l2 0l2 0l2 0l2 0l2 1l2-1l2 1l2-1l2 0l2-1l2 0l2 0l2 0l2 0l2 0l2 0l2 0l2 0l2 1l2 1l2-1l2 0l2 1l2 0l2 0l2-1l2 0l2-1l2 0l2 0l2 0l2 0l2 0l2 0l2 1l2-1l2 1l2-1l2 0l2 0l2 0l2 0l2 1l2 0l2 0l2-1l2 0l2 1l2-1l2 0l2 1l2 0l2-1l2 1l2 0l2-1l2 1l2 0l2 0l2 0l2 0l2 0l2-1l2 0l2 0l2 0l2 0l2 0l2 0l2 0l2 0l2 0l2 1l2-1l2 0l2 1l2 0l2-3l2 3l2-1l2 0l2 1l2-1l2 1l2-1l2 0l2 0l2 1l2-1l2 0l2 0l2 1l2-1l2-2l2-3l2 2l2 4l2 1l2 0l2-1l2 0l2-1l2 1l2 0l2-1l2 0l2 0l2 1l2-1l2 0l2 0l2 0l2 1l2-1l2 1l2 0l2 0l2-1l2 1l2 0l2 0l2-1l2 0l2 1l2-1l2 0l2 0l2 1l2-1l2 1l2-1l2 1l2 0l2 1l2-1l2 0l2 0l2 0l2 0l2 1l2-1l2 0l2 0l2-1l2 0l2-1l2 0l2 1l2 1l2 0l2 0l2 0l2 1l2-1l2 1l2 0l2 0l2-1l2 1l2-1l2 0l2-2l2 1l2-1l2 1l2-1l2 0l2 1l2 1l2-1l2 1l2 0l2-1l2 0l2 1l2-1l2 1l2-1l2 1l2 0l2 0l2-1l2 0l2 1l2 0l2 0l2 0l2 0l2 0l2 0l2 0l2-1l2 1l2 0l2 0l2 0l2 0l2 0l2-1l2 1l2-1l2 1l2 0l2 0l2 0l2 0l2-1l2 1l2 0l2 1l2 0l2-1l2 0l2 0l2 0l2 0l2-1l2 1l2-1l2 0l2 0l2 0l2-1l2 0l2 1l2 0l2 1l2 1l2 0l2 0l2 0l2 0l2 0l2-2l2 0l2 0l2 0l2 1l2-2l2 1l2-1l2 1l2 0l2 1l2 0l2 0l2 0l2 1l2-1l2 1l2-1l2 0l2 0l2 0l2-1l2 1l2-1l2 0l2 0l2 0l2 0l2 0l2 0l2 1l2 0l2 1l2-1l2 1l2 0l2-1l2 0l2 0l2 0l2 0l2-1l2 0l2 1l2 0l2-1l2 0l2 0l2 0l2 1l2 0l2-1l2 1l2 0l2 0l2-1l2 1l2 0l2 0l2 0l2 0l2 0l2-1l2 1l2-2l2 1l2 0l2 0l2 0l2 1l2 0l2 1l2-1l2 1l2-1l2 0l2 0l2 0l2 0l2-1l2 0l2 0l2-1l2 0l2 0l2 0l2 1l2 0l2 1l2 0l2 0l2 1l2-1l2 0l2 0l2 0l2 0l2 0l2-1l2 0l2 0l2 0l2 0l2 1l2 0l2 0l2 0l2 0l2 0l2 1l2 0l2-1l2 0l2 1l2-1l2 0l2 0l2 0l2 0l2-1l2 1l2-1l2 1l2-1l2 0l2 1l2 0l2-1l2 0l2 1l2-1l2 0l2 0l2 0l2-1l2 1l2 0l2 0l2 0l2 0l2 0l2 1l2-1l2 0l2 0l2 0l2 0l2 1l2-1l2 1l2 0l2 0l2 0l2-1l2 0l2 0l2-1l2 1l2 0l2-1l2 1l2 0l2 0l2 1l2-1l2 0l2 0l2 1l2 0l2 0l2 0l2-1l2 1l2 0l2 0l2 0l2 0l2 0l2 0l2 0l2 0l2 0l2 0l2 0l2 0l2 0l2 0l2 0l2-1l2 1l2-1l2 1l2-1l2-1l2 1l2-1l2 0l2 1l2 0l2 0l2 0l2 0l2 1l2-1l2 1l2 0l2 0l2 0l2 0l2 0l2-1l2 0l2 0l2 0l2 0l2 1l2 0l2 0l2-1l2 1l2 0l2 0l2 0l2 0l2 1l2-1l2 0l2 0l2-1l2 0l2-1l2 1l2-1l2 1l2 0l2 0l2 1l2 0l2 0l2 0l2-1l2 1l2 0l2 0l2 0l2 0l2 0l2-1l2 0l2 1l2-1l2 0l2 0l2 0l2 1l2 0l2 1l2-1l2 0l2 0l2 0l2 0l2 0l2-1l2 1l2 0l2 0l2 0l2 0l2-1l2 0l2-1l2 0l2 1l2-1l2 1l2 0l2 1l2 1l2 0l2-1l2 0l2 0l2 1l2-1l2 0l2 0l2 0l2-2l2 1l2 0l2 0l2-1l2 1l2-1l2 1l2 1l2-1l2 1l2 0l2 0l2 1l2-1l2 0l2-1l2 1l2 0l2 0l2 0l2 0l2 0l2 0l2-1l2-1l2 0l2 1l2 1l2 0l2 1l2-1l2 0l2 0l2 1l2 0l2 0l2-2l2 1l2-1l2 0l2-1l2 1l2-1l2 1l2 1l2 0l2 0l2 0l2 0l2-2l2 2l2-4l2 3l2 0l2 0l2 0l2 0l2 0l2 0l2-1l2 0l2 0l2 1l0 7l-2 1l-2 0l-2-1l-2 1l-2-1l-2 0l-2 1l-2-1l-2 2l-2 1l-2 1l-2-1l-2-4l-2 1l-2 0l-2 0l-2 0l-2 1l-2 0l-2 0l-2 0l-2 0l-2 0l-2 0l-2 0l-2-2l-2 0l-2 0l-2 1l-2-1l-2 1l-2-1l-2 1l-2 1l-2-1l-2 2l-2-1l-2 0l-2-1l-2 0l-2 0l-2-1l-2 1l-2 0l-2-1l-2 1l-2 0l-2 0l-2 0l-2-1l-2 0l-2 0l-2 1l-2-1l-2 1l-2 0l-2 1l-2 1l-2-1l-2 1l-2-1l-2 0l-2 0l-2-1l-2 0l-2 0l-2-1l-2 1l-2-1l-2 1l-2 0l-2-1l-2 0l-2 1l-2 0l-2 1l-2 1l-2-1l-2 0l-2 0l-2 1l-2-2l-2 0l-2-1l-2 1l-2-1l-2 1l-2-1l-2 0l-2 0l-2 1l-2 0l-2 0l-2-1l-2 0l-2 1l-2 0l-2 0l-2 0l-2 0l-2 0l-2 0l-2 1l-2-1l-2 0l-2 0l-2 0l-2-1l-2 1l-2 0l-2-1l-2 1l-2 0l-2 0l-2 0l-2 0l-2 1l-2 0l-2 0l-2 0l-2 0l-2-1l-2 1l-2-1l-2-1l-2 0l-2 0l-2 0l-2 1l-2 0l-2 0l-2-1l-2 0l-2 1l-2 0l-2 0l-2 1l-2-1l-2 0l-2 1l-2-1l-2 0l-2 0l-2 0l-2 0l-2 0l-2 0l-2 0l-2 0l-2 0l-2 1l-2 0l-2 0l-2-1l-2 1l-2 0l-2 1l-2-1l-2 1l-2-2l-2 0l-2 0l-2-1l-2 1l-2 0l-2-1l-2 0l-2 1l-2-1l-2 1l-2 0l-2 0l-2 0l-2 0l-2 0l-2 0l-2 0l-2 0l-2 0l-2 0l-2 0l-2 0l-2 0l-2-1l-2 1l-2 0l-2 0l-2 0l-2 0l-2 1l-2-1l-2 1l-2-1l-2 1l-2 1l-2-2l-2 1l-2-1l-2 0l-2 0l-2 0l-2 1l-2 0l-2-1l-2 1l-2 0l-2-1l-2 0l-2 1l-2-1l-2 1l-2-1l-2 1l-2 0l-2 0l-2-1l-2 1l-2-1l-2 0l-2 0l-2 0l-2 0l-2-1l-2 1l-2 0l-2 0l-2 0l-2 0l-2 0l-2 0l-2 0l-2 0l-2 0l-2 0l-2 0l-2 0l-2-1l-2 1l-2 0l-2-1l-2 0l-2 0l-2 0l-2 0l-2 0l-2 1l-2-1l-2 1l-2 0l-2 0l-2 0l-2 1l-2-1l-2 0l-2 0l-2-1l-2 0l-2 0l-2 0l-2 0l-2 1l-2 0l-2 0l-2 0l-2 1l-2 1l-2 0l-2-1l-2 1l-2-1l-2 0l-2 0l-2-1l-2 0l-2 0l-2-1l-2 1l-2 0l-2-1l-2 1l-2 0l-2 0l-2 1l-2 0l-2 0l-2 0l-2 0l-2-1l-2 0l-2 1l-2-2l-2 0l-2 1l-2 0l-2 0l-2 0l-2-1l-2 1l-2 0l-2 0l-2 0l-2 0l-2 0l-2 0l-2 0l-2 0l-2 0l-2-1l-2 2l-2-1l-2 0l-2 0l-2 0l-2 0l-2 0l-2-1l-2 1l-2-1l-2 0l-2 0l-2 0l-2 2l-2-1l-2 1l-2 0l-2-1l-2 1l-2 0l-2 0l-2-1l-2 0l-2 0l-2-1l-2 0l-2 0l-2 0l-2 0l-2 0l-2 1l-2-1l-2 2l-2 0l-2 0l-2 0l-2 0l-2 0l-2-1l-2 1l-2-1l-2 1l-2-1l-2-1l-2 0l-2 0l-2 0l-2 0l-2 0l-2 1l-2 0l-2 0l-2 1l-2 0l-2 0l-2 0l-2 1l-2-2l-2 1l-2-1l-2 0l-2-1l-2 1l-2 0l-2-1l-2 1l-2 0l-2 0l-2 0l-2 0l-2-1l-2 1l-2 0l-2 1l-2-1l-2 0l-2 0l-2 0l-2 0l-2-1l-2 1l-2-1l-2 1l-2 0l-2-1l-2 1l-2-1l-2 1l-2 0l-2-1l-2 0l-2 1l-2 0l-2 0l-2 0l-2 0l-2-1l-2 0l-2 1l-2 0l-2 1l-2-1l-2 1l-2-1l-2 0l-2 0l-2 0l-2 0l-2 0l-2 1l-2 0l-2 0l-2 0l-2 0l-2 1l-2-1l-2-1l-2 0l-2 0l-2 0l-2-1l-2 0l-2 0l-2 0l-2 0l-2 0l-2 0l-2 1l-2 1l-2 0l-2 0l-2 0l-2 0l-2-1l-2 0l-2 0l-2-1l-2 0l-2 0l-2 1l-2-1l-2 0l-2 0l-2 0l-2 1l-2 1l-2-1l-2 0l-2 1l-2-1l-2 0l-2 1l-2-1l-2 0l-2 0l-2 0l-2 1l-2-1l-2-1l-2 1l-2 0l-2 0l-2 0l-2 1l-2-1l-2 0l-2 0l-2 1l-2-1l-2 1l-2-1l-2 1l-2-1l-2 1l-2-1l-2 0l-2-1l-2 0l-2 1l-2-1l-2 4l-2 3l-2-5l-2-1l-2 1l-2 0l-2-1l-2 0l-2 1l-2 0l-2 0l-2-1l-2 0l-2 1l-2-1l-2 0l-2 0l-2 0l-2 3l-2-3l-2 0l-2 0l-2 0l-2 0l-2 0l-2 0l-2 1l-2-1l-2 1l-2-1l-2 0l-2 0l-2 0l-2 1l-2-1l-2 0l-2 0l-2 0l-2-1l-2 2l-2-1l-2 0l-2 0l-2 1l-2-1l-2 1l-2-1l-2 0l-2 1l-2 0l-2-1l-2 0l-2 0l-2 0l-2 1l-2 0l-2-1l-2 0l-2 0l-2 0l-2 0l-2 0l-2 0l-2 1l-2-1l-2 0l-2 0l-2 0l-2 0l-2-1l-2 1l-2-1l-2 0l-2 0l-2 0l-2 1l-2-1l-2 1l-2 0l-2 1l-2 0l-2 0l-2 0l-2 0l-2 0l-2-1l-2 0l-2 0l-2 0l-2-1l-2 0l-2 0l-2 1l-2-1l-2 0l-2 0l-2 1l-2 0l-2 1l-2-1l-2 0l-2 0l-2 0l-2 0l-2 1l-2-1l-2 0l-2 0l-2 0l-2 0l-2 0l-2 0l-2 0l-2 0l-2 0l-2 0l-2 0l-2-1l-2 1l-2-1l-2 1l-2 0l-2 0l-2-1l-2 1l-2 0l-2-1l-2 1l-2-1l-2 0l-2 0l-2 1l-2-1l-2 1l-2 1l-2-1l-2 1l-2 0l-2 0l-2 0l-2-1l-2 0l-2-1l-2 0l-2 0l-2 0l-2 0l-2 0l-2 1l-2-1l-2 0l-2 1l-2 0l-2 1l-2 1l-2-1l-2 0l-2 0l-2 1l-2-1l-2-1l-2 0l-2-1l-2 0l-2 0l-2 0l-2 0l-2 0l-2 1l-2 0l-2 0l-2 2l-2-1l-2 1l-2-1l-2 1l-2-1l-2-1l-2 0l-2 1l-2-1l-2-1l-2 0l-2 0l-2 0l-2 1l-2-1l-2 1l-2 0l-2 0l-2 1l-2 0l-2-1l-2 0l-2 0l-2 0l-2 0l-2 0l-2 0l-2-1l-2 0l-2 0l-2 0l-2 0l-2 0l-2 0l-2 0l-2 0l-2 0l-2 1l-2 1l-2 0l-2 0l-2 0l-2 1l-2-1l-2-1l-2 0z"/>
<path fill="#ff0000" fill-opacity="0.8" stroke="#ff0000" d="M223 767l2 1l2-1l2 1l2-1l2 1l2-1l2 0l2 1l2 0l2 0l2 0l2 0l2-1l2 0l2-1l2 1l2-1l2-1l2 1l2 0l2-1l2 0l2 1l2 0l2 1l2 0l2 0l2 1l2-1l2 0l2 1l2 0l2-1l2 0l2 0l2 0l2 0l2 0l2-1l2 1l2-1l2 0l2 1l2-1l2 1l2 0l2 0l2 0l2 1l2 0l2 0l2 0l2-1l2-1l2 0l2 0l2 0l2-1l2 0l2 1l2 0l2 0l2 0l2 0l2 1l2 0l2 0l2 1l2 0l2-1l2 0l2 0l2 0l2 1l2-1l2 1l2-1l2 0l2-1l2 0l2 1l2-1l2-1l2 1l2 0l2 1l2 0l2 1l2 0l2-1l2 0l2 1l2-1l2 1l2 0l2 0l2 0l2-1l2 0l2 0l2 0l2-2l2 1l2-1l2 1l2-1l2 1l2 0l2 0l2 2l2-1l2 1l2 0l2-1l2 1l2 0l2-1l2 0l2 1l2-1l2 0l2 0l2-1l2 0l2 0l2 0l2 1l2 0l2-1l2 1l2 0l2 0l2 0l2 0l2 0l2 1l2 0l2-1l2 0l2 1l2 0l2 0l2-1l2 0l2-1l2 1l2-1l2 0l2 0l2 0l2 0l2 0l2 1l2 0l2 0l2 0l2 0l2 1l2 0l2 0l2 0l2 0l2 0l2-1l2 1l2 0l2-1l2-1l2 0l2 0l2 1l2-1l2 0l2 0l2-1l2 0l2 0l2 1l2 1l2 0l2 1l2-1l2 1l2-1l2 0l2 0l2 0l2 0l2 0l2 0l2 0l2-1l2 1l2-1l2 0l2 1l2 0l2-1l2 0l2 1l2 1l2-1l2 1l2-1l2 0l2 0l2 1l2-1l2 0l2 1l2-1l2 0l2 0l2 0l2 0l2-1l2 0l2 0l2 0l2 1l2-1l2 0l2 1l2 0l2-1l2 1l2 0l2 0l2 1l2 0l2-1l2 0l2 1l2 0l2-1l2 0l2 1l2-1l2 1l2-1l2 0l2 0l2 0l2 1l2 0l2 0l2 0l2-1l2 0l2 1l2 0l2-1l2 0l2 1l2 0l2-1l2 0l2 0l2 0l2-1l2 0l2 1l2-1l2 1l2-1l2 0l2 0l2 1l2-1l2 1l2-1l2 1l2 1l2-1l2 0l2 0l2 1l2 0l2 0l2-1l2 0l2 0l2 0l2-1l2 0l2 0l2-1l2 1l2-1l2 2l2 0l2-1l2 1l2 0l2 0l2 0l2 1l2-1l2 0l2 0l2 1l2-1l2 0l2 0l2-1l2 1l2 0l2-1l2 0l2 1l2 0l2 0l2 0l2-1l2 1l2 0l2-1l2 0l2 1l2-1l2 1l2 1l2-1l2 0l2 0l2 1l2-1l2-1l2 1l2-1l2-1l2 1l2 0l2-1l2 1l2 0l2 0l2 0l2 1l2 0l2 0l2 1l2-1l2 0l2 0l2 0l2-1l2 1l2 0l2 0l2 0l2 0l2 1l2-1l2 0l2 1l2-1l2 0l2 0l2 1l2-1l2 0l2 0l2 0l2-1l2 0l2 0l2 0l2 0l2 0l2 0l2 1l2-1l2 1l2 0l2 0l2-1l2 1l2 0l2 0l2 0l2 0l2 0l2 0l2 0l2 0l2 0l2 1l2 0l2-1l2 1l2 0l2-1l2-1l2 0l2 0l2-1l2 0l2 1l2 1l2 0l2 0l2 0l2 0l2 0l2 0l2 0l2 0l2 0l2 0l2-1l2 0l2-1l2 0l2 0l2 1l2 0l2-1l2 0l2 0l2 1l2 1l2 0l2 0l2 0l2 1l2 0l2-1l2 1l2-1l2 0l2 0l2 0l2 0l2 0l2-1l2 0l2 0l2 0l2 0l2 0l2 0l2-1l2 2l2 0l2 1l2 0l2-1l2 0l2 1l2-1l2 1l2 0l2 0l2-1l2 0l2 0l2 0l2 0l2-1l2 0l2 1l2-1l2 1l2 0l2-1l2 1l2 0l2 0l2 0l2 1l2-1l2 0l2 1l2-1l2 0l2 0l2-1l2 0l2 0l2 0l2 0l2 0l2 0l2 1l2 0l2 0l2 0l2 0l2 0l2 0l2 0l2 0l2 0l2 0l2 0l2 0l2-1l2 1l2 0l2-1l2 1l2 0l2 0l2 0l2 0l2 0l2 0l2-1l2 1l2 0l2 0l2 0l2 0l2 0l2 0l2 0l2 0l2 0l2 0l2-1l2 1l2 0l2 0l2 0l2-3l2 2l2 1l2 0l2 1l2 0l2 0l2-1l2 1l2 0l2 0l2-1l2 0l2 0l2 0l2-1l2 1l2-1l2 1l2 0l2 0l2 1l2-1l2 0l2-1l2 1l2 0l2 0l2 0l2 1l2 0l2-1l2 1l2 0l2-1l2 0l2 0l2 0l2 0l2-1l2 1l2 0l2 0l2-1l2 0l2 1l2-1l2 1l2 0l2-1l2 0l2 1l2 0l2 0l2 0l2-1l2 1l2-1l2 0l2 1l2-1l2 1l2-1l2 0l2 1l2-1l2 1l2 0l2-1l2 0l2 1l2 0l2 0l2 0l2 0l2 1l2-1l2 0l2 0l2-1l2 1l2-1l2 0l2 1l2-1l2 1l2 0l2 0l2 1l2-1l2 0l2 0l2 0l2 0l2 0l2 0l2 0l2 0l2 1l2-1l2 0l2 0l2 0l2 0l2 0l2 0l2-1l2 0l2 1l2 0l2 0l2 0l2 0l2 0l2 0l2 0l2-1l2 1l2-1l2 1l2-1l2 0l2 0l2 0l2 0l2 0l2 1l2 0l2-1l2 1l2-1l2 0l2 1l2-1l2 2l2 0l2-1l2 0l2 0l2 1l2 0l2-1l2 0l2 0l2 0l2-1l2 0l2-1l2 1l2-1l2 0l2 1l2 0l2 0l2 1l2 0l2 1l2 0l2 0l2-1l2 0l2 1l2-1l2 1l2-1l2-1l2 0l2 0l2 0l2-1l2 0l2 0l2 0l2 0l2 0l2 1l2 1l2-1l2 1l2 1l2-1l0 7l-2-1l-2 1l-2 0l-2 1l-2-1l-2 1l-2 0l-2-1l-2 1l-2 0l-2 0l-2 0l-2-1l-2 0l-2 0l-2-1l-2 0l-2 0l-2 0l-2-1l-2 1l-2 0l-2 0l-2 0l-2 1l-2 0l-2 1l-2 0l-2 0l-2-1l-2 1l-2 0l-2-1l-2 0l-2-1l-2 1l-2 0l-2 0l-2-1l-2 0l-2-1l-2 1l-2 0l-2 0l-2 0l-2 1l-2 0l-2-1l-2 0l-2 0l-2 1l-2-1l-2 1l-2 0l-2 0l-2 0l-2 0l-2 0l-2 0l-2-1l-2 1l-2 0l-2 0l-2 0l-2-1l-2 0l-2 1l-2-1l-2 0l-2 0l-2 0l-2 0l-2 0l-2 0l-2 0l-2 1l-2-1l-2 0l-2 0l-2 0l-2 0l-2 0l-2 0l-2 0l-2 0l-2 0l-2 0l-2 0l-2 0l-2 0l-2 0l-2 0l-2 0l-2 1l-2 0l-2-1l-2 0l-2 1l-2-1l-2 1l-2-1l-2 1l-2-1l-2 0l-2-1l-2 1l-2 0l-2-1l-2 1l-2 0l-2 1l-2-1l-2 0l-2 1l-2-1l-2 0l-2 0l-2 1l-2 0l-2 0l-2 0l-2-1l-2 1l-2 0l-2 0l-2 0l-2 0l-2 0l-2-1l-2 1l-2 0l-2 0l-2 0l-2 0l-2 0l-2-1l-2 1l-2 0l-2 0l-2 0l-2 0l-2 0l-2 0l-2-1l-2 0l-2 0l-2 0l-2 1l-2-2l-2 1l-2 0l-2 0l-2 1l-2 0l-2 0l-2-1l-2 1l-2 0l-2 0l-2-1l-2 0l-2 0l-2 1l-2-1l-2 0l-2 0l-2 1l-2 0l-2-1l-2 0l-2 0l-2 0l-2 0l-2 0l-2-1l-2 1l-2 0l-2 0l-2 2l-2 1l-2-3l-2 0l-2 0l-2 0l-2 1l-2-1l-2 1l-2-1l-2 0l-2 0l-2 0l-2 1l-2-1l-2 1l-2-1l-2 0l-2 0l-2 1l-2-1l-2 0l-2 1l-2-1l-2 0l-2 0l-2 0l-2 0l-2 1l-2 0l-2-1l-2 0l-2 0l-2 0l-2 0l-2 1l-2-1l-2 0l-2 1l-2 0l-2-1l-2 1l-2 0l-2-1l-2 0l-2 2l-2-1l-2-1l-2 1l-2 0l-2-1l-2 0l-2 0l-2 0l-2 0l-2 0l-2 0l-2 0l-2 0l-2 1l-2-1l-2 0l-2 0l-2 1l-2-1l-2 0l-2 1l-2-1l-2 0l-2 0l-2 0l-2 0l-2 0l-2 0l-2 0l-2 0l-2 0l-2 0l-2-1l-2 1l-2-1l-2 1l-2 0l-2 1l-2 0l-2 1l-2 0l-2 0l-2 0l-2 0l-2-1l-2-1l-2 0l-2 0l-2-1l-2 1l-2-1l-2 1l-2 0l-2 0l-2 0l-2 0l-2 0l-2 0l-2 0l-2 1l-2 0l-2 0l-2 1l-2 0l-2 0l-2-1l-2 1l-2 0l-2-1l-2-1l-2 0l-2 1l-2-1l-2 0l-2-1l-2 0l-2 0l-2 1l-2 0l-2 0l-2 0l-2 1l-2 0l-2 0l-2 0l-2 0l-2 0l-2 0l-2-1l-2 1l-2-1l-2 0l-2 0l-2 0l-2 0l-2 0l-2 0l-2 0l-2 1l-2 0l-2-1l-2 1l-2 0l-2 0l-2-1l-2 0l-2 0l-2 1l-2-1l-2 1l-2 1l-2-1l-2 0l-2 0l-2 0l-2 0l-2-1l-2 0l-2 1l-2-1l-2 0l-2 0l-2 0l-2 0l-2 0l-2 0l-2 0l-2 0l-2 0l-2 0l-2 0l-2 0l-2 0l-2 1l-2-1l-2 0l-2 0l-2 0l-2 0l-2 0l-2-1l-2 1l-2 0l-2 1l-2 0l-2 0l-2 1l-2 0l-2-1l-2 0l-2 0l-2 0l-2 0l-2 0l-2-1l-2-1l-2 0l-2 1l-2 0l-2 0l-2 0l-2 1l-2 0l-2 1l-2-1l-2 0l-2-1l-2 1l-2-1l-2 0l-2 0l-2 0l-2 1l-2-1l-2 1l-2 0l-2 0l-2-1l-2 0l-2 0l-2 0l-2 0l-2 0l-2 0l-2 0l-2 0l-2 1l-2-1l-2 1l-2 0l-2 1l-2 0l-2 0l-2-1l-2 0l-2 1l-2 0l-2-2l-2 1l-2-1l-2 0l-2 0l-2-1l-2 1l-2 0l-2-1l-2 0l-2 0l-2 1l-2 1l-2 0l-2 0l-2 0l-2 1l-2-1l-2 0l-2 0l-2 1l-2-1l-2-1l-2 1l-2 0l-2 0l-2-1l-2 0l-2 0l-2 0l-2 0l-2 0l-2 0l-2 0l-2 0l-2 0l-2 0l-2 0l-2 0l-2 0l-2 0l-2 0l-2 0l-2 0l-2 1l-2-1l-2 1l-2-1l-2 0l-2 0l-2 0l-2 0l-2-1l-2 1l-2 0l-2 0l-2 0l-2 0l-2 1l-2 0l-2-1l-2 0l-2 1l-2-1l-2 0l-2 1l-2 0l-2 1l-2-1l-2 0l-2 0l-2-1l-2 0l-2 0l-2 0l-2 0l-2-1l-2 1l-2 0l-2 0l-2-1l-2 1l-2-1l-2 1l-2 0l-2 0l-2 1l-2 1l-2 0l-2 0l-2-1l-2 0l-2-1l-2 0l-2 0l-2-1l-2 1l-2 0l-2 0l-2 0l-2 0l-2 0l-2 0l-2 0l-2 0l-2 0l-2 1l-2 0l-2 1l-2-1l-2 0l-2 0l-2 1l-2 0l-2-1l-2-1l-2 0l-2 0l-2 0l-2 0l-2 0l-2 0l-2-1l-2 0l-2 1l-2 0l-2-1l-2 0l-2 1l-2 0l-2 0l-2 0l-2 0l-2 1l-2 1l-2-1l-2 0l-2 0l-2-1l-2 0l-2 0l-2 0l-2-1l-2 1l-2 0l-2 0l-2-1l-2 1l-2 0l-2 0l-2 1l-2-1l-2 1l-2 0l-2 0l-2 0l-2-1l-2 1l-2-1l-2 0l-2 0l-2 0l-2 0l-2-1l-2 0l-2 0l-2 1l-2-1l-2 1l-2 0l-2 0l-2 0l-2 0l-2 0l-2 0l-2 1l-2 0l-2 0l-2 1l-2-1l-2 1l-2-1l-2 0l-2 0l-2 0l-2-1l-2 0l-2 0l-2 0l-2 0l-2 0l-2 0l-2 0l-2 0l-2 0l-2 0l-2 0l-2 0l-2 0l-2 1l-2 0l-2 1l-2 0l-2 0l-2-1l-2 0l-2 0l-2-1l-2 0l-2 0l-2 0l-2 0l-2-1l-2 1l-2 0l-2-1l-2 1l-2 0l-2 0l-2 0l-2 1l-2 0l-2 0l-2 0l-2 0l-2 1l-2-1l-2 0l-2 1l-2-2l-2 1l-2-1l-2 0l-2-1l-2 1l-2-1l-2 1l-2 0l-2 0l-2 0l-2 0l-2 1l-2 0l-2-1l-2 0l-2 0l-2 0l-2 0l-2 0l-2 0l-2 0l-2-1l-2 1l-2 0l-2 0l-2 0l-2-1l-2 1l-2 0l-2 0l-2 1l-2 0l-2 1l-2 0l-2 0l-2 0l-2 0l-2-1l-2 0l-2 0l-2-1l-2 0l-2 0l-2 0l-2 0l-2 0l-2 0l-2 0l-2 1l-2-1l-2 1l-2 0l-2-1l-2-1l-2 1z"/>
<path fill="#0000ff" fill-opacity="0.8" stroke="#0000ff" d="M223 792l2-1l2 0l2 1l2 0l2-1l2 0l2 0l2 0l2 0l2 0l2 0l2 0l2 1l2 0l2-1l2 1l2-1l2 1l2 0l2 0l2 0l2-1l2 1l2 0l2-1l2 1l2-1l2 0l2 0l2 0l2 0l2 1l2 0l2-1l2 0l2 0l2 1l2 0l2 0l2 0l2-1l2 0l2 0l2 0l2 0l2 0l2 0l2 0l2 1l2-1l2 1l2-1l2 1l2-1l2 1l2 0l2 0l2 0l2 0l2 0l2-1l2 0l2 0l2 0l2-1l2 0l2 0l2 0l2 0l2 1l2-1l2 0l2 1l2 1l2 0l2 0l2 0l2 0l2 0l2 0l2 0l2 0l2 0l2-1l2 0l2 1l2 0l2-1l2 0l2 1l2-1l2 0l2 1l2-1l2 1l2-1l2 1l2-1l2 0l2 0l2 0l2 0l2 0l2 0l2 1l2 0l2 0l2 0l2 0l2-1l2 0l2 0l2 1l2 0l2-1l2 0l2 1l2-1l2 1l2 0l2-4l2 0l2 3l2 1l2-1l2 0l2 0l2-1l2 1l2-1l2 1l2 0l2 0l2 0l2 0l2 1l2 0l2 1l2-1l2 0l2 0l2 0l2 0l2 0l2 0l2 0l2 0l2 0l2-1l2 0l2-1l2 0l2 1l2-1l2 2l2-1l2 1l2 0l2 0l2 0l2 1l2-1l2 0l2 0l2 1l2-1l2-1l2 0l2-1l2 0l2 0l2 1l2 0l2 0l2 0l2 0l2 1l2 0l2-1l2 1l2 0l2 0l2-1l2 0l2 0l2 1l2-1l2 1l2 0l2 0l2 0l2 0l2 0l2 0l2 0l2 0l2-3l2 1l2 1l2 0l2 0l2 1l2 0l2 0l2 0l2 0l2 0l2-1l2 0l2 0l2 0l2 1l2-2l2 1l2 0l2-1l2 0l2 0l2 1l2 0l2 1l2 1l2-1l2 0l2 0l2 0l2 1l2-1l2 0l2 0l2 0l2-1l2 0l2-1l2 0l2 0l2 0l2 1l2 0l2 0l2 1l2 0l2 0l2 0l2 0l2 0l2 0l2-1l2 0l2 0l2-1l2 0l2 0l2 0l2 1l2-1l2 1l2 0l2 1l2-1l2 0l2 1l2 0l2-1l2 0l2 1l2 0l2 0l2 0l2 0l2 0l2 0l2 0l2-1l2 1l2 0l2 0l2 0l2 0l2 0l2 0l2 0l2 0l2 0l2 0l2 0l2 0l2 0l2 0l2 0l2 0l2-1l2-1l2 0l2 0l2 0l2 1l2-1l2 1l2-1l2 2l2 0l2-1l2 1l2 1l2-1l2 0l2 0l2-1l2 1l2 0l2-1l2 0l2 1l2 0l2 0l2-1l2 0l2 1l2 0l2-1l2 1l2 0l2 0l2 1l2-1l2 0l2 0l2 0l2 0l2 0l2 0l2-1l2 0l2-1l2 1l2-1l2 1l2 0l2 0l2 1l2 0l2 0l2-1l2 1l2 0l2 0l2 0l2 0l2-1l2 0l2 1l2 0l2-1l2 0l2 0l2 0l2 0l2-1l2 1l2 0l2 0l2 0l2 0l2 0l2 0l2 0l2 1l2 0l2 0l2 0l2 0l2 0l2 1l2-1l2 0l2 0l2-1l2 0l2 0l2 0l2 0l2-1l2 1l2 0l2-1l2 2l2 0l2-1l2 1l2 0l2-1l2 1l2 0l2-1l2 0l2 1l2 0l2-1l2 1l2-1l2 1l2 0l2-1l2 0l2 0l2 1l2-1l2 1l2 0l2 0l2 0l2 0l2 0l2 0l2 0l2 0l2-1l2-1l2 1l2-1l2 0l2 1l2 0l2 0l2 0l2-1l2 1l2-1l2 1l2 0l2 0l2 0l2 1l2 0l2 0l2 0l2 0l2 0l2 0l2-1l2 1l2 0l2 0l2 0l2 0l2 0l2-1l2 1l2-1l2 1l2-1l2 1l2 0l2 0l2 0l2 0l2 0l2 0l2 0l2-1l2 0l2 0l2 0l2 0l2 0l2 0l2 0l2 1l2 0l2 0l2 0l2 0l2 0l2-1l2 0l2 0l2 0l2 1l2-1l2 0l2 0l2 0l2 0l2 1l2 0l2 0l2 0l2-1l2 1l2 0l2 0l2-1l2 1l2-1l2 1l2-1l2 0l2 0l2 0l2 0l2 0l2 1l2-1l2 0l2 0l2 0l2-1l2 1l2 0l2 1l2 0l2 0l2 1l2-1l2 0l2 0l2 0l2 0l2 0l2 0l2-1l2 0l2 0l2-1l2 0l2 0l2 1l2 0l2 0l2 0l2 0l2 0l2 1l2 0l2-3l2-6l2 0l2 2l2 7l2 0l2 0l2-1l2 0l2-1l2 1l2-1l2 1l2 0l2-1l2 1l2 0l2 1l2-1l2 1l2 0l2 0l2 0l2 0l2 0l2 0l2 0l2 0l2 0l2-1l2-1l2 1l2 0l2 0l2 0l2 0l2 0l2 0l2 0l2-1l2 1l2 0l2 1l2-1l2 0l2 0l2 0l2 0l2-2l2-6l2 8l2-2l2 2l2 0l2-3l2 2l2 1l2 1l2 0l2 0l2-1l2 0l2 0l2 0l2 1l2 0l2-1l2 0l2 0l2 0l2 0l2-1l2 0l2-1l2 1l2 0l2 1l2 1l2 0l2 0l2 0l2 0l2 0l2 0l2 0l2-1l2 0l2 1l2-1l2 1l2-1l2 0l2 0l2 0l2-1l2 0l2 1l2 0l2 0l2 0l2 1l2 0l2-1l2 1l2-1l2 0l2 0l2 0l2 0l2-1l2 1l2-1l2 0l2 0l2 1l2 0l2 1l2 0l2 0l2 0l2 0l2 0l2 0l2 0l2 0l2 0l2 0l2-1l2 1l2-1l2 0l2 0l2-2l2 0l2 2l2 0l2 0l2 0l2 0l2 0l2 1l2 0l2 0l2 0l2 0l2 0l2 0l2 0l2-1l2 0l2 0l2 0l2-1l2 0l2 0l2 0l2 1l2 0l2 1l2 0l2 0l2 0l2 0l2 0l2 0l2 0l2 0l2 0l2-1l2 0l2 0l0 7l-2 0l-2 0l-2 0l-2-1l-2 0l-2 0l-2 0l-2 0l-2 0l-2 0l-2 0l-2 0l-2 1l-2 1l-2 0l-2 1l-2-1l-2-1l-2 1l-2-1l-2-1l-2 0l-2 0l-2 0l-2 0l-2 0l-2 0l-2 0l-2 0l-2 0l-2 1l-2-1l-2 1l-2 0l-2 0l-2 1l-2 0l-2 0l-2-1l-2 1l-2-1l-2 0l-2 0l-2-1l-2 0l-2 0l-2-1l-2 1l-2-1l-2 1l-2 0l-2 0l-2 1l-2 1l-2 0l-2-1l-2 1l-2 0l-2 0l-2 0l-2-1l-2 0l-2 0l-2-1l-2 1l-2-1l-2 0l-2 0l-2 0l-2 0l-2 0l-2 1l-2 1l-2-1l-2 0l-2 0l-2 1l-2-1l-2-1l-2 1l-2 0l-2 0l-2 0l-2-1l-2 1l-2-1l-2 0l-2 0l-2 0l-2 0l-2 0l-2 0l-2 1l-2 0l-2 0l-2 0l-2 1l-2 0l-2-1l-2 1l-2 0l-2-1l-2-1l-2 0l-2 0l-2 0l-2 0l-2 1l-2-1l-2 1l-2 0l-2 0l-2 0l-2 0l-2 0l-2 3l-2-3l-2 0l-2 2l-2 5l-2 1l-2-6l-2-2l-2 0l-2-1l-2 1l-2-1l-2 0l-2 1l-2 0l-2 0l-2 0l-2 0l-2 0l-2-1l-2 1l-2 0l-2 0l-2 0l-2 0l-2 0l-2 0l-2 0l-2-1l-2 0l-2 0l-2-1l-2 1l-2 0l-2 0l-2 0l-2 1l-2 0l-2 0l-2 0l-2 1l-2 0l-2 0l-2 0l-2 0l-2-1l-2-1l-2 0l-2 1l-2-1l-2 5l-2 3l-2-5l-2 6l-2-2l-2-7l-2 0l-2 1l-2 0l-2 0l-2 1l-2 0l-2-1l-2 0l-2 1l-2 0l-2 0l-2-2l-2 1l-2-1l-2 0l-2 0l-2 0l-2 0l-2 0l-2 0l-2-1l-2 1l-2 0l-2 1l-2-1l-2 1l-2 1l-2-1l-2 0l-2 0l-2-1l-2 1l-2 0l-2 0l-2 0l-2-1l-2 1l-2 0l-2-1l-2 0l-2 0l-2 1l-2 0l-2-1l-2 0l-2 1l-2-1l-2 0l-2 1l-2 0l-2 0l-2 0l-2 0l-2 0l-2 0l-2 0l-2 0l-2-1l-2 0l-2 0l-2 0l-2-1l-2 1l-2 0l-2 0l-2 0l-2 0l-2 1l-2 0l-2-1l-2 0l-2 0l-2 1l-2 0l-2 0l-2-1l-2 1l-2-1l-2 0l-2 0l-2 0l-2 0l-2 0l-2 0l-2 0l-2 0l-2 0l-2 0l-2 0l-2 1l-2-1l-2 0l-2 0l-2 0l-2 0l-2 0l-2 0l-2 0l-2 0l-2 0l-2 0l-2 0l-2 0l-2 0l-2 1l-2 0l-2 0l-2 0l-2 1l-2-1l-2 0l-2 0l-2 1l-2 0l-2-1l-2 0l-2-1l-2 1l-2-1l-2-1l-2 1l-2 0l-2 0l-2 0l-2 0l-2 0l-2 0l-2 1l-2 0l-2 0l-2 0l-2 0l-2-1l-2 0l-2 1l-2 0l-2 0l-2 0l-2-1l-2 0l-2 1l-2 0l-2-1l-2 0l-2 0l-2 1l-2 0l-2 0l-2 0l-2 0l-2 0l-2 0l-2 0l-2 1l-2-1l-2 0l-2 0l-2 0l-2-1l-2 0l-2 0l-2 0l-2 0l-2 0l-2 0l-2 0l-2 0l-2 0l-2 1l-2 0l-2 0l-2 0l-2-1l-2 1l-2 0l-2 0l-2 0l-2-1l-2 1l-2 0l-2-1l-2 1l-2 0l-2-1l-2 1l-2-1l-2 0l-2 0l-2 0l-2 0l-2 1l-2 0l-2-1l-2 0l-2 1l-2-1l-2 1l-2 1l-2-1l-2 0l-2 0l-2-1l-2 0l-2 0l-2-1l-2 1l-2-1l-2 1l-2-1l-2 1l-2 0l-2 0l-2 0l-2 0l-2 1l-2-1l-2 1l-2-1l-2 0l-2 0l-2 0l-2 1l-2-1l-2 0l-2 0l-2 0l-2 1l-2 0l-2-1l-2 0l-2 0l-2 0l-2 0l-2 1l-2 0l-2 0l-2 1l-2-1l-2 1l-2 0l-2 0l-2-1l-2 0l-2-1l-2 0l-2 0l-2 0l-2 0l-2 0l-2 0l-2 0l-2 0l-2 0l-2 0l-2 0l-2 0l-2 0l-2 0l-2 0l-2 0l-2 0l-2 0l-2 0l-2 0l-2 0l-2 0l-2 0l-2 1l-2-1l-2 0l-2 0l-2 0l-2 0l-2 1l-2 0l-2 0l-2 1l-2-1l-2 0l-2 0l-2 1l-2 0l-2 0l-2 0l-2-1l-2 0l-2-1l-2 0l-2 0l-2 0l-2 0l-2 0l-2 0l-2 1l-2 0l-2 0l-2 1l-2-1l-2 1l-2 0l-2 0l-2-1l-2 0l-2 0l-2-1l-2 0l-2 0l-2 0l-2 0l-2 0l-2 0l-2 0l-2-1l-2 1l-2 1l-2 0l-2 1l-2 0l-2 0l-2-1l-2 1l-2 0l-2-1l-2 0l-2 0l-2 0l-2 0l-2-1l-2 0l-2 0l-2 0l-2 0l-2 0l-2 0l-2 1l-2-1l-2 1l-2 2l-2-2l-2-1l-2 1l-2-1l-2 0l-2 0l-2 0l-2 0l-2 0l-2 0l-2 0l-2 1l-2 0l-2 0l-2 0l-2-1l-2 0l-2 1l-2 0l-2 0l-2 0l-2 0l-2 0l-2 0l-2 0l-2 1l-2-1l-2 1l-2-1l-2 0l-2-1l-2 0l-2 0l-2 0l-2 0l-2 0l-2-1l-2 1l-2 0l-2 0l-2 0l-2 0l-2 1l-2 1l-2-1l-2 0l-2 0l-2 1l-2-2l-2 0l-2 0l-2 0l-2-1l-2 0l-2 0l-2 1l-2 0l-2-1l-2 1l-2-1l-2 1l-2 0l-2 1l-2 1l-2-1l-2 0l-2 0l-2 0l-2 0l-2-1l-2 0l-2 0l-2 0l-2 0l-2 4l-2-2l-2-2l-2 0l-2 1l-2-1l-2 0l-2 1l-2-1l-2 1l-2 0l-2 0l-2 0l-2 0l-2 0l-2 0l-2 0l-2-1l-2 1l-2-1l-2 0l-2 1l-2 0l-2-1l-2 1l-2-1l-2 0l-2 0l-2 0l-2 0l-2 0l-2 0l-2 1l-2-1l-2 0l-2 1l-2-1l-2 1l-2-1l-2 0l-2 0l-2 0l-2 0l-2-1l-2 0l-2 1l-2 0l-2 0l-2 0l-2 1l-2 0l-2 1l-2-1l-2 1l-2 0l-2 0l-2 0l-2 0l-2 0l-2-1l-2 0l-2-1l-2 0l-2 0l-2 0l-2 0l-2 0l-2 0l-2 0l-2 0l-2 0l-2 0l-2 1l-2 0l-2 0l-2 0l-2 0l-2-1l-2 0l-2 1l-2-1l-2 1l-2 0l-2-1l-2 0l-2 0l-2 0l-2 1l-2 0l-2 0l-2-1l-2 1l-2-1l-2 1l-2 0l-2-1l-2 1l-2 0l-2-1l-2 0l-2 0l-2 0l-2 0l-2 0l-2 0l-2 0l-2 0l-2 0l-2 0l-2 0l-2 1l-2 0l-2-1l-2 0l-2 0l-2 1l-2 0l-2 0l-2 0l-2-1l-2 0l-2 1l-2-1z"/>
<path fill="#ff0000" fill-opacity="0.8" stroke="#ff0000" d="M223 815l2 1l2-1l2 0l2 0l2 0l2-1l2 1l2 1l2 0l2 0l2 0l2 0l2 0l2 0l2 0l2 0l2 0l2-1l2 0l2-3l2 2l2-4l2 5l2-1l2 1l2 0l2 1l2 0l2 1l2-4l2 3l2 1l2-1l2 0l2 0l2-1l2 0l2-1l2 0l2 0l2 0l2 0l2 1l2 0l2 1l2 0l2 0l2 0l2 0l2 0l2 0l2 1l2-1l2 0l2 0l2-1l2 1l2-1l2 0l2 0l2 1l2-1l2 0l2 0l2 0l2 1l2 0l2-1l2 0l2 0l2 1l2-1l2 0l2 1l2 0l2 0l2 0l2 0l2 0l2-1l2 1l2-1l2 1l2-1l2 1l2-1l2 0l2 0l2 0l2-1l2 1l2 1l2-1l2 0l2 1l2-1l2 0l2 1l2 0l2 0l2 0l2 0l2 0l2 0l2 0l2 1l2-1l2 0l2-1l2 0l2-1l2-1l2 2l2-1l2 0l2 1l2 0l2 1l2 0l2 0l2 0l2 1l2 0l2-1l2 0l2-1l2 0l2-1l2 1l2-1l2 0l2 0l2 0l2 1l2 1l2 0l2 0l2 1l2-1l2 0l2 1l2 0l2-1l2-1l2 0l2 1l2-1l2 0l2-1l2 1l2 1l2 0l2 1l2-1l2 0l2 0l2 0l2 0l2 0l2-1l2 1l2-1l2-1l2 0l2 0l2 1l2-2l2 2l2 0l2 0l2 1l2 0l2 0l2 1l2-1l2 0l2-1l2 0l2 0l2-1l2 1l2-1l2 0l2 0l2 0l2 1l2 1l2 0l2 0l2 0l2 0l2 0l2-1l2 0l2 0l2-1l2 0l2 0l2 0l2 1l2-1l2 1l2 0l2 0l2 1l2 0l2 0l2 0l2-1l2 1l2 0l2 0l2 0l2 0l2 0l2 0l2 0l2 0l2 0l2 0l2 0l2 0l2 0l2 0l2 0l2 0l2 0l2-1l2 0l2 0l2 0l2 0l2 0l2 0l2 0l2 1l2-1l2 1l2 0l2 0l2 0l2 0l2 0l2 0l2-1l2 0l2 0l2 0l2-1l2 0l2 0l2 0l2 1l2-1l2 2l2 0l2 0l2-1l2 1l2-1l2 0l2 1l2 0l2-1l2 1l2 0l2-1l2 1l2 0l2 0l2 0l2 0l2 0l2-1l2 1l2-1l2 0l2 0l2 1l2 0l2-1l2 0l2 1l2-1l2 0l2 0l2 0l2 0l2 1l2 0l2 1l2-1l2 0l2 0l2 1l2-1l2-1l2 0l2 0l2-1l2 0l2 1l2 0l2-1l2 1l2 0l2 1l2 0l2 0l2 0l2 0l2 0l2 0l2 0l2 0l2-1l2-1l2 1l2-1l2 0l2 0l2 0l2 1l2 0l2 1l2 0l2 0l2 0l2 0l2 0l2 0l2 0l2 0l2-1l2-1l2 0l2 1l2-1l2 1l2 1l2-1l2 0l2 1l2 0l2 0l2 0l2 0l2 0l2 0l2 0l2-1l2-1l2 0l2 0l2 0l2 1l2-3l2 1l2 1l2 1l2 1l2 0l2 0l2 0l2-1l2 1l2-1l2 1l2 0l2 0l2-1l2 0l2-1l2 0l2 1l2 0l2 0l2 0l2 1l2 0l2 0l2 0l2 0l2 0l2 0l2 0l2-1l2 0l2-1l2 1l2-1l2 1l2-1l2 2l2 0l2 0l2 1l2-1l2 0l2 0l2 1l2-1l2 0l2-1l2 0l2-1l2 1l2-1l2 0l2 0l2 2l2 0l2 0l2 0l2 0l2 1l2-1l2 0l2-1l2 1l2-1l2 1l2-2l2 2l2-1l2 1l2 0l2-1l2 0l2 0l2 0l2 1l2 0l2 0l2 0l2 0l2 0l2 0l2-1l2 1l2 0l2-1l2 0l2 0l2-1l2 0l2 1l2 0l2 1l2 0l2 0l2 0l2 0l2 0l2 0l2-1l2 1l2-1l2 1l2-1l2 0l2-1l2 1l2-1l2 1l2 1l2 0l2-1l2 1l2 0l2 0l2 1l2-1l2 0l2 1l2-1l2 0l2-1l2 0l2 0l2 0l2-1l2 0l2 1l2 1l2 0l2 0l2 0l2 0l2 0l2 0l2 1l2-1l2-1l2-1l2 1l2 0l2-1l2 0l2 2l2 0l2-1l2 1l2-1l2 1l2-1l2 0l2 1l2 0l2-1l2 0l2 0l2-1l2 0l2 1l2 0l2 0l2 0l2 0l2 1l2 0l2 0l2 0l2 0l2 0l2-1l2 0l2 0l2 0l2 0l2-1l2 1l2-1l2 1l2 0l2 0l2 1l2-1l2 1l2 0l2 0l2 0l2 0l2 0l2 0l2 0l2 0l2 0l2-2l2 1l2 0l2-1l2 0l2 0l2 1l2 0l2 0l2 1l2 0l2 1l2-1l2 0l2-1l2 0l2-1l2 0l2 1l2-1l2 1l2 0l2 1l2-1l2 1l2 0l2 0l2 0l2 0l2 0l2 1l2-1l2 0l2-1l2 1l2-1l2 0l2-1l2 0l2 0l2 1l2 0l2 1l2 0l2 0l2 1l2-1l2 0l2 0l2 0l2 0l2 0l2 0l2-2l2 0l2 0l2 1l2 0l2 0l2 0l2 2l2-1l2 0l2 0l2 0l2 0l2 0l2 0l2 1l2-1l2-1l2 1l2-1l2 0l2 1l2 0l2 0l2-1l2 1l2 0l2 0l2-1l2 1l2 0l2-1l2 1l2-1l2 0l2 1l2 0l2-1l2 0l2 1l2-1l2 0l2 0l2 0l2 0l2 1l2-1l2 1l2-1l2 1l2 0l2-1l2 0l2 0l2 0l2-1l2 0l2 1l2-1l2 0l2 2l2 0l2-1l2 1l2 0l2 0l2 0l2 0l2 0l2-1l2 1l2-1l2 0l2-1l2-1l2 1l2 0l2 1l2 0l2 1l2 0l2 0l2 0l2 0l2 0l2 1l2 0l2-1l2-1l2 0l2-1l2-1l2 1l2 0l2 1l2 0l2 0l2 0l2 1l2 0l2 0l2 0l2 1l2-1l2 0l0 5l-2 1l-2-1l-2 1l-2-1l-2 1l-2 0l-2 1l-2 0l-2 0l-2 1l-2-1l-2 0l-2 1l-2-1l-2-1l-2-1l-2 0l-2 0l-2 1l-2-1l-2 1l-2-1l-2 0l-2 0l-2 1l-2 0l-2 1l-2 1l-2-1l-2 0l-2 1l-2-1l-2 0l-2 0l-2 0l-2 0l-2-2l-2 1l-2 0l-2 0l-2 0l-2 0l-2 0l-2 1l-2-1l-2 1l-2 1l-2-1l-2-1l-2 1l-2 0l-2-1l-2 0l-2 0l-2 0l-2-1l-2 1l-2 0l-2 0l-2 0l-2 1l-2-1l-2 0l-2 0l-2 1l-2-1l-2 0l-2 0l-2-1l-2 1l-2 0l-2 0l-2 0l-2 0l-2-1l-2 1l-2 0l-2 0l-2 0l-2 0l-2 0l-2 1l-2-1l-2 1l-2-1l-2 1l-2-1l-2 0l-2 0l-2 0l-2-1l-2 1l-2 0l-2 0l-2-1l-2 1l-2-1l-2 2l-2 0l-2 0l-2 0l-2 0l-2 0l-2-1l-2 1l-2-1l-2-1l-2 1l-2-1l-2 0l-2 0l-2 0l-2 0l-2 1l-2 0l-2 0l-2 1l-2 0l-2 0l-2 0l-2-1l-2 0l-2 0l-2 0l-2-1l-2 1l-2 0l-2 0l-2 0l-2 0l-2 0l-2-1l-2 1l-2 0l-2 0l-2 0l-2 0l-2 2l-2-1l-2 0l-2 0l-2-1l-2 0l-2-1l-2 0l-2 1l-2-1l-2 0l-2 1l-2 0l-2 0l-2 1l-2 1l-2 0l-2 0l-2-1l-2 0l-2 0l-2-1l-2 0l-2-1l-2 0l-2 1l-2-1l-2 0l-2 0l-2 1l-2 0l-2 0l-2 0l-2 0l-2 1l-2 0l-2 0l-2 1l-2-1l-2-1l-2 0l-2 1l-2-2l-2 1l-2 0l-2 0l-2 0l-2 0l-2 0l-2 1l-2 0l-2 0l-2-1l-2 2l-2-2l-2 0l-2 0l-2 1l-2-1l-2 0l-2 0l-2 0l-2 0l-2 0l-2 0l-2 1l-2-1l-2 1l-2 0l-2 0l-2-1l-2 0l-2 1l-2 0l-2-1l-2-1l-2 1l-2 0l-2-1l-2 0l-2 0l-2 0l-2 0l-2 1l-2 0l-2 0l-2 1l-2-1l-2 1l-2 0l-2 0l-2 0l-2-2l-2 1l-2 0l-2 0l-2 0l-2-1l-2 0l-2 1l-2-1l-2 2l-2-1l-2 0l-2 1l-2 0l-2 0l-2 0l-2 0l-2 0l-2-1l-2 0l-2 0l-2 0l-2-1l-2 1l-2 0l-2 0l-2 0l-2 0l-2 0l-2 0l-2 0l-2 1l-2 0l-2-1l-2 1l-2-1l-2 0l-2 0l-2-1l-2 0l-2 1l-2-1l-2 0l-2 0l-2 0l-2 1l-2 0l-2 1l-2-1l-2 1l-2-1l-2 1l-2-1l-2 0l-2 0l-2 0l-2-1l-2 1l-2-1l-2 0l-2 1l-2 0l-2 0l-2 0l-2 0l-2 1l-2 0l-2 0l-2 0l-2 1l-2-2l-2 0l-2 0l-2 1l-2-2l-2 0l-2 1l-2-1l-2 0l-2 0l-2 1l-2-1l-2 1l-2 1l-2 0l-2 0l-2 0l-2 0l-2 0l-2-1l-2 0l-2-1l-2 1l-2-1l-2 1l-2 0l-2-1l-2 0l-2 1l-2 1l-2 0l-2 0l-2-1l-2 1l-2 0l-2 0l-2-1l-2 0l-2 1l-2-1l-2 0l-2 0l-2 0l-2 0l-2 0l-2-1l-2 2l-2 0l-2 2l-2 1l-2-3l-2 0l-2 1l-2-1l-2 1l-2-2l-2 1l-2 0l-2-1l-2 0l-2-1l-2 0l-2 1l-2 0l-2 1l-2-1l-2 1l-2 0l-2 0l-2 0l-2-1l-2 1l-2 0l-2-1l-2 0l-2 0l-2-1l-2 0l-2 0l-2 1l-2 0l-2 0l-2 0l-2 1l-2 1l-2-1l-2 1l-2 0l-2-1l-2 0l-2-1l-2 0l-2-1l-2 1l-2 0l-2 0l-2-1l-2 1l-2-1l-2 1l-2 0l-2 1l-2 0l-2 0l-2 0l-2 1l-2-1l-2 0l-2 0l-2-1l-2 0l-2 0l-2-1l-2 0l-2 0l-2 0l-2 1l-2 0l-2 0l-2 1l-2-1l-2 1l-2 0l-2-1l-2 0l-2-1l-2 1l-2 0l-2 0l-2 1l-2 0l-2-1l-2 0l-2 1l-2-1l-2 1l-2-1l-2 0l-2-1l-2 0l-2 1l-2 0l-2 0l-2 0l-2 0l-2 0l-2 0l-2 0l-2 0l-2 0l-2 0l-2 1l-2 0l-2 0l-2 0l-2 1l-2-1l-2 1l-2-2l-2 1l-2 0l-2-1l-2-1l-2 0l-2 0l-2 1l-2 0l-2-1l-2 1l-2 0l-2 0l-2 0l-2 1l-2-1l-2 0l-2 0l-2 1l-2-1l-2 0l-2 0l-2 0l-2 0l-2-1l-2 0l-2 0l-2 1l-2-1l-2 1l-2 0l-2 0l-2 0l-2 0l-2 0l-2 0l-2 0l-2 0l-2 0l-2 0l-2 0l-2-1l-2 1l-2 0l-2 0l-2 1l-2 0l-2 1l-2-1l-2 0l-2 0l-2 0l-2 1l-2-1l-2 0l-2-1l-2 0l-2 0l-2-1l-2 0l-2 1l-2 0l-2 1l-2 0l-2 0l-2 0l-2 0l-2 0l-2 0l-2 0l-2-1l-2-1l-2 0l-2 1l-2-1l-2 0l-2 0l-2 0l-2 1l-2 0l-2 1l-2 0l-2 0l-2 1l-2-1l-2 0l-2 0l-2 0l-2-2l-2 0l-2 0l-2 0l-2 0l-2 0l-2 0l-2 1l-2-1l-2 1l-2 1l-2 0l-2 0l-2 0l-2-1l-2 0l-2 0l-2 0l-2 0l-2-1l-2 0l-2 1l-2 0l-2-1l-2 0l-2 1l-2 0l-2 1l-2 1l-2-1l-2 1l-2 0l-2-1l-2 1l-2-2l-2 0l-2-1l-2 0l-2 1l-2-1l-2 0l-2 0l-2 0l-2 1l-2 0l-2 1l-2 0l-2 1l-2 0l-2-2l-2 1l-2-1l-2 0l-2 0l-2-1l-2 1l-2-1l-2 1l-2-1l-2 1l-2-1l-2 1l-2 0l-2 1l-2-1l-2 0l-2 1l-2 0l-2-1l-2 0l-2 1l-2 0l-2-1l-2 1l-2 0l-2-1l-2 0l-2 0l-2 0l-2 0l-2 0l-2 0l-2 0l-2 0l-2 0l-2-1l-2 1l-2 0l-2 0l-2 0l-2 1l-2 0l-2-1l-2 0l-2 0l-2 0l-2 0l-2 0l-2 0l-2 0l-2 0l-2 0l-2 0l-2 0l-2 0l-2-1l-2 0l-2 1l-2 0l-2 0l-2-1l-2 0l-2 0l-2 1l-2 0l-2 0l-2 0l-2 1l-2 1l-2-1l-2 1l-2 0l-2-1l-2 0l-2 0l-2-1l-2-1l-2 1l-2 0l-2 1l-2 2l-2-3l-2-1l-2 1l-2 0l-2 1l-2 3l-2 1l-2 1l-2-2l-2-2l-2-1l-2-1l-2-1l-2 1l-2 0l-2-1l-2 0l-2 0l-2 0l-2 1l-2-1l-2 1l-2 0l-2 0l-2 0l-2 0l-2 1l-2-1l-2 0l-2 0z"/>
<path fill="#0000ff" fill-opacity="0.8" stroke="#0000ff" d="M223 841l2-1l2 1l2 0l2 0l2-1l2 1l2-1l2 0l2-1l2 1l2-1l2 0l2 0l2 0l2 1l2-1l2-1l2 1l2 1l2 0l2-1l2 1l2 0l2 0l2 1l2 0l2 0l2 0l2 0l2-1l2 0l2 0l2-1l2 0l2 0l2 0l2 0l2 1l2 0l2 0l2 0l2 1l2 0l2 0l2 0l2-1l2 1l2 0l2-1l2 0l2-1l2 0l2 0l2-1l2 0l2 1l2 0l2 0l2-1l2 2l2-1l2 1l2 0l2 1l2 0l2-1l2 1l2 0l2-1l2 0l2 0l2 1l2-1l2 0l2-2l2 1l2 0l2 0l2 0l2 1l2 0l2 0l2 0l2 0l2 0l2 1l2-1l2 1l2 0l2-1l2 1l2 0l2-1l2 0l2-1l2 0l2 0l2 0l2-1l2 1l2 0l2 1l2 0l2 1l2 0l2-1l2 0l2 1l2-1l2 0l2 0l2-1l2 1l2 0l2-1l2 1l2 0l2 0l2 0l2 0l2 0l2 0l2 0l2 0l2 0l2 0l2 0l2 1l2-1l2 0l2 0l2 0l2 1l2 0l2 0l2-1l2 0l2 0l2-1l2 1l2-1l2 1l2 0l2-1l2 0l2 0l2 1l2 0l2 0l2 0l2 0l2 1l2-1l2 0l2-1l2 1l2-1l2 0l2 0l2 1l2-1l2 0l2 0l2-1l2 0l2 1l2 0l2-1l2 1l2 1l2 0l2 0l2 0l2 0l2 0l2 0l2 1l2-1l2 0l2 0l2 0l2 0l2 0l2-1l2 0l2 0l2 0l2 0l2 0l2 0l2 0l2 1l2-1l2 1l2 0l2 1l2-1l2 1l2-1l2 0l2 1l2-1l2 0l2 0l2 0l2 0l2-1l2 0l2 0l2 0l2 0l2 0l2 0l2 0l2 1l2 0l2-1l2 1l2 0l2 0l2 0l2 0l2 0l2 0l2 0l2-1l2 1l2 0l2 0l2 0l2 1l2 0l2-1l2 0l2 0l2 0l2 0l2 0l2-1l2 0l2 1l2 0l2 0l2 0l2 0l2 0l2 0l2 0l2-1l2 0l2 0l2 0l2 0l2 0l2 1l2 0l2 0l2 1l2-1l2 0l2 1l2-1l2 0l2 1l2 0l2-1l2 0l2 0l2 0l2 0l2-1l2 0l2-1l2 1l2-1l2 0l2 1l2 1l2 0l2 0l2 0l2 1l2 0l2 0l2 0l2 0l2-1l2 0l2-1l2 1l2-1l2 0l2 0l2-1l2 1l2 1l2-1l2 0l2 1l2 0l2 1l2-1l2 0l2 0l2 0l2 0l2 0l2 1l2-1l2 1l2-1l2 0l2 0l2-1l2 0l2 1l2-1l2 1l2 0l2 0l2 0l2 0l2-1l2 1l2-1l2 1l2 0l2 0l2 0l2 0l2-1l2 0l2 0l2 1l2-1l2 1l2 0l2 0l2 0l2 1l2-1l2 1l2 0l2-1l2 1l2-1l2 1l2-1l2 1l2 0l2-1l2 1l2-1l2 0l2-1l2-1l2 1l2 1l2-1l2 1l2 0l2 0l2 0l2 1l2 0l2 0l2 0l2-1l2 0l2 0l2 0l2-1l2 0l2 1l2-1l2 1l2 0l2 0l2 0l2 0l2 0l2 0l2-1l2 1l2 0l2 0l2 1l2-1l2 1l2-1l2 0l2 1l2 0l2 0l2 0l2-1l2-1l2 0l2 0l2-1l2 0l2 1l2-1l2 2l2 0l2 0l2 0l2 1l2 0l2 0l2 0l2-1l2 0l2 0l2 0l2 0l2 0l2-1l2 1l2 0l2-1l2 0l2 1l2-1l2 0l2 1l2-1l2 1l2 0l2 0l2 0l2 0l2 1l2 0l2-1l2 1l2 0l2 0l2 0l2-1l2 0l2-1l2 1l2 0l2-1l2 1l2-1l2 0l2 1l2 1l2-1l2 1l2 0l2 0l2-1l2 1l2 0l2-1l2 0l2 1l2-1l2 0l2-1l2 0l2 0l2 0l2 0l2 0l2 1l2 0l2 0l2-1l2 1l2 1l2 0l2 0l2-1l2 1l2 0l2 0l2-1l2 0l2 0l2 0l2 0l2 0l2-1l2 1l2 0l2 0l2 1l2 0l2 0l2-1l2 0l2 1l2-1l2 0l2 1l2 0l2 0l2-1l2 1l2-1l2 0l2 0l2 0l2-1l2 0l2 0l2 0l2 0l2 0l2 0l2 0l2 1l2 0l2 0l2 0l2-1l2 1l2 0l2 0l2 0l2 1l2-1l2 0l2 0l2 0l2-1l2 1l2 0l2 0l2 1l2 0l2 0l2 0l2 0l2-1l2 1l2-1l2 0l2 1l2 0l2-1l2 0l2 0l2-1l2 0l2 0l2 1l2-1l2 0l2 0l2 0l2 1l2-1l2 1l2 0l2 1l2-1l2 0l2 0l2 0l2 0l2 0l2 0l2 0l2 0l2 0l2 0l2 0l2 0l2-1l2 2l2-1l2 1l2 0l2-1l2 0l2 0l2 0l2 0l2 0l2 0l2-1l2 1l2 0l2 0l2-1l2 1l2 0l2-1l2 0l2 1l2 0l2 1l2-1l2 1l2-1l2 0l2 0l2-1l2 1l2 0l2-1l2 0l2 0l2 1l2 0l2-1l2 1l2 0l2-1l2 0l2 0l2 1l2 0l2-1l2 1l2 0l2-1l2 1l2 1l2-1l2 1l2-1l2 0l2 0l2 0l2 0l2-2l2 1l2 0l2 1l2 0l2-1l2 1l2 0l2 0l2 0l2 0l2 1l2-1l2 0l2 0l2 1l2-2l2 0l2-1l2 1l2 1l2-1l2-1l2 0l2 1l2 1l2 1l2-1l2 1l2-1l2 0l2 0l2 1l2-1l2 1l2-1l2-1l2 1l2-1l2 0l2 1l2-1l2 0l2 1l2 0l2 0l2-1l2 1l2 0l2 0l2 0l2 0l2 0l2 0l2 0l2 0l2 0l2 0l2-1l2 1l2-1l2 1l2-1l2 0l2 0l2 0l2 1l2 0l2 0l2 1l2 0l2-1l2 0l2 0l2 0l0 6l-2 0l-2 0l-2-1l-2 0l-2 1l-2 0l-2 1l-2 0l-2-1l-2 1l-2 0l-2 0l-2 0l-2 0l-2-1l-2 1l-2 0l-2 0l-2 0l-2-1l-2 0l-2 0l-2 1l-2-1l-2 0l-2 0l-2 0l-2 0l-2 1l-2 0l-2-1l-2 0l-2 0l-2 1l-2 0l-2-1l-2 0l-2 0l-2 0l-2 0l-2 0l-2-1l-2 0l-2 1l-2 0l-2 0l-2 0l-2 0l-2 0l-2 1l-2 0l-2 1l-2 0l-2-1l-2 1l-2-1l-2 0l-2-1l-2 0l-2 0l-2 0l-2-1l-2 0l-2 1l-2 0l-2 0l-2 0l-2 1l-2-1l-2 1l-2 1l-2-1l-2 1l-2-1l-2 0l-2 0l-2-1l-2 0l-2 0l-2 0l-2 0l-2 0l-2 0l-2 0l-2 0l-2 1l-2-1l-2 0l-2 0l-2 1l-2 0l-2 0l-2 0l-2-1l-2 0l-2 1l-2 0l-2 0l-2-1l-2 1l-2 0l-2-1l-2 1l-2 0l-2-1l-2 1l-2 0l-2-1l-2 0l-2 1l-2 0l-2 0l-2 0l-2 0l-2-1l-2 0l-2 1l-2-1l-2 0l-2 0l-2 0l-2 1l-2-1l-2 0l-2 0l-2 0l-2-1l-2 1l-2 0l-2 0l-2 0l-2 0l-2 0l-2 0l-2 0l-2 1l-2 0l-2-1l-2 0l-2 0l-2 0l-2-1l-2 0l-2 0l-2 0l-2 0l-2 1l-2 1l-2 0l-2-1l-2 0l-2 1l-2 1l-2-1l-2 0l-2 1l-2-1l-2 0l-2 0l-2-1l-2 0l-2 0l-2 0l-2 0l-2 0l-2 0l-2-1l-2 0l-2 1l-2 0l-2 0l-2 0l-2 0l-2 0l-2 0l-2 0l-2 0l-2 0l-2 0l-2 0l-2 0l-2 0l-2 0l-2 0l-2 0l-2 0l-2 1l-2 0l-2-1l-2 1l-2 0l-2 0l-2 0l-2 0l-2 0l-2 0l-2 0l-2-1l-2 0l-2 0l-2-1l-2 0l-2 1l-2 0l-2 0l-2-1l-2 0l-2 1l-2 0l-2-1l-2 1l-2 0l-2 0l-2 0l-2 0l-2 0l-2 0l-2 0l-2 1l-2-1l-2 1l-2-1l-2 0l-2 0l-2 0l-2 0l-2-1l-2 0l-2 1l-2 0l-2-1l-2 1l-2 0l-2 1l-2-1l-2 1l-2 1l-2-1l-2 0l-2 0l-2 0l-2 1l-2-1l-2 0l-2-1l-2 0l-2-1l-2 0l-2 1l-2 0l-2 0l-2-1l-2 1l-2 0l-2 0l-2-1l-2 2l-2 0l-2 0l-2 0l-2 1l-2-1l-2 0l-2 0l-2-1l-2 0l-2-1l-2 1l-2-1l-2 1l-2-1l-2 1l-2-1l-2 0l-2 0l-2 1l-2 0l-2 1l-2 0l-2 1l-2-1l-2 0l-2-1l-2 1l-2 0l-2-1l-2 0l-2 1l-2-1l-2 0l-2 1l-2-1l-2 0l-2 0l-2 0l-2-1l-2 1l-2 0l-2 0l-2 0l-2 1l-2 0l-2 0l-2 1l-2-1l-2 1l-2-1l-2 0l-2 0l-2-1l-2-1l-2 0l-2 0l-2 0l-2 1l-2 0l-2-1l-2 0l-2 1l-2 0l-2 0l-2 1l-2 0l-2 0l-2 0l-2 0l-2 0l-2 0l-2 0l-2 0l-2 0l-2 0l-2-1l-2 1l-2-1l-2 0l-2-1l-2 1l-2 0l-2 0l-2 0l-2 0l-2 0l-2 0l-2 0l-2 1l-2 1l-2 0l-2 0l-2 0l-2-1l-2 0l-2 0l-2-2l-2 1l-2-1l-2 1l-2-1l-2 1l-2 0l-2 0l-2 0l-2 0l-2 0l-2 0l-2 0l-2 0l-2 0l-2 0l-2 1l-2 0l-2-1l-2 0l-2 1l-2 0l-2-1l-2 0l-2 1l-2 0l-2 0l-2-1l-2 1l-2 0l-2 0l-2-1l-2 0l-2 0l-2 0l-2 1l-2 0l-2 0l-2 0l-2-1l-2 0l-2 0l-2-1l-2 1l-2 0l-2 0l-2-1l-2 0l-2 0l-2 0l-2 1l-2 0l-2 0l-2 0l-2 1l-2 0l-2-1l-2 1l-2-1l-2 0l-2 1l-2-1l-2 0l-2 0l-2 0l-2-1l-2 0l-2 1l-2-1l-2 1l-2 0l-2-1l-2 0l-2 1l-2 1l-2 0l-2 1l-2-1l-2 1l-2-1l-2 1l-2-1l-2-1l-2 0l-2 1l-2-1l-2 0l-2 0l-2 0l-2 0l-2-1l-2 0l-2 1l-2-1l-2 1l-2 0l-2 0l-2 1l-2 0l-2 0l-2 1l-2-1l-2 1l-2-1l-2 0l-2-1l-2 0l-2 0l-2 0l-2 1l-2-1l-2 0l-2 0l-2 1l-2 0l-2-1l-2 0l-2 0l-2 0l-2 0l-2 0l-2 1l-2 0l-2-1l-2 0l-2 1l-2-1l-2 1l-2-1l-2 1l-2-1l-2 0l-2 0l-2 0l-2 0l-2 1l-2-1l-2 0l-2 0l-2 2l-2-1l-2 0l-2 0l-2 0l-2 0l-2 0l-2-1l-2 0l-2-1l-2 1l-2-1l-2 1l-2 0l-2 0l-2-1l-2 1l-2-1l-2 1l-2 0l-2 0l-2 1l-2 1l-2-1l-2 1l-2 0l-2-1l-2 1l-2-1l-2-1l-2 0l-2 0l-2 0l-2-1l-2 0l-2 1l-2-1l-2 1l-2 0l-2 0l-2 0l-2 0l-2 0l-2 1l-2 1l-2-1l-2 0l-2 1l-2 0l-2 0l-2 0l-2-1l-2 0l-2 0l-2 0l-2 0l-2 0l-2 0l-2-1l-2 1l-2-1l-2 0l-2 0l-2 0l-2-1l-2 2l-2 0l-2 0l-2-1l-2 2l-2-1l-2 1l-2-1l-2-1l-2 0l-2 0l-2 0l-2-1l-2 0l-2 0l-2 0l-2 1l-2-1l-2 1l-2 0l-2 0l-2 0l-2 0l-2 0l-2 1l-2-1l-2 1l-2-1l-2 0l-2 0l-2 0l-2 0l-2 0l-2 1l-2-1l-2 0l-2 0l-2 0l-2 0l-2 0l-2 0l-2 0l-2-1l-2 1l-2 0l-2 0l-2 0l-2 1l-2 0l-2 0l-2 1l-2-1l-2 0l-2 0l-2 0l-2 0l-2-1l-2 0l-2 0l-2 0l-2 0l-2 0l-2 0l-2 0l-2 0l-2 0l-2 0l-2 1l-2 0l-2 0l-2 1l-2-1l-2 0l-2 0l-2 1l-2-1l-2-1l-2 0l-2-1l-2 1l-2-1l-2 1l-2 0l-2-1l-2 1l-2 0l-2 1l-2 0l-2-1l-2 1l-2 0l-2 0l-2 1l-2-1l-2 1l-2 0l-2-1l-2 0l-2-1l-2 0l-2 0l-2 0l-2 0l-2-1l-2 1l-2 0l-2-1l-2 1l-2 0l-2 0l-2 0l-2 1l-2 1l-2-1l-2 0l-2-1l-2 0l-2 1l-2-1l-2 0l-2-1l-2 0l-2 1l-2 0l-2 0l-2 0l-2 1l-2-1l-2 0l-2 1l-2-1l-2 1l-2 0l-2 0l-2 0l-2 0l-2 1l-2-1l-2 0l-2 0l-2-1l-2 1l-2-1l-2 0l-2 0l-2 0l-2 0l-2 0l-2 0z"/>
<path fill="#ff0000" fill-opacity="0.8" stroke="#ff0000" d="M223 863l2 1l2 0l2 0l2-1l2-1l2 0l2 1l2 1l2 1l2 0l2 0l2 0l2 0l2 0l2 0l2 0l2-1l2 0l2-1l2 0l2-1l2 1l2 0l2-1l2 1l2-1l2 1l2 1l2 1l2 0l2 0l2 0l2 0l2-1l2 1l2 0l2 0l2 0l2-1l2 0l2-1l2 0l2 1l2 0l2-2l2 2l2-1l2 0l2-1l2 2l2-1l2 1l2 0l2 0l2 1l2 0l2 0l2 0l2 0l2 0l2-1l2-1l2 0l2-1l2 1l2 0l2 0l2 0l2-1l2 0l2 1l2 1l2-1l2 1l2 1l2-1l2 1l2 0l2 0l2 0l2-1l2 0l2 1l2-1l2 0l2 0l2 0l2-1l2 0l2 1l2 0l2 0l2 0l2 1l2 0l2 0l2 0l2-1l2 1l2 0l2-1l2 0l2 0l2 0l2 0l2 0l2 0l2 1l2-1l2 0l2 0l2 0l2 0l2 0l2 1l2-1l2 1l2-1l2 0l2 0l2 0l2 0l2 0l2 0l2 0l2-1l2 1l2 0l2 0l2-1l2 0l2 1l2-1l2 0l2 1l2-1l2 0l2 2l2 0l2 0l2 0l2 0l2 0l2 0l2 0l2 0l2 0l2-1l2 0l2-1l2 1l2-1l2 1l2-1l2 0l2 0l2 0l2 1l2-1l2 1l2 1l2 0l2 0l2 0l2 0l2 0l2 0l2 0l2 0l2-1l2 0l2-1l2 0l2 1l2-1l2 1l2 0l2 0l2 0l2 1l2 0l2 0l2 0l2 0l2 0l2 0l2 0l2 0l2 0l2-1l2 0l2 0l2 0l2 0l2-1l2 0l2 1l2-1l2 1l2 0l2 0l2 0l2-1l2 1l2-1l2 1l2 0l2 0l2 0l2 0l2 0l2 0l2-1l2 0l2 0l2 1l2 0l2 0l2 0l2 0l2 0l2 0l2-1l2 0l2 1l2 0l2 1l2 0l2 0l2 0l2 0l2 0l2 0l2-1l2-1l2 0l2 0l2-1l2 1l2-1l2 2l2 0l2 0l2 0l2 1l2-1l2 0l2 1l2 0l2 0l2 0l2 0l2 0l2-1l2 0l2 1l2 0l2 0l2-1l2 0l2-1l2 1l2 0l2 0l2 0l2-1l2 0l2 1l2-1l2 1l2 0l2 0l2 1l2-1l2 0l2 1l2 0l2 0l2-1l2 1l2-1l2 0l2 0l2 0l2 0l2 0l2 0l2-1l2 0l2 0l2 1l2 0l2 1l2-1l2 0l2 1l2-1l2 0l2 0l2 0l2 0l2 0l2 0l2 1l2-1l2 0l2 0l2-1l2 1l2-1l2 0l2 1l2 0l2 0l2 0l2 0l2 0l2 1l2 0l2-1l2 0l2 0l2 0l2 0l2-1l2 0l2 0l2 0l2 0l2 0l2 0l2 0l2 1l2-1l2 2l2 0l2 0l2 0l2 0l2 0l2 0l2 0l2 0l2 0l2-1l2 0l2 0l2 0l2 0l2-1l2 0l2 1l2 0l2 1l2 0l2 0l2-1l2 1l2 0l2 0l2 0l2 0l2-1l2 1l2-1l2-1l2-1l2 0l2 1l2 0l2 0l2 1l2 0l2 0l2 0l2 0l2 0l2 0l2 0l2 0l2 0l2 0l2 1l2 0l2-1l2 1l2 0l2-1l2 0l2 0l2 0l2 0l2 0l2-1l2 1l2 0l2-1l2 0l2 0l2 1l2 0l2 1l2-1l2 0l2 1l2 0l2-1l2 1l2 0l2-1l2-1l2 0l2 1l2-1l2 0l2 0l2 1l2-1l2 0l2-1l2 2l2 0l2 0l2 1l2 0l2 0l2 0l2 0l2 0l2-1l2 1l2-1l2 0l2 0l2 0l2 1l2 0l2-1l2 0l2 0l2 0l2-1l2 1l2 0l2 1l2-1l2 1l2 0l2 0l2-1l2 0l2 0l2 0l2 0l2 0l2 0l2-1l2 0l2 0l2 1l2 0l2 0l2 0l2 0l2 0l2 0l2 0l2 0l2 0l2 1l2 0l2 0l2 0l2 0l2 0l2 0l2-1l2 1l2-1l2-1l2 1l2 0l2 0l2 0l2 0l2 0l2 0l2 0l2 0l2 1l2-1l2 1l2-1l2 1l2-1l2 0l2 0l2 1l2-1l2 1l2-1l2 0l2 0l2 0l2 1l2-1l2 1l2 0l2-1l2 1l2 0l2 0l2 0l2 0l2-1l2 0l2 1l2-2l2 1l2 0l2 0l2-1l2 0l2 1l2-1l2 0l2 0l2 1l2 0l2 0l2 0l2 1l2 0l2-1l2 0l2 0l2 0l2-1l2 1l2-1l2 0l2 0l2 0l2-1l2 1l2 0l2 0l2 0l2 1l2 1l2 0l2 0l2-1l2 1l2 0l2-3l2-8l2 8l2 1l2-14l2 0l2 8l2-3l2 2l2 4l2-9l2 10l2 0l2-12l2 1l2 4l2 2l2 4l2 4l2-1l2 0l2 1l2 0l2 0l2-1l2 1l2 0l2-8l2 3l2-10l2 12l2 0l2-3l2 1l2 0l2 3l2 2l2 0l2-1l2-12l2-2l2 6l2 9l2 1l2-1l2-4l2-9l2 7l2 2l2 4l2 0l2 0l2 0l2 0l2 0l2 0l2 0l2 0l2 0l2 0l2-1l2 1l2-1l2 0l2 1l2 0l2 0l2 0l2 0l2 1l2 0l2 0l2-1l2 0l2 1l2-1l2-7l2-3l2 9l2-4l2 3l2 1l2 1l2 0l2-1l2 1l2 0l2 1l2-1l2 1l2 0l2 0l2 0l2 0l2 0l2 0l2 0l2 0l2 0l2-1l2 0l2-1l2-3l2-6l2 3l2 1l2 5l2 1l2 0l2-4l2-6l2 1l2 4l2 6l2-9l2 8l2 0l2 0l2 0l2 0l2 0l2 0l2 0l2 0l2 0l2 0l2-4l2-2l2 3l2 3l2 0l2-2l2-6l2 1l2 6l2-5l2 6l2-2l2 3l2 0l2-1l2 0l2-1l2 0l2 1l2-1l2 0l2 0l2 0l2 0l2 0l0 8l-2 1l-2 0l-2-1l-2 0l-2 0l-2 1l-2 0l-2-1l-2-1l-2 0l-2 0l-2 0l-2 3l-2-2l-2 6l-2-4l-2 3l-2 3l-2-8l-2 0l-2-1l-2 5l-2 2l-2-6l-2 0l-2 0l-2-1l-2 1l-2 0l-2 0l-2 0l-2 0l-2-1l-2 0l-2 2l-2 7l-2-9l-2 5l-2-3l-2 9l-2-10l-2 0l-2 0l-2 1l-2 1l-2 3l-2 5l-2-9l-2-1l-2 0l-2 0l-2-1l-2 0l-2 0l-2 0l-2 0l-2 0l-2 0l-2 0l-2 0l-2 0l-2 0l-2 0l-2 0l-2 1l-2 0l-2 0l-2 1l-2-1l-2 2l-2 4l-2-5l-2 9l-2-2l-2 0l-2-6l-2-3l-2 0l-2 0l-2 0l-2 0l-2 0l-2 1l-2-1l-2 1l-2 0l-2 1l-2-1l-2 0l-2 0l-2 0l-2 0l-2 0l-2 0l-2-1l-2 1l-2 0l-2 0l-2 0l-2 0l-2-1l-2 5l-2 8l-2 0l-2-6l-2-6l-2 0l-2-1l-2 1l-2 15l-2-4l-2-11l-2 0l-2 0l-2 2l-2-1l-2-1l-2 6l-2-5l-2 9l-2 5l-2-4l-2-6l-2-5l-2 0l-2 0l-2 1l-2 0l-2-1l-2 0l-2 0l-2-1l-2 5l-2-3l-2 9l-2 1l-2 4l-2-8l-2 2l-2 3l-2-7l-2 3l-2 2l-2-4l-2 2l-2 7l-2-9l-2-3l-2 7l-2-7l-2-4l-2 0l-2 0l-2 0l-2 0l-2 1l-2 0l-2 0l-2 0l-2 1l-2 1l-2-1l-2 0l-2 0l-2 0l-2 0l-2 0l-2-1l-2 0l-2-1l-2 0l-2 1l-2 0l-2 0l-2 0l-2 0l-2-1l-2 2l-2 0l-2-1l-2 1l-2-1l-2 0l-2 1l-2-1l-2 1l-2-1l-2 0l-2-1l-2 1l-2-1l-2 0l-2 0l-2 0l-2 0l-2 0l-2 1l-2-1l-2 1l-2 0l-2-1l-2 1l-2 0l-2 1l-2-1l-2-1l-2 0l-2 1l-2 0l-2 0l-2 0l-2-1l-2 0l-2 1l-2-1l-2 0l-2 0l-2 0l-2 0l-2 1l-2-1l-2 0l-2 1l-2 0l-2 0l-2 0l-2 1l-2-1l-2-1l-2 0l-2 0l-2 0l-2 0l-2 1l-2-1l-2 1l-2 0l-2 0l-2-1l-2 1l-2 0l-2-1l-2 1l-2 0l-2 0l-2 0l-2 0l-2 0l-2 0l-2 0l-2 1l-2-1l-2 1l-2-1l-2 0l-2 0l-2-1l-2 0l-2 1l-2-1l-2 1l-2 0l-2-1l-2 1l-2 0l-2 0l-2 0l-2 0l-2-1l-2 0l-2 1l-2 0l-2 0l-2 0l-2 0l-2-1l-2 0l-2 0l-2 0l-2 0l-2 0l-2 0l-2 0l-2 1l-2 0l-2 0l-2 0l-2 1l-2 0l-2 0l-2 0l-2 0l-2-1l-2 2l-2-1l-2-1l-2-1l-2 0l-2 0l-2 0l-2 0l-2 0l-2 0l-2 0l-2 1l-2 1l-2-1l-2 0l-2 1l-2-1l-2 0l-2 0l-2 0l-2 0l-2 0l-2 0l-2 0l-2-1l-2 1l-2-1l-2 0l-2 0l-2 1l-2-1l-2 0l-2 0l-2 1l-2 0l-2 0l-2-1l-2 0l-2 0l-2 0l-2 1l-2-1l-2 2l-2 0l-2 1l-2-1l-2 0l-2-1l-2 0l-2-1l-2 0l-2 0l-2-1l-2 1l-2 0l-2 0l-2 0l-2 0l-2 0l-2 1l-2 0l-2 1l-2-1l-2 1l-2-1l-2 0l-2-1l-2 0l-2 0l-2 0l-2 0l-2 0l-2 0l-2 0l-2 0l-2 0l-2 0l-2 1l-2 0l-2 0l-2 1l-2 0l-2 0l-2 0l-2 0l-2 0l-2-1l-2 1l-2-1l-2 0l-2 0l-2 0l-2 0l-2-1l-2 0l-2 0l-2 0l-2 0l-2 1l-2 1l-2-1l-2 1l-2-1l-2 0l-2 1l-2-1l-2 0l-2-1l-2 1l-2 0l-2 0l-2 0l-2-1l-2 1l-2-1l-2 1l-2-1l-2 0l-2 1l-2-1l-2 1l-2 0l-2 0l-2 1l-2 0l-2-1l-2 1l-2-1l-2 0l-2-1l-2 0l-2 0l-2 1l-2 0l-2-1l-2 0l-2 0l-2 0l-2 1l-2-1l-2 1l-2-1l-2 0l-2 1l-2 1l-2-1l-2 0l-2 0l-2 1l-2-1l-2 0l-2 1l-2-1l-2 0l-2 0l-2-1l-2 0l-2 0l-2 0l-2 0l-2 0l-2 0l-2 0l-2 0l-2 0l-2 0l-2 1l-2-1l-2 0l-2 1l-2 0l-2 1l-2 0l-2 0l-2 0l-2 0l-2 0l-2 0l-2-1l-2-1l-2 0l-2 0l-2 0l-2-1l-2 1l-2-1l-2 2l-2-1l-2 2l-2 0l-2 0l-2-1l-2 1l-2-1l-2-1l-2 0l-2 2l-2-1l-2 0l-2 0l-2 0l-2 0l-2 0l-2 0l-2 0l-2 0l-2 0l-2-1l-2 1l-2 0l-2 0l-2 0l-2 0l-2 1l-2-1l-2 0l-2 0l-2 0l-2 1l-2-1l-2 0l-2 0l-2 0l-2 0l-2-1l-2 0l-2 0l-2 0l-2 0l-2 0l-2 0l-2 0l-2 0l-2 1l-2 0l-2 0l-2 1l-2-1l-2 1l-2-1l-2 0l-2 0l-2 0l-2-1l-2 0l-2 0l-2 0l-2 0l-2 0l-2 0l-2 0l-2 0l-2 0l-2 1l-2 0l-2 0l-2 0l-2 0l-2 1l-2 0l-2 0l-2-1l-2 1l-2-2l-2 1l-2-1l-2-1l-2 1l-2 0l-2 0l-2 0l-2 0l-2 0l-2 0l-2 0l-2 1l-2 1l-2-1l-2 1l-2 0l-2 0l-2 0l-2-1l-2 1l-2 0l-2-1l-2 0l-2 0l-2-1l-2 1l-2 0l-2 0l-2 0l-2 0l-2-1l-2 1l-2 0l-2 0l-2 0l-2 0l-2 0l-2 1l-2-1l-2-1l-2 1l-2 0l-2 0l-2 0l-2 0l-2 0l-2 0l-2 0l-2 0l-2 0l-2-1l-2 0l-2 1l-2-1l-2 1l-2 0l-2 0l-2 0l-2 0l-2 0l-2 1l-2-1l-2 0l-2 0l-2 0l-2-1l-2 1l-2-1l-2 1l-2-1l-2 0l-2 0l-2 0l-2 0l-2 1l-2 0l-2 0l-2 0l-2 1l-2 0l-2 0l-2 1l-2-1l-2 0l-2-1l-2 0l-2 0l-2-1l-2 0l-2 0l-2 0l-2 0l-2 0l-2 0l-2 0l-2 0l-2 0l-2 1l-2 1l-2 0l-2 0l-2 0l-2 1l-2-1l-2-1l-2 1l-2-1l-2 1l-2-1l-2-1l-2-1l-2 1l-2 0l-2 0l-2 0l-2-1l-2 1l-2 0l-2 0l-2 1l-2-1l-2 2l-2 0l-2 1l-2-1l-2 0l-2 0l-2 0l-2 0l-2-1l-2 0l-2-1l-2 0l-2 0l-2 0l-2 0l-2 0l-2 0l-2 0l-2 0l-2 1l-2 1l-2-1l-2 1l-2 0l-2 0l-2-1l-2 1l-2-1z"/>
<path fill="#0000ff" fill-opacity="0.8" stroke="#0000ff" d="M223 890l2-1l2 0l2 1l2-1l2 0l2 0l2 1l2-1l2 0l2-2l2 0l2 0l2 0l2 1l2 0l2 1l2 0l2 0l2 0l2 1l2 0l2-1l2 0l2-1l2-1l2 0l2 1l2-1l2 0l2 0l2 1l2 1l2 0l2 0l2 0l2 0l2 1l2-1l2 0l2 1l2-1l2-1l2 0l2 0l2-1l2 0l2 1l2 0l2 0l2 1l2 1l2-1l2 0l2 0l2 1l2 0l2-1l2-1l2 0l2 0l2-1l2 0l2-1l2 1l2 0l2 0l2 1l2 1l2 0l2 0l2 0l2 0l2 0l2 0l2 0l2-1l2 0l2-1l2 0l2 0l2 0l2-1l2 1l2 0l2 1l2 0l2 1l2 0l2 0l2 1l2-1l2 0l2-1l2 0l2 0l2-1l2 0l2 1l2 0l2 0l2-1l2 0l2 1l2 1l2 0l2 1l2 0l2-1l2 0l2 0l2-1l2 0l2 0l2 0l2-1l2 0l2-1l2 0l2 1l2 0l2 1l2 0l2 0l2 0l2 1l2 0l2-1l2-1l2 1l2 0l2 0l2 0l2 0l2 1l2-1l2 1l2 0l2 0l2 0l2 0l2-1l2 0l2 0l2 1l2-1l2 0l2 0l2-1l2 1l2 0l2-1l2 0l2 0l2 1l2 0l2 1l2-1l2 0l2 1l2 0l2 0l2 0l2 0l2-1l2 1l2-1l2 0l2 0l2 1l2-1l2 1l2 0l2 0l2 0l2 0l2 0l2-1l2 1l2 0l2 0l2-1l2 0l2 1l2-1l2 1l2 0l2-1l2 0l2 1l2-1l2 1l2-2l2 1l2 0l2 1l2-1l2 1l2-1l2 0l2 1l2-1l2 0l2 0l2 1l2-1l2 0l2-1l2 1l2 0l2 0l2 0l2 0l2 0l2 0l2 1l2 0l2-1l2 1l2 0l2-1l2 1l2 0l2-1l2 1l2-1l2 1l2 0l2 0l2 0l2 0l2-1l2 1l2-1l2 0l2 1l2 0l2-1l2 0l2 0l2 1l2 0l2-1l2 1l2 0l2 0l2 0l2 0l2 0l2 0l2-1l2 1l2 0l2-1l2 0l2 0l2 0l2 0l2 0l2 0l2-1l2 1l2 1l2-1l2 0l2 1l2 0l2 0l2 0l2-1l2 1l2-1l2-1l2 0l2 0l2 0l2 1l2 0l2 0l2 0l2 0l2 0l2 0l2 1l2-1l2 0l2 1l2-1l2 1l2 0l2 0l2 0l2 0l2 0l2 0l2 0l2 0l2 0l2 0l2 1l2-1l2 0l2 0l2 0l2 0l2-2l2 0l2 1l2-1l2 1l2-1l2 1l2 0l2 1l2 1l2-1l2 1l2-1l2 0l2-1l2 0l2 1l2-1l2 0l2 0l2 0l2 0l2 1l2 0l2-1l2 1l2 0l2 0l2-2l2-2l2 5l2-1l2 1l2-1l2-1l2 0l2-1l2 1l2 0l2 0l2-1l2 1l2 1l2 0l2 0l2 0l2 1l2-1l2 0l2 0l2 0l2 0l2-1l2 0l2 0l2-1l2 1l2 0l2 1l2-1l2 0l2 1l2 0l2 0l2 0l2 0l2 0l2 0l2-1l2 0l2 0l2-1l2 0l2 1l2 0l2 0l2 0l2 0l2 1l2 1l2 0l2-1l2 0l2 0l2 0l2-1l2-1l2 0l2 1l2-2l2 1l2 1l2 1l2 0l2 0l2 0l2 0l2 0l2 1l2-1l2 0l2-1l2 0l2 0l2-1l2 0l2 0l2 1l2 0l2 1l2 0l2 0l2 0l2 0l2 0l2 1l2-1l2 0l2-1l2 0l2 0l2-1l2 0l2 1l2 0l2 0l2 0l2 1l2-1l2 1l2-1l2 1l2-1l2 0l2 0l2 1l2 0l2-1l2 0l2 0l2 0l2-1l2 0l2 2l2-1l2 1l2 0l2 0l2 0l2 0l2 0l2 1l2-1l2 1l2-1l2-2l2 0l2 0l2 1l2-1l2-1l2 0l2 1l2 1l2 1l2 0l2 0l2 0l2 1l2-1l2 0l2 0l2-1l2-1l2 0l2 0l2 1l2-1l2 1l2 0l2 0l2 0l2 1l2 0l2 0l2 0l2 0l2 0l2 0l2-1l2 0l2 0l2 0l2-1l2 0l2 0l2 0l2 1l2-1l2 1l2 0l2 0l2 1l2-1l2 0l2 1l2 0l2 0l2-2l2 0l2 0l2 0l2 0l2 1l2 0l2 0l2 0l2 1l2 0l2 0l2 0l2 0l2 1l2 0l2 0l2-1l2 0l2 0l2-1l2 0l2-1l2 1l2-1l2 1l2 0l2-1l2 1l2 2l2-1l2 1l2-1l2 0l2 1l2 0l2-1l2-1l2 0l2-1l2 0l2 0l2 0l2 0l2 1l2 1l2 0l2 0l2 0l2 0l2 1l2-1l2 0l2 0l2-1l2-1l2 1l2-1l2-1l2 1l2 0l2 1l2 1l2 0l2 0l2 0l2 0l2-1l2 1l2-1l2-1l2 0l2 1l2 0l2 0l2 0l2 0l2 0l2 0l2 0l2 0l2 1l2 0l2-1l2 0l2 0l2 1l2-1l2 1l2-1l2 0l2 0l2 0l2 0l2 0l2 0l2 0l2 1l2 0l2 0l2 1l2-1l2 0l2 1l2-1l2-1l2 0l2-1l2 0l2 0l2-1l2 2l2-1l2 1l2-1l2 0l2 1l2 1l2 0l2-1l2 1l2 0l2-1l2 0l2 0l2 0l2 0l2-1l2 0l2 0l2 1l2 0l2 0l2-1l2 1l2 1l2 0l2-1l2 1l2-2l2 1l2 0l2 0l2 0l2 0l2 0l2 0l2 0l2 0l2 0l2 1l2 0l2-1l2 1l2-1l2 0l2 1l2-1l2 0l2 1l2 0l2-1l2 1l2-1l2 0l2 0l2-1l2 1l2 1l2 0l2 0l2 0l2 0l2 0l2-1l2 1l2-1l2 1l2 0l2-1l2 0l2 0l2-1l2 1l2 1l2 0l2 0l2 0l2 0l2 0l2 1l2-2l2 1l2-1l0 7l-2 0l-2 0l-2-1l-2 1l-2 0l-2 0l-2-1l-2 0l-2 1l-2 0l-2 1l-2-1l-2 0l-2 1l-2-1l-2 0l-2 0l-2 0l-2-1l-2 1l-2 0l-2 0l-2 0l-2 0l-2 1l-2-1l-2 0l-2 0l-2 1l-2-1l-2 0l-2 0l-2 0l-2 0l-2 0l-2 0l-2 0l-2 1l-2-2l-2 1l-2 0l-2 0l-2 0l-2 0l-2 0l-2 0l-2 1l-2 0l-2-1l-2 1l-2-1l-2 1l-2-1l-2 0l-2 0l-2 0l-2 1l-2 0l-2-1l-2 0l-2 1l-2-1l-2 1l-2 0l-2 0l-2 0l-2 0l-2 0l-2 0l-2-1l-2 0l-2 0l-2 1l-2-1l-2 0l-2 1l-2-1l-2 1l-2-1l-2 1l-2 0l-2 1l-2 0l-2-1l-2 1l-2 0l-2-2l-2 1l-2-1l-2 0l-2-1l-2 0l-2 1l-2-1l-2 0l-2 1l-2 0l-2 0l-2 1l-2-1l-2 1l-2 0l-2-1l-2 0l-2 0l-2 1l-2-1l-2 1l-2-1l-2 0l-2 0l-2 0l-2 0l-2 0l-2 0l-2 0l-2 1l-2-1l-2 0l-2 1l-2 0l-2-1l-2 1l-2 0l-2-1l-2 1l-2-1l-2-1l-2 0l-2 1l-2 0l-2 1l-2 0l-2 0l-2 0l-2 0l-2 0l-2 1l-2-1l-2 0l-2-1l-2-1l-2 1l-2-1l-2 0l-2 1l-2-1l-2 0l-2 1l-2 1l-2 0l-2 1l-2-1l-2 1l-2 0l-2-2l-2 0l-2-1l-2 0l-2 1l-2-1l-2 0l-2 0l-2 0l-2 1l-2 0l-2 2l-2-1l-2 0l-2 0l-2 1l-2-2l-2 1l-2-1l-2 0l-2-1l-2 1l-2-1l-2 0l-2 0l-2 0l-2 0l-2 1l-2-1l-2 1l-2 1l-2 0l-2 0l-2 0l-2 0l-2 1l-2-1l-2 0l-2-1l-2 0l-2 0l-2-1l-2 0l-2 0l-2 1l-2 0l-2 0l-2 0l-2 1l-2 0l-2 1l-2-1l-2 0l-2 0l-2 0l-2-1l-2 0l-2 0l-2 0l-2 0l-2-1l-2 1l-2-1l-2 1l-2 0l-2 1l-2 0l-2 0l-2-1l-2 1l-2-1l-2 1l-2 0l-2-1l-2 0l-2 0l-2 0l-2 0l-2-1l-2 0l-2 0l-2 0l-2 0l-2 2l-2 0l-2 1l-2 0l-2 0l-2-1l-2 1l-2-2l-2-1l-2 0l-2 0l-2 0l-2 1l-2-1l-2 1l-2-1l-2 0l-2 1l-2 0l-2 0l-2 1l-2 0l-2-1l-2 1l-2 0l-2 0l-2 0l-2 0l-2-1l-2 0l-2 0l-2 0l-2 0l-2 0l-2-1l-2 1l-2 0l-2 1l-2-1l-2 0l-2 1l-2 0l-2 0l-2 0l-2 0l-2-2l-2 1l-2-1l-2 1l-2-1l-2 0l-2 0l-2 1l-2 0l-2 1l-2-1l-2 0l-2 1l-2 0l-2-1l-2 0l-2 0l-2 0l-2 0l-2-1l-2 1l-2-1l-2 0l-2 0l-2 1l-2 1l-2 0l-2 0l-2 0l-2 0l-2 0l-2 0l-2-1l-2-1l-2 0l-2 0l-2 1l-2-1l-2 0l-2 0l-2 1l-2 1l-2-1l-2 0l-2 2l-2 0l-2-1l-2 1l-2-1l-2 0l-2-2l-2 0l-2 1l-2 0l-2-1l-2 0l-2 1l-2 0l-2 0l-2 0l-2 0l-2 0l-2 0l-2 0l-2 0l-2 0l-2 0l-2 0l-2 0l-2-1l-2 0l-2 0l-2 0l-2 0l-2 0l-2 1l-2 1l-2-1l-2 0l-2 0l-2 2l-2-2l-2 1l-2-1l-2 0l-2-1l-2 2l-2-2l-2 5l-2-5l-2 1l-2 0l-2 0l-2 0l-2 1l-2-1l-2 0l-2 0l-2 1l-2-1l-2 0l-2 0l-2 0l-2 0l-2 0l-2-1l-2 1l-2-1l-2 1l-2 0l-2-1l-2 2l-2 1l-2-1l-2 1l-2-1l-2-1l-2 1l-2-1l-2-1l-2 0l-2 0l-2 0l-2 0l-2 1l-2 0l-2 0l-2 0l-2 0l-2-1l-2 1l-2 0l-2-1l-2 1l-2 0l-2 0l-2 1l-2-1l-2 0l-2 0l-2 0l-2 0l-2 1l-2-1l-2 0l-2 0l-2 0l-2 0l-2 0l-2 0l-2 1l-2 0l-2 0l-2-2l-2 0l-2 0l-2 0l-2 0l-2 2l-2-1l-2 0l-2 1l-2 0l-2 0l-2-1l-2 0l-2 1l-2-1l-2 0l-2 0l-2 1l-2-1l-2 0l-2-1l-2 1l-2-1l-2 1l-2-1l-2 0l-2 1l-2 0l-2 0l-2 0l-2 1l-2 0l-2-1l-2 0l-2 1l-2-1l-2 0l-2 0l-2 0l-2-1l-2 1l-2 0l-2 0l-2 0l-2 0l-2 0l-2 0l-2 0l-2 0l-2-1l-2 1l-2 0l-2 1l-2-1l-2 0l-2 1l-2-1l-2 0l-2 0l-2 1l-2 0l-2-1l-2 1l-2-1l-2 0l-2 0l-2 0l-2 1l-2 0l-2-1l-2 0l-2 0l-2 0l-2 1l-2 0l-2 0l-2-1l-2 0l-2 1l-2-1l-2 0l-2 0l-2-1l-2 1l-2 0l-2 0l-2 0l-2 0l-2 0l-2 0l-2 1l-2-1l-2 0l-2 0l-2 0l-2 0l-2 0l-2-1l-2 0l-2 1l-2 0l-2 0l-2 0l-2 1l-2-1l-2 0l-2-1l-2 0l-2 0l-2 1l-2-1l-2 1l-2 0l-2 1l-2-1l-2 1l-2-1l-2 1l-2-1l-2 1l-2 0l-2-1l-2 1l-2-1l-2 0l-2 0l-2 0l-2 0l-2 0l-2 0l-2 0l-2 0l-2 0l-2 0l-2-1l-2 0l-2 1l-2 1l-2-1l-2 0l-2 0l-2 0l-2 1l-2 0l-2-1l-2 0l-2 0l-2 1l-2 0l-2 1l-2-1l-2 0l-2 0l-2 1l-2-1l-2 0l-2 0l-2-1l-2 0l-2-1l-2 1l-2-1l-2 0l-2 0l-2 1l-2-1l-2 1l-2 0l-2 1l-2 0l-2 1l-2-1l-2 0l-2-1l-2 0l-2 1l-2-1l-2-1l-2 0l-2 0l-2 0l-2 0l-2 1l-2 1l-2 0l-2 1l-2 0l-2-1l-2 0l-2 0l-2 1l-2-1l-2 0l-2-1l-2-1l-2 1l-2-1l-2 0l-2 0l-2 0l-2 0l-2 1l-2 1l-2 0l-2 0l-2 1l-2-1l-2 1l-2 0l-2-1l-2-1l-2 0l-2 0l-2 0l-2-1l-2 0l-2 1l-2-1l-2 0l-2 1l-2 0l-2 1l-2-1l-2 1l-2 1l-2-1l-2 0l-2-1l-2-1l-2 1l-2-1l-2 0l-2 0l-2 0l-2 1l-2-1l-2 1l-2 1l-2 0l-2 1l-2 0l-2-1l-2 0l-2 0l-2 0l-2-1l-2 0l-2-1l-2 1l-2-1l-2 1l-2-1l-2 0l-2 0l-2 1l-2 1l-2 1l-2-1l-2 1l-2-1l-2-1l-2-1l-2 0l-2 0l-2 0l-2 0l-2 1l-2-1l-2 1l-2-1z"/>
<path fill="#ff0000" fill-opacity="0.8" stroke="#ff0000" d="M223 912l2-1l2 2l2-1l2 1l2 1l2 0l2 0l2 0l2 0l2 0l2 0l2 0l2 0l2 0l2 0l2 0l2-1l2-1l2 0l2 0l2 0l2-1l2 1l2 0l2 0l2 1l2 1l2 0l2-1l2 1l2 0l2 0l2-1l2 1l2-1l2 0l2 0l2 0l2 0l2-1l2 0l2 0l2 1l2 0l2 0l2 0l2 1l2-1l2 1l2 0l2 0l2 0l2 0l2-1l2-1l2 1l2 0l2-1l2 1l2 1l2-1l2 0l2 0l2 0l2 0l2 0l2-1l2 1l2-1l2 1l2 0l2 0l2 0l2 0l2 0l2 0l2 1l2-4l2-1l2 5l2-1l2 0l2 0l2 0l2 0l2 0l2 0l2 0l2 0l2 0l2 1l2 0l2 0l2 0l2 0l2 0l2 0l2 0l2-1l2 1l2-1l2 0l2-1l2 0l2 0l2 1l2-1l2-1l2 1l2 0l2 0l2 0l2 1l2 1l2-1l2 1l2 0l2 0l2 0l2 0l2 0l2-1l2 1l2 0l2 0l2-1l2-1l2 0l2 0l2-1l2 0l2 2l2-1l2 1l2 0l2 0l2 1l2-1l2 0l2 0l2 0l2 1l2-1l2 0l2 0l2-1l2 0l2 1l2 0l2-1l2 1l2 0l2 0l2 0l2 0l2 0l2 1l2-1l2 0l2 0l2 0l2 0l2 0l2 0l2 0l2 0l2 0l2 0l2 0l2 0l2 1l2-1l2 0l2 0l2 0l2 0l2-1l2 1l2-1l2 1l2 0l2 0l2 1l2 0l2 0l2 0l2-1l2 1l2 0l2 0l2 0l2 0l2-1l2 0l2 1l2-1l2 0l2 0l2 0l2 0l2 0l2 0l2 0l2 0l2 0l2 0l2 0l2 0l2 0l2 0l2 0l2 0l2 1l2-1l2 0l2 0l2 0l2 0l2 0l2 0l2 0l2 0l2 0l2 0l2 0l2 0l2 0l2 0l2 0l2 0l2 0l2 0l2 0l2 0l2 0l2 0l2 0l2 0l2-1l2 0l2 0l2-1l2 1l2 0l2-1l2 1l2 0l2 0l2 0l2 1l2 0l2 0l2 1l2 0l2 0l2 0l2 0l2 0l2-1l2 1l2 0l2-1l2 0l2-1l2 0l2 0l2 1l2-2l2 1l2 0l2 0l2 1l2 0l2 0l2 1l2 0l2 0l2-1l2 0l2 1l2 0l2 0l2 0l2-1l2-1l2 0l2 0l2 0l2 0l2 1l2 0l2-1l2 1l2 0l2 0l2 0l2 0l2 1l2-1l2 0l2 1l2 0l2-1l2 0l2 0l2 0l2 0l2-1l2 1l2 0l2 0l2 0l2 0l2 0l2 0l2-1l2 0l2 1l2 0l2 0l2 0l2 1l2-1l2 0l2 0l2 0l2-1l2 0l2 0l2 0l2 1l2-1l2 0l2 0l2 0l2 1l2 1l2 0l2-1l2 1l2-1l2 0l2 1l2-1l2 1l2-1l2 0l2 0l2-1l2 1l2-1l2 0l2 0l2 0l2 0l2 0l2 1l2 1l2 0l2 0l2 0l2 0l2 0l2 0l2-1l2 1l2-1l2 1l2-1l2-1l2 0l2 0l2 0l2-1l2 1l2 0l2 0l2 0l2 1l2 1l2 0l2 0l2-1l2 1l2 0l2 0l2 0l2 0l2-1l2-1l2 1l2 0l2 0l2-1l2 0l2 1l2 0l2 0l2 1l2 0l2 0l2 0l2 0l2 0l2-1l2 1l2 0l2-1l2 1l2-1l2 1l2-1l2 0l2 0l2 0l2 0l2-1l2 1l2-1l2 0l2 1l2 0l2-1l2 1l2 1l2-1l2 1l2-1l2 1l2 0l2-1l2 0l2 0l2 0l2 0l2-1l2 1l2-1l2 0l2 0l2 1l2-1l2 0l2 0l2 1l2 0l2 1l2 0l2-1l2 1l2-1l2 1l2 0l2-1l2 0l2 1l2 0l2-1l2 0l2 0l2-2l2 2l2-6l2 6l2-6l2 6l2-5l2 0l2 5l2 0l2-7l2 4l2-8l2 9l2-5l2 2l2 5l2-8l2 6l2-4l2 6l2-1l2-5l2 5l2-10l2 11l2-3l2-3l2 6l2 0l2 1l2 0l2 0l2-1l2 0l2 1l2-1l2 1l2 0l2-2l2 1l2 0l2 0l2-1l2 1l2 0l2 0l2 0l2 0l2 0l2 0l2-1l2 1l2 0l2 1l2-1l2 0l2 1l2 0l2-1l2 1l2-1l2 1l2-2l2 0l2 0l2 0l2 0l2 0l2 1l2-1l2 1l2 0l2 0l2 0l2-1l2 2l2-1l2-1l2 1l2 0l2 0l2 0l2 0l2 0l2 0l2 0l2 0l2 0l2-1l2 1l2-1l2 0l2 0l2 0l2 1l2 0l2 1l2 0l2-1l2 0l2 1l2 0l2 0l2 0l2 0l2-1l2 0l2 0l2-1l2-1l2 2l2-1l2 1l2-2l2 0l2 0l2 2l2 0l2-1l2 1l2 0l2 0l2 0l2 1l2-1l2 0l2 0l2 0l2 0l2 1l2-1l2 0l2-1l2 1l2 0l2 0l2 0l2 0l2 0l2 0l2 0l2 0l2 0l2 0l2 1l2-1l2 0l2 0l2 0l2 0l2-1l2 0l2 1l2 0l2-1l2 1l2 0l2 0l2 0l2 0l2 0l2 0l2 1l2 0l2 0l2 0l2-1l2 1l2 0l2 0l2-1l2 0l2 0l2 0l2-1l2 0l2 1l2-1l2 1l2-1l2 1l2-1l2 1l2 0l2 1l2 0l2 0l2 0l2 0l2 0l2-1l2 1l2-1l2 0l2 0l2-5l2 3l2-6l2 8l2 0l2-1l2 0l2 0l2 0l2-1l2 0l2 0l2-3l2-7l2 9l2-5l2 5l2 2l2-2l2 3l2 0l2 0l2-1l2 0l2 0l2 0l2 1l2 1l2-1l2 0l2 0l2 0l2 0l2 0l2 0l2 0l2 0l2-1l2 1l2 0l2 0l2 1l2-1l2 1l2-1l2 0l2 0l2-1l2 0l2-1l0 10l-2-1l-2-1l-2 1l-2 0l-2-1l-2 1l-2-1l-2 0l-2 0l-2 0l-2 1l-2-1l-2 0l-2 0l-2 0l-2 0l-2 0l-2 0l-2 0l-2 0l-2 0l-2 0l-2 1l-2-1l-2 1l-2-1l-2 1l-2-1l-2 0l-2 0l-2 2l-2 3l-2 2l-2 2l-2 0l-2 3l-2-2l-2-10l-2 1l-2 1l-2-1l-2 1l-2 0l-2 2l-2 2l-2-2l-2 5l-2-2l-2-2l-2-4l-2-1l-2-1l-2 0l-2 1l-2-1l-2 0l-2 0l-2 0l-2 0l-2 1l-2 0l-2 0l-2 0l-2 0l-2 0l-2 1l-2-1l-2 0l-2 1l-2-1l-2 1l-2-1l-2 0l-2 0l-2 0l-2-1l-2 1l-2-1l-2 1l-2-1l-2 1l-2 0l-2 0l-2 0l-2 0l-2 0l-2 0l-2 0l-2 1l-2 0l-2-1l-2 0l-2 0l-2 0l-2 1l-2 0l-2 0l-2-1l-2 0l-2 0l-2 0l-2 0l-2 0l-2 0l-2 0l-2 1l-2-1l-2 0l-2 0l-2 1l-2-1l-2 0l-2 0l-2 0l-2 0l-2-1l-2 1l-2-1l-2 0l-2 0l-2 1l-2 0l-2 0l-2 0l-2 0l-2 1l-2 0l-2-1l-2 1l-2 1l-2-1l-2 0l-2 0l-2 0l-2 0l-2 1l-2-2l-2 1l-2-1l-2-1l-2 0l-2 1l-2 0l-2-1l-2 0l-2 1l-2-1l-2 1l-2 1l-2 0l-2 0l-2-1l-2 1l-2-1l-2 1l-2 0l-2 0l-2 0l-2 0l-2 0l-2-1l-2 1l-2-1l-2 0l-2 0l-2 0l-2 0l-2 0l-2 0l-2 0l-2 0l-2 1l-2 0l-2 0l-2 0l-2 0l-2 0l-2 0l-2-1l-2 1l-2 0l-2-1l-2 0l-2 0l-2 0l-2 0l-2-1l-2 1l-2 0l-2 0l-2 0l-2 0l-2 1l-2 0l-2-1l-2 1l-2-1l-2 0l-2 0l-2 0l-2 1l-2-1l-2 1l-2-1l-2 1l-2 0l-2-1l-2-1l-2 1l-2-1l-2 0l-2 1l-2-1l-2 1l-2 0l-2 0l-2 0l-2 0l-2 7l-2-3l-2 7l-2-1l-2-4l-2-5l-2 0l-2 5l-2 2l-2 1l-2-6l-2-2l-2-1l-2 7l-2 4l-2-2l-2-3l-2-6l-2 0l-2 0l-2 1l-2 1l-2 4l-2 0l-2-6l-2 4l-2-2l-2-2l-2 0l-2-1l-2 1l-2-1l-2 1l-2-1l-2 0l-2 1l-2 0l-2-1l-2 1l-2 0l-2 0l-2-1l-2 1l-2 0l-2 1l-2 0l-2 0l-2 0l-2 0l-2 0l-2 0l-2 0l-2 0l-2 0l-2-1l-2 0l-2 0l-2 0l-2 0l-2-1l-2 0l-2 1l-2 0l-2 1l-2 0l-2 0l-2 1l-2-1l-2 0l-2 1l-2-1l-2-1l-2 0l-2 1l-2-1l-2 0l-2 0l-2 0l-2 0l-2 0l-2 0l-2-1l-2 1l-2 0l-2-1l-2 1l-2-1l-2 0l-2 1l-2-1l-2 1l-2 0l-2 0l-2 1l-2 0l-2 0l-2 0l-2 0l-2 0l-2-1l-2 0l-2-1l-2 1l-2 0l-2 0l-2-1l-2 0l-2 1l-2-1l-2 1l-2 1l-2 1l-2-1l-2 0l-2 1l-2 0l-2-1l-2 0l-2-1l-2 0l-2-1l-2 0l-2 0l-2 0l-2 1l-2 0l-2 0l-2-1l-2 0l-2 1l-2 0l-2 0l-2 1l-2 0l-2-1l-2 1l-2 0l-2-1l-2 0l-2 1l-2-1l-2 0l-2 0l-2-1l-2 1l-2 0l-2 0l-2 0l-2 0l-2 0l-2-1l-2 1l-2 0l-2 0l-2 1l-2 1l-2 0l-2-1l-2 0l-2 0l-2 0l-2-1l-2 0l-2 0l-2 0l-2-1l-2 1l-2 0l-2 0l-2 0l-2 1l-2-1l-2 0l-2 1l-2 0l-2 0l-2 0l-2 0l-2 0l-2-1l-2 0l-2 0l-2 1l-2-1l-2 0l-2-1l-2 1l-2 0l-2 0l-2-1l-2 0l-2 1l-2 0l-2 0l-2 1l-2-1l-2 0l-2 1l-2 0l-2 0l-2 0l-2 1l-2-1l-2 0l-2-1l-2-1l-2 1l-2-1l-2 0l-2 1l-2-1l-2 0l-2 0l-2 1l-2 1l-2 0l-2 0l-2-1l-2 1l-2 0l-2 0l-2 0l-2 0l-2 0l-2 0l-2-1l-2 0l-2-1l-2 1l-2-1l-2 1l-2-1l-2 1l-2 0l-2-1l-2 1l-2 0l-2 0l-2 1l-2-1l-2 1l-2 1l-2-1l-2 0l-2 0l-2 0l-2 0l-2 0l-2-1l-2 0l-2 1l-2 0l-2-1l-2 0l-2 0l-2 1l-2-1l-2 0l-2 0l-2 0l-2 0l-2 0l-2 0l-2 1l-2 0l-2-1l-2 1l-2 0l-2-1l-2 0l-2 0l-2 0l-2 0l-2-1l-2 0l-2 1l-2 0l-2 0l-2 0l-2 0l-2 0l-2-1l-2 1l-2 0l-2 0l-2 0l-2 0l-2 0l-2 1l-2-1l-2 0l-2 1l-2-1l-2 1l-2 0l-2-1l-2 0l-2-1l-2 1l-2-1l-2 1l-2 0l-2-1l-2 1l-2 0l-2-1l-2 1l-2 0l-2 0l-2 0l-2 1l-2-1l-2 1l-2-1l-2-1l-2 1l-2 0l-2 0l-2 0l-2 0l-2-1l-2 0l-2 1l-2 0l-2 0l-2 0l-2 0l-2 0l-2 1l-2-1l-2 0l-2 0l-2 0l-2 0l-2 0l-2 0l-2 0l-2 1l-2-1l-2 0l-2 1l-2-1l-2 0l-2 1l-2-1l-2 0l-2-1l-2 1l-2 0l-2 0l-2 0l-2 0l-2 1l-2-1l-2 1l-2 0l-2 0l-2 0l-2 0l-2-1l-2 1l-2-1l-2 0l-2-1l-2 0l-2 0l-2 0l-2 0l-2 0l-2 0l-2 1l-2 0l-2 0l-2 0l-2 0l-2 0l-2 1l-2 0l-2 0l-2 1l-2-1l-2 1l-2-1l-2 0l-2-1l-2 0l-2 0l-2 0l-2-1l-2 0l-2 0l-2 1l-2-1l-2 1l-2-1l-2 0l-2 1l-2 0l-2 0l-2 0l-2 0l-2 1l-2-1l-2 1l-2-1l-2 0l-2 0l-2 1l-2 3l-2-3l-2-2l-2 0l-2 1l-2-1l-2 1l-2 0l-2 0l-2 1l-2-1l-2 1l-2 0l-2-1l-2 0l-2 0l-2-1l-2 1l-2 0l-2 0l-2 0l-2 1l-2 0l-2-1l-2 0l-2 0l-2 0l-2 0l-2-1l-2 1l-2 0l-2-1l-2 1l-2 0l-2 1l-2 0l-2-1l-2 2l-2-1l-2 0l-2-1l-2 0l-2 0l-2 1l-2-1l-2 0l-2 0l-2 0l-2-1l-2 0l-2 0l-2 0l-2 1l-2 0l-2 1l-2 0l-2 1l-2-1l-2 1l-2-1l-2 0l-2 0l-2-2l-2 1l-2-1l-2 0l-2 0l-2 0l-2 1l-2-1l-2 0l-2 0l-2 0l-2 1l-2-1l-2 1l-2 0l-2 1l-2 1l-2-1z"/>
<path fill="#0000ff" fill-opacity="0.8" stroke="#0000ff" d="M223 936l2 1l2 1l2 0l2 0l2 0l2 0l2 0l2 0l2-1l2 1l2-1l2 0l2 0l2 0l2 0l2-1l2 0l2 1l2 0l2 0l2 1l2 0l2 0l2 0l2-1l2 0l2 0l2 0l2 0l2 0l2 0l2 0l2 0l2 0l2 0l2 0l2 0l2 1l2 0l2-1l2 0l2 0l2 1l2 0l2-1l2 0l2 0l2 0l2 0l2 0l2 0l2 0l2 0l2 1l2 0l2 0l2-1l2 1l2 0l2 0l2 0l2 0l2 0l2 0l2 0l2 0l2-1l2 0l2 0l2 1l2 0l2-1l2 1l2-1l2 0l2 0l2 0l2 0l2 1l2 0l2 0l2-1l2 0l2 0l2 0l2 1l2 0l2 1l2-1l2 0l2 0l2 0l2 0l2 0l2 0l2-1l2 0l2 0l2 0l2 0l2 0l2-1l2 1l2-1l2 1l2 0l2 0l2 0l2 0l2 1l2 0l2 0l2 0l2 0l2-1l2 1l2 0l2 0l2 0l2-2l2 1l2-8l2 4l2 5l2 0l2-1l2 0l2 0l2 0l2 1l2-1l2 1l2 0l2-1l2 0l2 0l2 0l2 1l2 0l2-1l2 1l2 0l2 1l2-1l2 1l2-1l2 1l2-1l2 0l2-1l2 0l2 1l2-2l2 1l2-1l2 1l2 1l2-1l2-2l2 1l2 3l2-1l2 0l2 0l2 0l2 0l2 0l2-1l2 0l2-1l2 1l2-5l2 3l2-6l2 9l2-8l2 8l2 0l2 0l2 0l2-1l2 1l2-1l2 1l2-1l2 1l2-2l2 1l2 0l2 0l2 0l2 0l2 0l2 0l2 0l2 0l2 0l2 1l2 0l2-1l2 0l2 1l2 0l2-1l2 1l2-1l2 0l2 0l2 0l2 0l2-1l2 2l2-1l2 1l2 0l2 0l2 0l2 0l2 0l2-1l2 1l2-1l2 0l2-1l2 0l2 1l2 0l2 0l2 0l2 0l2 1l2 0l2 0l2 0l2 0l2 0l2-1l2 1l2-1l2 0l2 0l2 0l2 0l2 1l2-1l2 0l2 1l2 0l2-1l2 1l2 0l2-1l2 1l2 0l2 0l2-1l2 1l2 0l2 0l2-1l2 0l2 0l2 0l2 0l2 1l2-1l2 1l2 0l2 0l2-1l2 0l2 0l2 0l2 0l2 0l2 0l2 1l2-1l2 1l2 0l2 0l2 0l2 0l2 0l2 0l2 0l2 0l2 0l2-1l2 0l2 0l2 0l2 1l2-1l2 0l2 0l2 0l2 0l2 1l2-1l2 1l2 0l2-1l2-1l2 1l2 0l2 0l2-1l2 1l2-1l2 0l2 0l2 1l2 0l2 0l2 1l2 0l2 1l2-1l2 0l2-1l2 1l2 0l2-1l2 0l2 0l2 0l2 0l2 0l2 1l2 0l2 0l2 0l2-1l2 1l2-1l2 0l2 1l2-1l2 1l2 0l2-1l2 1l2-1l2 0l2 0l2 1l2 0l2 0l2 0l2-1l2 1l2 0l2 0l2 0l2 0l2 0l2 0l2 0l2 0l2 0l2 0l2 0l2-1l2 1l2-1l2 0l2 0l2 1l2 0l2 0l2 0l2 0l2 0l2 0l2 0l2-1l2 0l2 0l2 0l2 0l2 0l2 0l2 0l2 0l2 0l2 0l2 0l2 0l2 0l2 1l2-1l2 0l2 0l2 0l2 0l2-1l2 1l2 0l2 0l2 0l2-1l2 0l2 1l2 1l2 0l2-1l2 0l2 1l2-1l2 1l2 0l2-1l2 1l2-1l2 1l2 0l2 0l2 0l2-1l2 1l2 0l2 0l2 0l2 0l2 0l2 0l2 0l2-1l2 0l2-1l2 0l2 0l2 0l2 1l2 0l2 0l2 0l2 0l2 0l2 0l2 0l2 0l2 0l2-1l2 1l2-1l2 1l2 0l2 0l2 0l2 0l2-1l2 1l2 0l2 0l2 0l2 0l2 1l2-1l2 0l2 0l2 0l2 0l2 0l2-1l2 0l2 1l2 0l2 0l2 1l2 0l2 0l2 0l2 0l2 0l2 0l2 0l2-2l2 0l2 0l2 0l2 1l2 0l2 0l2 0l2 1l2 0l2 0l2 0l2-1l2 1l2-1l2 1l2-1l2 0l2 0l2 0l2 0l2 0l2 0l2-1l2 1l2 0l2-1l2 1l2 0l2 0l2 0l2 0l2 1l2 0l2-1l2 0l2 0l2 0l2 1l2-1l2 0l2 0l2 0l2 0l2-1l2 1l2 0l2 1l2 0l2-1l2 1l2-1l2 1l2-1l2 0l2 0l2 0l2 0l2 0l2 0l2 0l2 0l2 1l2-1l2 0l2 1l2-1l2 1l2-1l2 0l2 1l2-1l2 0l2-1l2 1l2 0l2 0l2 1l2-1l2 0l2 1l2 0l2 0l2 0l2 0l2 0l2 0l2 0l2 0l2-1l2 0l2 0l2-1l2 0l2 0l2 1l2 0l2-1l2 1l2 1l2-1l2 0l2 1l2 0l2-1l2 0l2 1l2-1l2 1l2 0l2 0l2 0l2 0l2 0l2-1l2 1l2-1l2 1l2 0l2 0l2 0l2 0l2 0l2 0l2-1l2 1l2-1l2 0l2 0l2 0l2 1l2-1l2 1l2-1l2 0l2 0l2 0l2 0l2 0l2 0l2 0l2 0l2 0l2 1l2-1l2 0l2 0l2 0l2 0l2 0l2 0l2 1l2-1l2 1l2-1l2 1l2-1l2 0l2 0l2 0l2 0l2 0l2 0l2-1l2 0l2 1l2 0l2-1l2 0l2 1l2 0l2 0l2 1l2-1l2-3l2 4l2 0l2-1l2 0l2 0l2-1l2 1l2 0l2-1l2 0l2 0l2 1l2 0l2 1l2 0l2 0l2 0l2 0l2 0l2 0l2 0l2 0l2-1l2 0l2 1l2-1l2 0l2 0l2 1l2-1l2 1l2 0l2 0l2 0l2 0l2 0l2 0l2 0l2 0l2-1l2 0l2 0l2-1l2 1l2 0l2 0l2-1l2 2l2-1l2 0l2 1l2 0l2 0l0 4l-2 1l-2 0l-2 0l-2 1l-2 0l-2 1l-2-1l-2 0l-2 1l-2-1l-2 0l-2-1l-2 0l-2 0l-2 0l-2 0l-2 0l-2 0l-2 0l-2 0l-2 0l-2-1l-2 1l-2 0l-2 0l-2 0l-2 0l-2 0l-2 0l-2 0l-2 0l-2 0l-2-1l-2 0l-2 1l-2-1l-2 1l-2 0l-2 0l-2 1l-2 0l-2-1l-2 1l-2 0l-2 1l-2 0l-2 0l-2-1l-2-1l-2 0l-2 1l-2 3l-2 0l-2-3l-2-1l-2 0l-2 1l-2 0l-2 0l-2 1l-2-1l-2 0l-2 0l-2 0l-2 0l-2 0l-2 0l-2 0l-2 0l-2-1l-2 0l-2 0l-2 1l-2 0l-2 0l-2-1l-2 0l-2 0l-2 0l-2 1l-2 0l-2-1l-2 1l-2 0l-2 0l-2 0l-2 0l-2 0l-2 0l-2 0l-2-1l-2 1l-2-1l-2 0l-2 0l-2 0l-2 0l-2 1l-2-1l-2 1l-2 0l-2 0l-2-1l-2 0l-2 0l-2 1l-2-1l-2 0l-2 0l-2 0l-2 0l-2 1l-2 0l-2-1l-2 1l-2-1l-2 0l-2 0l-2 0l-2 0l-2 0l-2 0l-2 1l-2-1l-2 0l-2 0l-2 0l-2 0l-2 1l-2 0l-2 1l-2 0l-2 0l-2-1l-2 0l-2-1l-2 1l-2-1l-2 0l-2 0l-2 0l-2 0l-2 0l-2 0l-2-1l-2 1l-2 0l-2 0l-2 1l-2 0l-2 0l-2 0l-2 1l-2-1l-2 0l-2-1l-2 1l-2-1l-2 0l-2 0l-2 0l-2 0l-2 1l-2-1l-2 1l-2 0l-2 0l-2 0l-2 0l-2 0l-2-1l-2 0l-2 0l-2 1l-2 0l-2-1l-2 0l-2 1l-2-1l-2 1l-2 0l-2-1l-2 0l-2 1l-2 0l-2 0l-2 0l-2-1l-2 0l-2 0l-2 0l-2 0l-2 0l-2 1l-2-1l-2 0l-2 1l-2 0l-2 0l-2 0l-2 0l-2 0l-2 0l-2 0l-2 0l-2 0l-2 0l-2 0l-2 0l-2-1l-2 0l-2 1l-2-1l-2 0l-2 1l-2 0l-2-1l-2 0l-2 1l-2 0l-2 0l-2 1l-2 0l-2-1l-2 1l-2-1l-2 0l-2 0l-2-1l-2-1l-2 0l-2 1l-2 0l-2 0l-2 0l-2 0l-2 1l-2 0l-2 0l-2 0l-2 0l-2 1l-2-1l-2-1l-2 1l-2-1l-2 0l-2 1l-2-1l-2 1l-2-1l-2 1l-2 0l-2 0l-2 1l-2-1l-2 1l-2 0l-2-1l-2-1l-2 2l-2-1l-2-1l-2 1l-2-1l-2 0l-2 0l-2 0l-2 1l-2 0l-2 0l-2 0l-2 1l-2-1l-2 0l-2 0l-2 0l-2-1l-2 0l-2 1l-2-1l-2 0l-2 0l-2 0l-2 0l-2 0l-2 0l-2 0l-2 0l-2 0l-2 0l-2 0l-2 1l-2-1l-2 1l-2-1l-2 1l-2-1l-2 0l-2 0l-2 1l-2 0l-2 0l-2 1l-2-1l-2 0l-2 0l-2 1l-2-1l-2 0l-2 0l-2 0l-2-1l-2 1l-2-1l-2 0l-2 1l-2-1l-2 0l-2 0l-2 1l-2-1l-2 0l-2 1l-2 0l-2-1l-2 1l-2-1l-2 1l-2-1l-2 0l-2 0l-2 0l-2 0l-2 0l-2 0l-2 0l-2 0l-2 0l-2 1l-2 0l-2-1l-2 0l-2-1l-2 1l-2 0l-2 0l-2 0l-2 0l-2 0l-2 0l-2 0l-2 0l-2 1l-2 0l-2 0l-2 0l-2 0l-2-1l-2 0l-2 1l-2-1l-2 0l-2 1l-2 0l-2-1l-2 1l-2-1l-2 1l-2 0l-2 0l-2-1l-2 0l-2 0l-2 0l-2 0l-2 1l-2-1l-2 0l-2 1l-2-1l-2 1l-2 0l-2 0l-2-1l-2 0l-2-1l-2 0l-2 1l-2 0l-2 0l-2 0l-2 1l-2 1l-2 0l-2 0l-2 0l-2-1l-2 1l-2-1l-2-1l-2 1l-2-1l-2 1l-2-1l-2 0l-2 0l-2 0l-2 0l-2 0l-2 0l-2 0l-2 0l-2 0l-2 0l-2 0l-2 0l-2 1l-2-1l-2 0l-2 0l-2 0l-2 0l-2 0l-2 0l-2 1l-2 0l-2 0l-2 0l-2 0l-2 0l-2 0l-2 0l-2-1l-2 0l-2 0l-2 0l-2 0l-2 0l-2 0l-2 0l-2 0l-2 1l-2-1l-2 1l-2-1l-2 0l-2 1l-2 0l-2 0l-2-1l-2 0l-2 0l-2 0l-2 0l-2 1l-2 0l-2 0l-2 0l-2 0l-2 0l-2 0l-2 0l-2 0l-2-1l-2 1l-2-1l-2 0l-2 0l-2 0l-2 0l-2 0l-2-1l-2 1l-2-1l-2 1l-2 1l-2 0l-2 0l-2 0l-2 1l-2-1l-2 0l-2 0l-2 0l-2-1l-2 0l-2 0l-2-1l-2 1l-2 0l-2 0l-2 0l-2 1l-2 0l-2 0l-2 0l-2 0l-2-1l-2 1l-2-1l-2 0l-2 1l-2-1l-2 0l-2 0l-2 1l-2 0l-2-1l-2 1l-2 0l-2 0l-2 0l-2 0l-2 0l-2 0l-2 0l-2 1l-2-1l-2 0l-2 0l-2-1l-2 0l-2 0l-2 0l-2 0l-2 0l-2 0l-2 0l-2 7l-2-5l-2 7l-2-3l-2-1l-2-3l-2-1l-2 0l-2 0l-2 0l-2 0l-2-1l-2 0l-2 0l-2 0l-2 0l-2 0l-2 3l-2-2l-2-1l-2 1l-2 0l-2 0l-2-1l-2 1l-2 0l-2 0l-2 0l-2-1l-2 0l-2 0l-2 0l-2 0l-2-1l-2 1l-2 0l-2 0l-2 0l-2 0l-2 1l-2 0l-2-1l-2 0l-2 1l-2 0l-2-1l-2 0l-2 1l-2-1l-2 0l-2 0l-2 0l-2 0l-2 0l-2 9l-2-7l-2-2l-2 0l-2 0l-2 0l-2 0l-2 0l-2 0l-2 0l-2 0l-2 1l-2 0l-2 0l-2-1l-2 1l-2 0l-2-1l-2 2l-2 0l-2-1l-2 0l-2 0l-2 0l-2 0l-2 0l-2-1l-2 0l-2 0l-2 0l-2 0l-2 0l-2 0l-2 0l-2 0l-2 0l-2 0l-2 0l-2 0l-2 1l-2-1l-2 0l-2 1l-2-1l-2 0l-2 0l-2 0l-2 1l-2-1l-2 1l-2 0l-2-1l-2 0l-2 0l-2 0l-2 0l-2 0l-2 0l-2 0l-2 0l-2 0l-2 1l-2 0l-2 0l-2-1l-2 0l-2 0l-2 0l-2 0l-2 0l-2 0l-2 1l-2 0l-2 0l-2-1l-2 1l-2-1l-2 0l-2 0l-2 0l-2 0l-2 0l-2 0l-2 0l-2 0l-2 0l-2 1l-2 0l-2 0l-2-1l-2 0l-2 1l-2 0l-2 1l-2-2l-2 0l-2 0l-2 0l-2 0l-2 0l-2 0l-2 1l-2 0l-2 0l-2 1l-2 0l-2 0l-2-1l-2 0l-2 0l-2 0l-2-1l-2 0l-2 1l-2-1l-2-1l-2 1l-2-1l-2 1l-2 0l-2 1l-2-1l-2 1z"/>
<path fill="#ff0000" fill-opacity="0.8" stroke="#ff0000" d="M223 963l2-1l2 0l2 0l2 1l2 0l2-1l2 0l2 0l2 0l2 0l2 0l2 0l2 1l2 0l2-1l2 0l2 0l2-1l2 0l2 1l2-1l2 1l2 0l2-1l2 1l2 0l2 0l2 0l2 0l2 0l2 0l2 0l2 0l2-1l2 1l2 0l2-1l2 1l2-1l2 0l2 0l2 0l2 1l2 0l2 0l2 0l2 0l2 0l2 0l2 0l2 0l2 0l2 0l2 0l2 0l2-1l2 1l2 0l2 0l2 1l2-1l2 0l2 0l2 0l2 0l2 0l2 0l2 0l2 0l2-1l2 1l2 0l2 0l2 0l2 0l2 0l2 0l2 0l2 0l2 1l2-2l2 0l2 0l2 0l2 0l2-1l2 0l2 1l2 0l2-1l2 0l2 1l2 0l2 0l2 0l2 1l2 1l2-1l2 1l2-1l2 1l2-1l2-1l2 1l2-1l2 1l2-1l2 0l2 0l2 0l2 1l2-1l2 1l2 0l2 1l2 0l2 0l2 0l2 0l2-1l2 0l2 0l2 0l2-1l2 1l2-1l2 1l2 0l2 0l2 0l2 0l2 0l2 0l2 0l2 0l2 0l2 0l2 0l2 1l2 0l2 0l2 0l2 0l2-1l2 1l2-1l2 0l2 0l2 0l2 0l2 0l2-1l2 1l2-1l2 0l2 1l2 0l2-1l2 1l2 0l2 0l2 0l2 0l2 0l2 0l2 0l2 0l2 0l2-1l2 1l2 0l2 0l2-1l2 1l2-1l2 0l2 1l2 0l2 0l2 0l2 0l2 0l2-1l2 0l2 1l2-1l2 0l2 1l2-1l2 1l2 0l2 0l2-1l2 1l2 0l2-1l2 1l2 0l2 0l2 0l2 0l2 0l2 0l2 0l2-1l2 1l2 0l2 0l2 0l2 0l2 0l2 0l2-1l2 1l2-1l2 0l2 1l2-1l2 1l2-1l2 1l2 0l2 0l2 0l2 0l2 0l2 1l2-1l2 0l2 0l2-1l2 0l2 0l2-1l2 1l2 0l2-1l2 0l2 0l2 0l2 1l2 0l2 1l2 1l2-1l2 0l2 0l2 0l2 0l2 1l2-1l2 0l2-1l2 0l2 0l2 0l2-1l2 0l2 1l2 0l2-1l2 1l2 0l2 0l2 1l2 0l2 0l2 0l2 0l2 1l2-1l2 0l2 0l2 0l2 0l2-1l2 0l2 0l2 0l2-1l2 1l2 0l2 0l2 0l2 1l2 1l2 0l2-1l2 1l2 0l2-1l2 1l2-1l2-1l2 1l2 0l2 0l2-2l2 1l2 0l2 0l2 0l2 0l2 0l2 0l2 0l2 1l2 0l2 0l2 1l2 0l2 0l2-1l2 1l2-1l2 0l2 0l2 1l2-1l2-1l2 0l2-1l2 1l2 0l2 0l2-1l2 2l2 0l2 0l2 1l2 0l2-1l2 0l2 0l2 0l2 0l2-1l2 0l2 0l2 0l2 0l2 0l2 1l2-1l2 1l2 0l2 0l2-1l2 0l2 0l2-8l2 9l2-6l2 1l2 5l2 1l2 0l2-1l2 0l2-4l2-2l2 5l2-1l2 0l2 1l2 0l2 0l2-1l2 1l2-1l2 1l2 1l2 0l2 0l2 0l2 1l2-1l2 1l2 0l2 0l2-1l2 0l2 0l2 0l2-1l2 0l2 0l2-1l2 1l2-1l2 1l2-1l2 1l2 0l2 0l2 0l2 1l2-3l2 2l2 1l2 0l2 0l2 1l2-1l2 0l2 0l2 0l2 0l2 0l2 0l2-1l2 1l2 0l2 0l2 0l2-1l2 1l2 0l2 0l2 0l2 0l2-4l2-3l2-2l2 7l2 3l2 0l2-1l2 0l2 0l2 0l2-1l2-1l2 0l2 0l2 1l2-1l2 0l2 1l2 0l2 1l2 0l2 1l2 0l2 0l2 0l2 0l2-1l2 0l2 1l2-1l2 0l2 0l2 0l2 0l2-1l2 0l2 0l2 0l2 0l2 1l2 0l2 0l2 0l2-1l2 0l2 1l2-1l2 0l2 1l2-1l2 1l2 0l2 0l2-1l2 1l2-2l2 1l2-1l2 0l2 0l2 0l2 0l2 1l2-1l2 1l2 1l2 1l2 0l2 0l2-1l2 0l2 1l2 0l2 0l2-1l2-1l2-1l2 0l2 0l2 1l2 0l2 0l2 0l2-1l2 1l2 0l2 2l2-1l2 0l2 0l2 0l2 0l2 0l2 0l2 0l2 0l2 0l2-1l2 0l2 0l2 0l2 1l2-1l2-1l2 1l2 0l2 1l2-1l2 1l2 1l2-1l2 1l2 0l2-1l2 0l2 1l2 0l2-1l2 0l2-1l2 0l2-1l2 1l2 0l2 0l2 0l2 0l2 0l2 0l2 1l2 0l2 0l2 0l2 1l2-1l2 0l2 0l2 0l2 0l2 0l2 0l2-1l2 1l2-1l2 1l2-1l2 0l2-1l2 1l2 0l2 0l2 0l2 0l2 1l2 0l2 0l2 0l2 0l2 0l2 0l2 0l2 1l2 0l2-1l2 0l2 0l2 0l2 0l2 0l2 0l2 0l2 0l2-1l2 0l2 0l2 0l2 0l2 0l2 0l2 0l2 0l2 0l2 1l2-1l2 0l2 1l2 0l2 0l2 0l2-1l2 1l2-1l2 0l2 0l2 0l2-1l2 1l2 0l2 0l2 1l2 0l2 0l2 0l2 0l2 0l2 1l2 0l2 0l2-1l2 0l2-1l2 0l2 0l2 0l2 0l2 0l2 1l2-1l2 1l2 0l2 0l2 0l2 0l2 0l2 0l2 0l2 0l2 0l2 1l2-1l2 0l2 0l2 0l2 0l2-1l2 0l2 1l2 0l2-1l2 0l2 0l2 0l2 0l2 0l2 1l2 0l2 0l2 0l2-1l2 1l2 0l2 0l2 0l2 0l2 0l2 0l2 0l2 0l2 0l2-1l2 0l2-1l2 1l2 0l2 0l2 0l2 0l2 0l2 1l2 0l2 1l2 0l2 0l2-1l2-5l2-1l2-3l2 8l2-7l2 7l2 0l2 0l2 0l2 0l2-1l0 9l-2 0l-2-1l-2 0l-2 0l-2 0l-2 0l-2 2l-2 6l-2-2l-2-1l-2-6l-2 0l-2 0l-2 0l-2 0l-2 0l-2 1l-2 1l-2 0l-2 1l-2-1l-2 0l-2 0l-2 0l-2 0l-2-1l-2 0l-2-1l-2 1l-2-1l-2 0l-2 0l-2 0l-2 0l-2 1l-2-1l-2 1l-2-1l-2 1l-2 1l-2 0l-2-1l-2 0l-2 0l-2 0l-2 1l-2-1l-2-1l-2 1l-2 0l-2 0l-2 0l-2 0l-2-1l-2 0l-2 0l-2 1l-2 0l-2-1l-2 1l-2 0l-2 0l-2 0l-2-1l-2 1l-2 0l-2 0l-2 0l-2 0l-2 1l-2-1l-2 0l-2 0l-2 0l-2-1l-2 1l-2 0l-2 0l-2 0l-2-1l-2 1l-2-1l-2 1l-2 0l-2 0l-2 0l-2 0l-2 0l-2 1l-2-1l-2 1l-2-1l-2 0l-2 0l-2 0l-2 0l-2 0l-2 0l-2 0l-2 0l-2 0l-2 0l-2 1l-2-1l-2 0l-2 1l-2-1l-2 1l-2-1l-2 0l-2 0l-2 0l-2 0l-2 0l-2-1l-2 1l-2-1l-2 0l-2 0l-2 0l-2 0l-2 0l-2 0l-2 0l-2 1l-2-1l-2 1l-2 0l-2 0l-2 0l-2 0l-2 0l-2 0l-2 0l-2 0l-2 1l-2-1l-2 1l-2 0l-2 0l-2-1l-2 0l-2 0l-2 0l-2 0l-2-1l-2 1l-2-1l-2 0l-2 0l-2 0l-2 0l-2 1l-2-1l-2 1l-2 1l-2-1l-2 1l-2-1l-2 1l-2 0l-2 0l-2 0l-2 0l-2-1l-2 0l-2-1l-2 0l-2 0l-2 0l-2 0l-2 0l-2 0l-2 0l-2 0l-2 0l-2 1l-2 0l-2 0l-2 0l-2 0l-2 0l-2 0l-2 0l-2 0l-2 0l-2 0l-2-1l-2 0l-2 1l-2 0l-2 0l-2 0l-2-1l-2 0l-2 0l-2 0l-2 0l-2 1l-2 0l-2 1l-2 0l-2 0l-2 0l-2 0l-2 0l-2 0l-2-1l-2 0l-2 0l-2-1l-2 0l-2 0l-2 0l-2 0l-2 0l-2 0l-2 0l-2 1l-2 0l-2 1l-2 1l-2 0l-2-1l-2 1l-2-1l-2 0l-2-1l-2 1l-2-1l-2 0l-2-1l-2 1l-2 0l-2-1l-2 1l-2 0l-2 0l-2 0l-2-1l-2 0l-2 1l-2 0l-2 0l-2-1l-2 1l-2 0l-2 0l-2 0l-2 0l-2 0l-2 0l-2 0l-2 0l-2-1l-2 0l-2 0l-2 0l-2 0l-2 0l-2 0l-2 0l-2 0l-2 0l-2 1l-2 1l-2 0l-2 0l-2 0l-2 0l-2 0l-2 1l-2-1l-2 0l-2 0l-2-1l-2-1l-2 0l-2 0l-2 0l-2 7l-2 2l-2-7l-2 3l-2-5l-2 0l-2 1l-2-1l-2 1l-2-1l-2 1l-2 0l-2 0l-2-1l-2 1l-2 0l-2 0l-2 0l-2-1l-2 1l-2-1l-2 0l-2 0l-2 0l-2 0l-2 0l-2 3l-2 0l-2-2l-2 0l-2 0l-2 0l-2 1l-2 0l-2-1l-2 0l-2 1l-2 0l-2-1l-2 0l-2 0l-2 0l-2 0l-2-1l-2 0l-2 0l-2 0l-2 0l-2 0l-2 0l-2 1l-2 0l-2 0l-2 0l-2 0l-2 1l-2 0l-2 0l-2 1l-2-1l-2 1l-2-1l-2 1l-2-1l-2 5l-2-6l-2-1l-2 0l-2 0l-2 0l-2 0l-2 1l-2 1l-2 4l-2 3l-2-5l-2 1l-2-4l-2 1l-2-1l-2 0l-2 0l-2 0l-2 0l-2 0l-2 0l-2 0l-2-1l-2 0l-2 0l-2 1l-2-1l-2 0l-2 0l-2 0l-2 0l-2 0l-2 1l-2 0l-2 1l-2 0l-2 0l-2 1l-2-1l-2 0l-2-1l-2 0l-2 0l-2-1l-2 0l-2 0l-2 0l-2 0l-2 0l-2 0l-2 0l-2 0l-2 0l-2 1l-2 1l-2-1l-2 1l-2 0l-2 1l-2 0l-2-1l-2 0l-2-1l-2 0l-2 0l-2 0l-2-1l-2 0l-2 0l-2 0l-2 0l-2 0l-2 0l-2 0l-2 0l-2 0l-2 1l-2 0l-2 1l-2 1l-2-1l-2 0l-2-1l-2 0l-2 0l-2-1l-2 1l-2-1l-2 0l-2 0l-2 0l-2 0l-2 1l-2-1l-2 1l-2 0l-2 0l-2 0l-2 1l-2 0l-2 0l-2 1l-2-1l-2 0l-2 0l-2 0l-2-1l-2 0l-2-1l-2 0l-2 0l-2 0l-2 0l-2 0l-2 0l-2 0l-2 0l-2 1l-2 1l-2-1l-2 2l-2-2l-2 1l-2 0l-2 1l-2 0l-2-1l-2-1l-2 0l-2 0l-2 0l-2 0l-2-1l-2 0l-2 0l-2 0l-2 0l-2 0l-2 0l-2 1l-2-1l-2 1l-2 0l-2 1l-2-1l-2 0l-2 0l-2 0l-2 0l-2 0l-2-1l-2 1l-2 0l-2 0l-2 0l-2-1l-2 0l-2 0l-2 1l-2-1l-2 1l-2 0l-2-1l-2 1l-2 1l-2-1l-2 0l-2 0l-2 0l-2-1l-2 0l-2 1l-2-1l-2 1l-2 0l-2 0l-2 0l-2 1l-2-2l-2 0l-2 1l-2 0l-2-1l-2 1l-2-1l-2 0l-2 1l-2 0l-2 0l-2 0l-2-1l-2 1l-2 0l-2-1l-2 1l-2-1l-2 0l-2 0l-2 0l-2 1l-2-1l-2 0l-2 1l-2 0l-2 1l-2 0l-2-1l-2 1l-2-2l-2 1l-2 0l-2-1l-2 1l-2-1l-2 0l-2 0l-2 0l-2 0l-2 0l-2 0l-2 0l-2 0l-2 0l-2 0l-2 0l-2 0l-2 0l-2 0l-2 0l-2 1l-2 0l-2-1l-2 1l-2 0l-2-1l-2 0l-2 1l-2-1l-2 1l-2 0l-2 0l-2-1l-2 0l-2 0l-2 0l-2 0l-2 0l-2 1l-2 0l-2 0l-2 0l-2 0l-2 0l-2 0l-2 0l-2 0l-2 0l-2 0l-2-1l-2 0l-2 0l-2 0l-2 0l-2 0l-2 1l-2 0l-2 0l-2 1l-2 0l-2 0l-2 0l-2 0l-2-1l-2 2l-2-1l-2 0l-2-1l-2 0l-2 0l-2 0l-2-1l-2 0l-2 0l-2 0l-2 1l-2-1l-2 1l-2 0l-2 0l-2-1l-2 1l-2-1l-2 0l-2 1l-2 0l-2-1l-2 0l-2 0l-2 0l-2 0l-2 0l-2 1l-2-1l-2 1l-2 0l-2 0l-2-1l-2 0l-2 1l-2-1l-2 0l-2 0l-2 0l-2 0l-2 1l-2 0l-2-1l-2 0l-2 0l-2 1l-2 0l-2 0l-2 0l-2 0l-2 0l-2 0l-2 0l-2 0l-2 0l-2-1l-2 0l-2 1l-2-1l-2 1l-2-1l-2 1l-2 0l-2 0l-2-1l-2 1l-2 0l-2 0l-2 0l-2 0l-2 0l-2-1l-2 0l-2 0l-2 1l-2 0l-2 0l-2 0l-2 0l-2-1l-2 0l-2 0l-2 0l-2 0l-2 0l-2 0l-2 0z"/>
<path fill="#0000ff" fill-opacity="0.8" stroke="#0000ff" d="M223 986l2-1l2 1l2 0l2 1l2-1l2 1l2 0l2 0l2 0l2 0l2 0l2 0l2 0l2 0l2-1l2 0l2 0l2-1l2 0l2 0l2 1l2 0l2 1l2 0l2 0l2 0l2 0l2-1l2 0l2-1l2 1l2-1l2 0l2 0l2 0l2 0l2 0l2 1l2 0l2-1l2 1l2 1l2-1l2 1l2-1l2 0l2 0l2 0l2 0l2 0l2 0l2 0l2 1l2-1l2 0l2 0l2 0l2 0l2-2l2-1l2-6l2-2l2 10l2-6l2 6l2-1l2 0l2 0l2 2l2-1l2 1l2 1l2 0l2 0l2 0l2 0l2 0l2-1l2 0l2 0l2-1l2 0l2 0l2 0l2 0l2 0l2 0l2 1l2 0l2 1l2 0l2-1l2 1l2 0l2-1l2 0l2 0l2 0l2-1l2 0l2 0l2 1l2 0l2-1l2 0l2 1l2 0l2 1l2-1l2 1l2 0l2 0l2 0l2 0l2 0l2 0l2-2l2 0l2 1l2-1l2 1l2 0l2 0l2 0l2 0l2 0l2 0l2-3l2-3l2-3l2-2l2 12l2-3l2 2l2 0l2 0l2-1l2-1l2 1l2 0l2 1l2-2l2 1l2 0l2 1l2 1l2-1l2 0l2 0l2 0l2 1l2 0l2 0l2-1l2 0l2 0l2 0l2 0l2-1l2 1l2 0l2 1l2 0l2 0l2 0l2 0l2 0l2-1l2 0l2-1l2 1l2-1l2 1l2-1l2 0l2 1l2 0l2 0l2 0l2-1l2 2l2-1l2 0l2 1l2-1l2 0l2 0l2-1l2 0l2 1l2 0l2-1l2 1l2 0l2-1l2 0l2 0l2 1l2 0l2 0l2 0l2 0l2 0l2 0l2 0l2 0l2 0l2 0l2 0l2 0l2 0l2 0l2 1l2 0l2-1l2 1l2 0l2-1l2 1l2-1l2 0l2 0l2 0l2 0l2 0l2 0l2 0l2 0l2 0l2 0l2 0l2 0l2 1l2-1l2 1l2 0l2-1l2 0l2-1l2 1l2 0l2-1l2 1l2 0l2-1l2 0l2 1l2 0l2 1l2 0l2 0l2 0l2-1l2 0l2 0l2 0l2 0l2 0l2-1l2 0l2 1l2 0l2-1l2 2l2 0l2 0l2 0l2 0l2-1l2 1l2 0l2-1l2 0l2-1l2 0l2 1l2 0l2 0l2 0l2 0l2 1l2-1l2 1l2 0l2 0l2 0l2-1l2 1l2 0l2 0l2-1l2 0l2 0l2 0l2 0l2-1l2 0l2 1l2 0l2 0l2 1l2 0l2-1l2 0l2 0l2 0l2 0l2-1l2 0l2 0l2 1l2-1l2 1l2 0l2 1l2-1l2 0l2 1l2 0l2-1l2 1l2-1l2 0l2 1l2-1l2 0l2 0l2 0l2 0l2 0l2 0l2-1l2 1l2 0l2 0l2 0l2 1l2-1l2 1l2-1l2 1l2-1l2 0l2 0l2 0l2 0l2 0l2 0l2-1l2 1l2 0l2 1l2-1l2 1l2 0l2 0l2 0l2-1l2 0l2 0l2 0l2 0l2-1l2-1l2 1l2 0l2 0l2 0l2 1l2 1l2-1l2 1l2 0l2 0l2 0l2 0l2-1l2 0l2 0l2-1l2 1l2 0l2-1l2 1l2 0l2 0l2 0l2-1l2 1l2-1l2 0l2 0l2 1l2 0l2 0l2 0l2-1l2 1l2 0l2 0l2 0l2 0l2 0l2 0l2 0l2 1l2-1l2 0l2 0l2 1l2-1l2 0l2-1l2 1l2 0l2-1l2 0l2 0l2 1l2-1l2 1l2 0l2 0l2 0l2 0l2 0l2 0l2 0l2 0l2 0l2 0l2 0l2 0l2 0l2 0l2 0l2 0l2 0l2-1l2 1l2 0l2 0l2-1l2 0l2 1l2 0l2 0l2 0l2 0l2 0l2 1l2 0l2-1l2 0l2 0l2 0l2-1l2 1l2 0l2 0l2 0l2 0l2 0l2 1l2-1l2 0l2 1l2-1l2 1l2-1l2-1l2 0l2 0l2 0l2 0l2 1l2 0l2 0l2 1l2 0l2-1l2 1l2-1l2 1l2-1l2 0l2 0l2-1l2 1l2-1l2 1l2-1l2-1l2 0l2 2l2-1l2 1l2 0l2 1l2 0l2 0l2 0l2 0l2 0l2-1l2 0l2-1l2 0l2 0l2 0l2 0l2 1l2 0l2 1l2 0l2 0l2-1l2 1l2 0l2-5l2-4l2 1l2-4l2 1l2 9l2 0l2-1l2 1l2 0l2 1l2 0l2 1l2 0l2-1l2 1l2 0l2-1l2 0l2 0l2-1l2 0l2 0l2 0l2 0l2 1l2 0l2 0l2 0l2 0l2 0l2 0l2 1l2 0l2-1l2 0l2 0l2 0l2-1l2 1l2-2l2 1l2 0l2 0l2 0l2 1l2 0l2 0l2 0l2 0l2 1l2-1l2 0l2 1l2-1l2 0l2 1l2-1l2-1l2 0l2 1l2 0l2 1l2-1l2 1l2 0l2 0l2-1l2 0l2 1l2-1l2 0l2 0l2-1l2-1l2 0l2 1l2 1l2-1l2 0l2 2l2-1l2 0l2 0l2 0l2 0l2 0l2-1l2 0l2 0l2 0l2 1l2-1l2 0l2 1l2 0l2-1l2 1l2 0l2 0l2 0l2 0l2 0l2 0l2 1l2 0l2-1l2 0l2 0l2-1l2 0l2 0l2 1l2-1l2 1l2 0l2 0l2-1l2 0l2 0l2 0l2 0l2 1l2 0l2-1l2 0l2 0l2 1l2 0l2-1l2 0l2 0l2 0l2 1l2 0l2 0l2 0l2 0l2 0l2-1l2 1l2 0l2-1l2 0l2 0l2-1l2 1l2-3l2-3l2-4l2 5l2 6l2 0l2 0l2 0l2 1l2 0l2-1l2 0l2 0l2 1l2-1l2 0l2 0l2 0l2 0l2 0l2 0l2 0l2 0l2 1l2-1l2 1l2-1l2 0l2 0l2 0l2 0l2 0l2-1l2 1l2 0l2-1l2 1l2 1l2 0l2-1l0 6l-2 0l-2 0l-2 0l-2 0l-2 0l-2 1l-2-1l-2 0l-2-1l-2 1l-2 0l-2 0l-2 0l-2 0l-2-1l-2 1l-2 0l-2 0l-2 0l-2 1l-2-1l-2 0l-2 0l-2 0l-2 0l-2 0l-2 0l-2 0l-2 0l-2 0l-2 0l-2 0l-2-1l-2 0l-2 0l-2 8l-2 4l-2-3l-2-4l-2-3l-2 0l-2 1l-2 0l-2-1l-2 0l-2 0l-2-1l-2 0l-2 0l-2 1l-2 0l-2 0l-2 0l-2 0l-2 0l-2-1l-2 0l-2 0l-2 1l-2 0l-2 0l-2-1l-2 1l-2-1l-2 1l-2-1l-2 0l-2 0l-2 0l-2 0l-2 1l-2 0l-2-1l-2 1l-2 0l-2-1l-2 0l-2 0l-2 0l-2-1l-2 1l-2 0l-2-1l-2 0l-2 1l-2-1l-2 1l-2 0l-2 1l-2-1l-2 0l-2 0l-2 0l-2 0l-2 0l-2 2l-2-2l-2 1l-2 0l-2 0l-2-1l-2 0l-2 0l-2 0l-2-1l-2 0l-2 1l-2 0l-2 1l-2 0l-2 1l-2 0l-2-1l-2 0l-2 0l-2-1l-2 0l-2-1l-2 1l-2-1l-2 0l-2 1l-2-1l-2 1l-2 0l-2 1l-2 0l-2-1l-2 0l-2 1l-2-1l-2-1l-2 0l-2 0l-2 1l-2 0l-2-1l-2 1l-2 0l-2 0l-2 0l-2 1l-2 0l-2 0l-2 1l-2-1l-2 1l-2-2l-2 0l-2 0l-2-1l-2 0l-2 1l-2 0l-2-1l-2 0l-2 1l-2 0l-2 0l-2 1l-2-1l-2 1l-2 0l-2 0l-2-1l-2 0l-2 0l-2-1l-2 0l-2 0l-2 0l-2 0l-2 1l-2-1l-2 1l-2 0l-2 1l-2 0l-2 0l-2 1l-2 5l-2-2l-2 6l-2-2l-2-8l-2 2l-2-4l-2 1l-2 0l-2-1l-2 1l-2 0l-2 0l-2 0l-2 1l-2 0l-2 0l-2 1l-2-1l-2 0l-2-1l-2 0l-2 0l-2-1l-2 0l-2 0l-2 1l-2 0l-2 1l-2-1l-2 1l-2 0l-2 0l-2 0l-2 0l-2-1l-2 0l-2 1l-2-1l-2 0l-2-1l-2 1l-2 0l-2-1l-2 1l-2 0l-2 0l-2 0l-2 0l-2 0l-2 1l-2 0l-2 1l-2-2l-2 1l-2-1l-2-1l-2 0l-2 0l-2 1l-2-1l-2 1l-2 0l-2 0l-2 0l-2 1l-2 0l-2-1l-2 1l-2 0l-2-1l-2 0l-2 0l-2 0l-2 0l-2 0l-2 0l-2 0l-2 0l-2 0l-2 0l-2 0l-2 1l-2-1l-2 1l-2 0l-2 0l-2-1l-2 0l-2 0l-2 0l-2 0l-2 0l-2 0l-2 0l-2 0l-2 0l-2 0l-2 0l-2 0l-2 0l-2 0l-2 0l-2 1l-2-1l-2 1l-2 0l-2 0l-2-1l-2 0l-2 0l-2 0l-2 0l-2 0l-2 0l-2 0l-2 0l-2 0l-2 0l-2 0l-2 0l-2 0l-2 0l-2 0l-2 0l-2 0l-2 0l-2 0l-2 0l-2 0l-2 1l-2 0l-2 0l-2 0l-2-1l-2 1l-2-1l-2 0l-2 0l-2 0l-2 0l-2 0l-2 0l-2 1l-2-1l-2 1l-2-1l-2 0l-2-1l-2 1l-2-1l-2 1l-2 0l-2-1l-2 0l-2 1l-2 0l-2 1l-2 0l-2 1l-2-1l-2 0l-2 0l-2 0l-2-1l-2 0l-2 0l-2-1l-2 1l-2-1l-2 1l-2 0l-2 0l-2 0l-2 1l-2-1l-2 1l-2-1l-2 0l-2 0l-2 1l-2-1l-2 1l-2-1l-2 0l-2-1l-2 1l-2-1l-2 0l-2 0l-2 0l-2 1l-2 0l-2 0l-2 0l-2 0l-2 0l-2 0l-2 0l-2 0l-2 0l-2 0l-2 0l-2 0l-2-1l-2 0l-2 1l-2-1l-2 0l-2 1l-2 0l-2 0l-2 1l-2 0l-2 0l-2-1l-2 0l-2 0l-2 0l-2 0l-2 0l-2-1l-2 1l-2 0l-2 0l-2 0l-2 0l-2 0l-2 0l-2 0l-2 0l-2 0l-2 0l-2 0l-2-1l-2 1l-2-1l-2 1l-2-1l-2 0l-2 1l-2-1l-2 0l-2 0l-2 1l-2 0l-2 1l-2-1l-2 1l-2 0l-2 0l-2 0l-2-1l-2 0l-2 0l-2 0l-2-1l-2 0l-2 0l-2 0l-2 1l-2 0l-2 1l-2 0l-2 0l-2 0l-2 0l-2 0l-2-1l-2 0l-2 0l-2-1l-2 0l-2 1l-2-1l-2 0l-2 0l-2 1l-2 0l-2 0l-2 1l-2-1l-2 1l-2 0l-2 0l-2 0l-2-1l-2 0l-2 0l-2 0l-2-1l-2 1l-2-1l-2 0l-2 1l-2-1l-2 0l-2 1l-2 0l-2 0l-2 0l-2 0l-2 0l-2 0l-2 0l-2 0l-2 0l-2 0l-2-1l-2 1l-2 0l-2-1l-2 0l-2 1l-2 0l-2 0l-2 0l-2-1l-2 1l-2 0l-2 1l-2-1l-2 1l-2-1l-2 0l-2 0l-2 0l-2 0l-2 0l-2 0l-2 0l-2 0l-2 1l-2 0l-2 0l-2 0l-2 0l-2 0l-2 0l-2-1l-2 0l-2 0l-2-1l-2 1l-2 0l-2 1l-2-1l-2 1l-2 0l-2 0l-2-1l-2 1l-2 0l-2-1l-2 1l-2-1l-2 0l-2 0l-2-1l-2 0l-2 1l-2 0l-2 0l-2 0l-2 0l-2 0l-2 1l-2 0l-2-1l-2 1l-2-1l-2 0l-2 0l-2 0l-2 0l-2 0l-2-1l-2 0l-2 1l-2 0l-2 0l-2 1l-2-1l-2 2l-2-1l-2 0l-2 1l-2 0l-2-1l-2-1l-2 0l-2 2l-2 1l-2-1l-2 9l-2-3l-2-9l-2 1l-2 0l-2 0l-2 0l-2 0l-2 0l-2 1l-2 1l-2-1l-2 1l-2-2l-2 1l-2-1l-2-1l-2 1l-2 0l-2-1l-2 1l-2 0l-2-1l-2 0l-2 1l-2 1l-2-1l-2 1l-2 0l-2 0l-2 0l-2 1l-2-1l-2 0l-2-1l-2 0l-2 0l-2 0l-2 0l-2 0l-2-1l-2 0l-2 1l-2 0l-2 1l-2 0l-2 0l-2-1l-2 1l-2-1l-2 1l-2-1l-2-1l-2 1l-2 0l-2-1l-2 1l-2 0l-2-1l-2 1l-2 0l-2 0l-2 0l-2 1l-2 0l-2 0l-2 0l-2 6l-2-4l-2 8l-2-10l-2 7l-2-3l-2-5l-2 0l-2 0l-2 0l-2 0l-2 0l-2 0l-2 1l-2-1l-2 0l-2 0l-2 0l-2 0l-2 0l-2 0l-2 0l-2 0l-2 0l-2 0l-2 1l-2 0l-2 0l-2 0l-2 0l-2-1l-2 0l-2 1l-2 0l-2 0l-2-1l-2 0l-2 0l-2 0l-2-1l-2 1l-2 0l-2 1l-2-1l-2 1l-2 0l-2 0l-2-1l-2 0l-2 0l-2 0l-2-1l-2 1l-2-1l-2 0l-2 0l-2 0l-2 1l-2-1l-2 1l-2 0l-2 1l-2-1l-2 0l-2 0z"/>
<path fill="#ff0000" fill-opacity="0.8" stroke="#ff0000" d="M223 1010l2 1l2 0l2-1l2-1l2 1l2 0l2-1l2 0l2 1l2 1l2 0l2-1l2-3l2-3l2 6l2 1l2-1l2 1l2-4l2 3l2-8l2 4l2-2l2 2l2 3l2 0l2 0l2 0l2 1l2-1l2 0l2 1l2-1l2 0l2 1l2-1l2 1l2 0l2 0l2 0l2 0l2 0l2 0l2 0l2 0l2-3l2 0l2-3l2-2l2 0l2 6l2 2l2 1l2 0l2-1l2 0l2-6l2-1l2 3l2 4l2 0l2-1l2 0l2 0l2-1l2 1l2 1l2 0l2 1l2 0l2 0l2 0l2 0l2 0l2 0l2-2l2 1l2-2l2 1l2 0l2 0l2-1l2 1l2 1l2-1l2 1l2 0l2 1l2 0l2 0l2 0l2 0l2 0l2 0l2-1l2 0l2 0l2 0l2 1l2-1l2 1l2 0l2 0l2-1l2 0l2 1l2-1l2 0l2 0l2 1l2 0l2 0l2 0l2 0l2-1l2 0l2-1l2 0l2-1l2 1l2-1l2 1l2 1l2 0l2 1l2 0l2 0l2 0l2 0l2 0l2 0l2-1l2 0l2 0l2-1l2-1l2 1l2-1l2 1l2-1l2 0l2 2l2 0l2 1l2 0l2 0l2 0l2 0l2 0l2-1l2 0l2 0l2-1l2 1l2 0l2-1l2 1l2-1l2 1l2 0l2 1l2 0l2 0l2 0l2 0l2-1l2 1l2-1l2 0l2 0l2-1l2 0l2 0l2 0l2 1l2 0l2-1l2 1l2 0l2 0l2 0l2 0l2 0l2 0l2 1l2-1l2 0l2 0l2 0l2 0l2 0l2-1l2 1l2-1l2 0l2 1l2 0l2 0l2 1l2-1l2 1l2 0l2 0l2 0l2 0l2 0l2 0l2 0l2-1l2 0l2 0l2-1l2 0l2 1l2-1l2 1l2 1l2 0l2-1l2 1l2 0l2 0l2 0l2-1l2 1l2 0l2-1l2 0l2 0l2 0l2 0l2-1l2 0l2 1l2 0l2 0l2 1l2-1l2 1l2 0l2 0l2 0l2 0l2 0l2-1l2 1l2 0l2 0l2 0l2 0l2 0l2-1l2 0l2-1l2 1l2-1l2 1l2-1l2 1l2 0l2-1l2 1l2-6l2 5l2 0l2 0l2 0l2 0l2 0l2 0l2 0l2 0l2 1l2-1l2 1l2 0l2 0l2 0l2 0l2 1l2 0l2 0l2 0l2-1l2 1l2 0l2-1l2 1l2-1l2-1l2 0l2-1l2 0l2 2l2 0l2 1l2 0l2 0l2 0l2 0l2-1l2 1l2 0l2 0l2-1l2 0l2-1l2 0l2 0l2 1l2 0l2 0l2-1l2 1l2 0l2 1l2 0l2-1l2 0l2 0l2 0l2-1l2 1l2 0l2-1l2 1l2 0l2 0l2 0l2-1l2 0l2 0l2 1l2 0l2 0l2 1l2 0l2 0l2 0l2 0l2 0l2-1l2 0l2-1l2 0l2 0l2 0l2 0l2-1l2 1l2-1l2 2l2 0l2 0l2 1l2-1l2 0l2 0l2 0l2 0l2 0l2 0l2-1l2 0l2 1l2-1l2 1l2 0l2-1l2 1l2 0l2 0l2 0l2 1l2-1l2 1l2-1l2 0l2 0l2 0l2-1l2 0l2 0l2 0l2-1l2 0l2 1l2 1l2 1l2 0l2 0l2 0l2 0l2 0l2 0l2 0l2-1l2-1l2 1l2 0l2-2l2 1l2-1l2 0l2 1l2 0l2 1l2 0l2 1l2 0l2 0l2 0l2 0l2 0l2 0l2 0l2-1l2-1l2 0l2 0l2 0l2 0l2 0l2 1l2 0l2 0l2 0l2 0l2 1l2 0l2 0l2-1l2 0l2 1l2-1l2-1l2 1l2-1l2 1l2 0l2 1l2-1l2 1l2 0l2 0l2-1l2 1l2 0l2 0l2 0l2-1l2 0l2-1l2 0l2 0l2 0l2 0l2 0l2 1l2 0l2 0l2 1l2 0l2-1l2 1l2-1l2 0l2 0l2 0l2 0l2 0l2 0l2 0l2-1l2 1l2 0l2 0l2 0l2 0l2 0l2 0l2 0l2 0l2 0l2 0l2 1l2 0l2 0l2 0l2-1l2 0l2 0l2 0l2 0l2 0l2 0l2 1l2-1l2 0l2 0l2 1l2 0l2-1l2 0l2 1l2-1l2 1l2 0l2-1l2 0l2 0l2-1l2 1l2 0l2 0l2 0l2 0l2 0l2 0l2 0l2 0l2-1l2 1l2 1l2-3l2-1l2 0l2 0l2 1l2-1l2 1l2 0l2 0l2 1l2 0l2 1l2 0l2 1l2 0l2-1l2 1l2 0l2-4l2 3l2-2l2 0l2 0l2-2l2 1l2 2l2 1l2 0l2-2l2-1l2 3l2-1l2 1l2 0l2 0l2 0l2-1l2 0l2-1l2-2l2 3l2 0l2-4l2 0l2 1l2 3l2 1l2-4l2 1l2 1l2 1l2 2l2 0l2 0l2 0l2 0l2-2l2 0l2 0l2-1l2 0l2 1l2 0l2 1l2 0l2 0l2 0l2 1l2 0l2 0l2-1l2-1l2 1l2-1l2 1l2-1l2 1l2 0l2 0l2 0l2 1l2-1l2 1l2-1l2 0l2 1l2 0l2 0l2 0l2 0l2 0l2 0l2-1l2 1l2 0l2 0l2 0l2 0l2-1l2 0l2 0l2-1l2 0l2 0l2 1l2 0l2 0l2 0l2 0l2 0l2 0l2 0l2-1l2 0l2 0l2 1l2-1l2 0l2 0l2 0l2 1l2 0l2 1l2-1l2 0l2 0l2 0l2 0l2 0l2-1l2 1l2-1l2 0l2 1l2-1l2 0l2 0l2 1l2 0l2 0l2-1l2 0l2 1l2 0l2 0l2 1l2 0l2-1l2 0l2 0l2 0l2 0l2-1l2 1l2 0l2 0l2-1l2 0l2 1l2 0l2-1l2 1l2 0l2 0l2 0l2 1l2 0l2-1l2 0l2 0l2 0l2-1l2-1l2 0l2 1l2-1l2 1l2-1l2 0l2 1l2 0l2 1l0 7l-2 0l-2 0l-2 1l-2-1l-2 1l-2 1l-2-1l-2 0l-2-1l-2 0l-2 0l-2-1l-2 0l-2 0l-2 0l-2 0l-2 0l-2 1l-2-1l-2 0l-2 1l-2 1l-2 0l-2-1l-2 0l-2 0l-2-1l-2 1l-2 0l-2 0l-2 0l-2-1l-2 0l-2 1l-2 0l-2 0l-2-1l-2 1l-2 0l-2 1l-2 0l-2 0l-2-1l-2 1l-2 0l-2-1l-2 0l-2 0l-2 0l-2 0l-2-1l-2 0l-2 1l-2 0l-2-1l-2 0l-2 1l-2 0l-2-1l-2 1l-2 0l-2 0l-2-1l-2 1l-2 1l-2-1l-2 0l-2 0l-2 0l-2 0l-2-1l-2 0l-2 0l-2 1l-2 0l-2 0l-2 0l-2 1l-2 0l-2 0l-2 0l-2-2l-2 0l-2 1l-2-1l-2 0l-2-1l-2 1l-2 0l-2 0l-2 0l-2 0l-2 0l-2 0l-2 0l-2 0l-2 0l-2 0l-2 0l-2 0l-2 1l-2 0l-2-1l-2 2l-2-1l-2 1l-2-1l-2 0l-2 0l-2 0l-2 0l-2-1l-2 0l-2 0l-2 0l-2 0l-2 0l-2 1l-2 1l-2-1l-2 1l-2 0l-2 0l-2 0l-2 0l-2-2l-2-1l-2 1l-2 0l-2 0l-2 0l-2 0l-2 5l-2 0l-2-5l-2 5l-2-4l-2 5l-2-4l-2 3l-2-1l-2 0l-2 0l-2-3l-2 1l-2 0l-2-1l-2 0l-2 1l-2 0l-2 0l-2 0l-2 2l-2-1l-2 1l-2-1l-2-2l-2 4l-2-2l-2 2l-2-4l-2 3l-2-4l-2 3l-2-1l-2-1l-2-1l-2 0l-2 0l-2 0l-2 1l-2 1l-2 1l-2-1l-2 1l-2 0l-2 0l-2 1l-2-2l-2 0l-2-1l-2 0l-2 1l-2-2l-2 1l-2 0l-2-1l-2 1l-2 1l-2 0l-2-1l-2 1l-2-1l-2-1l-2 1l-2 0l-2 0l-2-1l-2 0l-2 0l-2 0l-2 0l-2 1l-2-1l-2 0l-2 0l-2 1l-2 0l-2 0l-2 0l-2-1l-2 1l-2 0l-2 0l-2 0l-2 0l-2 0l-2-1l-2 0l-2 0l-2 0l-2 1l-2 0l-2 1l-2 0l-2-1l-2 0l-2 0l-2 0l-2 0l-2 0l-2-1l-2 1l-2 0l-2-1l-2 1l-2 0l-2 0l-2 0l-2 0l-2 0l-2 0l-2-1l-2 0l-2 0l-2 0l-2 1l-2 0l-2 0l-2 1l-2 0l-2-1l-2 0l-2 0l-2 0l-2-1l-2 0l-2 0l-2 0l-2 0l-2 0l-2 0l-2 0l-2 0l-2 1l-2-1l-2 1l-2 0l-2-1l-2 0l-2 0l-2 0l-2 0l-2 1l-2 0l-2-1l-2 1l-2 0l-2 0l-2 0l-2 0l-2 1l-2-1l-2 1l-2 0l-2 0l-2 0l-2 0l-2-2l-2 0l-2 0l-2 0l-2 0l-2 0l-2 0l-2 0l-2 0l-2 0l-2 2l-2 0l-2 0l-2 0l-2 1l-2-1l-2-1l-2 1l-2-1l-2 0l-2-1l-2 0l-2 0l-2 0l-2 0l-2 0l-2-1l-2 1l-2 0l-2 0l-2 2l-2 0l-2 0l-2 0l-2-1l-2 0l-2 0l-2 0l-2 0l-2 0l-2 0l-2 0l-2 0l-2-1l-2 0l-2 1l-2 0l-2-1l-2 1l-2 1l-2 0l-2-1l-2 0l-2 1l-2 0l-2 0l-2-1l-2 0l-2 0l-2 0l-2-1l-2 1l-2 0l-2-1l-2 1l-2 0l-2 0l-2 1l-2 0l-2-1l-2 1l-2 1l-2-1l-2 0l-2-1l-2 0l-2-1l-2 0l-2 0l-2 0l-2 0l-2 0l-2 0l-2 1l-2 0l-2 1l-2 0l-2-1l-2 1l-2-1l-2 1l-2-1l-2 0l-2 1l-2-1l-2 1l-2-2l-2 1l-2 0l-2-1l-2 0l-2 0l-2 1l-2-1l-2 1l-2 1l-2-1l-2 0l-2 0l-2 0l-2 0l-2 0l-2 0l-2 0l-2 0l-2-1l-2 0l-2 0l-2 0l-2 0l-2 0l-2 0l-2 1l-2 0l-2 1l-2 0l-2-1l-2 1l-2-2l-2 0l-2 0l-2 0l-2 0l-2 0l-2 0l-2 0l-2 0l-2 0l-2 0l-2 0l-2 1l-2 0l-2 1l-2-1l-2 0l-2 1l-2-1l-2 1l-2 0l-2 0l-2-1l-2 0l-2 0l-2 1l-2 5l-2-4l-2-2l-2 1l-2-1l-2 1l-2 0l-2-1l-2 1l-2-1l-2 0l-2 0l-2 0l-2-1l-2 0l-2 0l-2 0l-2 0l-2 0l-2 0l-2 0l-2-1l-2 1l-2 0l-2 1l-2 0l-2-1l-2 1l-2 1l-2-1l-2 1l-2-1l-2 0l-2 0l-2-1l-2 1l-2-1l-2 0l-2 0l-2 0l-2 0l-2 0l-2 0l-2 1l-2-1l-2 0l-2 1l-2 0l-2-1l-2 1l-2 0l-2 0l-2 0l-2 0l-2 0l-2-1l-2 0l-2-1l-2 1l-2-1l-2 1l-2 0l-2 0l-2 0l-2 1l-2 0l-2 1l-2-1l-2 0l-2 1l-2-1l-2 0l-2 0l-2 0l-2-1l-2 0l-2 1l-2 0l-2 0l-2 0l-2 0l-2-1l-2 1l-2-1l-2 1l-2 0l-2 0l-2 0l-2 0l-2 1l-2 0l-2-1l-2 0l-2 1l-2-2l-2 0l-2 1l-2 0l-2-1l-2 0l-2 1l-2-1l-2 0l-2 1l-2 0l-2 0l-2 1l-2-1l-2 1l-2-1l-2 0l-2 0l-2 0l-2-1l-2 0l-2-1l-2 1l-2 0l-2 0l-2 0l-2 1l-2 0l-2 1l-2 0l-2 0l-2-1l-2 2l-2 0l-2-1l-2-2l-2 0l-2 0l-2 0l-2 0l-2 0l-2 0l-2 0l-2 0l-2 1l-2 0l-2-1l-2 2l-2-1l-2 2l-2-2l-2 1l-2 0l-2-1l-2-1l-2 0l-2-1l-2 1l-2 0l-2 1l-2-1l-2 1l-2-1l-2 0l-2 0l-2 1l-2-1l-2 0l-2 1l-2-1l-2 1l-2-1l-2 1l-2 0l-2-1l-2 0l-2 0l-2 0l-2 0l-2 0l-2 0l-2 1l-2 0l-2 0l-2 1l-2-1l-2 1l-2 1l-2-1l-2 0l-2 0l-2 0l-2 0l-2-2l-2 1l-2-1l-2 0l-2 0l-2 0l-2 0l-2 0l-2 1l-2 1l-2 1l-2-1l-2 0l-2 0l-2 0l-2-1l-2 0l-2 4l-2 3l-2-7l-2-1l-2 0l-2 1l-2-1l-2 5l-2-4l-2 6l-2 2l-2-2l-2 1l-2-7l-2 0l-2 1l-2-1l-2 0l-2 0l-2 0l-2 0l-2-1l-2 0l-2 0l-2 0l-2 2l-2 0l-2-1l-2 0l-2 1l-2 0l-2 0l-2 1l-2-1l-2 0l-2 0l-2 5l-2-5l-2 7l-2-3l-2-3l-2-3l-2 0l-2 0l-2 5l-2 2l-2-5l-2-2l-2 0l-2 0l-2 1l-2 0l-2 1l-2 0l-2 0l-2 0l-2-1l-2 0l-2-1l-2 0z"/>
<path fill="#0000ff" fill-opacity="0.8" stroke="#0000ff" d="M223 1034l2 0l2 1l2 0l2 0l2 0l2 0l2 0l2 1l2 0l2-1l2 1l2-1l2 0l2-1l2 0l2 0l2 0l2-1l2 1l2-1l2 1l2 0l2 0l2 1l2 0l2 0l2 0l2 0l2 0l2 0l2 0l2 0l2 0l2 0l2 0l2 0l2 1l2-1l2 1l2-1l2 0l2 0l2 0l2 0l2-1l2 1l2-1l2 1l2 0l2 0l2 0l2 0l2 0l2 0l2 0l2 0l2 1l2-1l2 1l2 0l2 0l2 0l2 0l2-1l2-1l2-1l2 1l2 0l2-1l2 1l2 0l2 0l2 1l2 0l2 1l2-1l2 0l2 1l2 0l2-1l2-1l2 0l2-1l2 1l2-1l2 1l2 0l2 0l2 1l2-1l2 1l2 0l2 0l2 1l2-1l2 0l2 0l2 0l2-1l2 0l2 0l2 0l2 0l2 0l2 0l2 0l2 0l2 1l2 0l2 0l2 0l2 1l2 0l2-1l2 0l2 0l2-1l2 0l2-1l2 1l2 0l2-2l2-3l2 1l2 5l2 1l2 0l2-1l2 0l2 0l2 0l2 0l2 1l2-1l2 0l2-1l2 0l2 0l2 0l2-1l2 1l2 0l2 1l2 0l2 0l2 1l2 0l2-1l2 0l2 1l2-1l2 0l2-1l2 1l2-1l2 0l2 1l2-1l2 1l2-1l2 1l2 0l2 0l2 0l2 1l2 0l2 0l2 0l2-1l2 0l2-1l2 0l2 0l2 0l2 0l2 0l2 0l2-1l2 0l2 1l2 1l2 0l2 1l2-1l2 1l2-1l2 0l2-1l2 0l2 0l2 0l2 0l2 0l2-1l2 0l2 1l2 0l2 1l2 0l2 0l2 0l2 1l2 0l2-1l2-1l2 0l2 0l2 0l2-1l2 1l2-1l2 1l2 0l2 1l2 0l2 0l2 1l2-1l2-2l2-4l2-3l2-3l2 2l2-3l2 3l2-1l2 9l2 1l2 0l2 0l2 1l2 0l2 0l2 1l2 0l2-1l2 0l2 0l2 0l2-2l2 0l2-6l2 0l2-3l2 6l2 4l2 0l2 1l2 1l2-1l2 1l2 0l2 0l2-1l2 1l2-1l2 0l2 0l2 0l2 0l2-1l2-1l2 2l2 0l2 0l2 1l2-1l2 0l2 0l2 0l2 0l2 0l2-1l2 0l2-1l2 1l2 0l2 0l2 0l2 0l2 0l2 0l2 1l2 0l2 0l2 1l2-1l2 0l2 0l2 0l2 0l2 0l2 0l2 0l2 0l2 0l2-1l2 1l2 0l2 0l2 1l2-1l2 0l2 1l2-1l2 1l2-1l2 0l2 0l2 0l2-1l2 0l2 0l2 1l2 0l2-1l2 1l2-1l2-3l2-5l2 9l2-5l2 5l2 0l2-2l2-3l2 2l2-6l2 1l2 2l2 3l2 2l2 0l2 1l2 0l2 1l2-1l2 1l2-1l2 1l2 0l2 0l2-1l2-2l2 0l2 0l2 0l2 1l2 0l2 0l2-1l2 2l2-1l2 0l2 1l2 0l2 0l2 0l2 0l2 0l2 0l2-1l2-1l2 0l2 1l2 0l2 0l2 0l2 1l2 0l2 1l2-1l2 0l2 0l2 0l2 0l2 0l2 0l2-1l2-5l2-3l2 0l2-1l2-1l2 7l2 4l2-1l2 1l2 0l2 0l2 0l2 1l2-1l2 0l2 0l2 0l2 0l2 0l2 0l2 0l2 0l2 0l2 0l2 0l2-1l2 1l2-1l2 1l2 0l2 0l2 1l2-1l2 0l2 0l2 1l2 0l2-2l2 0l2 0l2 1l2-2l2 1l2-1l2 1l2 0l2 1l2 0l2 0l2 0l2 0l2 0l2-1l2-1l2 0l2 1l2 0l2-1l2 0l2 0l2 1l2 1l2-1l2 1l2-1l2 1l2 0l2-1l2 0l2 1l2-1l2-1l2 1l2-1l2 1l2 0l2 0l2 0l2 1l2 0l2 1l2-1l2 1l2-1l2 0l2 0l2 0l2-1l2 0l2 1l2 0l2 0l2 0l2 0l2 0l2-1l2 0l2 1l2 0l2 0l2 0l2 0l2 0l2 0l2 0l2-1l2 0l2 0l2 0l2 1l2 0l2 1l2-1l2 0l2 0l2 0l2 0l2 0l2 0l2-1l2 0l2 0l2-1l2 1l2 0l2 0l2 0l2 0l2 1l2 0l2 1l2 0l2-1l2 1l2-1l2 0l2 0l2-1l2 0l2-1l2 1l2 0l2 1l2-1l2 1l2 0l2 0l2 0l2 0l2 0l2 0l2 0l2 0l2-1l2 1l2-1l2 1l2-1l2 1l2 0l2 0l2-1l2 0l2 1l2 0l2 0l2-1l2 0l2 1l2-1l2 1l2-1l2-1l2 1l2-1l2 1l2 1l2 0l2 1l2-1l2 1l2-1l2 1l2-1l2 0l2 0l2 0l2 0l2 0l2-1l2 1l2 0l2 0l2 0l2 0l2 0l2 0l2-1l2 0l2 1l2-1l2 1l2 1l2-1l2 0l2 0l2 1l2-1l2 0l2-1l2 0l2 0l2-1l2 1l2 0l2 1l2 0l2 0l2 0l2 0l2 0l2 0l2 0l2 0l2-1l2 0l2 0l2-1l2 2l2-1l2 0l2 0l2 1l2 0l2 0l2 0l2 0l2 0l2 1l2-1l2 0l2 0l2-1l2 1l2-2l2 1l2-1l2 1l2-1l2 2l2 0l2 1l2-1l2 1l2-1l2 0l2 0l2 0l2 1l2-1l2 0l2-1l2 0l2 0l2 0l2 0l2-1l2 1l2 0l2 1l2 0l2 0l2 1l2-1l2 1l2-1l2-1l2 1l2-1l2 0l2 0l2 0l2 0l2 1l2 0l2-1l2 0l2 1l2 0l2 0l2 0l2 0l2-1l2 0l2 0l2 1l2-1l2 0l2 0l2 1l2-1l2 1l2 0l2 0l2-1l2 1l2 0l2-1l2 0l2 0l2 1l2 0l2-1l2 1l2-1l2 0l2 0l2 0l2 0l2 0l2 1l2 0l2 0l2 0l2 0l2 0l2 0l0 5l-2 0l-2 0l-2 0l-2 0l-2 0l-2 1l-2 0l-2 1l-2-1l-2 1l-2 0l-2-1l-2 0l-2 0l-2 0l-2 0l-2 0l-2-1l-2 1l-2 0l-2 0l-2 0l-2 0l-2 0l-2 0l-2 0l-2 0l-2 0l-2 0l-2 0l-2 0l-2 0l-2 0l-2 0l-2 0l-2 0l-2-1l-2 1l-2 0l-2 0l-2-1l-2 1l-2 0l-2 0l-2 0l-2 1l-2-1l-2 1l-2-1l-2-1l-2 0l-2 1l-2-1l-2 0l-2 0l-2 1l-2-1l-2 1l-2 0l-2 0l-2 1l-2 1l-2-1l-2 0l-2-1l-2 0l-2 0l-2-1l-2 0l-2 0l-2 0l-2 0l-2 0l-2 0l-2 0l-2 0l-2 1l-2 1l-2 0l-2 0l-2-1l-2 1l-2-1l-2-1l-2 0l-2 1l-2-1l-2 0l-2 0l-2 1l-2 0l-2-1l-2 1l-2-1l-2 1l-2 0l-2 0l-2 0l-2 1l-2 0l-2-1l-2 1l-2-1l-2-1l-2 0l-2 1l-2 0l-2-1l-2 0l-2 1l-2 1l-2 0l-2 0l-2 0l-2 0l-2 0l-2-1l-2-1l-2 0l-2 0l-2 0l-2 0l-2 0l-2 0l-2 0l-2 0l-2 1l-2 0l-2 1l-2-1l-2 0l-2 0l-2 0l-2 0l-2-1l-2 1l-2 0l-2-1l-2 0l-2 0l-2 1l-2-1l-2 0l-2 0l-2 0l-2 0l-2 0l-2 1l-2 0l-2 0l-2 1l-2-1l-2 0l-2 0l-2 0l-2 1l-2 0l-2-1l-2 0l-2 0l-2-1l-2 1l-2 0l-2 0l-2 0l-2 0l-2 0l-2 0l-2 0l-2 0l-2-1l-2 0l-2 1l-2 0l-2-1l-2 0l-2 0l-2 0l-2 0l-2 0l-2 1l-2-1l-2 1l-2 0l-2 1l-2-1l-2 0l-2 0l-2 0l-2 0l-2-1l-2 0l-2 1l-2-1l-2 0l-2 0l-2 1l-2 0l-2 1l-2 1l-2 0l-2-1l-2 0l-2 0l-2 0l-2 0l-2-1l-2 0l-2-1l-2 0l-2 0l-2 0l-2 0l-2 0l-2 0l-2 0l-2 1l-2 0l-2 0l-2 1l-2-1l-2 0l-2-1l-2 0l-2 1l-2 0l-2-1l-2 0l-2 1l-2 0l-2 0l-2 0l-2 0l-2 0l-2-1l-2 1l-2 0l-2-1l-2 0l-2 1l-2 0l-2-1l-2 0l-2 0l-2 0l-2 0l-2 0l-2 0l-2 1l-2 0l-2 1l-2 0l-2 0l-2 0l-2 0l-2-1l-2 0l-2-1l-2 1l-2 0l-2 0l-2-1l-2 0l-2 1l-2 0l-2 0l-2 1l-2 0l-2 0l-2 0l-2 0l-2 0l-2-1l-2 0l-2-1l-2 1l-2-1l-2 0l-2 0l-2 1l-2 0l-2 0l-2 0l-2 1l-2 0l-2-1l-2 0l-2-1l-2 1l-2 0l-2-1l-2 0l-2 0l-2 0l-2 0l-2 0l-2 1l-2 0l-2 0l-2 0l-2 0l-2-1l-2 1l-2-1l-2 0l-2 0l-2 0l-2 0l-2 0l-2 0l-2 0l-2 0l-2 0l-2 0l-2 0l-2 0l-2 0l-2 1l-2 0l-2 0l-2 4l-2 7l-2-10l-2 7l-2 0l-2-4l-2-4l-2 0l-2-1l-2 0l-2 0l-2 0l-2 0l-2 0l-2 1l-2 0l-2-1l-2 1l-2 1l-2 0l-2-1l-2 1l-2-1l-2 1l-2-1l-2 0l-2-1l-2 0l-2 0l-2 0l-2 0l-2 0l-2 0l-2 2l-2 0l-2-1l-2 1l-2 0l-2 0l-2-1l-2 1l-2-1l-2 0l-2-1l-2 0l-2 0l-2 0l-2 0l-2 0l-2 0l-2 1l-2 0l-2 0l-2 0l-2 2l-2-1l-2 6l-2 1l-2-2l-2 0l-2-6l-2 0l-2-1l-2 0l-2 1l-2 8l-2-4l-2-5l-2 1l-2 0l-2 0l-2 0l-2 0l-2 1l-2-1l-2 0l-2 0l-2 0l-2-1l-2 0l-2 0l-2 0l-2 0l-2 0l-2 0l-2 0l-2 0l-2 1l-2 0l-2 0l-2 0l-2 0l-2-1l-2 0l-2 1l-2 0l-2-1l-2 0l-2 0l-2 0l-2 0l-2 0l-2 1l-2 0l-2 0l-2 1l-2 0l-2-1l-2 1l-2 0l-2 0l-2 0l-2 0l-2-2l-2 1l-2 0l-2-1l-2 0l-2 0l-2 0l-2 0l-2 1l-2 0l-2 0l-2 0l-2 0l-2 1l-2-1l-2-1l-2 1l-2-1l-2 0l-2 0l-2 0l-2 0l-2 0l-2 0l-2 1l-2 3l-2 6l-2 0l-2 2l-2-11l-2 6l-2-5l-2-1l-2 0l-2 0l-2-1l-2 0l-2 0l-2 0l-2 0l-2 0l-2 1l-2 0l-2 1l-2 0l-2 4l-2-5l-2 9l-2 4l-2-2l-2 0l-2-10l-2 5l-2-5l-2-2l-2 0l-2 0l-2 0l-2 1l-2 1l-2-1l-2 0l-2 1l-2 0l-2 0l-2 0l-2-1l-2 0l-2-1l-2 1l-2-1l-2 0l-2 0l-2 0l-2 0l-2 1l-2 0l-2 0l-2 1l-2 0l-2 0l-2 0l-2-1l-2 0l-2 0l-2 0l-2-1l-2 0l-2 0l-2 0l-2 0l-2 1l-2 0l-2 1l-2-1l-2 0l-2 1l-2-1l-2 1l-2 0l-2 0l-2 0l-2-1l-2-1l-2 0l-2 0l-2 0l-2 0l-2 0l-2 0l-2 1l-2 0l-2-1l-2 2l-2-1l-2 1l-2 0l-2-1l-2 0l-2-1l-2 0l-2 0l-2 0l-2 0l-2 0l-2 0l-2 0l-2 0l-2 0l-2 1l-2 1l-2 0l-2 0l-2-1l-2 1l-2-1l-2 0l-2 0l-2-1l-2 0l-2 0l-2 0l-2 0l-2 0l-2 0l-2 0l-2 0l-2 1l-2 1l-2 5l-2-1l-2-4l-2-1l-2 0l-2 1l-2-1l-2 0l-2-1l-2 0l-2 0l-2 1l-2-1l-2 0l-2 0l-2 0l-2 0l-2 0l-2 1l-2 0l-2 1l-2-1l-2 1l-2-1l-2 0l-2-1l-2 0l-2 0l-2 0l-2 0l-2 0l-2 0l-2 0l-2 1l-2 0l-2 0l-2 0l-2 1l-2-1l-2 0l-2 0l-2 0l-2 0l-2 0l-2-1l-2 0l-2 0l-2 0l-2 0l-2 0l-2 0l-2 1l-2 1l-2 0l-2-1l-2 1l-2 0l-2 0l-2-1l-2 0l-2-1l-2 0l-2 0l-2 0l-2 0l-2 0l-2 0l-2 0l-2 1l-2 0l-2 0l-2 0l-2 0l-2-1l-2 0l-2 1l-2 0l-2-1l-2 0l-2 1l-2 0l-2-1l-2 0l-2 0l-2 0l-2 0l-2 0l-2 0l-2 0l-2 1l-2-1l-2 0l-2 0l-2 1l-2 0l-2-1l-2 0l-2 0l-2 1l-2 0l-2 0l-2 0l-2 1l-2-1l-2 1l-2-1l-2 1l-2 0l-2-1l-2 0l-2-1l-2 0l-2 0l-2 0l-2 0l-2 0l-2 0l-2 0l-2 0l-2 0l-2 1l-2 0l-2 0l-2 0z"/>
<path fill="#ff0000" fill-opacity="0.8" stroke="#ff0000" d="M223 1059l2-1l2 1l2-1l2 0l2 1l2 0l2 0l2 0l2 0l2-1l2 1l2 1l2 0l2-1l2 0l2 0l2 1l2-1l2 0l2 0l2 1l2 0l2 0l2 0l2-1l2 1l2-1l2 1l2 0l2 0l2-1l2 0l2 1l2-1l2 0l2 1l2-1l2 0l2 0l2-1l2 0l2 0l2 0l2 1l2 0l2 0l2 1l2 0l2-1l2 0l2 0l2 0l2 0l2 0l2 0l2 0l2-1l2 1l2 0l2 0l2-1l2 1l2 0l2-1l2 1l2 0l2 0l2 0l2 0l2 0l2 0l2 0l2 0l2 0l2 0l2 0l2 0l2 0l2 0l2 0l2 0l2 0l2 0l2 0l2-1l2 0l2 1l2 1l2-1l2 0l2 0l2 0l2 0l2 0l2 0l2 0l2-1l2 1l2 0l2 0l2 0l2-1l2 0l2 0l2 0l2-1l2 1l2 0l2 1l2 0l2 1l2-1l2 0l2 1l2-1l2 0l2 1l2 0l2 0l2-1l2 0l2-1l2-1l2 1l2-1l2 1l2 0l2 0l2 1l2-1l2 1l2 1l2-1l2 1l2 0l2-1l2 0l2 1l2 0l2 0l2-1l2-1l2 0l2 1l2-1l2 0l2 0l2 0l2 0l2 1l2 0l2-1l2 1l2 0l2 0l2 1l2 0l2-1l2 1l2-1l2-1l2 0l2 1l2-1l2 0l2 0l2 1l2 0l2 0l2-1l2 1l2 1l2 0l2 0l2-1l2 1l2-1l2 0l2-1l2 1l2 0l2 0l2-2l2 2l2-1l2 1l2-1l2-1l2 1l2 1l2 0l2 0l2-1l2 1l2 0l2-1l2 1l2 0l2 0l2 0l2 1l2-1l2 0l2 0l2-1l2 0l2 0l2-1l2 0l2 0l2 1l2 1l2 0l2 0l2 0l2 1l2-1l2 0l2 1l2-1l2 0l2 1l2 0l2-1l2 0l2 0l2 0l2-1l2 0l2 1l2 0l2 0l2 0l2 0l2 0l2 0l2 1l2 0l2-1l2 0l2 1l2-1l2 0l2 1l2-1l2-1l2 0l2-1l2 1l2-1l2 0l2 0l2 1l2 0l2 0l2 1l2 0l2 0l2 0l2 1l2-1l2 1l2-1l2 1l2-1l2 0l2-1l2 0l2 0l2-1l2 1l2 0l2 1l2-1l2 1l2 1l2 0l2 0l2-1l2 0l2 1l2 0l2 0l2 0l2-1l2 0l2-1l2 0l2-1l2 1l2 0l2-1l2 0l2 0l2 2l2 0l2 0l2 0l2 1l2 0l2 0l2 0l2 0l2-1l2 0l2 0l2 0l2-1l2 0l2 0l2 0l2 0l2 1l2 0l2-1l2 0l2 1l2 1l2 0l2-1l2 0l2 0l2 0l2 0l2 0l2-1l2 0l2 0l2 0l2 0l2 1l2 0l2 0l2-1l2 1l2 0l2 0l2 0l2 0l2 1l2-1l2 1l2-1l2 0l2 1l2-1l2 0l2 0l2-1l2 0l2 1l2 0l2 0l2 0l2-1l2 1l2-1l2 0l2 0l2 1l2 0l2 0l2-1l2 1l2 0l2 0l2 0l2 0l2 0l2 1l2-1l2 1l2 0l2-1l2 0l2 1l2-1l2 0l2 0l2 0l2 0l2 0l2 1l2 0l2-1l2 0l2 1l2-1l2 0l2 0l2 0l2-1l2 1l2-1l2 1l2 0l2 0l2-1l2 1l2 0l2 0l2 0l2 0l2 0l2 1l2 0l2-1l2 0l2 0l2-1l2 1l2 0l2-1l2 0l2 0l2 1l2-1l2 1l2 0l2 1l2 0l2-1l2 0l2 0l2 0l2 0l2 0l2 0l2 0l2-1l2 0l2 1l2 0l2-1l2 0l2 0l2 0l2 0l2 0l2 1l2 0l2 1l2 0l2-1l2 1l2 0l2-1l2 1l2-1l2 0l2-1l2-1l2 1l2 0l2-1l2 0l2 1l2 1l2 1l2-1l2 1l2 0l2 0l2-1l2-1l2 0l2 0l2 0l2 1l2 0l2-1l2 0l2 1l2 0l2 1l2 0l2 0l2-1l2 1l2-1l2 1l2 0l2-1l2 0l2 0l2 0l2 0l2 0l2 1l2 0l2-1l2 0l2 0l2 0l2 0l2 0l2 1l2-1l2 1l2 0l2 0l2-1l2 0l2 1l2-1l2 0l2 0l2 0l2-1l2 0l2 0l2 0l2 0l2 1l2 0l2 0l2 0l2 1l2-1l2 1l2-1l2 1l2-1l2 0l2 0l2 0l2 0l2-1l2-1l2 1l2-1l2 1l2 1l2-2l2 2l2 0l2 0l2 1l2-1l2 0l2 1l2-1l2 1l2 0l2-1l2 1l2 0l2 0l2-1l2 0l2-1l2 1l2-1l2 0l2 1l2 0l2 0l2 1l2-1l2 1l2 0l2 0l2 0l2 0l2-1l2-1l2 1l2 0l2-1l2 0l2 1l2-1l2 0l2 0l2 0l2 0l2 0l2 1l2 0l2 0l2 0l2 1l2-1l2 0l2 0l2 0l2 0l2 0l2 0l2 0l2 1l2-1l2 0l2 0l2 0l2 1l2-1l2 1l2 0l2 0l2-1l2 0l2 0l2 0l2 0l2 0l2 0l2-1l2 1l2-1l2 0l2-1l2 1l2 0l2 0l2 0l2-1l2 1l2 0l2 0l2 1l2 0l2 1l2 0l2 0l2-1l2 1l2-1l2 0l2 0l2 1l2-1l2 0l2 0l2-1l2 0l2 0l2 0l2 1l2-1l2 0l2 1l2-1l2 1l2 1l2 0l2 0l2-1l2 1l2 0l2-1l2 1l2 0l2-1l2 1l2-1l2-1l2 1l2 0l2 0l2 0l2-1l2 1l2-1l2 1l2 0l2 0l2 1l2 0l2-1l2 0l2 1l2-1l2 1l2-1l2 0l2-1l2 1l2-1l2-1l2 1l2 0l2-1l2 0l2 1l2-1l2 1l2 1l2 0l2 0l2 1l2-1l2 0l2 0l2 0l2-1l2 0l2-1l2 1l2 0l2 0l2 0l2 0l2 0l2 0l2 0l0 8l-2 0l-2 1l-2-1l-2 0l-2 0l-2 1l-2-1l-2 1l-2-1l-2 0l-2-1l-2 0l-2 0l-2 0l-2 0l-2-1l-2 1l-2 0l-2 0l-2 1l-2 0l-2 0l-2 1l-2-1l-2 0l-2 0l-2 1l-2-1l-2-1l-2 0l-2 1l-2-2l-2 0l-2 1l-2 0l-2-1l-2 1l-2-1l-2 0l-2 1l-2 0l-2 1l-2 0l-2-1l-2 1l-2 0l-2 0l-2 0l-2-1l-2 0l-2 0l-2-1l-2 0l-2 1l-2 0l-2-1l-2 0l-2 1l-2-1l-2 1l-2 0l-2 0l-2 0l-2 1l-2 0l-2 0l-2 0l-2 0l-2 0l-2 1l-2-1l-2 0l-2-1l-2 0l-2 0l-2-1l-2 1l-2 0l-2-1l-2 1l-2 0l-2-1l-2 1l-2 0l-2 0l-2 1l-2 0l-2 1l-2-1l-2 0l-2 0l-2 1l-2-1l-2 0l-2-1l-2 0l-2 1l-2 0l-2-1l-2 0l-2 0l-2 0l-2-1l-2 0l-2 1l-2-1l-2 1l-2 0l-2-1l-2 1l-2 0l-2-1l-2 0l-2 1l-2 0l-2-1l-2 1l-2 0l-2 0l-2 0l-2 0l-2 0l-2-1l-2 1l-2 0l-2 0l-2 0l-2 0l-2 1l-2 0l-2 0l-2 0l-2 0l-2 1l-2-1l-2 0l-2-1l-2 0l-2 1l-2-1l-2 0l-2-1l-2 1l-2-1l-2 1l-2 0l-2 0l-2 0l-2 0l-2 0l-2 1l-2 0l-2-1l-2 1l-2 0l-2-1l-2 0l-2-1l-2 0l-2 0l-2 1l-2 0l-2 0l-2 0l-2-1l-2 1l-2 0l-2 0l-2 0l-2 1l-2-1l-2 2l-2-1l-2 1l-2-1l-2 0l-2 0l-2 0l-2 0l-2-1l-2 0l-2-1l-2 1l-2 0l-2 0l-2-1l-2 1l-2-1l-2 2l-2-1l-2 1l-2-1l-2 0l-2 1l-2 1l-2-1l-2 0l-2 0l-2 0l-2-1l-2-1l-2 0l-2 1l-2-1l-2 1l-2-1l-2 1l-2 0l-2 0l-2 0l-2 0l-2 0l-2 0l-2 0l-2 0l-2 0l-2-1l-2 1l-2 0l-2 0l-2 0l-2 0l-2 0l-2-1l-2 1l-2 0l-2 0l-2 0l-2-1l-2 1l-2 0l-2 0l-2 0l-2 0l-2 0l-2 1l-2-1l-2 0l-2 1l-2 0l-2 0l-2 0l-2-1l-2-1l-2 1l-2-1l-2 1l-2 0l-2 0l-2 2l-2-1l-2 0l-2 0l-2 0l-2 0l-2-1l-2 0l-2 0l-2-1l-2 0l-2 0l-2 0l-2 1l-2-1l-2 1l-2 0l-2 1l-2 0l-2 0l-2-1l-2 0l-2 1l-2 0l-2-1l-2 0l-2 0l-2 0l-2 0l-2 0l-2 0l-2-1l-2 1l-2 0l-2-1l-2 0l-2 1l-2 0l-2 0l-2 1l-2-1l-2 2l-2-1l-2 0l-2 0l-2 0l-2-1l-2 0l-2 0l-2 0l-2-1l-2 1l-2 0l-2 0l-2 0l-2-1l-2 1l-2 0l-2 0l-2 0l-2 1l-2 0l-2 1l-2-1l-2-1l-2 1l-2-1l-2 0l-2 0l-2 0l-2-1l-2 1l-2 0l-2 0l-2-1l-2 1l-2 0l-2 0l-2 0l-2 0l-2 0l-2 0l-2 0l-2-1l-2 1l-2 0l-2 0l-2 0l-2 0l-2 0l-2 0l-2 0l-2 0l-2 1l-2-1l-2 1l-2-1l-2 0l-2 0l-2 0l-2 0l-2 0l-2 1l-2 0l-2-1l-2 1l-2 0l-2-1l-2 1l-2-1l-2 0l-2 0l-2 0l-2 0l-2-1l-2 0l-2 1l-2-1l-2 1l-2 1l-2-1l-2 0l-2 1l-2-1l-2 0l-2 1l-2-1l-2 0l-2 0l-2 0l-2 1l-2-1l-2 0l-2 0l-2 0l-2-1l-2 0l-2 1l-2-1l-2 1l-2 0l-2 1l-2 0l-2 0l-2-1l-2 1l-2 0l-2 1l-2-2l-2 0l-2 0l-2 0l-2 0l-2-1l-2 1l-2-1l-2 1l-2-1l-2 0l-2 1l-2 1l-2-1l-2 1l-2 0l-2 1l-2-1l-2 0l-2 0l-2 0l-2 0l-2-1l-2-1l-2 1l-2 0l-2 0l-2 0l-2 0l-2 0l-2-1l-2 0l-2 1l-2-1l-2 1l-2 0l-2 0l-2 2l-2-1l-2 0l-2 0l-2 0l-2 0l-2-1l-2 0l-2 0l-2 0l-2-1l-2 0l-2 1l-2 0l-2 0l-2 0l-2 1l-2 1l-2-1l-2 0l-2 1l-2 0l-2-1l-2 1l-2 0l-2-2l-2 0l-2-1l-2 1l-2 0l-2-1l-2 0l-2 1l-2 0l-2-1l-2 0l-2 1l-2 0l-2 0l-2 0l-2 0l-2 0l-2 0l-2 0l-2 1l-2-1l-2 1l-2-2l-2 1l-2 0l-2 0l-2-1l-2 1l-2 0l-2 0l-2 0l-2 0l-2 0l-2 1l-2 0l-2 0l-2 0l-2 0l-2 1l-2 0l-2 0l-2-1l-2 0l-2-1l-2 0l-2 0l-2-1l-2 1l-2-1l-2 2l-2-1l-2 0l-2 1l-2-1l-2 1l-2-1l-2 1l-2-1l-2 1l-2-1l-2 1l-2 0l-2 0l-2 0l-2 0l-2 0l-2-1l-2 0l-2 0l-2-1l-2 1l-2 0l-2-1l-2 1l-2 0l-2 0l-2 0l-2 1l-2 0l-2-1l-2 1l-2-1l-2 1l-2-1l-2 1l-2-1l-2 0l-2 0l-2 0l-2 0l-2-1l-2 1l-2 0l-2 0l-2 0l-2 1l-2 0l-2-1l-2 1l-2 0l-2 0l-2-1l-2 0l-2 0l-2 1l-2-1l-2 0l-2 0l-2 0l-2 0l-2 0l-2 0l-2 0l-2 0l-2 0l-2 0l-2 1l-2 0l-2 1l-2-1l-2 0l-2 0l-2 0l-2 1l-2-1l-2 0l-2 0l-2-1l-2-1l-2 0l-2 1l-2-1l-2 0l-2 0l-2 0l-2 0l-2 1l-2 1l-2 0l-2-1l-2 1l-2 0l-2 0l-2-1l-2 0l-2 1l-2-1l-2 0l-2 1l-2 0l-2-1l-2 0l-2 1l-2-1l-2 0l-2 0l-2 0l-2 0l-2 0l-2 0l-2 0l-2 0l-2 0l-2 0l-2 0l-2 1l-2 0l-2-1l-2 0l-2 1l-2-1l-2 1l-2-1l-2 0l-2 1l-2 0l-2-1l-2 1l-2-1l-2 0l-2 0l-2 0l-2 1l-2-1l-2 0l-2 0l-2 0l-2 1l-2-1l-2 0l-2 1l-2 0l-2-1l-2 0l-2 0l-2 0l-2 0l-2-1l-2 0l-2 0l-2 1l-2 0l-2 0l-2 0l-2 1l-2 0l-2-1l-2 0l-2 0l-2 0l-2 0l-2-1l-2 1l-2 0l-2 0l-2 0l-2 0l-2 0l-2-1l-2 1l-2 0l-2 0l-2-1l-2 1l-2-1l-2 0l-2 1l-2-1l-2 1l-2-1l-2 1l-2 0l-2-1l-2 0l-2 1l-2 1l-2-1l-2 1l-2 0l-2-1l-2 0l-2 1l-2 0l-2-1l-2 1l-2-1l-2 1z"/>
<path fill="#0000ff" fill-opacity="0.8" stroke="#0000ff" d="M223 1084l2 0l2 0l2 0l2 0l2 0l2 0l2-1l2 1l2 0l2 0l2 0l2 0l2 0l2 0l2 0l2 0l2 0l2 0l2 1l2-1l2 0l2 0l2 0l2 0l2-1l2 1l2 0l2 0l2 0l2 1l2 0l2-1l2 0l2 1l2-1l2 1l2 0l2-1l2 0l2 0l2 0l2 0l2 0l2 0l2 0l2 0l2 1l2-1l2 0l2 0l2 1l2-1l2 1l2-1l2 1l2 0l2 0l2-1l2 0l2-1l2 0l2 0l2 1l2-1l2 1l2-1l2 0l2 1l2 1l2-1l2 1l2 0l2 0l2 0l2 0l2 0l2 0l2-1l2 0l2 0l2 0l2-1l2 1l2-1l2 0l2 1l2 0l2 1l2 0l2 0l2-1l2 1l2-1l2 1l2 0l2-1l2 0l2 0l2 0l2 0l2 0l2 0l2 0l2 0l2 0l2 0l2 0l2 0l2 1l2-1l2 1l2 0l2 0l2 0l2-1l2 0l2 0l2 0l2-1l2 1l2 0l2 0l2 0l2-1l2 1l2 0l2 0l2 0l2 1l2 0l2 0l2 0l2 0l2 0l2 0l2 0l2-1l2 1l2-1l2 0l2-1l2 0l2 0l2 0l2 0l2 0l2 1l2 0l2 0l2 0l2 1l2-1l2 1l2 0l2 0l2-1l2 0l2 0l2 0l2-1l2 0l2 0l2 1l2-1l2 1l2 0l2 0l2 0l2 0l2 1l2 0l2 0l2 0l2 0l2 0l2 0l2 0l2 0l2-1l2 0l2 0l2 0l2 0l2 0l2 0l2 0l2 0l2 1l2-1l2 1l2 0l2 0l2 0l2-1l2 1l2 0l2 0l2 0l2-1l2 0l2 0l2 0l2 0l2 0l2 0l2 0l2 0l2 0l2 0l2 1l2-1l2 1l2 0l2 0l2 0l2 0l2 0l2 0l2 0l2 0l2-1l2 0l2 0l2 0l2 1l2 0l2 0l2 0l2 0l2 0l2 0l2 0l2 0l2 0l2 0l2 0l2 0l2 0l2 0l2 0l2 0l2 0l2 0l2 0l2 0l2 0l2 0l2 0l2 0l2 0l2 0l2 0l2 0l2 0l2 1l2-1l2 1l2 0l2 0l2 0l2 0l2 0l2-1l2 0l2 0l2 0l2 0l2 0l2 0l2 0l2 1l2-1l2 0l2 1l2-1l2 1l2 0l2 0l2-1l2 1l2 0l2 0l2-1l2 0l2 0l2 0l2 0l2 0l2 0l2 0l2 0l2 0l2 0l2 1l2 0l2-1l2 1l2 0l2 0l2 0l2 0l2 0l2 0l2-1l2 0l2 0l2 0l2 0l2 0l2 0l2 0l2 0l2 0l2 1l2 0l2 0l2 0l2 0l2 0l2 0l2 0l2 0l2 0l2-1l2 0l2 0l2 0l2 0l2 0l2 1l2-1l2 1l2 0l2 0l2 0l2 0l2 0l2 0l2-1l2 1l2 0l2 0l2 0l2 0l2 0l2 0l2 0l2 0l2 0l2 0l2 0l2 0l2 0l2 0l2 0l2 0l2 0l2 0l2 0l2 0l2 0l2 0l2 0l2 0l2 0l2 0l2 0l2 0l0 1l-2 0l-2 0l-2 0l-2 0l-2 0l-2 0l-2 0l-2 0l-2 0l-2 0l-2 0l-2 0l-2 0l-2 0l-2 0l-2 0l-2 0l-2 0l-2 0l-2 0l-2 0l-2 0l-2 0l-2 0l-2 0l-2 0l-2 0l-2 0l-2 0l-2 0l-2 0l-2 0l-2 0l-2 0l-2 0l-2 0l-2 0l-2 0l-2 1l-2 0l-2 0l-2 0l-2 0l-2-1l-2 0l-2 0l-2 0l-2 0l-2 0l-2 0l-2 0l-2 0l-2 0l-2 0l-2 0l-2 0l-2 1l-2 0l-2 0l-2 0l-2-1l-2 0l-2 0l-2 0l-2 0l-2 0l-2 0l-2 0l-2 0l-2 0l-2 0l-2 0l-2 0l-2 0l-2 0l-2 0l-2 1l-2 0l-2 0l-2-1l-2 0l-2 0l-2 0l-2 0l-2 0l-2 0l-2 0l-2 0l-2 0l-2 0l-2 0l-2 0l-2 0l-2 0l-2 0l-2 0l-2 0l-2 0l-2 1l-2 0l-2 0l-2-1l-2 1l-2 0l-2-1l-2 0l-2 0l-2 0l-2 0l-2 0l-2 0l-2 0l-2 0l-2 0l-2 0l-2 0l-2 0l-2 0l-2 1l-2 0l-2-1l-2 1l-2 0l-2-1l-2 1l-2 0l-2 0l-2-1l-2 1l-2 0l-2-1l-2 1l-2 0l-2 0l-2 0l-2 0l-2 0l-2-1l-2 1l-2 0l-2 0l-2 0l-2 0l-2 0l-2 0l-2 0l-2 0l-2 0l-2 0l-2 0l-2 0l-2 0l-2 0l-2 0l-2 0l-2 0l-2 0l-2 0l-2 0l-2 1l-2 0l-2 0l-2 0l-2 0l-2 0l-2 0l-2 0l-2 0l-2-1l-2 0l-2 1l-2-1l-2 0l-2 0l-2 0l-2 0l-2 0l-2 0l-2 1l-2-1l-2 0l-2 0l-2 1l-2 0l-2 0l-2 0l-2-1l-2 1l-2-1l-2 0l-2 0l-2 0l-2 0l-2 0l-2 0l-2 0l-2 0l-2 0l-2 1l-2-1l-2 0l-2 1l-2 0l-2 0l-2 0l-2 0l-2 0l-2 0l-2 0l-2-1l-2 0l-2 0l-2 0l-2 0l-2 0l-2 0l-2 0l-2 1l-2 0l-2 0l-2 0l-2 1l-2-1l-2 0l-2 1l-2-1l-2 1l-2 0l-2-2l-2 1l-2-1l-2 0l-2 0l-2 0l-2 0l-2 0l-2 0l-2 0l-2 0l-2 0l-2 1l-2 1l-2-1l-2 0l-2 0l-2 0l-2 0l-2 0l-2 0l-2 0l-2 0l-2-1l-2 1l-2 0l-2 0l-2-1l-2 0l-2 0l-2 0l-2 0l-2 0l-2 0l-2 0l-2 1l-2 0l-2 0l-2 0l-2 0l-2 0l-2-1l-2 0l-2 0l-2 0l-2 0l-2 0l-2 0l-2 0l-2 0l-2 0l-2 0l-2 1l-2 0l-2 0l-2 0l-2 0l-2 0l-2 0l-2 0l-2-1l-2 0l-2 0l-2 0l-2 0l-2 0l-2 0l-2 0l-2 0l-2 0l-2 1l-2 0l-2 0l-2 0l-2 0l-2 0l-2 0l-2 1l-2-1l-2 0l-2 0l-2 0l-2 0l-2-1l-2 0l-2 0l-2 0l-2 0l-2 0l-2 0l-2 0l-2 0l-2 0l-2 1l-2 0l-2 0l-2-1l-2 1l-2 0l-2 0l-2-1l-2 1l-2-1l-2 0l-2 0l-2 0l-2 0l-2 0l-2 0l-2 0l-2 1l-2 0l-2 0l-2 0l-2 0l-2 0l-2 0l-2 0l-2-1l-2 0l-2 0l-2 0l-2 1l-2-1l-2 0l-2 1l-2 0l-2 0l-2 0l-2 0l-2 0l-2 0l-2 0l-2 0l-2 0l-2 0l-2-1l-2 1l-2 0l-2 0z"/>
</g>
<g>
<line x1="111.5" y1="44.50" x2="190.0" y2="44.50" stroke="#ff0000" stroke-width="1" stroke-opacity="0.45"/>
<line x1="190.0" y1="44.50" x2="292.0" y2="44.50" stroke="#ff0000" stroke-width="1" stroke-opacity="0.85"/>
<line x1="290.0" y1="44.50" x2="817.5" y2="44.50" stroke="#ff0000" stroke-width="1" stroke-opacity="0.6"/>
<line x1="111.5" y1="56.66" x2="817.5" y2="56.66" stroke="#0000ff" stroke-width="1" stroke-opacity="0.6"/>
<line x1="111.5" y1="68.83" x2="817.5" y2="68.83" stroke="#ff0000" stroke-width="1" stroke-opacity="0.6"/>
<line x1="111.5" y1="80.99" x2="817.5" y2="80.99" stroke="#0000ff" stroke-width="1" stroke-opacity="0.6"/>
<line x1="111.5" y1="93.15" x2="817.5" y2="93.15" stroke="#ff0000" stroke-width="1" stroke-opacity="0.6"/>
<line x1="111.5" y1="105.31" x2="817.5" y2="105.31" stroke="#0000ff" stroke-width="1" stroke-opacity="0.6"/>
<line x1="111.5" y1="117.48" x2="817.5" y2="117.48" stroke="#ff0000" stroke-width="1" stroke-opacity="0.6"/>
<line x1="111.5" y1="129.64" x2="817.5" y2="129.64" stroke="#0000ff" stroke-width="1" stroke-opacity="0.6"/>
<line x1="111.5" y1="141.80" x2="817.5" y2="141.80" stroke="#ff0000" stroke-width="1" stroke-opacity="0.6"/>
<line x1="111.5" y1="153.97" x2="817.5" y2="153.97" stroke="#0000ff" stroke-width="1" stroke-opacity="0.6"/>
<line x1="111.5" y1="166.13" x2="817.5" y2="166.13" stroke="#ff0000" stroke-width="1" stroke-opacity="0.6"/>
<line x1="111.5" y1="178.29" x2="817.5" y2="178.29" stroke="#0000ff" stroke-width="1" stroke-opacity="0.6"/>
<line x1="111.5" y1="190.46" x2="817.5" y2="190.46" stroke="#ff0000" stroke-width="1" stroke-opacity="0.6"/>
<line x1="111.5" y1="202.62" x2="384.6" y2="202.62" stroke="#0000ff" stroke-width="1" stroke-opacity="0.7"/>
<line x1="599.0" y1="202.62" x2="817.5" y2="202.62" stroke="#0000ff" stroke-width="1" stroke-opacity="0.6"/>
<line x1="115.5" y1="214.78" x2="290.0" y2="214.78" stroke="#ff0000" stroke-width="1" stroke-opacity="0.35"/>
<line x1="290.0" y1="214.78" x2="585.0" y2="214.78" stroke="#ff0000" stroke-width="1" stroke-opacity="0.55"/>
<line x1="582.0" y1="214.78" x2="817.5" y2="214.78" stroke="#ff0000" stroke-width="1" stroke-opacity="0.6"/>
<line x1="111.5" y1="226.94" x2="817.5" y2="226.94" stroke="#0000ff" stroke-width="1" stroke-opacity="0.6"/>
<line x1="111.5" y1="239.11" x2="817.5" y2="239.11" stroke="#ff0000" stroke-width="1" stroke-opacity="0.6"/>
<line x1="111.5" y1="251.27" x2="817.5" y2="251.27" stroke="#0000ff" stroke-width="1" stroke-opacity="0.6"/>
<line x1="111.5" y1="263.43" x2="817.5" y2="263.43" stroke="#ff0000" stroke-width="1" stroke-opacity="0.6"/>
<line x1="111.5" y1="275.60" x2="817.5" y2="275.60" stroke="#0000ff" stroke-width="1" stroke-opacity="0.6"/>
<line x1="111.5" y1="287.76" x2="817.5" y2="287.76" stroke="#ff0000" stroke-width="1" stroke-opacity="0.6"/>
<line x1="111.5" y1="299.92" x2="817.5" y2="299.92" stroke="#0000ff" stroke-width="1" stroke-opacity="0.6"/>
<line x1="111.5" y1="312.09" x2="817.5" y2="312.09" stroke="#ff0000" stroke-width="1" stroke-opacity="0.6"/>
<line x1="111.5" y1="324.25" x2="817.5" y2="324.25" stroke="#0000ff" stroke-width="1" stroke-opacity="0.6"/>
<line x1="111.5" y1="336.41" x2="817.5" y2="336.41" stroke="#ff0000" stroke-width="1" stroke-opacity="0.6"/>
<line x1="111.5" y1="348.57" x2="817.5" y2="348.57" stroke="#0000ff" stroke-width="1" stroke-opacity="0.6"/>
<line x1="111.5" y1="360.74" x2="817.5" y2="360.74" stroke="#ff0000" stroke-width="1" stroke-opacity="0.6"/>
<line x1="111.5" y1="372.90" x2="817.5" y2="372.90" stroke="#0000ff" stroke-width="1" stroke-opacity="0.6"/>
<line x1="111.5" y1="385.06" x2="817.5" y2="385.06" stroke="#ff0000" stroke-width="1" stroke-opacity="0.6"/>
<line x1="111.5" y1="397.23" x2="817.5" y2="397.23" stroke="#0000ff" stroke-width="1" stroke-opacity="0.6"/>
<line x1="111.5" y1="409.39" x2="817.5" y2="409.39" stroke="#ff0000" stroke-width="1" stroke-opacity="0.6"/>
<line x1="111.5" y1="421.55" x2="817.5" y2="421.55" stroke="#0000ff" stroke-width="1" stroke-opacity="0.6"/>
<line x1="111.5" y1="433.72" x2="817.5" y2="433.72" stroke="#ff0000" stroke-width="1" stroke-opacity="0.6"/>
<line x1="111.5" y1="445.88" x2="817.5" y2="445.88" stroke="#0000ff" stroke-width="1" stroke-opacity="0.6"/>
<line x1="111.5" y1="458.04" x2="817.5" y2="458.04" stroke="#ff0000" stroke-width="1" stroke-opacity="0.6"/>
<line x1="111.5" y1="470.20" x2="817.5" y2="470.20" stroke="#0000ff" stroke-width="1" stroke-opacity="0.6"/>
<line x1="111.5" y1="482.37" x2="817.5" y2="482.37" stroke="#ff0000" stroke-width="1" stroke-opacity="0.6"/>
<line x1="111.5" y1="494.53" x2="817.5" y2="494.53" stroke="#0000ff" stroke-width="1" stroke-opacity="0.6"/>
<line x1="111.5" y1="506.69" x2="817.5" y2="506.69" stroke="#ff0000" stroke-width="1" stroke-opacity="0.6"/>
<line x1="111.5" y1="518.86" x2="817.5" y2="518.86" stroke="#0000ff" stroke-width="1" stroke-opacity="0.6"/>
<line x1="111.5" y1="531.02" x2="817.5" y2="531.02" stroke="#ff0000" stroke-width="1" stroke-opacity="0.6"/>
<line x1="470.0" y1="543.18" x2="817.5" y2="543.18" stroke="#0000ff" stroke-width="1" stroke-opacity="0.8"/>
<line x1="111.5" y1="543.18" x2="480.0" y2="543.18" stroke="#0000ff" stroke-width="1" stroke-opacity="0.6"/>
<line x1="111.5" y1="555.35" x2="158.6" y2="555.35" stroke="#ff0000" stroke-width="1" stroke-opacity="0.45"/>
<line x1="430.5" y1="148.7" x2="430.5" y2="241.9" stroke="#0000ff" stroke-width="1.4" stroke-opacity="0.64"/>
<line x1="497.5" y1="154.2" x2="497.5" y2="240.3" stroke="#0000ff" stroke-width="1.4" stroke-opacity="0.68"/>
<line x1="582.5" y1="121.7" x2="582.5" y2="137.0" stroke="#0000ff" stroke-width="1.4" stroke-opacity="0.47"/>
<line x1="582.5" y1="137.0" x2="582.5" y2="262.0" stroke="#0000ff" stroke-width="1.4" stroke-opacity="0.81"/>
<line x1="582.5" y1="262.0" x2="582.5" y2="284.0" stroke="#0000ff" stroke-width="1.4" stroke-opacity="0.51"/>
<g fill="#0000ff"><rect x="571.2" y="198" width="1.5" height="9.3" fill-opacity="0.8"/><rect x="577" y="198" width="1.2" height="8.9" fill-opacity="0.8"/><rect x="572.5" y="201.3" width="4.6" height="2.2"/><rect x="430.2" y="197" width="1.3" height="7" fill-opacity="0.9"/><rect x="495.8" y="203" width="1.4" height="10" fill-opacity="0.8"/><rect x="429.9" y="166" width="1.6" height="66" fill-opacity="0.45"/><rect x="496.6" y="190" width="1.6" height="44" fill-opacity="0.45"/><path d="M588.8 202.5 L600 201.6 L600 203.4 Z" /></g>
<line x1="503.5" y1="252.7" x2="503.5" y2="295.0" stroke="#0000ff" stroke-width="1.4" stroke-opacity="0.68"/>
<line x1="548.5" y1="343.3" x2="548.5" y2="370.2" stroke="#ff0000" stroke-width="1.4" stroke-opacity="0.68"/>
<line x1="319.5" y1="360.0" x2="319.5" y2="383.0" stroke="#0000ff" stroke-width="1.4" stroke-opacity="0.68"/>
<line x1="149.5" y1="395.8" x2="149.5" y2="426.5" stroke="#ff0000" stroke-width="1.4" stroke-opacity="0.68"/>
<line x1="458.5" y1="400.9" x2="458.5" y2="417.5" stroke="#ff0000" stroke-width="1.4" stroke-opacity="0.68"/>
<line x1="790.5" y1="387.9" x2="790.5" y2="451.0" stroke="#0000ff" stroke-width="1.4" stroke-opacity="0.64"/>
<line x1="200.5" y1="412.4" x2="200.5" y2="454.4" stroke="#ff0000" stroke-width="1.4" stroke-opacity="0.68"/>
<line x1="656.5" y1="413.0" x2="656.5" y2="455.3" stroke="#ff0000" stroke-width="1.4" stroke-opacity="0.68"/>
<line x1="438.5" y1="413.7" x2="438.5" y2="467.2" stroke="#0000ff" stroke-width="1.4" stroke-opacity="0.72"/>
<line x1="805.5" y1="418.0" x2="805.5" y2="468.2" stroke="#0000ff" stroke-width="1.4" stroke-opacity="0.68"/>
<line x1="239.5" y1="456.2" x2="239.5" y2="480.0" stroke="#0000ff" stroke-width="1.4" stroke-opacity="0.68"/>
<line x1="229.5" y1="501.7" x2="229.5" y2="529.0" stroke="#0000ff" stroke-width="1.4" stroke-opacity="0.72"/>
<line x1="314.5" y1="510.0" x2="314.5" y2="529.0" stroke="#0000ff" stroke-width="1.4" stroke-opacity="0.68"/>
<line x1="503.5" y1="507.6" x2="503.5" y2="530.6" stroke="#0000ff" stroke-width="1.4" stroke-opacity="0.68"/>
<line x1="516.5" y1="499.2" x2="516.5" y2="544.6" stroke="#0000ff" stroke-width="1.4" stroke-opacity="0.77"/>
</g>
<line x1="229.5" y1="36" x2="229.5" y2="626" stroke="#000" stroke-opacity="0.55" stroke-width="0.8" stroke-dasharray="1 1"/>
<line x1="346.5" y1="36" x2="346.5" y2="626" stroke="#000" stroke-opacity="0.55" stroke-width="0.8" stroke-dasharray="1 1"/>
<line x1="464.5" y1="36" x2="464.5" y2="626" stroke="#000" stroke-opacity="0.55" stroke-width="0.8" stroke-dasharray="1 1"/>
<line x1="582.5" y1="36" x2="582.5" y2="626" stroke="#000" stroke-opacity="0.55" stroke-width="0.8" stroke-dasharray="1 1"/>
<line x1="699.5" y1="36" x2="699.5" y2="626" stroke="#000" stroke-opacity="0.55" stroke-width="0.8" stroke-dasharray="1 1"/>
<rect x="111.5" y="35.5" width="706" height="591" fill="none" stroke="#000" stroke-width="1.1"/>
<line x1="106.6" y1="45.5" x2="111.5" y2="45.5" stroke="#000" stroke-width="1.1"/>
<text transform="translate(101.6 49.1) scale(0.943 1)" font-size="11.11" text-anchor="end">00:00</text>
<line x1="106.6" y1="57.5" x2="111.5" y2="57.5" stroke="#000" stroke-width="1.1"/>
<text transform="translate(101.6 61.1) scale(0.943 1)" font-size="11.11" text-anchor="end">00:30</text>
<line x1="106.6" y1="69.5" x2="111.5" y2="69.5" stroke="#000" stroke-width="1.1"/>
<text transform="translate(101.6 73.1) scale(0.943 1)" font-size="11.11" text-anchor="end">01:00</text>
<line x1="106.6" y1="81.5" x2="111.5" y2="81.5" stroke="#000" stroke-width="1.1"/>
<text transform="translate(101.6 85.1) scale(0.943 1)" font-size="11.11" text-anchor="end">01:30</text>
<line x1="106.6" y1="94.5" x2="111.5" y2="94.5" stroke="#000" stroke-width="1.1"/>
<text transform="translate(101.6 98.1) scale(0.943 1)" font-size="11.11" text-anchor="end">02:00</text>
<line x1="106.6" y1="106.5" x2="111.5" y2="106.5" stroke="#000" stroke-width="1.1"/>
<text transform="translate(101.6 110.1) scale(0.943 1)" font-size="11.11" text-anchor="end">02:30</text>
<line x1="106.6" y1="118.5" x2="111.5" y2="118.5" stroke="#000" stroke-width="1.1"/>
<text transform="translate(101.6 122.1) scale(0.943 1)" font-size="11.11" text-anchor="end">03:00</text>
<line x1="106.6" y1="130.5" x2="111.5" y2="130.5" stroke="#000" stroke-width="1.1"/>
<text transform="translate(101.6 134.1) scale(0.943 1)" font-size="11.11" text-anchor="end">03:30</text>
<line x1="106.6" y1="142.5" x2="111.5" y2="142.5" stroke="#000" stroke-width="1.1"/>
<text transform="translate(101.6 146.1) scale(0.943 1)" font-size="11.11" text-anchor="end">04:00</text>
<line x1="106.6" y1="154.5" x2="111.5" y2="154.5" stroke="#000" stroke-width="1.1"/>
<text transform="translate(101.6 158.1) scale(0.943 1)" font-size="11.11" text-anchor="end">04:30</text>
<line x1="106.6" y1="167.5" x2="111.5" y2="167.5" stroke="#000" stroke-width="1.1"/>
<text transform="translate(101.6 171.1) scale(0.943 1)" font-size="11.11" text-anchor="end">05:00</text>
<line x1="106.6" y1="179.5" x2="111.5" y2="179.5" stroke="#000" stroke-width="1.1"/>
<text transform="translate(101.6 183.1) scale(0.943 1)" font-size="11.11" text-anchor="end">05:30</text>
<line x1="106.6" y1="191.5" x2="111.5" y2="191.5" stroke="#000" stroke-width="1.1"/>
<text transform="translate(101.6 195.1) scale(0.943 1)" font-size="11.11" text-anchor="end">06:00</text>
<line x1="106.6" y1="203.5" x2="111.5" y2="203.5" stroke="#000" stroke-width="1.1"/>
<text transform="translate(101.6 207.1) scale(0.943 1)" font-size="11.11" text-anchor="end">06:30</text>
<line x1="106.6" y1="215.5" x2="111.5" y2="215.5" stroke="#000" stroke-width="1.1"/>
<text transform="translate(101.6 219.1) scale(0.943 1)" font-size="11.11" text-anchor="end">07:00</text>
<line x1="106.6" y1="227.5" x2="111.5" y2="227.5" stroke="#000" stroke-width="1.1"/>
<text transform="translate(101.6 231.1) scale(0.943 1)" font-size="11.11" text-anchor="end">07:30</text>
<line x1="106.6" y1="240.5" x2="111.5" y2="240.5" stroke="#000" stroke-width="1.1"/>
<text transform="translate(101.6 244.1) scale(0.943 1)" font-size="11.11" text-anchor="end">08:00</text>
<line x1="106.6" y1="252.5" x2="111.5" y2="252.5" stroke="#000" stroke-width="1.1"/>
<text transform="translate(101.6 256.1) scale(0.943 1)" font-size="11.11" text-anchor="end">08:30</text>
<line x1="106.6" y1="264.5" x2="111.5" y2="264.5" stroke="#000" stroke-width="1.1"/>
<text transform="translate(101.6 268.1) scale(0.943 1)" font-size="11.11" text-anchor="end">09:00</text>
<line x1="106.6" y1="276.5" x2="111.5" y2="276.5" stroke="#000" stroke-width="1.1"/>
<text transform="translate(101.6 280.1) scale(0.943 1)" font-size="11.11" text-anchor="end">09:30</text>
<line x1="106.6" y1="288.5" x2="111.5" y2="288.5" stroke="#000" stroke-width="1.1"/>
<text transform="translate(101.6 292.1) scale(0.943 1)" font-size="11.11" text-anchor="end">10:00</text>
<line x1="106.6" y1="300.5" x2="111.5" y2="300.5" stroke="#000" stroke-width="1.1"/>
<text transform="translate(101.6 304.1) scale(0.943 1)" font-size="11.11" text-anchor="end">10:30</text>
<line x1="106.6" y1="312.5" x2="111.5" y2="312.5" stroke="#000" stroke-width="1.1"/>
<text transform="translate(101.6 316.1) scale(0.943 1)" font-size="11.11" text-anchor="end">11:00</text>
<line x1="106.6" y1="325.5" x2="111.5" y2="325.5" stroke="#000" stroke-width="1.1"/>
<text transform="translate(101.6 329.1) scale(0.943 1)" font-size="11.11" text-anchor="end">11:30</text>
<line x1="106.6" y1="337.5" x2="111.5" y2="337.5" stroke="#000" stroke-width="1.1"/>
<text transform="translate(101.6 341.1) scale(0.943 1)" font-size="11.11" text-anchor="end">12:00</text>
<line x1="106.6" y1="349.5" x2="111.5" y2="349.5" stroke="#000" stroke-width="1.1"/>
<text transform="translate(101.6 353.1) scale(0.943 1)" font-size="11.11" text-anchor="end">12:30</text>
<line x1="106.6" y1="361.5" x2="111.5" y2="361.5" stroke="#000" stroke-width="1.1"/>
<text transform="translate(101.6 365.1) scale(0.943 1)" font-size="11.11" text-anchor="end">13:00</text>
<line x1="106.6" y1="373.5" x2="111.5" y2="373.5" stroke="#000" stroke-width="1.1"/>
<text transform="translate(101.6 377.1) scale(0.943 1)" font-size="11.11" text-anchor="end">13:30</text>
<line x1="106.6" y1="385.5" x2="111.5" y2="385.5" stroke="#000" stroke-width="1.1"/>
<text transform="translate(101.6 389.1) scale(0.943 1)" font-size="11.11" text-anchor="end">14:00</text>
<line x1="106.6" y1="398.5" x2="111.5" y2="398.5" stroke="#000" stroke-width="1.1"/>
<text transform="translate(101.6 402.1) scale(0.943 1)" font-size="11.11" text-anchor="end">14:30</text>
<line x1="106.6" y1="410.5" x2="111.5" y2="410.5" stroke="#000" stroke-width="1.1"/>
<text transform="translate(101.6 414.1) scale(0.943 1)" font-size="11.11" text-anchor="end">15:00</text>
<line x1="106.6" y1="422.5" x2="111.5" y2="422.5" stroke="#000" stroke-width="1.1"/>
<text transform="translate(101.6 426.1) scale(0.943 1)" font-size="11.11" text-anchor="end">15:30</text>
<line x1="106.6" y1="434.5" x2="111.5" y2="434.5" stroke="#000" stroke-width="1.1"/>
<text transform="translate(101.6 438.1) scale(0.943 1)" font-size="11.11" text-anchor="end">16:00</text>
<line x1="106.6" y1="446.5" x2="111.5" y2="446.5" stroke="#000" stroke-width="1.1"/>
<text transform="translate(101.6 450.1) scale(0.943 1)" font-size="11.11" text-anchor="end">16:30</text>
<line x1="106.6" y1="458.5" x2="111.5" y2="458.5" stroke="#000" stroke-width="1.1"/>
<text transform="translate(101.6 462.1) scale(0.943 1)" font-size="11.11" text-anchor="end">17:00</text>
<line x1="106.6" y1="471.5" x2="111.5" y2="471.5" stroke="#000" stroke-width="1.1"/>
<text transform="translate(101.6 475.1) scale(0.943 1)" font-size="11.11" text-anchor="end">17:30</text>
<line x1="106.6" y1="483.5" x2="111.5" y2="483.5" stroke="#000" stroke-width="1.1"/>
<text transform="translate(101.6 487.1) scale(0.943 1)" font-size="11.11" text-anchor="end">18:00</text>
<line x1="106.6" y1="495.5" x2="111.5" y2="495.5" stroke="#000" stroke-width="1.1"/>
<text transform="translate(101.6 499.1) scale(0.943 1)" font-size="11.11" text-anchor="end">18:30</text>
<line x1="106.6" y1="507.5" x2="111.5" y2="507.5" stroke="#000" stroke-width="1.1"/>
<text transform="translate(101.6 511.1) scale(0.943 1)" font-size="11.11" text-anchor="end">19:00</text>
<line x1="106.6" y1="519.5" x2="111.5" y2="519.5" stroke="#000" stroke-width="1.1"/>
<text transform="translate(101.6 523.1) scale(0.943 1)" font-size="11.11" text-anchor="end">19:30</text>
<line x1="106.6" y1="531.5" x2="111.5" y2="531.5" stroke="#000" stroke-width="1.1"/>
<text transform="translate(101.6 535.1) scale(0.943 1)" font-size="11.11" text-anchor="end">20:00</text>
<line x1="106.6" y1="544.5" x2="111.5" y2="544.5" stroke="#000" stroke-width="1.1"/>
<text transform="translate(101.6 548.1) scale(0.943 1)" font-size="11.11" text-anchor="end">20:30</text>
<line x1="106.6" y1="556.5" x2="111.5" y2="556.5" stroke="#000" stroke-width="1.1"/>
<text transform="translate(101.6 560.1) scale(0.943 1)" font-size="11.11" text-anchor="end">21:00</text>
<line x1="106.6" y1="568.5" x2="111.5" y2="568.5" stroke="#000" stroke-width="1.1"/>
<text transform="translate(101.6 572.1) scale(0.943 1)" font-size="11.11" text-anchor="end">21:30</text>
<line x1="106.6" y1="580.5" x2="111.5" y2="580.5" stroke="#000" stroke-width="1.1"/>
<text transform="translate(101.6 584.1) scale(0.943 1)" font-size="11.11" text-anchor="end">22:00</text>
<line x1="106.6" y1="592.5" x2="111.5" y2="592.5" stroke="#000" stroke-width="1.1"/>
<text transform="translate(101.6 596.1) scale(0.943 1)" font-size="11.11" text-anchor="end">22:30</text>
<line x1="106.6" y1="604.5" x2="111.5" y2="604.5" stroke="#000" stroke-width="1.1"/>
<text transform="translate(101.6 608.1) scale(0.943 1)" font-size="11.11" text-anchor="end">23:00</text>
<line x1="106.6" y1="617.5" x2="111.5" y2="617.5" stroke="#000" stroke-width="1.1"/>
<text transform="translate(101.6 621.1) scale(0.943 1)" font-size="11.11" text-anchor="end">23:30</text>
<line x1="111.5" y1="626.5" x2="111.5" y2="631.4" stroke="#000" stroke-width="1.1"/>
<text transform="translate(112.5 643.8) scale(1.0 1)" font-size="11.11" text-anchor="middle">0</text>
<line x1="229.5" y1="626.5" x2="229.5" y2="631.4" stroke="#000" stroke-width="1.1"/>
<text transform="translate(229.5 643.8) scale(1.0 1)" font-size="11.11" text-anchor="middle">5</text>
<line x1="346.5" y1="626.5" x2="346.5" y2="631.4" stroke="#000" stroke-width="1.1"/>
<text transform="translate(346.2 643.8) scale(0.92 1)" font-size="11.11" text-anchor="middle">10</text>
<line x1="464.5" y1="626.5" x2="464.5" y2="631.4" stroke="#000" stroke-width="1.1"/>
<text transform="translate(463.0 643.8) scale(0.92 1)" font-size="11.11" text-anchor="middle">15</text>
<line x1="582.5" y1="626.5" x2="582.5" y2="631.4" stroke="#000" stroke-width="1.1"/>
<text transform="translate(581.9 643.8) scale(0.92 1)" font-size="11.11" text-anchor="middle">20</text>
<line x1="699.5" y1="626.5" x2="699.5" y2="631.4" stroke="#000" stroke-width="1.1"/>
<text transform="translate(699.5 643.8) scale(0.92 1)" font-size="11.11" text-anchor="middle">25</text>
<line x1="817.5" y1="626.5" x2="817.5" y2="631.4" stroke="#000" stroke-width="1.1"/>
<text transform="translate(816.5 643.8) scale(0.92 1)" font-size="11.11" text-anchor="middle">30</text>
<text x="463.7" y="659.7" font-size="11.11" text-anchor="middle">time in minutes</text>
<text x="105.2" y="25" font-size="13.89">13-12-2025</text>
<text x="823.6" y="25" font-size="13.89" text-anchor="end" letter-spacing="0.01">CA.CGRN..HNZ - High pass filtered @2Hz - Amplification: 1/1000</text>
<text transform="translate(60.8 331.4) rotate(-90)" font-size="13.89" text-anchor="middle">UTC (local time = UTC + 01:00)</text>
<text x="729.3" y="662.7" font-size="14.3" font-weight="bold" style="font-family:'Liberation Sans',Arial,sans-serif">©ICGC 2025</text>
</svg></body></html>
